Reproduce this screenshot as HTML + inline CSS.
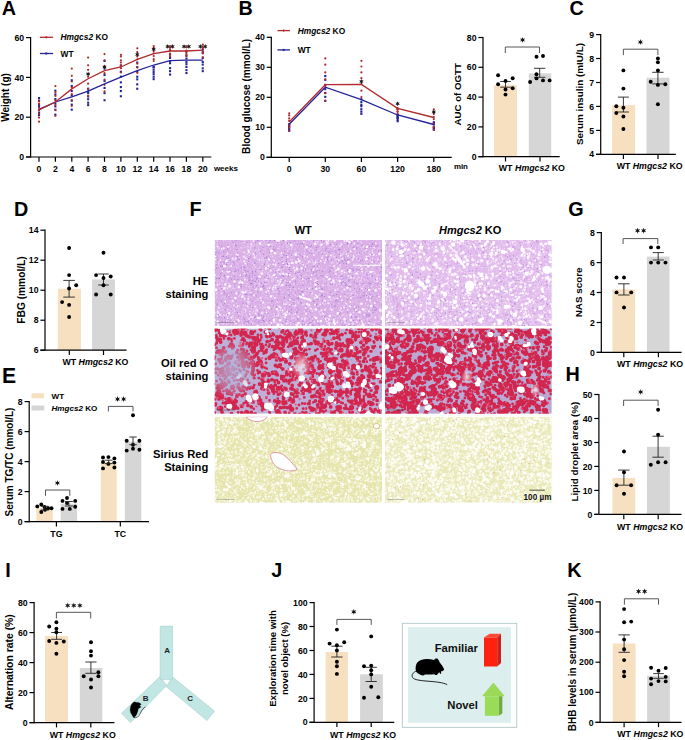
<!DOCTYPE html>
<html><head><meta charset="utf-8"><style>
html,body{margin:0;padding:0;background:#fff;width:685px;height:740px;overflow:hidden}
svg{display:block}
text{font-family:'Liberation Sans',sans-serif}
</style></head><body>
<svg width="685" height="740" viewBox="0 0 685 740">
<rect width="685" height="740" fill="#fff"/>
<text x="1.8" y="15.2" font-size="19.8" text-anchor="start" font-weight="bold" fill="#000" style="" >A</text>
<line x1="30.6" y1="37" x2="30.6" y2="157.6" stroke="#000" stroke-width="1.2"/>
<line x1="26" y1="37.6" x2="30.6" y2="37.6" stroke="#000" stroke-width="1.2"/>
<text x="24.1" y="40.7" font-size="8.7" text-anchor="end" font-weight="bold" fill="#000" style="" >60</text>
<line x1="26" y1="77.4" x2="30.6" y2="77.4" stroke="#000" stroke-width="1.2"/>
<text x="24.1" y="80.5" font-size="8.7" text-anchor="end" font-weight="bold" fill="#000" style="" >40</text>
<line x1="26" y1="117.2" x2="30.6" y2="117.2" stroke="#000" stroke-width="1.2"/>
<text x="24.1" y="120.3" font-size="8.7" text-anchor="end" font-weight="bold" fill="#000" style="" >20</text>
<line x1="26" y1="157" x2="30.6" y2="157" stroke="#000" stroke-width="1.2"/>
<text x="24.1" y="160.1" font-size="8.7" text-anchor="end" font-weight="bold" fill="#000" style="" >0</text>
<line x1="26" y1="157" x2="211.3" y2="157" stroke="#000" stroke-width="1.2"/>
<line x1="39" y1="157" x2="39" y2="161.8" stroke="#000" stroke-width="1.2"/>
<line x1="55.4" y1="157" x2="55.4" y2="161.8" stroke="#000" stroke-width="1.2"/>
<line x1="71.8" y1="157" x2="71.8" y2="161.8" stroke="#000" stroke-width="1.2"/>
<line x1="88.1" y1="157" x2="88.1" y2="161.8" stroke="#000" stroke-width="1.2"/>
<line x1="104.5" y1="157" x2="104.5" y2="161.8" stroke="#000" stroke-width="1.2"/>
<line x1="120.9" y1="157" x2="120.9" y2="161.8" stroke="#000" stroke-width="1.2"/>
<line x1="137.3" y1="157" x2="137.3" y2="161.8" stroke="#000" stroke-width="1.2"/>
<line x1="153.7" y1="157" x2="153.7" y2="161.8" stroke="#000" stroke-width="1.2"/>
<line x1="170" y1="157" x2="170" y2="161.8" stroke="#000" stroke-width="1.2"/>
<line x1="186.4" y1="157" x2="186.4" y2="161.8" stroke="#000" stroke-width="1.2"/>
<line x1="202.8" y1="157" x2="202.8" y2="161.8" stroke="#000" stroke-width="1.2"/>
<text x="39" y="172.2" font-size="8.7" text-anchor="middle" font-weight="bold" fill="#000" style="" >0</text>
<text x="55.4" y="172.2" font-size="8.7" text-anchor="middle" font-weight="bold" fill="#000" style="" >2</text>
<text x="71.8" y="172.2" font-size="8.7" text-anchor="middle" font-weight="bold" fill="#000" style="" >4</text>
<text x="88.1" y="172.2" font-size="8.7" text-anchor="middle" font-weight="bold" fill="#000" style="" >6</text>
<text x="104.5" y="172.2" font-size="8.7" text-anchor="middle" font-weight="bold" fill="#000" style="" >8</text>
<text x="120.9" y="172.2" font-size="8.7" text-anchor="middle" font-weight="bold" fill="#000" style="" >10</text>
<text x="137.3" y="172.2" font-size="8.7" text-anchor="middle" font-weight="bold" fill="#000" style="" >12</text>
<text x="153.7" y="172.2" font-size="8.7" text-anchor="middle" font-weight="bold" fill="#000" style="" >14</text>
<text x="170" y="172.2" font-size="8.7" text-anchor="middle" font-weight="bold" fill="#000" style="" >16</text>
<text x="186.4" y="172.2" font-size="8.7" text-anchor="middle" font-weight="bold" fill="#000" style="" >18</text>
<text x="202.8" y="172.2" font-size="8.7" text-anchor="middle" font-weight="bold" fill="#000" style="" >20</text>
<text x="213.9" y="170.8" font-size="8" text-anchor="start" font-weight="bold" fill="#000" style="" >weeks</text>
<text transform="translate(9.3,97.5) rotate(-90)" font-size="10" text-anchor="middle" font-weight="bold">Weight (g)</text>
<rect x="38" y="97" width="2.1" height="2.1" fill="#23239a"/>
<rect x="38" y="99.6" width="2.1" height="2.1" fill="#23239a"/>
<rect x="38" y="103.5" width="2.1" height="2.1" fill="#23239a"/>
<rect x="38" y="105.2" width="2.1" height="2.1" fill="#23239a"/>
<rect x="38" y="109.1" width="2.1" height="2.1" fill="#23239a"/>
<rect x="38" y="111.7" width="2.1" height="2.1" fill="#23239a"/>
<rect x="38" y="114" width="2.1" height="2.1" fill="#23239a"/>
<circle cx="39" cy="101.3" r="1.1" fill="#b02a2e"/>
<circle cx="39" cy="103.7" r="1.1" fill="#b02a2e"/>
<circle cx="39" cy="107.7" r="1.1" fill="#b02a2e"/>
<circle cx="39" cy="110.3" r="1.1" fill="#b02a2e"/>
<circle cx="39" cy="113.6" r="1.1" fill="#b02a2e"/>
<circle cx="39" cy="117.6" r="1.1" fill="#b02a2e"/>
<circle cx="39" cy="121.7" r="1.1" fill="#b02a2e"/>
<rect x="54.3" y="89.6" width="2.1" height="2.1" fill="#23239a"/>
<rect x="54.3" y="93.5" width="2.1" height="2.1" fill="#23239a"/>
<rect x="54.3" y="98" width="2.1" height="2.1" fill="#23239a"/>
<rect x="54.3" y="102.4" width="2.1" height="2.1" fill="#23239a"/>
<rect x="54.3" y="105.4" width="2.1" height="2.1" fill="#23239a"/>
<rect x="54.3" y="108.7" width="2.1" height="2.1" fill="#23239a"/>
<rect x="54.3" y="113.6" width="2.1" height="2.1" fill="#23239a"/>
<circle cx="55.4" cy="86.1" r="1.1" fill="#b02a2e"/>
<circle cx="55.4" cy="92.4" r="1.1" fill="#b02a2e"/>
<circle cx="55.4" cy="96" r="1.1" fill="#b02a2e"/>
<circle cx="55.4" cy="100.4" r="1.1" fill="#b02a2e"/>
<circle cx="55.4" cy="105" r="1.1" fill="#b02a2e"/>
<circle cx="55.4" cy="110.1" r="1.1" fill="#b02a2e"/>
<circle cx="55.4" cy="115.8" r="1.1" fill="#b02a2e"/>
<rect x="70.7" y="79.2" width="2.1" height="2.1" fill="#23239a"/>
<rect x="70.7" y="84.9" width="2.1" height="2.1" fill="#23239a"/>
<rect x="70.7" y="90" width="2.1" height="2.1" fill="#23239a"/>
<rect x="70.7" y="94.4" width="2.1" height="2.1" fill="#23239a"/>
<rect x="70.7" y="99.7" width="2.1" height="2.1" fill="#23239a"/>
<rect x="70.7" y="103.6" width="2.1" height="2.1" fill="#23239a"/>
<rect x="70.7" y="108.6" width="2.1" height="2.1" fill="#23239a"/>
<circle cx="71.8" cy="68.6" r="1.1" fill="#b02a2e"/>
<circle cx="71.8" cy="75.8" r="1.1" fill="#b02a2e"/>
<circle cx="71.8" cy="81.5" r="1.1" fill="#b02a2e"/>
<circle cx="71.8" cy="87.4" r="1.1" fill="#b02a2e"/>
<circle cx="71.8" cy="94.2" r="1.1" fill="#b02a2e"/>
<circle cx="71.8" cy="100.1" r="1.1" fill="#b02a2e"/>
<circle cx="71.8" cy="106" r="1.1" fill="#b02a2e"/>
<rect x="87.1" y="87.7" width="2.1" height="2.1" fill="#23239a"/>
<rect x="87.1" y="90.3" width="2.1" height="2.1" fill="#23239a"/>
<rect x="87.1" y="92.1" width="2.1" height="2.1" fill="#23239a"/>
<rect x="87.1" y="95.5" width="2.1" height="2.1" fill="#23239a"/>
<rect x="87.1" y="98.2" width="2.1" height="2.1" fill="#23239a"/>
<rect x="87.1" y="101.7" width="2.1" height="2.1" fill="#23239a"/>
<rect x="87.1" y="104.1" width="2.1" height="2.1" fill="#23239a"/>
<circle cx="88.1" cy="57.6" r="1.1" fill="#b02a2e"/>
<circle cx="88.1" cy="65.3" r="1.1" fill="#b02a2e"/>
<circle cx="88.1" cy="69.8" r="1.1" fill="#b02a2e"/>
<circle cx="88.1" cy="76.7" r="1.1" fill="#b02a2e"/>
<circle cx="88.1" cy="83.7" r="1.1" fill="#b02a2e"/>
<circle cx="88.1" cy="88.8" r="1.1" fill="#b02a2e"/>
<circle cx="88.1" cy="95.8" r="1.1" fill="#b02a2e"/>
<rect x="103.5" y="59.9" width="2.1" height="2.1" fill="#23239a"/>
<rect x="103.5" y="67.5" width="2.1" height="2.1" fill="#23239a"/>
<rect x="103.5" y="74" width="2.1" height="2.1" fill="#23239a"/>
<rect x="103.5" y="80" width="2.1" height="2.1" fill="#23239a"/>
<rect x="103.5" y="86.9" width="2.1" height="2.1" fill="#23239a"/>
<rect x="103.5" y="92.1" width="2.1" height="2.1" fill="#23239a"/>
<rect x="103.5" y="99.2" width="2.1" height="2.1" fill="#23239a"/>
<circle cx="104.5" cy="54.1" r="1.1" fill="#b02a2e"/>
<circle cx="104.5" cy="60.3" r="1.1" fill="#b02a2e"/>
<circle cx="104.5" cy="66.2" r="1.1" fill="#b02a2e"/>
<circle cx="104.5" cy="73.2" r="1.1" fill="#b02a2e"/>
<circle cx="104.5" cy="79.6" r="1.1" fill="#b02a2e"/>
<circle cx="104.5" cy="84.8" r="1.1" fill="#b02a2e"/>
<circle cx="104.5" cy="91.4" r="1.1" fill="#b02a2e"/>
<rect x="119.8" y="64.4" width="2.1" height="2.1" fill="#23239a"/>
<rect x="119.8" y="70.7" width="2.1" height="2.1" fill="#23239a"/>
<rect x="119.8" y="75.6" width="2.1" height="2.1" fill="#23239a"/>
<rect x="119.8" y="81.3" width="2.1" height="2.1" fill="#23239a"/>
<rect x="119.8" y="86" width="2.1" height="2.1" fill="#23239a"/>
<rect x="119.8" y="90" width="2.1" height="2.1" fill="#23239a"/>
<rect x="119.8" y="95.2" width="2.1" height="2.1" fill="#23239a"/>
<circle cx="120.9" cy="54.8" r="1.1" fill="#b02a2e"/>
<circle cx="120.9" cy="56.5" r="1.1" fill="#b02a2e"/>
<circle cx="120.9" cy="60.3" r="1.1" fill="#b02a2e"/>
<circle cx="120.9" cy="62.6" r="1.1" fill="#b02a2e"/>
<circle cx="120.9" cy="65.4" r="1.1" fill="#b02a2e"/>
<circle cx="120.9" cy="68.2" r="1.1" fill="#b02a2e"/>
<circle cx="120.9" cy="72.5" r="1.1" fill="#b02a2e"/>
<rect x="136.2" y="61.5" width="2.1" height="2.1" fill="#23239a"/>
<rect x="136.2" y="66" width="2.1" height="2.1" fill="#23239a"/>
<rect x="136.2" y="70.5" width="2.1" height="2.1" fill="#23239a"/>
<rect x="136.2" y="75.7" width="2.1" height="2.1" fill="#23239a"/>
<rect x="136.2" y="78.3" width="2.1" height="2.1" fill="#23239a"/>
<rect x="136.2" y="83.3" width="2.1" height="2.1" fill="#23239a"/>
<rect x="136.2" y="87.7" width="2.1" height="2.1" fill="#23239a"/>
<circle cx="137.3" cy="48.3" r="1.1" fill="#b02a2e"/>
<circle cx="137.3" cy="52.2" r="1.1" fill="#b02a2e"/>
<circle cx="137.3" cy="56.4" r="1.1" fill="#b02a2e"/>
<circle cx="137.3" cy="59.3" r="1.1" fill="#b02a2e"/>
<circle cx="137.3" cy="63.7" r="1.1" fill="#b02a2e"/>
<circle cx="137.3" cy="67.6" r="1.1" fill="#b02a2e"/>
<circle cx="137.3" cy="72.8" r="1.1" fill="#b02a2e"/>
<rect x="152.6" y="65.8" width="2.1" height="2.1" fill="#23239a"/>
<rect x="152.6" y="66.3" width="2.1" height="2.1" fill="#23239a"/>
<rect x="152.6" y="68.6" width="2.1" height="2.1" fill="#23239a"/>
<rect x="152.6" y="70.9" width="2.1" height="2.1" fill="#23239a"/>
<rect x="152.6" y="73.1" width="2.1" height="2.1" fill="#23239a"/>
<rect x="152.6" y="75.7" width="2.1" height="2.1" fill="#23239a"/>
<rect x="152.6" y="78.1" width="2.1" height="2.1" fill="#23239a"/>
<circle cx="153.7" cy="46.1" r="1.1" fill="#b02a2e"/>
<circle cx="153.7" cy="47.9" r="1.1" fill="#b02a2e"/>
<circle cx="153.7" cy="51.1" r="1.1" fill="#b02a2e"/>
<circle cx="153.7" cy="53.3" r="1.1" fill="#b02a2e"/>
<circle cx="153.7" cy="56.1" r="1.1" fill="#b02a2e"/>
<circle cx="153.7" cy="59.2" r="1.1" fill="#b02a2e"/>
<circle cx="153.7" cy="61" r="1.1" fill="#b02a2e"/>
<rect x="169" y="53.5" width="2.1" height="2.1" fill="#23239a"/>
<rect x="169" y="56.9" width="2.1" height="2.1" fill="#23239a"/>
<rect x="169" y="60.2" width="2.1" height="2.1" fill="#23239a"/>
<rect x="169" y="62.2" width="2.1" height="2.1" fill="#23239a"/>
<rect x="169" y="67.1" width="2.1" height="2.1" fill="#23239a"/>
<rect x="169" y="70.1" width="2.1" height="2.1" fill="#23239a"/>
<rect x="169" y="73.5" width="2.1" height="2.1" fill="#23239a"/>
<circle cx="170" cy="46.4" r="1.1" fill="#b02a2e"/>
<circle cx="170" cy="47.5" r="1.1" fill="#b02a2e"/>
<circle cx="170" cy="49.4" r="1.1" fill="#b02a2e"/>
<circle cx="170" cy="50.7" r="1.1" fill="#b02a2e"/>
<circle cx="170" cy="53.6" r="1.1" fill="#b02a2e"/>
<circle cx="170" cy="54.3" r="1.1" fill="#b02a2e"/>
<circle cx="170" cy="56.2" r="1.1" fill="#b02a2e"/>
<rect x="185.4" y="54.7" width="2.1" height="2.1" fill="#23239a"/>
<rect x="185.4" y="57.5" width="2.1" height="2.1" fill="#23239a"/>
<rect x="185.4" y="60.8" width="2.1" height="2.1" fill="#23239a"/>
<rect x="185.4" y="63.1" width="2.1" height="2.1" fill="#23239a"/>
<rect x="185.4" y="65.9" width="2.1" height="2.1" fill="#23239a"/>
<rect x="185.4" y="69.1" width="2.1" height="2.1" fill="#23239a"/>
<rect x="185.4" y="72" width="2.1" height="2.1" fill="#23239a"/>
<circle cx="186.4" cy="46.3" r="1.1" fill="#b02a2e"/>
<circle cx="186.4" cy="47.3" r="1.1" fill="#b02a2e"/>
<circle cx="186.4" cy="50.6" r="1.1" fill="#b02a2e"/>
<circle cx="186.4" cy="51.7" r="1.1" fill="#b02a2e"/>
<circle cx="186.4" cy="52.4" r="1.1" fill="#b02a2e"/>
<circle cx="186.4" cy="54.2" r="1.1" fill="#b02a2e"/>
<circle cx="186.4" cy="56" r="1.1" fill="#b02a2e"/>
<rect x="201.7" y="48.7" width="2.1" height="2.1" fill="#23239a"/>
<rect x="201.7" y="51.9" width="2.1" height="2.1" fill="#23239a"/>
<rect x="201.7" y="57" width="2.1" height="2.1" fill="#23239a"/>
<rect x="201.7" y="60.9" width="2.1" height="2.1" fill="#23239a"/>
<rect x="201.7" y="63.5" width="2.1" height="2.1" fill="#23239a"/>
<rect x="201.7" y="67.3" width="2.1" height="2.1" fill="#23239a"/>
<rect x="201.7" y="70.1" width="2.1" height="2.1" fill="#23239a"/>
<circle cx="202.8" cy="44.6" r="1.1" fill="#b02a2e"/>
<circle cx="202.8" cy="46.9" r="1.1" fill="#b02a2e"/>
<circle cx="202.8" cy="48.6" r="1.1" fill="#b02a2e"/>
<circle cx="202.8" cy="51.5" r="1.1" fill="#b02a2e"/>
<circle cx="202.8" cy="52" r="1.1" fill="#b02a2e"/>
<circle cx="202.8" cy="53.5" r="1.1" fill="#b02a2e"/>
<circle cx="202.8" cy="57.2" r="1.1" fill="#b02a2e"/>
<polyline points="39,109.3 55.4,102 71.8,96.9 88.1,91.1 104.5,83.8 120.9,77.2 137.3,70.6 153.7,65 170,60.6 186.4,60.1 202.8,60.1" fill="none" stroke="#23239a" stroke-width="1.3"/>
<polyline points="39,109.8 55.4,102 71.8,88.9 88.1,78.7 104.5,70.7 120.9,67 137.3,59.4 153.7,53.6 170,51 186.4,51 202.8,50.1" fill="none" stroke="#b02a2e" stroke-width="1.3"/>
<path d="M88.1 71.4L87.6 72.9L85.9 72.6L87 73.9L85.9 75.2L87.6 74.9L88.1 76.4L88.7 74.9L90.3 75.2L89.3 73.9L90.3 72.6L88.7 72.9Z" fill="#151515"/>
<path d="M104.5 64.5L104 66L102.3 65.7L103.4 67L102.3 68.3L104 68L104.5 69.5L105.1 68L106.7 68.3L105.6 67L106.7 65.7L105.1 66Z" fill="#151515"/>
<path d="M137.3 52L136.7 53.5L135.1 53.2L136.2 54.5L135.1 55.8L136.7 55.5L137.3 57L137.8 55.5L139.5 55.8L138.4 54.5L139.5 53.2L137.8 53.5Z" fill="#151515"/>
<path d="M153.7 46.8L153.1 48.3L151.5 48L152.5 49.3L151.5 50.6L153.1 50.3L153.7 51.8L154.2 50.3L155.9 50.6L154.8 49.3L155.9 48L154.2 48.3Z" fill="#151515"/>
<path d="M167.6 44.1L167.1 45.6L165.4 45.3L166.5 46.6L165.4 47.9L167.1 47.6L167.6 49.1L168.2 47.6L169.8 47.9L168.7 46.6L169.8 45.3L168.2 45.6ZM172.4 44.1L171.9 45.6L170.2 45.3L171.3 46.6L170.2 47.9L171.9 47.6L172.4 49.1L173 47.6L174.7 47.9L173.6 46.6L174.7 45.3L173 45.6Z" fill="#151515"/>
<path d="M184 44.1L183.5 45.6L181.8 45.3L182.9 46.6L181.8 47.9L183.5 47.6L184 49.1L184.6 47.6L186.2 47.9L185.1 46.6L186.2 45.3L184.6 45.6ZM188.8 44.1L188.3 45.6L186.6 45.3L187.7 46.6L186.6 47.9L188.3 47.6L188.8 49.1L189.4 47.6L191 47.9L189.9 46.6L191 45.3L189.4 45.6Z" fill="#151515"/>
<path d="M200.4 44.1L199.8 45.6L198.2 45.3L199.3 46.6L198.2 47.9L199.8 47.6L200.4 49.1L200.9 47.6L202.6 47.9L201.5 46.6L202.6 45.3L200.9 45.6ZM205.2 44.1L204.7 45.6L203 45.3L204.1 46.6L203 47.9L204.7 47.6L205.2 49.1L205.8 47.6L207.4 47.9L206.3 46.6L207.4 45.3L205.8 45.6Z" fill="#151515"/>
<line x1="39.9" y1="37.3" x2="53.1" y2="37.3" stroke="#b02a2e" stroke-width="1.3"/>
<circle cx="46.3" cy="37.3" r="1.1" fill="#b02a2e"/>
<line x1="39.9" y1="53.5" x2="53.1" y2="53.5" stroke="#23239a" stroke-width="1.3"/>
<rect x="45.3" y="52.5" width="2" height="2" fill="#23239a"/>
<text x="60.5" y="40.3" font-size="8.4" font-weight="bold"><tspan font-style="italic">Hmgcs2</tspan> KO</text>
<text x="60.5" y="56.5" font-size="8.4" text-anchor="start" font-weight="bold" fill="#000" style="" >WT</text>
<text x="238.5" y="15" font-size="19.8" text-anchor="start" font-weight="bold" fill="#000" style="" >B</text>
<line x1="271.3" y1="36.7" x2="271.3" y2="157.9" stroke="#000" stroke-width="1.2"/>
<line x1="266.7" y1="37.3" x2="271.3" y2="37.3" stroke="#000" stroke-width="1.2"/>
<text x="264.8" y="40.4" font-size="8.7" text-anchor="end" font-weight="bold" fill="#000" style="" >40</text>
<line x1="266.7" y1="67.3" x2="271.3" y2="67.3" stroke="#000" stroke-width="1.2"/>
<text x="264.8" y="70.4" font-size="8.7" text-anchor="end" font-weight="bold" fill="#000" style="" >30</text>
<line x1="266.7" y1="97.3" x2="271.3" y2="97.3" stroke="#000" stroke-width="1.2"/>
<text x="264.8" y="100.4" font-size="8.7" text-anchor="end" font-weight="bold" fill="#000" style="" >20</text>
<line x1="266.7" y1="127.3" x2="271.3" y2="127.3" stroke="#000" stroke-width="1.2"/>
<text x="264.8" y="130.4" font-size="8.7" text-anchor="end" font-weight="bold" fill="#000" style="" >10</text>
<line x1="266.7" y1="157.3" x2="271.3" y2="157.3" stroke="#000" stroke-width="1.2"/>
<text x="264.8" y="160.4" font-size="8.7" text-anchor="end" font-weight="bold" fill="#000" style="" >0</text>
<line x1="266.5" y1="157.3" x2="451.7" y2="157.3" stroke="#000" stroke-width="1.2"/>
<line x1="289.2" y1="157.3" x2="289.2" y2="162.1" stroke="#000" stroke-width="1.2"/>
<line x1="325.3" y1="157.3" x2="325.3" y2="162.1" stroke="#000" stroke-width="1.2"/>
<line x1="361.4" y1="157.3" x2="361.4" y2="162.1" stroke="#000" stroke-width="1.2"/>
<line x1="397.6" y1="157.3" x2="397.6" y2="162.1" stroke="#000" stroke-width="1.2"/>
<line x1="433.8" y1="157.3" x2="433.8" y2="162.1" stroke="#000" stroke-width="1.2"/>
<text x="289.2" y="172.2" font-size="8.7" text-anchor="middle" font-weight="bold" fill="#000" style="" >0</text>
<text x="325.3" y="172.2" font-size="8.7" text-anchor="middle" font-weight="bold" fill="#000" style="" >30</text>
<text x="361.4" y="172.2" font-size="8.7" text-anchor="middle" font-weight="bold" fill="#000" style="" >60</text>
<text x="397.6" y="172.2" font-size="8.7" text-anchor="middle" font-weight="bold" fill="#000" style="" >120</text>
<text x="433.8" y="172.2" font-size="8.7" text-anchor="middle" font-weight="bold" fill="#000" style="" >180</text>
<text x="453.9" y="169" font-size="7.9" text-anchor="start" font-weight="bold" fill="#000" style="" >min</text>
<text transform="translate(249.5,96.4) rotate(-90)" font-size="10.1" text-anchor="middle" font-weight="bold">Blood glucose (mmol/L)</text>
<rect x="288.1" y="123.2" width="2.1" height="2.1" fill="#23239a"/>
<rect x="288.1" y="123.6" width="2.1" height="2.1" fill="#23239a"/>
<rect x="288.1" y="125.3" width="2.1" height="2.1" fill="#23239a"/>
<rect x="288.1" y="125.4" width="2.1" height="2.1" fill="#23239a"/>
<rect x="288.1" y="127.3" width="2.1" height="2.1" fill="#23239a"/>
<rect x="288.1" y="129" width="2.1" height="2.1" fill="#23239a"/>
<rect x="288.1" y="129.8" width="2.1" height="2.1" fill="#23239a"/>
<circle cx="289.2" cy="113.3" r="1.1" fill="#b02a2e"/>
<circle cx="289.2" cy="115.4" r="1.1" fill="#b02a2e"/>
<circle cx="289.2" cy="118.4" r="1.1" fill="#b02a2e"/>
<circle cx="289.2" cy="120.9" r="1.1" fill="#b02a2e"/>
<circle cx="289.2" cy="124.7" r="1.1" fill="#b02a2e"/>
<circle cx="289.2" cy="127.1" r="1.1" fill="#b02a2e"/>
<circle cx="289.2" cy="130.3" r="1.1" fill="#b02a2e"/>
<rect x="324.2" y="75" width="2.1" height="2.1" fill="#23239a"/>
<rect x="324.2" y="78.8" width="2.1" height="2.1" fill="#23239a"/>
<rect x="324.2" y="83.8" width="2.1" height="2.1" fill="#23239a"/>
<rect x="324.2" y="88.1" width="2.1" height="2.1" fill="#23239a"/>
<rect x="324.2" y="91.9" width="2.1" height="2.1" fill="#23239a"/>
<rect x="324.2" y="95.8" width="2.1" height="2.1" fill="#23239a"/>
<rect x="324.2" y="99.9" width="2.1" height="2.1" fill="#23239a"/>
<circle cx="325.3" cy="58.4" r="1.1" fill="#b02a2e"/>
<circle cx="325.3" cy="64.7" r="1.1" fill="#b02a2e"/>
<circle cx="325.3" cy="72.4" r="1.1" fill="#b02a2e"/>
<circle cx="325.3" cy="79.3" r="1.1" fill="#b02a2e"/>
<circle cx="325.3" cy="86" r="1.1" fill="#b02a2e"/>
<circle cx="325.3" cy="93.2" r="1.1" fill="#b02a2e"/>
<circle cx="325.3" cy="100.7" r="1.1" fill="#b02a2e"/>
<rect x="360.3" y="98.2" width="2.1" height="2.1" fill="#23239a"/>
<rect x="360.3" y="101.1" width="2.1" height="2.1" fill="#23239a"/>
<rect x="360.3" y="103.8" width="2.1" height="2.1" fill="#23239a"/>
<rect x="360.3" y="105.2" width="2.1" height="2.1" fill="#23239a"/>
<rect x="360.3" y="108.2" width="2.1" height="2.1" fill="#23239a"/>
<rect x="360.3" y="110.6" width="2.1" height="2.1" fill="#23239a"/>
<rect x="360.3" y="112.8" width="2.1" height="2.1" fill="#23239a"/>
<circle cx="361.4" cy="60.8" r="1.1" fill="#b02a2e"/>
<circle cx="361.4" cy="66.5" r="1.1" fill="#b02a2e"/>
<circle cx="361.4" cy="72.4" r="1.1" fill="#b02a2e"/>
<circle cx="361.4" cy="78.2" r="1.1" fill="#b02a2e"/>
<circle cx="361.4" cy="84.1" r="1.1" fill="#b02a2e"/>
<circle cx="361.4" cy="90.7" r="1.1" fill="#b02a2e"/>
<circle cx="361.4" cy="97" r="1.1" fill="#b02a2e"/>
<rect x="396.6" y="114" width="2.1" height="2.1" fill="#23239a"/>
<rect x="396.6" y="114.4" width="2.1" height="2.1" fill="#23239a"/>
<rect x="396.6" y="115.7" width="2.1" height="2.1" fill="#23239a"/>
<rect x="396.6" y="117" width="2.1" height="2.1" fill="#23239a"/>
<rect x="396.6" y="116.9" width="2.1" height="2.1" fill="#23239a"/>
<rect x="396.6" y="118.8" width="2.1" height="2.1" fill="#23239a"/>
<rect x="396.6" y="120.2" width="2.1" height="2.1" fill="#23239a"/>
<circle cx="397.6" cy="108" r="1.1" fill="#b02a2e"/>
<circle cx="397.6" cy="108.8" r="1.1" fill="#b02a2e"/>
<circle cx="397.6" cy="109.2" r="1.1" fill="#b02a2e"/>
<circle cx="397.6" cy="109.6" r="1.1" fill="#b02a2e"/>
<circle cx="397.6" cy="111.5" r="1.1" fill="#b02a2e"/>
<circle cx="397.6" cy="111.6" r="1.1" fill="#b02a2e"/>
<circle cx="397.6" cy="113.3" r="1.1" fill="#b02a2e"/>
<rect x="432.8" y="121.2" width="2.1" height="2.1" fill="#23239a"/>
<rect x="432.8" y="121.8" width="2.1" height="2.1" fill="#23239a"/>
<rect x="432.8" y="123.2" width="2.1" height="2.1" fill="#23239a"/>
<rect x="432.8" y="125.6" width="2.1" height="2.1" fill="#23239a"/>
<rect x="432.8" y="126.7" width="2.1" height="2.1" fill="#23239a"/>
<rect x="432.8" y="127.3" width="2.1" height="2.1" fill="#23239a"/>
<rect x="432.8" y="128.7" width="2.1" height="2.1" fill="#23239a"/>
<circle cx="433.8" cy="109.4" r="1.1" fill="#b02a2e"/>
<circle cx="433.8" cy="113.9" r="1.1" fill="#b02a2e"/>
<circle cx="433.8" cy="117" r="1.1" fill="#b02a2e"/>
<circle cx="433.8" cy="119.1" r="1.1" fill="#b02a2e"/>
<circle cx="433.8" cy="123.5" r="1.1" fill="#b02a2e"/>
<circle cx="433.8" cy="126.9" r="1.1" fill="#b02a2e"/>
<circle cx="433.8" cy="129.7" r="1.1" fill="#b02a2e"/>
<polyline points="289.2,124.2 325.3,87.2 361.4,99.6 397.6,115 433.8,124.5" fill="none" stroke="#23239a" stroke-width="1.3"/>
<polyline points="289.2,122 325.3,84.7 361.4,84.5 397.6,108.4 433.8,117.5" fill="none" stroke="#b02a2e" stroke-width="1.3"/>
<path d="M361.4 78.9L360.8 80.4L359.2 80.1L360.3 81.4L359.2 82.7L360.8 82.4L361.4 83.9L362 82.4L363.6 82.7L362.5 81.4L363.6 80.1L362 80.4Z" fill="#151515"/>
<path d="M397.6 101.2L397 102.7L395.4 102.4L396.5 103.7L395.4 105L397 104.7L397.6 106.2L398.2 104.7L399.8 105L398.7 103.7L399.8 102.4L398.2 102.7Z" fill="#151515"/>
<path d="M433.8 109.4L433.2 110.9L431.6 110.6L432.7 111.9L431.6 113.2L433.2 112.9L433.8 114.4L434.4 112.9L436 113.2L434.9 111.9L436 110.6L434.4 110.9Z" fill="#151515"/>
<line x1="277.5" y1="30.6" x2="290" y2="30.6" stroke="#b02a2e" stroke-width="1.3"/>
<circle cx="283.7" cy="30.6" r="1.1" fill="#b02a2e"/>
<line x1="277.5" y1="49.9" x2="290" y2="49.9" stroke="#23239a" stroke-width="1.3"/>
<rect x="282.7" y="48.9" width="2" height="2" fill="#23239a"/>
<text x="297.7" y="33.6" font-size="8.4" font-weight="bold"><tspan font-style="italic">Hmgcs2</tspan> KO</text>
<text x="297.7" y="52.7" font-size="8.4" text-anchor="start" font-weight="bold" fill="#000" style="" >WT</text>
<line x1="483" y1="36.9" x2="483" y2="157.3" stroke="#000" stroke-width="1.2"/>
<line x1="478.4" y1="37.5" x2="483" y2="37.5" stroke="#000" stroke-width="1.2"/>
<text x="476.5" y="40.6" font-size="8.7" text-anchor="end" font-weight="bold" fill="#000" style="" >80</text>
<line x1="478.4" y1="67.3" x2="483" y2="67.3" stroke="#000" stroke-width="1.2"/>
<text x="476.5" y="70.4" font-size="8.7" text-anchor="end" font-weight="bold" fill="#000" style="" >60</text>
<line x1="478.4" y1="97.1" x2="483" y2="97.1" stroke="#000" stroke-width="1.2"/>
<text x="476.5" y="100.2" font-size="8.7" text-anchor="end" font-weight="bold" fill="#000" style="" >40</text>
<line x1="478.4" y1="126.9" x2="483" y2="126.9" stroke="#000" stroke-width="1.2"/>
<text x="476.5" y="130" font-size="8.7" text-anchor="end" font-weight="bold" fill="#000" style="" >20</text>
<line x1="478.4" y1="156.7" x2="483" y2="156.7" stroke="#000" stroke-width="1.2"/>
<text x="476.5" y="159.8" font-size="8.7" text-anchor="end" font-weight="bold" fill="#000" style="" >0</text>
<rect x="494" y="85.2" width="23" height="71.5" fill="#f6e0c0"/>
<rect x="528.8" y="73.3" width="22.4" height="83.4" fill="#d6d6d6"/>
<line x1="478.4" y1="156.7" x2="559.7" y2="156.7" stroke="#000" stroke-width="1.2"/>
<line x1="505.5" y1="156.7" x2="505.5" y2="161.5" stroke="#000" stroke-width="1.2"/>
<line x1="540" y1="156.7" x2="540" y2="161.5" stroke="#000" stroke-width="1.2"/>
<line x1="505.5" y1="81.5" x2="505.5" y2="87.2" stroke="#222" stroke-width="0.9"/>
<line x1="500.2" y1="81.5" x2="510.8" y2="81.5" stroke="#222" stroke-width="0.9"/>
<line x1="500.2" y1="87.2" x2="510.8" y2="87.2" stroke="#222" stroke-width="0.9"/>
<line x1="539.7" y1="68.3" x2="539.7" y2="77.3" stroke="#222" stroke-width="0.9"/>
<line x1="534" y1="68.3" x2="545.4" y2="68.3" stroke="#222" stroke-width="0.9"/>
<line x1="534" y1="77.3" x2="545.4" y2="77.3" stroke="#222" stroke-width="0.9"/>
<circle cx="498.1" cy="75.2" r="1.95"/>
<circle cx="512.7" cy="78.2" r="1.95"/>
<circle cx="505.5" cy="80.9" r="1.95"/>
<circle cx="498.1" cy="84.2" r="1.95"/>
<circle cx="512.7" cy="88.2" r="1.95"/>
<circle cx="505.5" cy="89.5" r="1.95"/>
<circle cx="505.5" cy="94.6" r="1.95"/>
<circle cx="536.5" cy="56.8" r="1.95"/>
<circle cx="543" cy="56" r="1.95"/>
<circle cx="536.5" cy="74.3" r="1.95"/>
<circle cx="536.5" cy="78.4" r="1.95"/>
<circle cx="530.1" cy="82" r="1.95"/>
<circle cx="543" cy="80.4" r="1.95"/>
<circle cx="549.6" cy="80.4" r="1.95"/>
<path d="M505.3 53V47H539.5V53" fill="none" stroke="#444" stroke-width="0.9"/>
<path d="M522.6 36.9L522 38.8L520 38.4L521.3 39.9L520 41.4L522 41L522.6 42.9L523.2 41L525.2 41.4L523.9 39.9L525.2 38.4L523.2 38.8Z" fill="#151515"/>
<text x="505.5" y="171" font-size="8.8" text-anchor="middle" font-weight="bold" fill="#000" style="" >WT</text>
<text x="540" y="171" font-size="8.8" text-anchor="middle" font-weight="bold"><tspan font-style="italic">Hmgcs2</tspan> KO</text>
<text transform="translate(461.3,94.3) rotate(-90)" font-size="9.7" text-anchor="middle" font-weight="bold">AUC of OGTT</text>
<text x="569.5" y="15" font-size="19.8" text-anchor="start" font-weight="bold" fill="#000" style="" >C</text>
<line x1="600.7" y1="34" x2="600.7" y2="154.9" stroke="#000" stroke-width="1.2"/>
<line x1="596.1" y1="34.6" x2="600.7" y2="34.6" stroke="#000" stroke-width="1.2"/>
<text x="594.2" y="37.7" font-size="8.7" text-anchor="end" font-weight="bold" fill="#000" style="" >9</text>
<line x1="596.1" y1="58.5" x2="600.7" y2="58.5" stroke="#000" stroke-width="1.2"/>
<text x="594.2" y="61.6" font-size="8.7" text-anchor="end" font-weight="bold" fill="#000" style="" >8</text>
<line x1="596.1" y1="82.5" x2="600.7" y2="82.5" stroke="#000" stroke-width="1.2"/>
<text x="594.2" y="85.6" font-size="8.7" text-anchor="end" font-weight="bold" fill="#000" style="" >7</text>
<line x1="596.1" y1="106.4" x2="600.7" y2="106.4" stroke="#000" stroke-width="1.2"/>
<text x="594.2" y="109.5" font-size="8.7" text-anchor="end" font-weight="bold" fill="#000" style="" >6</text>
<line x1="596.1" y1="130.4" x2="600.7" y2="130.4" stroke="#000" stroke-width="1.2"/>
<text x="594.2" y="133.5" font-size="8.7" text-anchor="end" font-weight="bold" fill="#000" style="" >5</text>
<line x1="596.1" y1="154.3" x2="600.7" y2="154.3" stroke="#000" stroke-width="1.2"/>
<text x="594.2" y="157.4" font-size="8.7" text-anchor="end" font-weight="bold" fill="#000" style="" >4</text>
<rect x="612.1" y="105.2" width="23" height="49.1" fill="#f6e0c0"/>
<rect x="646.5" y="77.7" width="23" height="76.6" fill="#d6d6d6"/>
<line x1="596.1" y1="154.3" x2="675.8" y2="154.3" stroke="#000" stroke-width="1.2"/>
<line x1="623.4" y1="154.3" x2="623.4" y2="159.1" stroke="#000" stroke-width="1.2"/>
<line x1="658" y1="154.3" x2="658" y2="159.1" stroke="#000" stroke-width="1.2"/>
<line x1="623.4" y1="97.1" x2="623.4" y2="112" stroke="#222" stroke-width="0.9"/>
<line x1="617.9" y1="97.1" x2="628.9" y2="97.1" stroke="#222" stroke-width="0.9"/>
<line x1="617.9" y1="112" x2="628.9" y2="112" stroke="#222" stroke-width="0.9"/>
<line x1="657.9" y1="72.3" x2="657.9" y2="83.9" stroke="#222" stroke-width="0.9"/>
<line x1="652.2" y1="72.3" x2="663.6" y2="72.3" stroke="#222" stroke-width="0.9"/>
<line x1="652.2" y1="83.9" x2="663.6" y2="83.9" stroke="#222" stroke-width="0.9"/>
<circle cx="623.4" cy="70.4" r="1.95"/>
<circle cx="623.4" cy="88.6" r="1.95"/>
<circle cx="616.3" cy="106.3" r="1.95"/>
<circle cx="623.4" cy="107.7" r="1.95"/>
<circle cx="616.3" cy="113" r="1.95"/>
<circle cx="623.4" cy="116.5" r="1.95"/>
<circle cx="623.4" cy="129" r="1.95"/>
<circle cx="657.9" cy="58.4" r="1.95"/>
<circle cx="657.9" cy="62.2" r="1.95"/>
<circle cx="657.9" cy="70.4" r="1.95"/>
<circle cx="650.7" cy="81.8" r="1.95"/>
<circle cx="657.9" cy="84.9" r="1.95"/>
<circle cx="665.3" cy="84.2" r="1.95"/>
<circle cx="657.9" cy="104.2" r="1.95"/>
<path d="M623.4 55.1V49.2H657.9V55.1" fill="none" stroke="#444" stroke-width="0.9"/>
<path d="M640.4 39.1L639.8 41L637.8 40.6L639.1 42.1L637.8 43.6L639.8 43.2L640.4 45.1L641 43.2L643 43.6L641.7 42.1L643 40.6L641 41Z" fill="#151515"/>
<text x="623.5" y="168.9" font-size="8.8" text-anchor="middle" font-weight="bold" fill="#000" style="" >WT</text>
<text x="657.7" y="168.9" font-size="8.8" text-anchor="middle" font-weight="bold"><tspan font-style="italic">Hmgcs2</tspan> KO</text>
<text transform="translate(583.3,94) rotate(-90)" font-size="9.9" text-anchor="middle" font-weight="bold">Serum insulin (mIU/L)</text>
<text x="14" y="215.8" font-size="19.8" text-anchor="start" font-weight="bold" fill="#000" style="" >D</text>
<line x1="45" y1="229.6" x2="45" y2="350.8" stroke="#000" stroke-width="1.2"/>
<line x1="40.4" y1="230.2" x2="45" y2="230.2" stroke="#000" stroke-width="1.2"/>
<text x="38.5" y="233.3" font-size="8.7" text-anchor="end" font-weight="bold" fill="#000" style="" >14</text>
<line x1="40.4" y1="260.2" x2="45" y2="260.2" stroke="#000" stroke-width="1.2"/>
<text x="38.5" y="263.3" font-size="8.7" text-anchor="end" font-weight="bold" fill="#000" style="" >12</text>
<line x1="40.4" y1="290.2" x2="45" y2="290.2" stroke="#000" stroke-width="1.2"/>
<text x="38.5" y="293.3" font-size="8.7" text-anchor="end" font-weight="bold" fill="#000" style="" >10</text>
<line x1="40.4" y1="320.2" x2="45" y2="320.2" stroke="#000" stroke-width="1.2"/>
<text x="38.5" y="323.3" font-size="8.7" text-anchor="end" font-weight="bold" fill="#000" style="" >8</text>
<line x1="40.4" y1="350.2" x2="45" y2="350.2" stroke="#000" stroke-width="1.2"/>
<text x="38.5" y="353.3" font-size="8.7" text-anchor="end" font-weight="bold" fill="#000" style="" >6</text>
<rect x="57.8" y="288.7" width="23.1" height="61.5" fill="#f6e0c0"/>
<rect x="92.1" y="279.4" width="22.8" height="70.8" fill="#d6d6d6"/>
<line x1="40.4" y1="350.2" x2="126.6" y2="350.2" stroke="#000" stroke-width="1.2"/>
<line x1="69.3" y1="350.2" x2="69.3" y2="355" stroke="#000" stroke-width="1.2"/>
<line x1="103.5" y1="350.2" x2="103.5" y2="355" stroke="#000" stroke-width="1.2"/>
<line x1="69.1" y1="280.4" x2="69.1" y2="297.1" stroke="#222" stroke-width="0.9"/>
<line x1="63.3" y1="280.4" x2="74.9" y2="280.4" stroke="#222" stroke-width="0.9"/>
<line x1="63.3" y1="297.1" x2="74.9" y2="297.1" stroke="#222" stroke-width="0.9"/>
<line x1="103.5" y1="274" x2="103.5" y2="285" stroke="#222" stroke-width="0.9"/>
<line x1="98.2" y1="274" x2="108.8" y2="274" stroke="#222" stroke-width="0.9"/>
<line x1="98.2" y1="285" x2="108.8" y2="285" stroke="#222" stroke-width="0.9"/>
<circle cx="69.1" cy="248" r="1.95"/>
<circle cx="69.1" cy="275.1" r="1.95"/>
<circle cx="76.2" cy="285.3" r="1.95"/>
<circle cx="69.1" cy="288.5" r="1.95"/>
<circle cx="62.1" cy="302.1" r="1.95"/>
<circle cx="69.1" cy="304.9" r="1.95"/>
<circle cx="69.1" cy="317" r="1.95"/>
<circle cx="103.5" cy="252.7" r="1.95"/>
<circle cx="96.1" cy="275.1" r="1.95"/>
<circle cx="110.7" cy="276.5" r="1.95"/>
<circle cx="103.5" cy="278" r="1.95"/>
<circle cx="103.5" cy="285.3" r="1.95"/>
<circle cx="96.1" cy="294.5" r="1.95"/>
<circle cx="110.7" cy="294.5" r="1.95"/>
<text x="69.3" y="365" font-size="8.8" text-anchor="middle" font-weight="bold" fill="#000" style="" >WT</text>
<text x="103.5" y="365" font-size="8.8" text-anchor="middle" font-weight="bold"><tspan font-style="italic">Hmgcs2</tspan> KO</text>
<text transform="translate(24.5,290) rotate(-90)" font-size="10.2" text-anchor="middle" font-weight="bold">FBG (mmol/L)</text>
<text x="2" y="382.6" font-size="21.2" text-anchor="start" font-weight="bold" fill="#000" style="" >E</text>
<line x1="29.2" y1="401" x2="29.2" y2="522.2" stroke="#000" stroke-width="1.2"/>
<line x1="24.6" y1="401.6" x2="29.2" y2="401.6" stroke="#000" stroke-width="1.2"/>
<text x="22.7" y="404.7" font-size="8.7" text-anchor="end" font-weight="bold" fill="#000" style="" >8</text>
<line x1="24.6" y1="431.6" x2="29.2" y2="431.6" stroke="#000" stroke-width="1.2"/>
<text x="22.7" y="434.7" font-size="8.7" text-anchor="end" font-weight="bold" fill="#000" style="" >6</text>
<line x1="24.6" y1="461.6" x2="29.2" y2="461.6" stroke="#000" stroke-width="1.2"/>
<text x="22.7" y="464.7" font-size="8.7" text-anchor="end" font-weight="bold" fill="#000" style="" >4</text>
<line x1="24.6" y1="491.6" x2="29.2" y2="491.6" stroke="#000" stroke-width="1.2"/>
<text x="22.7" y="494.7" font-size="8.7" text-anchor="end" font-weight="bold" fill="#000" style="" >2</text>
<line x1="24.6" y1="521.6" x2="29.2" y2="521.6" stroke="#000" stroke-width="1.2"/>
<text x="22.7" y="524.7" font-size="8.7" text-anchor="end" font-weight="bold" fill="#000" style="" >0</text>
<rect x="36.4" y="508.1" width="16.4" height="13.5" fill="#f6e0c0"/>
<rect x="60.6" y="503.6" width="16.5" height="18" fill="#d6d6d6"/>
<rect x="100.8" y="461.9" width="15.8" height="59.7" fill="#f6e0c0"/>
<rect x="124.8" y="441.7" width="16.5" height="79.9" fill="#d6d6d6"/>
<line x1="24.6" y1="521.6" x2="149" y2="521.6" stroke="#000" stroke-width="1.2"/>
<line x1="56.4" y1="521.6" x2="56.4" y2="526.4" stroke="#000" stroke-width="1.2"/>
<line x1="120.3" y1="521.6" x2="120.3" y2="526.4" stroke="#000" stroke-width="1.2"/>
<circle cx="41.3" cy="504.4" r="1.95"/>
<circle cx="37.3" cy="506.4" r="1.95"/>
<circle cx="44.5" cy="507" r="1.95"/>
<circle cx="48.2" cy="508.2" r="1.95"/>
<circle cx="51.5" cy="508.2" r="1.95"/>
<circle cx="41.3" cy="512" r="1.95"/>
<circle cx="45" cy="509.8" r="1.95"/>
<circle cx="67" cy="498" r="1.95"/>
<circle cx="62.5" cy="500.9" r="1.95"/>
<circle cx="75.2" cy="500.9" r="1.95"/>
<circle cx="67" cy="503.1" r="1.95"/>
<circle cx="62.5" cy="508.9" r="1.95"/>
<circle cx="69.8" cy="508.9" r="1.95"/>
<circle cx="75.2" cy="506.7" r="1.95"/>
<circle cx="103" cy="457.5" r="1.95"/>
<circle cx="108.4" cy="457.1" r="1.95"/>
<circle cx="114.4" cy="458.4" r="1.95"/>
<circle cx="103" cy="462" r="1.95"/>
<circle cx="114.4" cy="462.6" r="1.95"/>
<circle cx="108.4" cy="463.9" r="1.95"/>
<circle cx="103" cy="468.4" r="1.95"/>
<circle cx="114.4" cy="467.5" r="1.95"/>
<circle cx="133" cy="415.2" r="1.95"/>
<circle cx="126.7" cy="440.7" r="1.95"/>
<circle cx="139.4" cy="440.7" r="1.95"/>
<circle cx="133" cy="444.7" r="1.95"/>
<circle cx="126.7" cy="450.6" r="1.95"/>
<circle cx="133" cy="448.7" r="1.95"/>
<circle cx="139.4" cy="449.8" r="1.95"/>
<line x1="44.6" y1="506.3" x2="44.6" y2="510" stroke="#222" stroke-width="0.9"/>
<line x1="40.6" y1="506.3" x2="48.6" y2="506.3" stroke="#222" stroke-width="0.9"/>
<line x1="40.6" y1="510" x2="48.6" y2="510" stroke="#222" stroke-width="0.9"/>
<line x1="68.9" y1="501.5" x2="68.9" y2="506" stroke="#222" stroke-width="0.9"/>
<line x1="64.9" y1="501.5" x2="72.9" y2="501.5" stroke="#222" stroke-width="0.9"/>
<line x1="64.9" y1="506" x2="72.9" y2="506" stroke="#222" stroke-width="0.9"/>
<line x1="108.7" y1="460.2" x2="108.7" y2="463.6" stroke="#222" stroke-width="0.9"/>
<line x1="104.7" y1="460.2" x2="112.7" y2="460.2" stroke="#222" stroke-width="0.9"/>
<line x1="104.7" y1="463.6" x2="112.7" y2="463.6" stroke="#222" stroke-width="0.9"/>
<line x1="133" y1="437" x2="133" y2="444.7" stroke="#222" stroke-width="0.9"/>
<line x1="129.3" y1="437" x2="136.7" y2="437" stroke="#222" stroke-width="0.9"/>
<line x1="129.3" y1="444.7" x2="136.7" y2="444.7" stroke="#222" stroke-width="0.9"/>
<path d="M45.5 495.8V490H69.8V495.8" fill="none" stroke="#444" stroke-width="0.9"/>
<path d="M57.4 480L56.8 481.9L54.8 481.5L56.1 483L54.8 484.5L56.8 484.1L57.4 486L58 484.1L60 484.5L58.7 483L60 481.5L58 481.9Z" fill="#151515"/>
<path d="M108.4 411.5V406.4H133V411.5" fill="none" stroke="#444" stroke-width="0.9"/>
<path d="M117.5 396.1L116.9 398L115 397.6L116.3 399.1L115 400.6L116.9 400.2L117.5 402.1L118.2 400.2L120.1 400.6L118.8 399.1L120.1 397.6L118.2 398ZM123.6 396.1L123 398L121.1 397.6L122.4 399.1L121.1 400.6L123 400.2L123.6 402.1L124.3 400.2L126.2 400.6L124.9 399.1L126.2 397.6L124.3 398Z" fill="#151515"/>
<text x="56.4" y="536.5" font-size="8.8" text-anchor="middle" font-weight="bold" fill="#000" style="" >TG</text>
<text x="120.3" y="536.5" font-size="8.8" text-anchor="middle" font-weight="bold" fill="#000" style="" >TC</text>
<text transform="translate(13,462) rotate(-90)" font-size="10" text-anchor="middle" font-weight="bold">Serum TG/TC (mmol/L)</text>
<rect x="31.5" y="393.3" width="12.7" height="5" fill="#f6e0c0"/>
<rect x="31.5" y="405.5" width="12.7" height="5" fill="#d6d6d6"/>
<text x="51.5" y="399.3" font-size="8.1" text-anchor="start" font-weight="bold" fill="#000" style="" >WT</text>
<text x="51.5" y="410.8" font-size="8.1" font-weight="bold"><tspan font-style="italic">Hmgcs2</tspan> KO</text>
<text x="568.3" y="216" font-size="19.8" text-anchor="start" font-weight="bold" fill="#000" style="" >G</text>
<line x1="601.3" y1="232" x2="601.3" y2="353" stroke="#000" stroke-width="1.2"/>
<line x1="596.7" y1="232.6" x2="601.3" y2="232.6" stroke="#000" stroke-width="1.2"/>
<text x="594.8" y="235.7" font-size="8.7" text-anchor="end" font-weight="bold" fill="#000" style="" >8</text>
<line x1="596.7" y1="262.6" x2="601.3" y2="262.6" stroke="#000" stroke-width="1.2"/>
<text x="594.8" y="265.7" font-size="8.7" text-anchor="end" font-weight="bold" fill="#000" style="" >6</text>
<line x1="596.7" y1="292.5" x2="601.3" y2="292.5" stroke="#000" stroke-width="1.2"/>
<text x="594.8" y="295.6" font-size="8.7" text-anchor="end" font-weight="bold" fill="#000" style="" >4</text>
<line x1="596.7" y1="322.5" x2="601.3" y2="322.5" stroke="#000" stroke-width="1.2"/>
<text x="594.8" y="325.6" font-size="8.7" text-anchor="end" font-weight="bold" fill="#000" style="" >2</text>
<line x1="596.7" y1="352.4" x2="601.3" y2="352.4" stroke="#000" stroke-width="1.2"/>
<text x="594.8" y="355.5" font-size="8.7" text-anchor="end" font-weight="bold" fill="#000" style="" >0</text>
<rect x="612.5" y="289.5" width="22.6" height="62.9" fill="#f6e0c0"/>
<rect x="646.9" y="256.6" width="22.6" height="95.8" fill="#d6d6d6"/>
<line x1="596.7" y1="352.4" x2="681.6" y2="352.4" stroke="#000" stroke-width="1.2"/>
<line x1="623.8" y1="352.4" x2="623.8" y2="357.2" stroke="#000" stroke-width="1.2"/>
<line x1="658.4" y1="352.4" x2="658.4" y2="357.2" stroke="#000" stroke-width="1.2"/>
<line x1="623.9" y1="283.8" x2="623.9" y2="295" stroke="#222" stroke-width="0.9"/>
<line x1="618.1" y1="283.8" x2="629.6" y2="283.8" stroke="#222" stroke-width="0.9"/>
<line x1="618.1" y1="295" x2="629.6" y2="295" stroke="#222" stroke-width="0.9"/>
<line x1="658.2" y1="252.6" x2="658.2" y2="260" stroke="#222" stroke-width="0.9"/>
<line x1="652.7" y1="252.6" x2="663.8" y2="252.6" stroke="#222" stroke-width="0.9"/>
<line x1="652.7" y1="260" x2="663.8" y2="260" stroke="#222" stroke-width="0.9"/>
<circle cx="616.5" cy="277.5" r="1.95"/>
<circle cx="624" cy="277.5" r="1.95"/>
<circle cx="616.5" cy="292.4" r="1.95"/>
<circle cx="631.2" cy="292.4" r="1.95"/>
<circle cx="624" cy="307.5" r="1.95"/>
<circle cx="651" cy="247.4" r="1.95"/>
<circle cx="658.2" cy="247.4" r="1.95"/>
<circle cx="651" cy="262.6" r="1.95"/>
<circle cx="658.2" cy="262.6" r="1.95"/>
<circle cx="665.5" cy="262.6" r="1.95"/>
<path d="M623.1 244V238.6H657.8V244" fill="none" stroke="#444" stroke-width="0.9"/>
<path d="M637.6 227.7L636.9 229.6L635 229.2L636.3 230.7L635 232.2L636.9 231.8L637.6 233.7L638.2 231.8L640.1 232.2L638.8 230.7L640.1 229.2L638.2 229.6ZM643.6 227.7L643 229.6L641.1 229.2L642.4 230.7L641.1 232.2L643 231.8L643.6 233.7L644.3 231.8L646.2 232.2L644.9 230.7L646.2 229.2L644.3 229.6Z" fill="#151515"/>
<text x="623.8" y="367" font-size="8.8" text-anchor="middle" font-weight="bold" fill="#000" style="" >WT</text>
<text x="658.2" y="367" font-size="8.8" text-anchor="middle" font-weight="bold"><tspan font-style="italic">Hmgcs2</tspan> KO</text>
<text transform="translate(581.5,292.4) rotate(-90)" font-size="9.85" text-anchor="middle" font-weight="bold">NAS score</text>
<text x="565.5" y="381.2" font-size="19.8" text-anchor="start" font-weight="bold" fill="#000" style="" >H</text>
<line x1="598.9" y1="393.9" x2="598.9" y2="515" stroke="#000" stroke-width="1.2"/>
<line x1="594.3" y1="394.5" x2="598.9" y2="394.5" stroke="#000" stroke-width="1.2"/>
<text x="592.4" y="397.6" font-size="8.7" text-anchor="end" font-weight="bold" fill="#000" style="" >50</text>
<line x1="594.3" y1="418.5" x2="598.9" y2="418.5" stroke="#000" stroke-width="1.2"/>
<text x="592.4" y="421.6" font-size="8.7" text-anchor="end" font-weight="bold" fill="#000" style="" >40</text>
<line x1="594.3" y1="442.5" x2="598.9" y2="442.5" stroke="#000" stroke-width="1.2"/>
<text x="592.4" y="445.6" font-size="8.7" text-anchor="end" font-weight="bold" fill="#000" style="" >30</text>
<line x1="594.3" y1="466.4" x2="598.9" y2="466.4" stroke="#000" stroke-width="1.2"/>
<text x="592.4" y="469.5" font-size="8.7" text-anchor="end" font-weight="bold" fill="#000" style="" >20</text>
<line x1="594.3" y1="490.4" x2="598.9" y2="490.4" stroke="#000" stroke-width="1.2"/>
<text x="592.4" y="493.5" font-size="8.7" text-anchor="end" font-weight="bold" fill="#000" style="" >10</text>
<line x1="594.3" y1="514.4" x2="598.9" y2="514.4" stroke="#000" stroke-width="1.2"/>
<text x="592.4" y="517.5" font-size="8.7" text-anchor="end" font-weight="bold" fill="#000" style="" >0</text>
<rect x="612.5" y="478" width="22.8" height="36.4" fill="#f6e0c0"/>
<rect x="646.9" y="446.8" width="23" height="67.6" fill="#d6d6d6"/>
<line x1="594.3" y1="514.4" x2="681.6" y2="514.4" stroke="#000" stroke-width="1.2"/>
<line x1="623.8" y1="514.4" x2="623.8" y2="519.2" stroke="#000" stroke-width="1.2"/>
<line x1="658.2" y1="514.4" x2="658.2" y2="519.2" stroke="#000" stroke-width="1.2"/>
<line x1="623.9" y1="470.1" x2="623.9" y2="485.2" stroke="#222" stroke-width="0.9"/>
<line x1="618.2" y1="470.1" x2="629.5" y2="470.1" stroke="#222" stroke-width="0.9"/>
<line x1="618.2" y1="485.2" x2="629.5" y2="485.2" stroke="#222" stroke-width="0.9"/>
<line x1="658.1" y1="436.2" x2="658.1" y2="457.2" stroke="#222" stroke-width="0.9"/>
<line x1="652.5" y1="436.2" x2="663.8" y2="436.2" stroke="#222" stroke-width="0.9"/>
<line x1="652.5" y1="457.2" x2="663.8" y2="457.2" stroke="#222" stroke-width="0.9"/>
<circle cx="624" cy="451.5" r="1.95"/>
<circle cx="624" cy="472.3" r="1.95"/>
<circle cx="616.6" cy="485.2" r="1.95"/>
<circle cx="631.1" cy="485.2" r="1.95"/>
<circle cx="624" cy="493.7" r="1.95"/>
<circle cx="658.1" cy="409.8" r="1.95"/>
<circle cx="658.1" cy="434.7" r="1.95"/>
<circle cx="658.1" cy="462.2" r="1.95"/>
<circle cx="650.8" cy="464.7" r="1.95"/>
<circle cx="665.6" cy="462.3" r="1.95"/>
<path d="M623.6 406V400.2H658.1V406" fill="none" stroke="#444" stroke-width="0.9"/>
<path d="M640.7 389L640.1 390.9L638.1 390.5L639.4 392L638.1 393.5L640.1 393.1L640.7 395L641.3 393.1L643.3 393.5L642 392L643.3 390.5L641.3 390.9Z" fill="#151515"/>
<text x="623.8" y="529.8" font-size="8.8" text-anchor="middle" font-weight="bold" fill="#000" style="" >WT</text>
<text x="658.2" y="529.8" font-size="8.8" text-anchor="middle" font-weight="bold"><tspan font-style="italic">Hmgcs2</tspan> KO</text>
<text transform="translate(577.5,451.7) rotate(-90)" font-size="9.75" text-anchor="middle" font-weight="bold">Lipid droplet area (%)</text>
<text x="5.2" y="576.6" font-size="19.8" text-anchor="start" font-weight="bold" fill="#000" style="" >I</text>
<line x1="34.1" y1="602" x2="34.1" y2="723.2" stroke="#000" stroke-width="1.2"/>
<line x1="29.5" y1="602.6" x2="34.1" y2="602.6" stroke="#000" stroke-width="1.2"/>
<text x="27.6" y="605.7" font-size="8.7" text-anchor="end" font-weight="bold" fill="#000" style="" >80</text>
<line x1="29.5" y1="632.6" x2="34.1" y2="632.6" stroke="#000" stroke-width="1.2"/>
<text x="27.6" y="635.7" font-size="8.7" text-anchor="end" font-weight="bold" fill="#000" style="" >60</text>
<line x1="29.5" y1="662.6" x2="34.1" y2="662.6" stroke="#000" stroke-width="1.2"/>
<text x="27.6" y="665.7" font-size="8.7" text-anchor="end" font-weight="bold" fill="#000" style="" >40</text>
<line x1="29.5" y1="692.6" x2="34.1" y2="692.6" stroke="#000" stroke-width="1.2"/>
<text x="27.6" y="695.7" font-size="8.7" text-anchor="end" font-weight="bold" fill="#000" style="" >20</text>
<line x1="29.5" y1="722.6" x2="34.1" y2="722.6" stroke="#000" stroke-width="1.2"/>
<text x="27.6" y="725.7" font-size="8.7" text-anchor="end" font-weight="bold" fill="#000" style="" >0</text>
<rect x="45.1" y="636" width="22.9" height="86.6" fill="#f6e0c0"/>
<rect x="79.8" y="668" width="22.5" height="54.6" fill="#d6d6d6"/>
<line x1="29.5" y1="722.6" x2="114.4" y2="722.6" stroke="#000" stroke-width="1.2"/>
<line x1="56.5" y1="722.6" x2="56.5" y2="727.4" stroke="#000" stroke-width="1.2"/>
<line x1="90.8" y1="722.6" x2="90.8" y2="727.4" stroke="#000" stroke-width="1.2"/>
<line x1="56.6" y1="632.5" x2="56.6" y2="639.3" stroke="#222" stroke-width="0.9"/>
<line x1="51.2" y1="632.5" x2="62" y2="632.5" stroke="#222" stroke-width="0.9"/>
<line x1="51.2" y1="639.3" x2="62" y2="639.3" stroke="#222" stroke-width="0.9"/>
<line x1="90.9" y1="662" x2="90.9" y2="673.3" stroke="#222" stroke-width="0.9"/>
<line x1="85.3" y1="662" x2="96.5" y2="662" stroke="#222" stroke-width="0.9"/>
<line x1="85.3" y1="673.3" x2="96.5" y2="673.3" stroke="#222" stroke-width="0.9"/>
<circle cx="56.4" cy="622.2" r="1.95"/>
<circle cx="49.2" cy="626.5" r="1.95"/>
<circle cx="56.4" cy="628.7" r="1.95"/>
<circle cx="56.4" cy="632.2" r="1.95"/>
<circle cx="49.2" cy="641" r="1.95"/>
<circle cx="56.4" cy="642.9" r="1.95"/>
<circle cx="63.8" cy="641.5" r="1.95"/>
<circle cx="56.4" cy="653.7" r="1.95"/>
<circle cx="91" cy="642.3" r="1.95"/>
<circle cx="91" cy="651.3" r="1.95"/>
<circle cx="91" cy="655.6" r="1.95"/>
<circle cx="98.4" cy="672.3" r="1.95"/>
<circle cx="83.7" cy="676.2" r="1.95"/>
<circle cx="98.4" cy="676.2" r="1.95"/>
<circle cx="91" cy="679.5" r="1.95"/>
<circle cx="91" cy="687.5" r="1.95"/>
<path d="M56.4 618.5V612.3H90.7V618.5" fill="none" stroke="#444" stroke-width="0.9"/>
<path d="M67.7 602.5L67.1 604.4L65.1 604L66.4 605.5L65.1 607L67.1 606.6L67.7 608.5L68.3 606.6L70.3 607L69 605.5L70.3 604L68.3 604.4ZM73.8 602.5L73.2 604.4L71.2 604L72.5 605.5L71.2 607L73.2 606.6L73.8 608.5L74.4 606.6L76.4 607L75.1 605.5L76.4 604L74.4 604.4ZM79.9 602.5L79.3 604.4L77.3 604L78.6 605.5L77.3 607L79.3 606.6L79.9 608.5L80.5 606.6L82.5 607L81.2 605.5L82.5 604L80.5 604.4Z" fill="#151515"/>
<text x="56.5" y="738" font-size="8.8" text-anchor="middle" font-weight="bold" fill="#000" style="" >WT</text>
<text x="90.8" y="738" font-size="8.8" text-anchor="middle" font-weight="bold"><tspan font-style="italic">Hmgcs2</tspan> KO</text>
<text transform="translate(12.5,662.1) rotate(-90)" font-size="10.4" text-anchor="middle" font-weight="bold">Alternation rate (%)</text>
<polygon points="160.1,676.5 166.6,685.5 130.5,722.6 121.5,713.2" fill="#c1e6e3" stroke="#9fcac6" stroke-width="0.5"/>
<polygon points="172.7,677 214.6,711.2 207,720.6 166,686.5" fill="#c1e6e3" stroke="#9fcac6" stroke-width="0.5"/>
<rect x="160.1" y="626.1" width="12.5" height="53.5" rx="1" fill="#c1e6e3" stroke="#9fcac6" stroke-width="0.5"/>
<text x="167.1" y="653" font-size="8" text-anchor="middle" font-weight="bold" fill="#222" style="" >A</text>
<text x="145.7" y="701.1" font-size="8" text-anchor="middle" font-weight="bold" fill="#222" style="" >B</text>
<text x="190.1" y="701.1" font-size="8" text-anchor="middle" font-weight="bold" fill="#222" style="" >C</text>
<polygon points="133.3,702.6 134.1,701.9 135.1,702.1 136.7,702.4 138.4,702.6 140.2,703.3 141.1,704.4 140.2,705.3 139.4,705.8 141.1,707.1 139.7,707.7 138.3,708.8 137.7,711.6 136.6,714.5 135.1,716.6 133.6,717.4 132.4,715.8 130.8,713.1 130.1,710.1 130.5,706.8 131.8,704.1" fill="#000" stroke="#000" stroke-width="0.3" stroke-linejoin="round"/>
<path d="M133.6,717.3 L135.5,717.8 L137.6,717.0 L139.1,715.4 L140.5,713.1 L141.6,710.7 L143.1,708.7 L145.4,706.9" fill="none" stroke="#000" stroke-width="0.6" stroke-linejoin="round"/>
<text x="271.2" y="576.8" font-size="19.8" text-anchor="start" font-weight="bold" fill="#000" style="" >J</text>
<line x1="314.1" y1="602" x2="314.1" y2="722.9" stroke="#000" stroke-width="1.2"/>
<line x1="309.5" y1="602.6" x2="314.1" y2="602.6" stroke="#000" stroke-width="1.2"/>
<text x="307.6" y="605.7" font-size="8.7" text-anchor="end" font-weight="bold" fill="#000" style="" >100</text>
<line x1="309.5" y1="626.5" x2="314.1" y2="626.5" stroke="#000" stroke-width="1.2"/>
<text x="307.6" y="629.6" font-size="8.7" text-anchor="end" font-weight="bold" fill="#000" style="" >80</text>
<line x1="309.5" y1="650.5" x2="314.1" y2="650.5" stroke="#000" stroke-width="1.2"/>
<text x="307.6" y="653.6" font-size="8.7" text-anchor="end" font-weight="bold" fill="#000" style="" >60</text>
<line x1="309.5" y1="674.4" x2="314.1" y2="674.4" stroke="#000" stroke-width="1.2"/>
<text x="307.6" y="677.5" font-size="8.7" text-anchor="end" font-weight="bold" fill="#000" style="" >40</text>
<line x1="309.5" y1="698.4" x2="314.1" y2="698.4" stroke="#000" stroke-width="1.2"/>
<text x="307.6" y="701.5" font-size="8.7" text-anchor="end" font-weight="bold" fill="#000" style="" >20</text>
<line x1="309.5" y1="722.3" x2="314.1" y2="722.3" stroke="#000" stroke-width="1.2"/>
<text x="307.6" y="725.4" font-size="8.7" text-anchor="end" font-weight="bold" fill="#000" style="" >0</text>
<rect x="325.6" y="652" width="22.3" height="70.3" fill="#f6e0c0"/>
<rect x="360.1" y="674.3" width="22.8" height="48" fill="#d6d6d6"/>
<line x1="309.5" y1="722.3" x2="394.3" y2="722.3" stroke="#000" stroke-width="1.2"/>
<line x1="336.9" y1="722.3" x2="336.9" y2="727.1" stroke="#000" stroke-width="1.2"/>
<line x1="371.2" y1="722.3" x2="371.2" y2="727.1" stroke="#000" stroke-width="1.2"/>
<line x1="336.9" y1="646.2" x2="336.9" y2="657" stroke="#222" stroke-width="0.9"/>
<line x1="331.3" y1="646.2" x2="342.5" y2="646.2" stroke="#222" stroke-width="0.9"/>
<line x1="331.3" y1="657" x2="342.5" y2="657" stroke="#222" stroke-width="0.9"/>
<line x1="371.2" y1="667.3" x2="371.2" y2="681.5" stroke="#222" stroke-width="0.9"/>
<line x1="365.6" y1="667.3" x2="376.8" y2="667.3" stroke="#222" stroke-width="0.9"/>
<line x1="365.6" y1="681.5" x2="376.8" y2="681.5" stroke="#222" stroke-width="0.9"/>
<circle cx="336.9" cy="629.6" r="1.95"/>
<circle cx="329.6" cy="643.6" r="1.95"/>
<circle cx="344.2" cy="642.3" r="1.95"/>
<circle cx="336.9" cy="645.3" r="1.95"/>
<circle cx="336.9" cy="650.4" r="1.95"/>
<circle cx="336.9" cy="661.7" r="1.95"/>
<circle cx="336.9" cy="666.3" r="1.95"/>
<circle cx="336.9" cy="673.9" r="1.95"/>
<circle cx="371.2" cy="636.4" r="1.95"/>
<circle cx="364" cy="666.3" r="1.95"/>
<circle cx="371.2" cy="665.6" r="1.95"/>
<circle cx="371.2" cy="670.2" r="1.95"/>
<circle cx="371.2" cy="674.4" r="1.95"/>
<circle cx="371.2" cy="686.7" r="1.95"/>
<circle cx="364" cy="697.7" r="1.95"/>
<circle cx="378.3" cy="697.2" r="1.95"/>
<path d="M336.9 624.9V619.4H371.2V624.9" fill="none" stroke="#444" stroke-width="0.9"/>
<path d="M353.8 608.8L353.2 610.7L351.2 610.3L352.5 611.8L351.2 613.3L353.2 612.9L353.8 614.8L354.4 612.9L356.4 613.3L355.1 611.8L356.4 610.3L354.4 610.7Z" fill="#151515"/>
<text x="336.9" y="737.6" font-size="8.8" text-anchor="middle" font-weight="bold" fill="#000" style="" >WT</text>
<text x="371.2" y="737.6" font-size="8.8" text-anchor="middle" font-weight="bold"><tspan font-style="italic">Hmgcs2</tspan> KO</text>
<text transform="translate(276,658.5) rotate(-90)" font-size="9.55" text-anchor="middle" font-weight="bold">Exploration time with</text>
<text transform="translate(288.2,658.5) rotate(-90)" font-size="9.55" text-anchor="middle" font-weight="bold">novel object (%)</text>
<rect x="402.3" y="623.3" width="114.5" height="104" fill="#fff" stroke="#a9c2c1" stroke-width="0.8"/>
<rect x="408" y="627.1" width="102.9" height="95.8" fill="#dcefee"/>
<text x="478" y="652" font-size="11.3" text-anchor="end" font-weight="bold" fill="#111" style="" >Familiar</text>
<text x="478" y="708.5" font-size="11.3" text-anchor="end" font-weight="bold" fill="#111" style="" >Novel</text>
<polygon points="484,637.5 489.7,633.7 501,633.7 497.2,637.5" fill="#ff4a36"/>
<polygon points="497.2,637.5 501,633.7 501,663 497.2,666.5" fill="#cc2114"/>
<rect x="484" y="637.5" width="13.2" height="29" fill="#ff2211"/>
<polygon points="482,696.3 493.4,682.5 504.8,696.3" fill="#9ad95a"/>
<polygon points="498.6,696.3 502.4,696.3 502.4,713.5 498.6,715.8" fill="#6fae3e"/>
<rect x="484.9" y="696.3" width="13.7" height="19.5" fill="#98dc58"/>
<path d="M416,671.5C414.8,666 416.5,661.5 421,660C425,658.6 430,659 434,660L435.6,658.6L437.4,658.6C438.5,659.8 439.2,661 439.4,662C441.5,664.5 443.4,667 444.2,669.6C443.5,670.8 442.3,671.4 441,671.6L441.2,673.8L440,673.8L439.5,672.3C438.5,673 437.5,674 437,675L435.2,675L434.5,674.3C431,674.6 427.5,674.6 425,674.5L423.5,675.6L421.5,675.3C419.5,674.5 417.2,673.3 416,671.5Z" fill="#000"/>
<path d="M416.8,671C413,672 411.2,675 412.6,677.5C414.5,680 420,680.5 428,681.2C436,681.8 443,682.5 447.2,684.6" fill="none" stroke="#000" stroke-width="0.85"/>
<text x="567.3" y="576.8" font-size="19.8" text-anchor="start" font-weight="bold" fill="#000" style="" >K</text>
<line x1="600.1" y1="601.3" x2="600.1" y2="723" stroke="#000" stroke-width="1.2"/>
<line x1="595.5" y1="601.9" x2="600.1" y2="601.9" stroke="#000" stroke-width="1.2"/>
<text x="593.6" y="605" font-size="8.7" text-anchor="end" font-weight="bold" fill="#000" style="" >400</text>
<line x1="595.5" y1="632" x2="600.1" y2="632" stroke="#000" stroke-width="1.2"/>
<text x="593.6" y="635.1" font-size="8.7" text-anchor="end" font-weight="bold" fill="#000" style="" >300</text>
<line x1="595.5" y1="662.2" x2="600.1" y2="662.2" stroke="#000" stroke-width="1.2"/>
<text x="593.6" y="665.3" font-size="8.7" text-anchor="end" font-weight="bold" fill="#000" style="" >200</text>
<line x1="595.5" y1="692.3" x2="600.1" y2="692.3" stroke="#000" stroke-width="1.2"/>
<text x="593.6" y="695.4" font-size="8.7" text-anchor="end" font-weight="bold" fill="#000" style="" >100</text>
<line x1="595.5" y1="722.4" x2="600.1" y2="722.4" stroke="#000" stroke-width="1.2"/>
<text x="593.6" y="725.5" font-size="8.7" text-anchor="end" font-weight="bold" fill="#000" style="" >0</text>
<rect x="612.8" y="643.5" width="22.7" height="78.9" fill="#f6e0c0"/>
<rect x="647.1" y="675.7" width="22.8" height="46.7" fill="#d6d6d6"/>
<line x1="595.5" y1="722.4" x2="681.6" y2="722.4" stroke="#000" stroke-width="1.2"/>
<line x1="624.1" y1="722.4" x2="624.1" y2="727.2" stroke="#000" stroke-width="1.2"/>
<line x1="658.5" y1="722.4" x2="658.5" y2="727.2" stroke="#000" stroke-width="1.2"/>
<line x1="624.1" y1="634.9" x2="624.1" y2="652.3" stroke="#222" stroke-width="0.9"/>
<line x1="618.5" y1="634.9" x2="629.8" y2="634.9" stroke="#222" stroke-width="0.9"/>
<line x1="618.5" y1="652.3" x2="629.8" y2="652.3" stroke="#222" stroke-width="0.9"/>
<line x1="658.5" y1="673.6" x2="658.5" y2="678.3" stroke="#222" stroke-width="0.9"/>
<line x1="653.2" y1="673.6" x2="663.8" y2="673.6" stroke="#222" stroke-width="0.9"/>
<line x1="653.2" y1="678.3" x2="663.8" y2="678.3" stroke="#222" stroke-width="0.9"/>
<circle cx="624.1" cy="609.1" r="1.95"/>
<circle cx="624.1" cy="622.3" r="1.95"/>
<circle cx="631.2" cy="621.6" r="1.95"/>
<circle cx="624.1" cy="639.6" r="1.95"/>
<circle cx="624.1" cy="649.2" r="1.95"/>
<circle cx="624.1" cy="660.1" r="1.95"/>
<circle cx="624.1" cy="671.8" r="1.95"/>
<circle cx="624.1" cy="676.2" r="1.95"/>
<circle cx="651.1" cy="667.7" r="1.95"/>
<circle cx="665.7" cy="668" r="1.95"/>
<circle cx="658.5" cy="670.8" r="1.95"/>
<circle cx="651.1" cy="678.6" r="1.95"/>
<circle cx="665.7" cy="676.9" r="1.95"/>
<circle cx="658.5" cy="681.1" r="1.95"/>
<circle cx="665.7" cy="681.4" r="1.95"/>
<circle cx="651.1" cy="684.2" r="1.95"/>
<path d="M624.4 604.6V598.8H658.5V604.6" fill="none" stroke="#444" stroke-width="0.9"/>
<path d="M638.6 588.4L637.9 590.3L636 589.9L637.3 591.4L636 592.9L637.9 592.5L638.6 594.4L639.2 592.5L641.1 592.9L639.8 591.4L641.1 589.9L639.2 590.3ZM644.6 588.4L644 590.3L642.1 589.9L643.4 591.4L642.1 592.9L644 592.5L644.6 594.4L645.3 592.5L647.2 592.9L645.9 591.4L647.2 589.9L645.3 590.3Z" fill="#151515"/>
<text x="624.1" y="737.4" font-size="8.8" text-anchor="middle" font-weight="bold" fill="#000" style="" >WT</text>
<text x="658.5" y="737.4" font-size="8.8" text-anchor="middle" font-weight="bold"><tspan font-style="italic">Hmgcs2</tspan> KO</text>
<text transform="translate(576,662) rotate(-90)" font-size="10" text-anchor="middle" font-weight="bold">BHB levels in serum (µmol/L)</text>
<text x="189.5" y="216" font-size="19.8" text-anchor="start" font-weight="bold" fill="#000" style="" >F</text>
<text x="303.3" y="233.8" font-size="11" text-anchor="middle" font-weight="bold" fill="#000" style="" >WT</text>
<text x="470.2" y="233.8" font-size="11" text-anchor="middle" font-weight="bold"><tspan font-style="italic">Hmgcs2</tspan> KO</text>
<text x="208.3" y="284.5" font-size="11.2" text-anchor="end" font-weight="bold" fill="#000" style="" >HE</text>
<text x="208.3" y="297.8" font-size="11.2" text-anchor="end" font-weight="bold" fill="#000" style="" >staining</text>
<text x="208.3" y="366.8" font-size="11.2" text-anchor="end" font-weight="bold" fill="#000" style="" >Oil red O</text>
<text x="208.3" y="380.1" font-size="11.2" text-anchor="end" font-weight="bold" fill="#000" style="" >staining</text>
<text x="208.3" y="458" font-size="11.2" text-anchor="end" font-weight="bold" fill="#000" style="" >Sirius Red</text>
<text x="208.3" y="471.3" font-size="11.2" text-anchor="end" font-weight="bold" fill="#000" style="" >Staining</text>
<filter id="soft" x="0" y="0" width="1" height="1"><feGaussianBlur stdDeviation="0.35"/></filter>
<clipPath id="cphe0"><rect x="214.6" y="240" width="167.4" height="86"/></clipPath><g clip-path="url(#cphe0)"><g filter="url(#soft)"><rect x="214.6" y="240" width="167.4" height="86" fill="#dab0e7"/><path d="M214.8 242.3h0m.9 0h0m.2 0h0m.6-2.1h0m1 1h0m.3-.1h0m0 .2h0m5.7-1.4h0m.2 1.1h0m1.1-1.2h0m.7 .3h0m2.5 1.4h0m1.9-2.2h0m.2 1.4h0m2 2.1h0m4.7-2.3h0m2.9-1.1h0m1.4 .5h0m1.1 .6h0m.3 1.7h0m0-.3h0m.5-1.7h0m.7 2.2h0m.4-1.7h0m.5 2h0m.3-2.5h0m.5 2.5h0m1.2-2.7h0m3.9 1h0m1.4 1.8h0m.8-1.9h0m6.3-1.9h0m2.5 2.6h0m.2-1.7h0m1.1 3.1h0m1.8-1.3h0m2.1-.8h0m1.1 .4h0m5-2h0m.3 .4h0m.8-.5h0m.9 .4h0m.8 .4h0m1.1 2.8h0m1.6-2.4h0m.6 .9h0m2.5-1.4h0m3.9 2.8h0m.4-1.6h0m.8-.6h0m4.6 1.6h0m.1-.2h0m5.2 1h0m3.8-.4h0m2.4-1.3h0m3.9-1.2h0m1.7 0h0m1.1 .6h0m1.8 .6h0m1 1.8h0m.2-2.6h0m.5-.4h0m1.1-.7h0m1.3 2.5h0m.3-.3h0m1.6 .3h0m.3-.1h0m.3 1.3h0m.2-.4h0m.5-1.3h0m1.9-1.6h0m.1 3.2h0m2-2.5h0m3.4 1.1h0m.1-1.5h0m.3-.1h0m3.4 1.1h0m1.8 .1h0m.5-.8h0m.4-1.1h0m1.7 1.8h0m7.1 1.8h0m3.3-1.4h0m.4 1.5h0m.3-3.7h0m.7 2.9h0m.2-.5h0m.5 .5h0m1.5-2.2h0m.9 2.3h0m1.3-2.3h0m.1-.4h0m.2 .1h0m0 2.9h0m.1-2.3h0m.2 2.8h0m.6-3.8h0m.7 .3h0m1 .2h0m3.6 3h0m.2-1.3h0m.9-.1h0m.3 .5h0m2.1-.6h0m.5 1h0m.7 .5h0m0 .2h0m.1-3.3h0m.3 1.4h0m1.4-2h0m3.4 1.8h0m1.3-.8h0m4.7-.8h0m.3 2.8h0m3.7-2.5h0m.9 .5h0m1.9 2.2h0m.1-.1h0m3.1-.7h0m-168.9 4.6h0m1.1-1.5h0m0 1.8h0m.2 1.2h0m1.2-2.5h0m1.2-.7h0m.1 2.3h0m.5 2.1h0m.3 0h0m.4-1.7h0m.1-1.1h0m.8 2.4h0m1.2-3.3h0m3 3.8h0m2.5-4.3h0m1.4 2.4h0m1.3-.4h0m.2 1.2h0m.1-4.6h0m.5 2.4h0m.7 3.4h0m2.4-4.6h0m.6 1.8h0m.2 .9h0m.7-3.3h0m.2-.1h0m.1 1.4h0m3-1.2h0m.5 4.6h0m2.1-1.1h0m.8 1.2h0m.8-4.4h0m0 3.8h0m.1-.5h0m1.7-1.4h0m1.2 1.4h0m1.1-1.1h0m1.2 2.7h0m.3-3h0m0-2.6h0m.4 .3h0m.1 3.5h0m.1-2.9h0m.5 2.2h0m.4 2h0m1.3-.7h0m.4-.5h0m0-1.2h0m.1 2.8h0m.1-1.9h0m.2-1.1h0m1-.9h0m1 1.4h0m0-.6h0m.9-1h0m.4-1.5h0m1.2 4h0m1.4-2.6h0m.7 1.2h0m.5 1.9h0m.5 1.2h0m2-4.4h0m.5 .6h0m.7-.6h0m.9 3.1h0m.9-2.2h0m.5 3.2h0m.7-5.1h0m.9 .9h0m.3 1.3h0m.3 1.2h0m.7-2.6h0m.4 1.4h0m1.9 3h0m.4-4.4h0m.2 3.5h0m1.1-3.8h0m.1 4.7h0m.5-4.1h0m.3 2.5h0m.5-.9h0m.1-2.4h0m1 1.2h0m2.4-1.9h0m1.8 5.2h0m.6 0h0m.9-1.9h0m0-3.4h0m1.6 1.7h0m2 2.8h0m.3-1.8h0m2.7-1.9h0m.7 2.5h0m.6-1.5h0m.3 2.6h0m1-3.6h0m.4 2.8h0m.1 2.2h0m0-5.4h0m.1 5.3h0m2.1-5.4h0m.4 4.7h0m.7-.6h0m1.9-4.4h0m2 1.1h0m1 1.2h0m1.4 .2h0m3.8 1.2h0m.4-1.4h0m1.6 3.6h0m.9-3.4h0m.3-1.9h0m.5-.6h0m.2 4.3h0m.3 .3h0m3.4-3h0m0 4h0m.3-.7h0m.2 .7h0m.7-.3h0m.7-3.2h0m.1-.1h0m1.9-.7h0m.7 1.6h0m1-2.3h0m3.8 4.3h0m.2-3.2h0m.8 1.5h0m.3-2h0m.4 .2h0m0 3.4h0m2.6-.8h0m.7-4h0m2.1 1.8h0m.8-.3h0m.3-.3h0m.7 3.2h0m2.2-.3h0m1.1 .4h0m.3 .4h0m.3-4h0m.6-.5h0m0 0h0m1.9 4.9h0m1.3 .1h0m.9-2.7h0m.2 .8h0m.4 1.8h0m1.2-3.9h0m3.1-1.3h0m1.6 3.9h0m4.9-1.6h0m.3 1.4h0m.2-1.1h0m.9-1.4h0m.6 4.4h0m1.8-2h0m.4-1.6h0m.9 3.7h0m.7-4.7h0m.6-.2h0m2.7 1.4h0m.7-.4h0m1.8 .6h0m.7 1.6h0m1.2-3.9h0m.7 4.3h0m3.3-1.5h0m.3 1.6h0m1.4-.2h0m2.4-4.1h0m1 4h0m2.3-3.1h0m.7 2.4h0m1.1-1.3h0m.5 2.8h0m2.6-.3h0m1.3-1h0m.2-3.2h0m.5 5.1h0m0 0h0m2.4-.3h0m-168.8 6.2h0m.1-4.3h0m.6-.6h0m0 1.8h0m6.4 0h0m1.2 3.2h0m.9-4.6h0m2.7 4.8h0m1.5-.3h0m3.1 0h0m1.2-.1h0m2.4-4h0m1.6 1.5h0m2.8-1.9h0m1.7 .6h0m1.8 .9h0m5 2.6h0m.9-.4h0m.2 .1h0m1.3 0h0m1.4-.5h0m1.2-3.9h0m.6 3.3h0m.6-2h0m.4 2.7h0m0 .7h0m1.2 .7h0m.1-.2h0m.9-3.9h0m.6-1h0m.7 2.2h0m1.1 2.6h0m.2-4h0m1.1 3.2h0m.1-4.1h0m.1 .5h0m.5 2.6h0m1.3-2.3h0m.2 0h0m.3-1h0m1.3 2.2h0m2.1 .4h0m.3-2.4h0m.9 5h0m.2-.3h0m3-2.9h0m.6 2.9h0m1-2.4h0m.1-2.6h0m.2 4.2h0m.2 .8h0m1.1-1.8h0m4 .5h0m.5-1.4h0m2 2.1h0m.6-4.8h0m2.2 4.7h0m1.1-1.5h0m.3 1.4h0m2.6 .8h0m1.5-3.3h0m.4-1.1h0m.1 4.5h0m2.6 .4h0m1.1-5.3h0m1.9 .3h0m.4 3.5h0m.1-1.8h0m1.3-2.1h0m0 5.1h0m.6-1.3h0m.1-.9h0m.1-.8h0m2.1 .8h0m.2-.7h0m.4-1h0m2.8 2.7h0m2.7 .1h0m.6-1.5h0m.1-2.9h0m.7 .3h0m0 .4h0m2.3-.6h0m1.3 1.1h0m2.3 1.7h0m.7-2.4h0m.2 2.2h0m.4-1.6h0m.9 1.6h0m2 1.3h0m1.1-.5h0m.2-.5h0m.5-.9h0m.8-1.3h0m1 .3h0m1.6 2.5h0m.8-.5h0m2.1 .3h0m.6-2.8h0m.4 2.5h0m2.3 1.1h0m1.9-3.8h0m2.1 1.2h0m.8 1.5h0m.1 2.2h0m.9 .3h0m.8-3.8h0m.3-1.5h0m.1 3.9h0m1.3-1.8h0m.3 .4h0m1.6-.2h0m1.2 .3h0m1.5 1h0m.4 1.1h0m1.2 .7h0m.5-.4h0m1-.6h0m.5-2h0m.1 1.8h0m.3-4.6h0m0 3h0m.9-1.4h0m1.2 .9h0m2.1 1.5h0m.4 .4h0m1.6-3.3h0m.7 4.8h0m.1-3.4h0m2.3-2h0m.5 3.4h0m1 1.5h0m.3-2.4h0m.1-.8h0m1.9 3.5h0m1.2-.9h0m.1-2.1h0m.9 3h0m.2-1.9h0m1.7-3.8h0m.9 3.6h0m.5 2.1h0m.6-3.6h0m1.3-.3h0m.9 1.2h0m.4-2.4h0m.2 1.9h0m2.2 1.7h0m1.2-.6h0m0 2.2h0m.2-3.8h0m1.1 3.3h0m.6-3h0m.9-1.9h0m.1 1h0m.1 .8h0m.5-2h0m1.6 4.9h0m1.4-1.5h0m1.1-2.4h0m.8-1.3h0m1.4 3.7h0m.6-1h0m1.2 2.6h0m1.3-2.8h0m.4 2.3h0m-169 2.5h0m.2 1.1h0m.1 .9h0m.7 2.2h0m.3-4.9h0m1.4 1.3h0m3.7-.5h0m.2-.4h0m1.6 .9h0m1.4 .3h0m0 2.9h0m3.1-4.2h0m.1 .7h0m.1 0h0m.2 2.6h0m1 .2h0m.8 1.6h0m3.4-3h0m.7 1.6h0m.5 1h0m1.6-2.6h0m.6-.6h0m.6 1h0m.4-.3h0m1.6-.1h0m1-.7h0m.8 1.8h0m.7 1.2h0m1.8-5.2h0m.2 2.2h0m1.5-.6h0m.7-1.1h0m.8 2.6h0m.8-1.7h0m.3 1.5h0m.3 1.1h0m.3-.5h0m2.1-3.2h0m1.3 3.7h0m1.4-3.2h0m1.6-.1h0m.4 1.1h0m.6-.7h0m.1 2.3h0m1.1-1.6h0m.9-1h0m.1 2.4h0m.5 1.3h0m2.2-1.9h0m.9-1.9h0m0 5.2h0m.7-1.4h0m.2-2h0m.5 3.3h0m.2-5.2h0m.4 1.7h0m.2 2h0m.4-.9h0m.3 1.9h0m.5-.1h0m1-2.3h0m.3 1.6h0m0-3.2h0m.8 2.2h0m.8 .8h0m1.1-1.1h0m.2-.2h0m2.3 .9h0m.5-2.7h0m1.4 1.4h0m.4-1.8h0m.2 4h0m.2-3.5h0m.6 3.6h0m1.9-2.1h0m3.3-1.3h0m1.4-1.5h0m.7 .9h0m1-.6h0m.1 5h0m1.2-4.5h0m.5 3.3h0m0-.7h0m1.1 .6h0m5.6 .4h0m.5-.2h0m.4-3.1h0m.2 4.4h0m1.1-1.4h0m.2-4h0m1.9 5.6h0m2.1-5.2h0m1.7-.4h0m.4 5.6h0m4-4h0m.2-1h0m1-.2h0m.4 2.4h0m0 1.2h0m4.6 1.4h0m.2-5.6h0m2.4 4.4h0m.8 1.1h0m1.9-1.8h0m1.4 2h0m1.7-1.6h0m0-.1h0m3.2 1.5h0m.5-2.9h0m1.2-1.4h0m.2-1.1h0m.1 .8h0m.3 4.2h0m5.7-1.3h0m.3-2.6h0m.6 2.3h0m.1 .4h0m.4-1.1h0m.8-2.3h0m.3 .7h0m.7 1.8h0m1.3-1.9h0m.7 .7h0m.4 .8h0m.1-.7h0m.3 4h0m.1-1.8h0m0-3h0m.1 .6h0m.7 2.4h0m.4 1.6h0m.6-1.2h0m.7-1.3h0m.2 1h0m2.7-3.2h0m.3 2.8h0m.2 .3h0m2.2-.1h0m.5 1.5h0m.1-2.7h0m1.5-1.1h0m4 1.1h0m.6 2.2h0m.7-2.2h0m1.1-.7h0m2.8-1.2h0m.2-.7h0m.1 1.1h0m0 .3h0m1.3-1h0m.6 2.3h0m.7 1.1h0m.9 1.3h0m1.4 .1h0m.5-2h0m4.5-1.3h0m.4 2h0m1.1-2.4h0m.8-.1h0m1.3 .2h0m.4-.7h0m.5 4.3h0m.5-3.6h0m1.1 4h0m0-2.3h0m1.6-3.3h0m.1 2.7h0m0 1.3h0m.2-.1h0m2.5 .2h0m1.6-3.9h0m1.1 2.8h0m.1-.1h0m1.7 2.5h0m.9-2.1h0m.3 2.4h0m-167 2.8h0m1.5-.9h0m.5 .2h0m2.1 1.4h0m.3-.6h0m.2-.1h0m.5-2.2h0m.4 5h0m.5-3.8h0m2.3 .2h0m.5 1.1h0m2-2.1h0m.5-.1h0m.3 .8h0m.1-1.1h0m.1-.2h0m.7-.1h0m.2 .8h0m1.4 1.6h0m1-.6h0m0-1.2h0m.6 4.6h0m.3 .4h0m1.3-5.8h0m0 4.3h0m.8-1.2h0m.7-1.3h0m.3 4.1h0m1.8-5.7h0m.7 1.5h0m.2 2h0m.4-1.8h0m1.9 3.9h0m.2-2.9h0m1.8-2.3h0m1.8 5.3h0m.3-4.5h0m.7 3h0m1-4.3h0m1 2.4h0m.4-1h0m.2-1.2h0m.4 .5h0m.6 1.9h0m.1 2h0m1.4-4.7h0m.6 1.2h0m2.5-.8h0m1.4 2h0m1.4 .9h0m.2 1.2h0m.2-2.8h0m.5 1.4h0m.4 1.8h0m.9-3.5h0m3.2 0h0m1.3 4.3h0m1-2.6h0m1.2 .3h0m.5-2h0m1.4 3.4h0m1.4-1.2h0m.5-.9h0m.7-2.1h0m0 4.2h0m0 .9h0m.1-3.9h0m.4-1.4h0m1.4 2.4h0m.1 .6h0m1.1 .2h0m2.3-.3h0m1.5 1.4h0m1.3 .8h0m.5-2.6h0m.2-.1h0m.3-.9h0m.3-.8h0m.3 4.9h0m1.8-5.8h0m.6-.1h0m.3 5.4h0m4.2-.9h0m.6-3.7h0m2.5 4.6h0m.2-4.4h0m1.8 0h0m.9 1.5h0m3.2 1.5h0m2.4-2.5h0m.8 1h0m.2-1.9h0m.3 5.2h0m1.5-1.8h0m.3-3.6h0m.1-.5h0m.6 .7h0m.1 1.4h0m1 .3h0m.8 .7h0m.6-.8h0m.9-1.6h0m.4 .4h0m.1 2.7h0m1.8-.8h0m.4 2.2h0m1.8-2.6h0m.6-.3h0m.7 2.2h0m.2 .2h0m.3-4.6h0m1.1 1.3h0m.5-.9h0m2.1 4.8h0m0-3.8h0m.4-.5h0m.3 2.3h0m.2-1.1h0m.5 1.8h0m.8-.5h0m.3-1.5h0m.6-.1h0m.2-1.3h0m1.1 .3h0m.1 .3h0m1.1 2.8h0m1.2 1.7h0m.4-1.2h0m.2-2.8h0m1.2-1h0m3.9-.2h0m3 1h0m1.4 3.7h0m.4-.9h0m.3-3.1h0m.2 4.6h0m.2-4h0m.9 .3h0m.8-1.6h0m.1 1h0m.6 .5h0m1 0h0m0 2.3h0m2-.4h0m.5-1.9h0m.4 .2h0m.7-1.4h0m.4 1.5h0m1 3.4h0m.9-1.1h0m.2-1.3h0m.2 .3h0m.5 1.2h0m1.3-2.3h0m1.9-1.7h0m1.8 3.4h0m.9 .1h0m.8 .4h0m.6-2.8h0m1.7-1.2h0m4.5 2h0m2.7-.1h0m.5 2h0m1.1 .2h0m.5-.4h0m.2-.7h0m.7 .1h0m4.7-2.4h0m2.1 0h0m.6 4.6h0m3.4-5.6h0m.3 .8h0m.5 3.2h0m1.4-4.2h0m.1 5.6h0m1 0h0m.7-1.8h0m.2-2.4h0m.7 1.7h0m.1-.3h0m.1 1.2h0m0-2.7h0m.3 3.2h0m1-4.1h0m1.6 .9h0m.1 1.3h0m.9 .6h0m2.7 1.7h0m-168 4h0m.3-1.6h0m4.3-.9h0m1.3 .9h0m1.8 2.2h0m1.8-3.2h0m0 5.1h0m.1-5.6h0m3.3 .2h0m.3 5.5h0m4.7-.4h0m3.8 .7h0m.3-4.4h0m.2-.8h0m3.2 2.5h0m2.4-1.2h0m0-1.2h0m.5 2.8h0m.6 .4h0m.2 0h0m2.4-3.2h0m1.9 .7h0m2 1.2h0m1 1.8h0m1.7-4.4h0m1.5 2.2h0m.1 2.7h0m.1-4.3h0m1.2-.4h0m1.3 .8h0m0 1.1h0m.3 1.2h0m1.5 .9h0m0 1.3h0m.5-4.2h0m.4-1.3h0m.8 4.5h0m1.7-.5h0m.6-2.2h0m.4 1.4h0m1.5 1.8h0m1.5-.6h0m.2-4.3h0m1.1 5.6h0m.2-4.3h0m.6-.2h0m.4 4.5h0m.2-3.9h0m.7-1.6h0m.7 3.4h0m0 .8h0m3.3-3h0m.5-.6h0m.7 2.6h0m1.7-.3h0m.9 .5h0m.2 1h0m.7 .5h0m.1-3.3h0m.2 3.8h0m1.1-3.9h0m1.4-1.8h0m.2 2.3h0m.1 .5h0m0 1.9h0m2.5 1.1h0m.1-4.2h0m1.2-1h0m1.7 4.1h0m.1-3h0m1.2 3h0m.1 .2h0m2.2 0h0m.2 .2h0m2-3.9h0m1.2 .4h0m.7 1.5h0m.2 2.1h0m.2 .4h0m0 0h0m.1-3h0m1.4-.1h0m.8 .6h0m.2-.2h0m2.2 3h0m1.9-5.2h0m.7 3.3h0m.1 .8h0m1.7-1.2h0m.6-1.1h0m2.4 .1h0m.4 1.3h0m.6 1h0m1 .9h0m.9-1.1h0m.1-1.7h0m.7-.5h0m1.8 .7h0m.6 .5h0m0-.6h0m.5-.1h0m0-.5h0m.1-.5h0m.4-1.9h0m2.5 1.3h0m.6-.4h0m.2 .9h0m0 .3h0m.1 2.7h0m.2-2.9h0m1 1.1h0m.4-.7h0m.3-.2h0m2.1-.7h0m1.3 3.6h0m2.1-2.3h0m1.9-2.2h0m2 2.3h0m2.8-.6h0m2.6 1.4h0m0 .9h0m.7-4.5h0m.1 5.3h0m.1-3.7h0m.3-.7h0m.2 3.2h0m1.1-1.8h0m.9-1.9h0m.6 2.3h0m.1-2.2h0m.7 2.9h0m0-1.4h0m1.3 2.9h0m.1-5h0m.2 4.9h0m.3-1h0m.9-.7h0m.1-.5h0m.1 2.1h0m.2-2.1h0m1.1 2h0m.7-1.6h0m1.4-.4h0m.9 2.7h0m1.2-5.4h0m.9 4.3h0m.4 .7h0m.5-2.7h0m1 0h0m1.4 .9h0m0 2h0m0-4.6h0m1.3 4.1h0m2-1h0m.6-3.6h0m1.6 4.1h0m1.3 .2h0m.7-3.6h0m2.1 1.4h0m1.5 3h0m0-4.6h0m2.8 4.5h0m.5-2.6h0m0 .3h0m.3-1.6h0m0 0h0m.3-.1h0m.1 3h0m.2-1.2h0m1.2 1.3h0m1.6 1.3h0m.3-1.7h0m1.5 1.1h0m.1-3.4h0m.6 3.3h0m.2-.6h0m.5-.4h0m.1-1.8h0m.1 2.8h0m.6-.1h0m.6-.6h0m.1 1.5h0m3.5-4.8h0m1.9 .3h0m0 3.7h0m1.1-1.6h0m1.4-1.8h0m-168.5 9.2h0m.9-1.3h0m.7-2.4h0m1.7 2.8h0m.7 .7h0m.5-1.4h0m.9 .9h0m1.9-.2h0m.6 2.2h0m.8-2.2h0m1.2 1.3h0m.5-4.1h0m1.1 2.4h0m.4 0h0m.1-2.3h0m1 3.6h0m.3 .3h0m.7-.1h0m.9-1.1h0m.5-.6h0m2.5 .2h0m1.3-3.1h0m.7 1.5h0m.5-1.4h0m1.9 3.9h0m.6-2.8h0m4.2 3.3h0m1.9-4.1h0m1.1 4.3h0m.7-4.2h0m.1 2.5h0m.6 1h0m1.5-2.4h0m.2 0h0m.5-1.1h0m.3-.3h0m3.1 4.4h0m.7 .9h0m.2-2.7h0m0-.3h0m.7-.2h0m.6 2.2h0m.1-1.7h0m1.1 .1h0m5.7-3h0m.4 3.9h0m0-.6h0m2.9-2.3h0m2 1h0m.3 2.5h0m1.1-1.5h0m.4 1.8h0m.3-4.5h0m.4 3.6h0m.4-2.2h0m1.3 1.9h0m.3-.9h0m.2 .9h0m0-2.3h0m1.2 2.4h0m.4 1.7h0m.5-3.7h0m.2 .8h0m0 1.3h0m.3-.2h0m.3-1h0m.3 2.8h0m2.3-.2h0m.3-4.5h0m.4 5h0m1.3-5.3h0m4.1-.4h0m.3 .7h0m1.1 3.9h0m1.7-2.8h0m.4-.2h0m.9-1.1h0m.4 3.6h0m1.4-4h0m1.7 1.6h0m1.9 1.5h0m1.8-.4h0m.2-1h0m1.5 1.1h0m.8 .9h0m.1 1h0m1.8 .7h0m.1-4.2h0m1-.5h0m.1 3.1h0m.4 0h0m.1-.3h0m1 .2h0m1.3 .6h0m.4-1.1h0m.8-.7h0m.3 .4h0m1.3-.4h0m.7 2h0m.5-3h0m.7 .1h0m2.1 .2h0m5 3.4h0m.4-4.5h0m.5 .6h0m.6 3.9h0m.8-5.3h0m.1 5h0m.5 0h0m1.8-3.4h0m2-.3h0m2.6 3.9h0m.3-.3h0m.9-1.7h0m1.3-1.3h0m.2-.4h0m1.6-.4h0m0 2.7h0m.8-.8h0m.2-2.3h0m2 2.7h0m.5 1.4h0m3.3-3.1h0m.2-1.9h0m0 1.7h0m1.6 2.1h0m.8-2.7h0m1.8 2.1h0m.1 1.5h0m.9 .1h0m.2-2.6h0m.8 .5h0m.5 2.1h0m.6-4.2h0m.2 5.1h0m.4-4.4h0m.1 3.6h0m.3-4.4h0m2.3 1.3h0m1.4 2.4h0m.6-3.8h0m2.1 .1h0m.1 5.2h0m.7-5.5h0m.1 5.6h0m.4-.6h0m.4-2.4h0m.4 .8h0m1.5 .6h0m1.2 1.2h0m.1-4.5h0m.5 4h0m.1-1.7h0m.3-2.4h0m.3 3.8h0m2.3 .6h0m.7 .7h0m.6-1.4h0m.1-1.1h0m.2-2.2h0m.8 3.3h0m.8-4.2h0m1.1 5.3h0m.2-.7h0m.3-1.1h0m.4-2.5h0m.8 1.4h0m.4 3h0m.6-3.8h0m1.5-.6h0m0-.5h0m1.5 3.5h0m1.2 .5h0m.1-3.9h0m.2 2.9h0m1.6-1.4h0m.2 1.5h0m.1-.8h0m.9-2.3h0m.5 .4h0m2.3 4.7h0m.3-4.5h0m.9-1h0m.6 3.5h0m.3-1.7h0m.9 2.2h0m.1 .5h0m.7-4.1h0m.4 1.5h0m.9-.3h0m-163.7 5.7h0m.3 3.6h0m1.5-2.2h0m.6-1.9h0m1.9 2.8h0m.1 .9h0m0-1h0m1.6-2h0m.9 3.3h0m.4-2.8h0m.3-.5h0m3.2 1.1h0m.4 1.7h0m.1-4.7h0m.8 4h0m.3 .4h0m.1-3.5h0m.1 3.3h0m1.4 1.7h0m.1-1.3h0m4.6-.6h0m.2-2.5h0m6.3 2.2h0m1.3-.6h0m.7 .8h0m.2 .7h0m.3 0h0m.9-2.3h0m.9 1.4h0m.8-2.7h0m.6 3.8h0m.7-4.8h0m.4 1.6h0m.1 2.8h0m6.9-1h0m0 2.2h0m1.3-.8h0m.2-4.6h0m1.2 1.4h0m.6 .3h0m.1-1.1h0m.3 3.4h0m.9 .6h0m.3-3.1h0m.1 2.7h0m.5 .9h0m1.7 .6h0m.1-5.1h0m.4 .4h0m.9-.2h0m.1 2.8h0m1.2 .7h0m.3-3.9h0m.2 4.5h0m.2-4.2h0m0 .7h0m.5 3.8h0m.7-4.6h0m.5 5.1h0m1.2-3.3h0m.2-1.2h0m0 3.2h0m3-2.7h0m.9 .7h0m.5-1.4h0m.5-1.2h0m.2 .9h0m.6 3.8h0m.3 .7h0m1.7-4.5h0m.1 2.8h0m.4 1.6h0m1.4-1.7h0m.6-.9h0m1.3-1.7h0m.6 1h0m.7 2.7h0m.9-.5h0m1.8 1.4h0m0-1.8h0m.4-2.3h0m.3 3.5h0m0-1.9h0m.8-1.5h0m.7 .9h0m1.5 .3h0m1.8 .6h0m1-.9h0m0-.4h0m1.2 3.7h0m.1 0h0m1.7-1.1h0m0-4.6h0m.3 4.3h0m0 .7h0m.3-4.8h0m.7 5.4h0m.7-1.2h0m1.6 .9h0m.9-1.3h0m1.9-2.6h0m.5 2.1h0m1.3-1.8h0m.7 1.4h0m.1-2.7h0m1 3.6h0m1.6-3.3h0m.7 1.1h0m.3 .3h0m.1 1.5h0m1.7-3.1h0m2.7 4.3h0m1.3-4.9h0m1 3.7h0m2-.8h0m.5-2.1h0m3 2.8h0m1.2 2.2h0m.5-4.8h0m2.8 4h0m.6-4.7h0m.2 2.4h0m.2-2.4h0m1.4 1.3h0m.6 1.7h0m.2 2.4h0m1.8-4.5h0m.1 3.9h0m0 .4h0m.4-1.8h0m.3 .7h0m1.5-4.3h0m1 2.8h0m.5 .1h0m1.6 2.4h0m.1 .3h0m3.1-1h0m.1-4.6h0m.9 1.6h0m1.3 3.3h0m.3-2.4h0m.9 1.8h0m.4 .3h0m1.6-2h0m.3 2.4h0m.3-3.6h0m.6 2.1h0m.6 1.4h0m.3-.3h0m.1-3.7h0m1.2 1.6h0m.4-.3h0m1.4 2.4h0m.1-3.7h0m.3 .7h0m.4-1.7h0m.4 4h0m0 1.7h0m3.6-3.6h0m3.5-.2h0m1.2-1.2h0m1.2 1.3h0m1.5 3.7h0m.1-3.1h0m.5 2.3h0m.4-3.3h0m.5 3.8h0m.4-4.5h0m.2 3.1h0m.1-1.4h0m2.6 3.1h0m.4-4.6h0m.6-.3h0m1 4.4h0m1.1-4.1h0m1 1.2h0m.8 3.2h0m2-5.4h0m2 4.5h0m.3-3.8h0m1 1.2h0m.3 .6h0m1.2-.6h0m.5-1h0m2.4 1h0m.6-1.9h0m0 5.8h0m3.1-4.5h0m-168.1 6.6h0m.6 2.1h0m.8-.4h0m4.4-.8h0m1 2.6h0m.2-3.4h0m1.1-.1h0m.7 3h0m2.5 .9h0m.2-3.3h0m.2-.6h0m1.6 2.1h0m1-3.7h0m.2 5.6h0m1.5-1.2h0m.6-3.5h0m.3 4.4h0m.7-5.2h0m.3 3.1h0m.1-.9h0m1.1-1.8h0m.5 2.5h0m.8-.5h0m1.1-.1h0m.2-2.1h0m.2 .1h0m.1 5.1h0m2.8-4.8h0m1 1h0m.4-.8h0m1.6-.5h0m.7 4h0m1.1-.7h0m2 1.4h0m.3-4.3h0m.3-.6h0m.2 3.6h0m.7 1.3h0m1.5-3.5h0m.4 3.5h0m.5-4.2h0m.1 .4h0m1.1 1.8h0m1.7 1.1h0m1.3-2.7h0m1.2 2.7h0m1.8 1.3h0m.1-3.9h0m0 1.8h0m2.1-3.4h0m.1 .5h0m1 3.6h0m.1 .1h0m2.3 .9h0m4.3-3h0m.2 1.2h0m.1-.4h0m.7 1.7h0m1.7-2.9h0m.5-1.3h0m0 1.4h0m2.9-.9h0m0 4.2h0m1-1.1h0m1.9-.4h0m.5-3.4h0m.5 0h0m.8 2.7h0m.2-2.7h0m.9-.5h0m1.6 1.4h0m.2 3.4h0m.5-4.2h0m2.8 4.3h0m4-1.5h0m.6-2.5h0m.3 2.2h0m.1-.3h0m.3-.3h0m1.3 3h0m.2-1.8h0m1.5-2.4h0m2.5 2.5h0m.7-.1h0m1.2 1.2h0m2-1.6h0m1.3 .4h0m1.4 1.3h0m1-.6h0m.4-2.8h0m.3 2.3h0m2.4-2h0m.1 1.3h0m.3 2.2h0m1.4-.2h0m.4-3.2h0m1.1 2.6h0m1.9-2.7h0m.3 .4h0m3.9 .4h0m1.7 1.2h0m2.3 1.4h0m4.8 .3h0m1.3-.7h0m1-4.8h0m3 2.8h0m.2-2.4h0m.6-.4h0m.2 .9h0m.1 3.8h0m1.5-3.9h0m0 0h0m.3 2.1h0m.3-1.8h0m1.9 2h0m2.1-2.1h0m.3 3.7h0m.1-4.8h0m.9 3.8h0m.3 1.4h0m.2-1.7h0m.6 1.8h0m.1-.4h0m1.2-4.3h0m1.6 1.1h0m1.1 .8h0m3.2 3.1h0m.4-1.6h0m.6-3h0m3.3 4.3h0m2.8-2.4h0m1.7 1.5h0m.7-1.8h0m.5-2.1h0m.8 .9h0m1 4.1h0m.3-.5h0m2.5-3.2h0m1.6 .4h0m1.4 1.4h0m.2-2.1h0m0 4h0m.7-4.8h0m1.3 2.8h0m.5 1.2h0m.9-.7h0m1.2-.1h0m.2-1.5h0m2.6 1.5h0m.4-1.9h0m.3-.8h0m.7-1h0m.7 .3h0m.5 3.3h0m1.4 1.1h0m.2-.4h0m1.1-1h0m.2-2.5h0m1.6 3.6h0m.4-1.4h0m1.4 1.5h0m.7-3.9h0m.2-.4h0m1.1 2.8h0m-166.3 3h0m.8 2.3h0m.7-.4h0m.2-.5h0m3.8 .3h0m1.7 3.6h0m2 .1h0m.6 0h0m.8-5.6h0m1.2 5h0m.5-1.5h0m.6 2.2h0m.2-1.4h0m7.5-1.3h0m.7-.1h0m.7-1.3h0m.6-.7h0m.3-.2h0m.5 4.5h0m.6-.6h0m.8-1.5h0m.3-1.2h0m.5-2h0m1.3 4.4h0m.4-1.2h0m.4-.1h0m3.7-1.8h0m1.5 .4h0m.2 3.8h0m.9 .4h0m.2 .1h0m.7-3h0m3.3 1.7h0m1.1 .4h0m1.1-2.9h0m4 .7h0m1.2 .5h0m.5 2.4h0m1.1-4.7h0m.6 1.9h0m1.9-1.6h0m.8 3h0m.1-1.4h0m1.2-.2h0m.4 1h0m1.1-2.9h0m.8 1.7h0m1 2.6h0m.8-.4h0m.3 .3h0m.5-4h0m.3 3.2h0m.6-3.4h0m0 4h0m.2 .6h0m1-4.6h0m1.8-.5h0m.2 .7h0m.4 3.1h0m.1-3h0m.5-.2h0m4 .3h0m.4 3.2h0m1.1-3.5h0m1.2 .8h0m.5 .1h0m.6 3.2h0m.1 .1h0m.8-4.5h0m1.4 3.9h0m.7-3.2h0m.3 1h0m2.2 1.5h0m2.9-1.9h0m.2-.4h0m.8 1.9h0m.3-2.8h0m.7 3.9h0m2 .8h0m1.6-4.6h0m2.5 3.5h0m2.1-1.1h0m1.2-1.8h0m.5 .8h0m.8 1.1h0m2.1-.7h0m1.6-1.5h0m.1-1h0m1.7 3.1h0m.1 .9h0m0-4h0m.1 3.3h0m.3-.5h0m.1-1.6h0m.3 1.1h0m0-.6h0m.6 3.8h0m1.4-5.6h0m.3 3.3h0m.3 .7h0m2.7 .5h0m1.3-.4h0m.8-1h0m.6 2.7h0m.9-3.8h0m1.2-1.6h0m.3 3.1h0m.4-2.2h0m.1 3.6h0m1-4.7h0m1 .8h0m1.7 .6h0m.7 3.3h0m4-2.5h0m.8 .8h0m1.5-2h0m0 .2h0m1.5-.1h0m5.3 4.4h0m0-5.6h0m1-.1h0m.7 .9h0m1.7 4h0m1.2 .5h0m.4-3.1h0m1.8 .5h0m.1 0h0m1.4 0h0m1 1.7h0m.1-2.5h0m1.1-1h0m.1 2.4h0m.1-1.2h0m.4-.2h0m.8 3.4h0m.2-4.7h0m.8 1.2h0m.8 3.3h0m.4-4.9h0m.3 2h0m.2 1.2h0m1.8 .2h0m.3 1.5h0m1.2-3.5h0m.1-.8h0m.7 .1h0m1.1 2h0m4.6 2.1h0m.9-3.1h0m.4 1h0m.7 2.4h0m1.7-.9h0m3.4-3.4h0m1.7 2.9h0m1.9 .8h0m.9-4.3h0m1.4 2.6h0m3.1-1.9h0m-167.8 10.6h0m.7-1.5h0m.4-.3h0m.6-2.3h0m1.1-1.3h0m4.9 3.5h0m.3-2.5h0m.3 1.3h0m.6-.8h0m2.6-.4h0m0 3.5h0m5.1-1.1h0m.7-3.1h0m.5 3.4h0m.4 1.6h0m.1-5.6h0m2.9 .4h0m3 3.1h0m3.5-.6h0m.2-2.4h0m3.2 .1h0m.5 3.2h0m2.9 .8h0m.8 .8h0m.3-.6h0m.5 .4h0m1.9-5.3h0m1.7 5.1h0m.6-.7h0m1.9-1.1h0m1.4-1h0m.4-1.1h0m.5 1.8h0m1.8-2.9h0m.1 .4h0m.6 1h0m.6 1.9h0m.6 1.7h0m0-1.9h0m.8-3.2h0m1 1.4h0m0 2.6h0m1.2-3.9h0m1.4 .3h0m1.4 1.5h0m.1 3.8h0m0-3.9h0m2 3.5h0m.4-3.6h0m2.7-.1h0m1.5-.9h0m2.3 3.3h0m.1-2.5h0m.1 0h0m.1 2.8h0m.5 .8h0m2.3 .3h0m3.5-.2h0m1.5-2.2h0m.9-2.9h0m.1 3.4h0m.3-2.9h0m.1 3.1h0m.1-2.8h0m.3 4.4h0m1 .4h0m1.1-.5h0m1.3-2.1h0m2.1-3.1h0m1.2 3.4h0m0 .9h0m.3 .6h0m1.5 .4h0m.7-1.5h0m1.8 1.6h0m0-1.6h0m.3-1.4h0m1.6 2.1h0m.6-3.1h0m.2-.9h0m1.5 2.9h0m.2-2.6h0m.5 3.6h0m1.5-1.7h0m.4 .4h0m.2 2.6h0m.1-4.9h0m1.1-.1h0m1.9 .7h0m2.1 1.4h0m2.1-1.5h0m1.2 3.8h0m2.4 .8h0m4.1-3.3h0m.3-1.3h0m.1 3.9h0m.1-5.2h0m.1 3.1h0m2.8 1.7h0m.7-.3h0m.2-1.2h0m.2 .2h0m1.6 1.1h0m1.3-1.5h0m1.5 .3h0m.6 2.5h0m1.2-3.7h0m.1 .8h0m1.3-1.2h0m.6 1.2h0m1.5-1.9h0m.1-1h0m.1 .4h0m.3 1.1h0m.9 0h0m.3 .6h0m4.4-1.8h0m2.4 1.9h0m2.3 2.6h0m1.3-4.2h0m1.9-.1h0m1.5 2.5h0m2-2.1h0m1.6 3.8h0m2.4-1h0m1.5-1.1h0m9.9 .2h0m.1-2.7h0m3.8 4.7h0m.3-1.8h0m.2 2.8h0m.2-.1h0m1.9-5.4h0m1 5.2h0m2.2-4.5h0m.3 3.2h0m.2-.8h0m.6-.4h0m2-.4h0m.5-2.6h0m.6 4.2h0m.4 .7h0m.8-2.6h0m.4 1.3h0m.5-3h0m.1 .8h0m-168.8 8.2h0m1.8-2.2h0m1.6 .8h0m.4 .8h0m.6 1.5h0m.8-2.5h0m1.2-1.7h0m.1 1.1h0m1.1 .4h0m.1 2.1h0m1-.1h0m.5-2.2h0m2.8-1.8h0m1.2 1.6h0m2.5-.1h0m.1 .3h0m1.4 1.6h0m.8 2.4h0m.9-.1h0m2.7-1.5h0m1-.2h0m.1-3.8h0m0-.1h0m.3 4.2h0m.7-1.5h0m1.7-.1h0m.2 .4h0m3 2.6h0m.7 .3h0m.1-3.9h0m.6 .2h0m.2 2.7h0m.9-2.6h0m1.1 .3h0m.3-2.4h0m1.1 0h0m.6 .8h0m.5 4h0m.2-4.7h0m.4 2.2h0m0-.6h0m.1 .7h0m1.7 2.5h0m.6-1.6h0m.1 2.2h0m0-3.6h0m2.6-.1h0m.1-.1h0m2.2 3.3h0m0-2.3h0m1.4 .5h0m.5-1.1h0m1.3-1.2h0m.8 3.4h0m1.8 .7h0m.1-3h0m.8 1.4h0m.2 2h0m1-.6h0m.3-.6h0m.1-2.6h0m.2 1.9h0m.2-2.9h0m.3 3.3h0m1.9-.4h0m.6 .3h0m.4-3.3h0m.4 2.3h0m3-1.8h0m.1 .5h0m1.5 4.2h0m.8-3.3h0m.1 1.4h0m.6-3.6h0m2.1 2h0m2.1 0h0m.8 1.2h0m.6 1.6h0m3.5-3.9h0m.4 .1h0m.1 3.2h0m.1 .1h0m1.1-.7h0m1.9-.5h0m.3-2.6h0m3.2-.3h0m1.4 2h0m1-.3h0m.1 .9h0m.6 1.5h0m1.6-.3h0m.7-2.4h0m1.7-1.7h0m3.8 .8h0m.5 1h0m0-.8h0m.3-.2h0m1.1-.3h0m1.2 3h0m.3 1.4h0m0-.5h0m2.1-.1h0m.2-3.1h0m1.8 4.3h0m.1-4.8h0m.2-.4h0m.5 4.4h0m.2-.7h0m3.3 .6h0m2 .4h0m2.6-2h0m3.8-3.4h0m.5 .4h0m.2 1.9h0m.4-.2h0m.3-.7h0m2-.7h0m3.5-.2h0m.4 5.1h0m.9-.7h0m0-2.4h0m.1 2.3h0m.1-3.6h0m1.4 4.5h0m.8-4.2h0m.4-.6h0m.6 2.3h0m4.9-2.6h0m1.1 3.3h0m2.1 1.6h0m.4-3h0m.5 .4h0m.4 1.4h0m1-1.7h0m1.2-2.6h0m2.2 2.5h0m.5 1.4h0m3.5-2h0m5.4 2.5h0m0-4.4h0m.3 4.7h0m1.4-3.8h0m1.2 1.5h0m2.4-1.3h0m.7 3.6h0m1.9 1.1h0m.3-3.8h0m.1-1.5h0m.2 5.1h0m1.8-.4h0m.1 .8h0m.2-3.4h0m.1 1.3h0m.4-2.3h0m2.1 3.4h0m.4-4.8h0m.3 4.8h0m.7-2.7h0m2.5 3.5h0m.7-3.6h0m2.3 1.2h0m2.2 1.7h0m1 .5h0m1.9-4.1h0m.3 2.2h0m-169 6.9h0m1.5-.3h0m.1 .1h0m.1-.2h0m.4-.5h0m1.8 .4h0m1.5-.3h0m1.3-2.5h0m.1 4.3h0m1.9-4.5h0m1.3 4.1h0m0-4.4h0m2.4 4.9h0m.3-.7h0m1.1-4.6h0m.1 1.6h0m.1 .1h0m.5 2.5h0m.1 .9h0m.3-5h0m0 4.6h0m.6-.9h0m.1-.8h0m.3 1.7h0m1-3.8h0m.3 0h0m1.5 2.1h0m.9 2.2h0m.8-1.3h0m.2-1.8h0m.2-.9h0m.1-.9h0m.3-.3h0m2.1 3.4h0m.2-3.7h0m1.4 4.6h0m.7-.1h0m1.7 .9h0m.1 .1h0m.5-2.8h0m.8 1.8h0m.5-2.8h0m.2 1.8h0m1.1-3.3h0m1.2 3.2h0m.3-1.1h0m.4-.2h0m.4 3.5h0m2.9-3.1h0m.8-.2h0m1.1 .6h0m1.5 .7h0m.7-1.7h0m.2 .1h0m.1 2.1h0m.5-2.4h0m1.2-1.2h0m.2-.2h0m0 2.1h0m.6 3h0m.1 .3h0m1.6-5.5h0m.6 4.2h0m2.3 1.1h0m1.6-2.8h0m.6 .5h0m.1 2h0m.1-.5h0m.8-1.1h0m1-3.2h0m1.2 1h0m1.6 1.8h0m.3-1.1h0m.8 1.7h0m.5-.5h0m.4-.1h0m.9-1.7h0m.4 3.6h0m2.2-.7h0m1.1 .5h0m1.6 .3h0m.3-4.4h0m1.1 3.7h0m.3-2.7h0m.7 1h0m.2-1.7h0m0 3.7h0m.3-3.3h0m.6 2.1h0m.9-3.2h0m.1 1.1h0m0-.7h0m2.1 2.1h0m.3 2.3h0m.4-.4h0m.2-.2h0m0 .4h0m.5-5h0m0 5.1h0m.9-1.2h0m2.2-2.2h0m.1 .8h0m.7 3h0m1-2.8h0m.1 1.6h0m.2 1.2h0m.1-1.1h0m.9 1.4h0m2.6-2.5h0m.1 2h0m1.9-2.8h0m1.9-2.1h0m1.8 5.3h0m1.2-2.7h0m1.2 1.4h0m.4-.4h0m2.6-2.4h0m.2 .2h0m.6 .4h0m.2 3.7h0m.2-2.2h0m.6 1.8h0m.8-1.6h0m2-1.9h0m.4 1.7h0m.1-.9h0m1.8-.2h0m1.4-.2h0m.5-.6h0m0-1.4h0m1.2 3.7h0m.8-3.2h0m4.2 1.4h0m.1 2.1h0m.5-1.3h0m.5 2.7h0m.5-.7h0m.2-2.7h0m1.2-2h0m1 4.7h0m.4 .5h0m.1-1.2h0m.7 1.1h0m.2-4.7h0m0 2.3h0m1.4 1.4h0m1.9-1h0m2.5-3.4h0m1.3 3h0m1.4-3h0m.4-.1h0m.2 2.7h0m3.4 2.7h0m2.7-5.5h0m.2 1.4h0m.1 2.2h0m.5-1.9h0m1 .7h0m.6 .3h0m.7 3.2h0m1-4.2h0m0 4.1h0m.5-.8h0m2.7 .6h0m2.2 0h0m1.2-1.8h0m.8 2.1h0m1.9-2.5h0m0-2.4h0m.9 2.7h0m2.3-3.5h0m.1 2.6h0m.8-2.1h0m.1 2.8h0m.1-1.8h0m1.3 3.9h0m0-1.9h0m.8 1h0m.3-1.2h0m0-1.5h0m.5 2.5h0m1.4-4h0m2.1 1h0m.1-.5h0m.5-.7h0m.2 .1h0m.4 1.6h0m.2 .7h0m.7-.6h0m2.4-.9h0m1.5-.3h0m.3 2.1h0m1.1 .6h0m.3-2.8h0m.7 1.5h0m0 2.1h0m2.4 .5h0m2.3-1h0m.5-2.9h0m1.4 4.2h0m2.3-1.6h0m.1-3.1h0m.1 .3h0m.3 1.4h0m-165.5 4.3h0m2.3 2h0m2.2 .5h0m.3-2.6h0m1.1 1.1h0m1.5 3.5h0m.5-4.5h0m0 1.2h0m1-1.5h0m1.7 5.7h0m.2-5.4h0m.3 1.3h0m.2 .6h0m.8-.3h0m.5 3.6h0m1.7-3.9h0m.2 3.7h0m1-1.9h0m.2-.5h0m.3-1.3h0m.4-.7h0m.3 1h0m.3-1.9h0m.1 3.9h0m0 .6h0m.7-2.8h0m1.7 .3h0m.5 2.2h0m.9 .6h0m1.1-1.3h0m.8-1.8h0m.5 3.7h0m2.1 .2h0m.1-2.7h0m.1 2.9h0m1.3-5.6h0m1 1.9h0m.3 .8h0m1.8-2.1h0m.4-.3h0m1 1.9h0m.2 2.6h0m4-3.2h0m.3-1.1h0m0 1.1h0m.6 2.1h0m1.2-2.9h0m2.5 3.1h0m.6-4.2h0m2.3 3h0m.9 1.2h0m.6-2.2h0m3.5 2h0m.1-.9h0m.7-.7h0m.1-2h0m.2 2.4h0m.1-2.8h0m1.8 2.4h0m1.2-1.9h0m1.7 2.1h0m3-.8h0m.3 2.6h0m.7-.4h0m.2-2.6h0m.5-1.4h0m1.5 .7h0m.1 3.8h0m.4-4h0m.5 2.3h0m.7-1.3h0m1.2-.8h0m1.6 .4h0m1 3.8h0m0-1.5h0m.3 1.3h0m0-3h0m1.4 0h0m.6-1.5h0m.9 3h0m.1-1.2h0m.7-.7h0m.9-1.1h0m1 5.1h0m1.7-4.1h0m2.3-.2h0m.2 3.6h0m.1-1.8h0m.2-.4h0m.1 .8h0m1.3-2.5h0m0-.6h0m0 2.9h0m.1 0h0m.5-.8h0m1.4 1.5h0m.3 0h0m1.4-3.6h0m1.2 2.7h0m5.2-1.9h0m1.1 4.2h0m.2-.1h0m0 .7h0m.3-3.4h0m.7 .3h0m.7-.9h0m.9 2h0m.1-2.8h0m1.6-.4h0m0 2.7h0m1-1.1h0m.7 3.8h0m1.1-1.1h0m.3-3.1h0m.3 1.8h0m1.2-3.2h0m3.5 5.6h0m3.8-5.6h0m1.1 2.5h0m.2-1.6h0m.1 1.6h0m.6-1.4h0m.9-.5h0m1.2 2h0m.6-.9h0m.5 3.6h0m.2-1.4h0m.5-1.2h0m.6 .6h0m1 1.7h0m.5 .3h0m.5-2.6h0m1.4 1.4h0m1.6-4.5h0m1.2 4.2h0m.3-4h0m.5 4.9h0m.2 .1h0m.2-2.8h0m.4-1.1h0m0 2.2h0m2.3 2.1h0m.1-2.1h0m1.2-.9h0m.5-1.2h0m1.4 1.1h0m.2 1.2h0m.8-3.4h0m.7 .4h0m1.2 3.4h0m.6-1.7h0m0 .8h0m1.4-2.7h0m.3 .8h0m.3 1.8h0m.9 2.8h0m2.1-5.7h0m.2 2.7h0m.1-.5h0m0-2.3h0m0 4.6h0m.6 1.3h0m.3-6h0m2.5 1.6h0m.2-1.1h0m.3 3.1h0m.2 2.4h0m2.3 0h0m.7-4.8h0m.1-.8h0m2.1 2.8h0m1.8 .5h0m0-1.9h0m.4 0h0m2 3.3h0m3.8-.7h0m.1-.8h0m.7 1.5h0m1.1-1.7h0m1.2-.5h0m0 .1h0m.9-1h0m.5-1.5h0m.6 .4h0m2.1 2.6h0m.7-2h0m.2 .4h0m4.5-.8h0m0 .8h0m.7-1.5h0m0 4h0m2.2 .6h0m-168.1 2h0m2.3 .5h0m0-1.4h0m1 2.9h0m.4-2.7h0m0 2.7h0m.6 .3h0m.4 1.5h0m1.9-2h0m1.5 .1h0m.6 .5h0m.3-1.5h0m1.2 .6h0m.9 2.2h0m.9 .6h0m0-4.5h0m.3 2.7h0m.4-.4h0m.9 2.3h0m.6-2.6h0m2.9 1.1h0m0-3.4h0m2.9 4.2h0m3.5 .5h0m1.1-.5h0m.8-1.5h0m.6 1.1h0m1.8-1.8h0m.5 .3h0m.1 1.1h0m.9 1.5h0m1.2-1.5h0m.2 .5h0m.6 1.4h0m.2-3h0m1.3 1.3h0m.2-1.9h0m.8 3.1h0m.9 .3h0m.1 0h0m.7-5.3h0m1.3 2.9h0m0-2.6h0m.4 .4h0m.9 2.1h0m.2-1h0m.9 .2h0m.8-2h0m1.6 4h0m.3 .4h0m2.2-.3h0m2.9-1.8h0m0 .5h0m.4-2.8h0m.4 3.7h0m.2-2.8h0m.7-1h0m2.5 1.1h0m.1 2.8h0m.3-2.3h0m.6-.8h0m.2 1.4h0m1.2-.4h0m.1 2.9h0m.3-.9h0m1.3-.2h0m1.7 1.4h0m.1-2.8h0m.3 2.6h0m.4 .6h0m1.4-3.9h0m1.8-.4h0m.2 4.6h0m1-4.4h0m2.1 2.9h0m.8-1.8h0m.1 2.3h0m.2 .8h0m3.7-1.7h0m.1-2.7h0m.1-.7h0m0 3.5h0m1.3-3.9h0m2.2 1.4h0m1.1 4.2h0m.3-3.3h0m.3-2.2h0m1.3 4.6h0m.3-3.5h0m.3 4.1h0m0-3.7h0m.2 1.9h0m2.9-1h0m2.3 1h0m1 1.7h0m1.9-3.5h0m.1 4h0m.4-.7h0m.2-3.1h0m.7-.9h0m3.2 3.6h0m0-2.9h0m1.2 2.3h0m1.4-2.1h0m2.2-.6h0m1 .9h0m.4 .5h0m.4-1.7h0m3.4-.2h0m.3 1.2h0m.3-2.1h0m0 1.2h0m.7 4.7h0m2.7-4.9h0m.5 3.7h0m2.7-.8h0m.5 .1h0m.1 .4h0m.4 1h0m3.5-.2h0m.1 .4h0m1.6 .2h0m.3-3h0m.6-.5h0m.1 .4h0m1.1 .5h0m.2 2h0m1.1-2.8h0m.2-.6h0m1.6 2h0m1.6 1.1h0m.5-.8h0m1.4-2.2h0m.1 2h0m.7 1.1h0m0 .8h0m1.3-3.4h0m2 1.6h0m.6-3.9h0m.8 5.1h0m.4-4.4h0m0-.8h0m2.9 4.7h0m2.3-2.4h0m1.2 2.9h0m.5-1.9h0m3.5 1.4h0m.1-2.8h0m.1-1.1h0m2.5 4.3h0m3.5-.1h0m.4 .1h0m.2-.6h0m.5-1.7h0m2 .3h0m.4 1.6h0m.8-1.5h0m.1 1.5h0m.1-.5h0m1.3-.1h0m1.2-1.7h0m.5 2.5h0m1.7-4.2h0m3.3 2.6h0m.5-.7h0m1.1-.5h0m.3 3.5h0m1.8-4.6h0m.1 3.8h0m1.1-4.3h0m2.2-.4h0m1.8 .2h0m1.9 3.1h0m.6-3.2h0m.5 0h0" stroke="#f0d9f6" stroke-width="1.1" stroke-linecap="round"/><path d="M224.6 239.1h0m8.3 3.2h0m3.3-1.9h0m6.2 .9h0m4.6 1.4h0m8.4-3.2h0m0 3h0m2-1.9h0m1.4-.7h0m3.4 .3h0m3.6-1h0m.5 1h0m2.7 2.4h0m1-1.8h0m4.4-.4h0m1.7-1.1h0m1.2 2.9h0m6-1.5h0m7.7 1.4h0m3.8-1.1h0m12.2-1.7h0m1.7-.1h0m4.7 .7h0m0 .8h0m8.1-.3h0m2.2 .9h0m23.5 1.1h0m2.1-3.1h0m2.2 2.1h0m3.3-1.3h0m1.9 1.7h0m17.4 1.1h0m-154.8 2.1h0m2.1 .8h0m6.2-.8h0m.1 3.9h0m7.6-4.3h0m.8 1.1h0m19.1 2h0m7.8-.4h0m3.5-.7h0m2.5 2.4h0m1.2-2.3h0m3.1-.1h0m7.9-2h0m6.3-1h0m2.9-.5h0m5.9 .7h0m1.3 .9h0m1.6 1.3h0m1-2.8h0m2.1 .5h0m.2-.3h0m1.3 2.6h0m.1-1.9h0m3.6 4.2h0m.5-2.7h0m2.3 1h0m1.2-1h0m4.8 1.8h0m2-.4h0m8.2 1.2h0m3.7-3.4h0m6.5-.8h0m6 3h0m4.5-3h0m.5-.3h0m3.7-.2h0m1.8 3.7h0m3.3 .9h0m1.3-4.7h0m4.2 2.2h0m2.8 .9h0m.4 1.8h0m4.3-1.9h0m2.1-.3h0m.2-3h0m.7 1.2h0m1.5 .8h0m1.9 1.5h0m1.9-.6h0m-162.6 8.9h0m.9-2.7h0m2.7 .5h0m5-1.4h0m12.8 2.2h0m.5-4.2h0m.1 4.2h0m11.6-4.3h0m6.8 4h0m5-2h0m.8-1.1h0m2.3 4.2h0m5.8-2.4h0m2.4-.5h0m.3 .7h0m1.7-2.7h0m1.2 .5h0m8.4 4.9h0m1.3-3.2h0m4 2h0m4.3-2.6h0m5.2-.1h0m1.7 3.9h0m6.4-5.4h0m.7 1.8h0m2.3 1.9h0m2.5 .1h0m4.5-3.4h0m1.9 3h0m4.2 1.3h0m2.8-4.2h0m3.9 2.3h0m2.5-1.2h0m3.3 .1h0m1 1.1h0m2.1-3.2h0m1.1 .9h0m.4 4.4h0m.3-5h0m5.9 5.1h0m2.4-2.7h0m11.3 1h0m7.2-1.2h0m4.9 2.4h0m.4 .4h0m6.5-.7h0m.1-2.8h0m2.7 .3h0m.1-1h0m-164.5 6.9h0m.9 3h0m4-3.5h0m1.2-.4h0m.6 .6h0m1.9 3.5h0m1-3.6h0m.4 1.7h0m1.8-.4h0m1.5 2.9h0m7.3-4.1h0m.3 2.5h0m1.4 .2h0m4-3.7h0m5.4 3.2h0m1.3-.9h0m1-1.9h0m13.9 2.4h0m.6-1h0m1.2-.9h0m.1 1.8h0m3.5 .2h0m.4 .7h0m11.6-1.9h0m1.9-2.3h0m2.2 .3h0m0 3.9h0m5.1-4.1h0m4.7 3h0m1.3-.7h0m2.4 2.4h0m2.7-3.2h0m11.5 2.2h0m5.5 1.8h0m7.4-1.2h0m.6 .2h0m.3-2.4h0m.4-.8h0m3.5 3.1h0m5-2.3h0m6.1 3.4h0m1.6-3.6h0m.2 2.6h0m1.1 1.1h0m1.9-.9h0m1.8-.3h0m1.9-2.3h0m3.4-1.9h0m3.7 3.7h0m2.1 1.7h0m1.9-.7h0m6.3-2.3h0m10 1.8h0m.6-1.3h0m-162.3 6.3h0m3.4 1.5h0m.8-3.6h0m.9 3.4h0m.3 .4h0m.9-.2h0m.8-4.2h0m0 .7h0m2.3 1.8h0m1.7-1.9h0m3.9 3.4h0m1.2-3.7h0m.7-.2h0m.9 2.1h0m12.6-.1h0m1.1-2.5h0m6.4 1.9h0m.2-1.1h0m9.4 1.7h0m.2 .9h0m8.8 2.1h0m5.1-3.7h0m3.6-1.1h0m0 4.6h0m1.4-2.1h0m2.9-3h0m.9 2h0m.3 .6h0m4.8 .4h0m6.4-1h0m.3 3.1h0m2.8-2.9h0m2.1 1.8h0m3.5 .1h0m5.3 .9h0m1.2-.5h0m3.5-.3h0m1.6-2h0m9-1.8h0m9.3-1.1h0m2.3 2.3h0m2.2-1.2h0m1-1.1h0m.8 2.3h0m2.7 .4h0m.3 2.4h0m16.2-1.5h0m4.4 1.8h0m1.2-2h0m4.7-3.3h0m1.3 1.3h0m4.3-.7h0m2.3 5.3h0m.2-4.7h0m-166.8 7.5h0m1.9-1.6h0m2.4-.5h0m2.8 4.2h0m.5 .2h0m1.7-3.1h0m4.8 2.2h0m1.4-1.1h0m.2 2h0m.8-.4h0m3.8-.2h0m1-.6h0m.1-1.9h0m2.8 1.1h0m2.6-2.7h0m.1 .6h0m2.2 2h0m.5-2.9h0m.8 .5h0m.7 3.2h0m2.3 .5h0m4.4 .3h0m3 .1h0m.7-2.3h0m5 .1h0m6.3-2h0m2.4 .7h0m5.8 3.9h0m3.3-.3h0m2.5-4.4h0m4.7 4.4h0m.6-4.8h0m2.5 2.7h0m.4-2.1h0m1.2 3.8h0m7.3 1.1h0m1.3-.4h0m3-2.4h0m.7-1.7h0m.3 2.9h0m2.2-1.3h0m2.7 3.3h0m2.7-3.5h0m.6 1.4h0m2 1.3h0m2.2-.2h0m.5 .1h0m1.6-1.4h0m1.5-.6h0m3.1 1.7h0m6.7 .2h0m.1-2.4h0m.6-2.4h0m.4 3.8h0m1.5-2.9h0m4.8 2.6h0m1.8-2.4h0m9.1 2.1h0m1.2 .5h0m1.5-2.3h0m1.8 .4h0m.9 2.2h0m.5-1h0m3.3-.4h0m2.3 0h0m18.1-1.5h0m2.6 4.6h0m1.2-1.5h0m.9-3.6h0m-166.4 6.4h0m1.2 4.2h0m1.5-.6h0m.9 .5h0m.5 .2h0m1.1-4.6h0m0 2.7h0m3.9-1.1h0m.1-.2h0m.1 .9h0m.7 1.7h0m2.3-2.5h0m6.6 .9h0m7.2-.3h0m1.5-2.9h0m1.4 .4h0m1.3 2.9h0m.9-2h0m.1 .9h0m2.6 2.7h0m.3-1.7h0m2.6 1.3h0m.2-4.3h0m0 2.5h0m2.4 .1h0m2.5 2.1h0m7.7-.8h0m1.4-1.5h0m.4 2.9h0m1.6 0h0m4-4h0m1.2-.8h0m2.5 4.9h0m.4 0h0m5.5-2.1h0m1-1h0m.8 .8h0m4.5-2.9h0m.1 2.6h0m7.1-2.8h0m2.2 4.2h0m3.7 1.2h0m.2-2.2h0m0-.8h0m2.3 2.8h0m4.2 0h0m1.2 .2h0m2.6-3.1h0m1.1-1.7h0m3.5 1.3h0m.6 2.9h0m3.6-2.5h0m2 .8h0m0 .7h0m.5-1.5h0m7.3 1.1h0m3.2-3.5h0m1.2 2.7h0m5.7 .5h0m1.5-.4h0m.7 2.7h0m3.1-.8h0m2.9-4.4h0m3.6 3h0m14.5-2h0m.8 3.7h0m.4-.1h0m3.3-4.2h0m.9 1.8h0m9.2 1.4h0m-166.1 6.2h0m11.8 1h0m1.9-4.2h0m2.3-1h0m3.1 .9h0m.4 4h0m3.1-4.4h0m3.1 1.9h0m.1 3.3h0m.2 .2h0m.7-3.8h0m6.9-1h0m.8 .1h0m.8 3h0m.8 .3h0m.8 .7h0m.3-3.7h0m1.7 1.1h0m1.5-.3h0m.8-2.1h0m1.8 1.4h0m3 3h0m3.4-.9h0m.2 0h0m9.5 .8h0m7.5-.3h0m1.1-2.8h0m3.8 2h0m1.8 .1h0m1.9 2.3h0m4.9-3.6h0m.4 2.5h0m11.1-4.1h0m1.2 2.1h0m4.4 1.3h0m3.1-1h0m1.6-.7h0m.2 2.3h0m1 .9h0m7.6-.8h0m4.2-.3h0m.6 1.6h0m.3-4.4h0m1.1 3.8h0m8.7-5.1h0m.5 4.6h0m.7-1.5h0m1.1-.7h0m1.9 1h0m1.2 1.7h0m1.8-3.4h0m.7-1.4h0m.5 .3h0m5 1.9h0m2.7 1.9h0m4.1 .2h0m1.9-.4h0m5.8-.6h0m.4 1.7h0m1.5-1.2h0m4.7-3.7h0m2.3 4.2h0m3.5 .4h0m-163.2 6h0m2.4-3.7h0m1.5 1.9h0m5.8 .1h0m1.9-1.4h0m5.3-.4h0m5.1-.4h0m1 .3h0m11.3 3.1h0m1-2.7h0m3.4-1.2h0m.2 4.4h0m2.8-1.2h0m3.1-.7h0m.3-1.7h0m.2-.5h0m.3-.9h0m.6 2.9h0m6.7 1.6h0m6.6-1h0m.7-.2h0m4.2-3.3h0m4-.1h0m1.8 4.1h0m.6-3.5h0m.8 1.5h0m.7-2h0m2.3 1.7h0m.9 .1h0m4.5 3.6h0m4.9-5h0m4.7 3.3h0m4.9-.6h0m2.9-1.2h0m4.1 2.6h0m.5-2.1h0m1.6 1.2h0m.8 .2h0m1.9 1h0m21.4-5h0m.9 1h0m1.7 .3h0m1.9 0h0m4.3 2.2h0m4.8 .5h0m6.3-.4h0m1.9 .7h0m2.5-1.5h0m10 0h0m1.3 .6h0m-167.6 6.5h0m.8-3.9h0m8.3 2.5h0m1.3-2.4h0m.8 2h0m1.5 2.9h0m1-1.4h0m1.3 2.1h0m2.6-4.7h0m7.1 .6h0m6.8 1.7h0m1.8 0h0m3.4-.7h0m.6 .9h0m5.1 1.2h0m1.9-3.7h0m2.1 2h0m5.9-1.1h0m1.4 1.3h0m3.6 1h0m.8 .8h0m7-2.3h0m.9-2.5h0m5 1.7h0m3.5 2.1h0m1.4-1h0m.3 1.9h0m5.4-3.6h0m5 1.8h0m1 1.6h0m.1-4.5h0m1.1 .5h0m.2 4.4h0m.1-1.9h0m.1-2.7h0m7.2 .7h0m7 3.5h0m2.1-4.6h0m1.2 5.7h0m1.2-1.8h0m.4-1.3h0m.1 2.3h0m.5-1h0m1.7 1.3h0m5.9-.2h0m.5-4.1h0m2.9 3.5h0m3-1.1h0m1.7-3.1h0m6.1 3.1h0m8.7 .9h0m3.9-3.9h0m1.9 1.4h0m.1-1.7h0m3.9 4.6h0m1.4-.1h0m.1-2.7h0m2.1 2.6h0m3.1-1.3h0m3.3 2.2h0m.2-5.3h0m3.8 4.7h0m5.1-2.7h0m-168.3 4.7h0m7.4 2.2h0m.4 1.1h0m1-2.2h0m7.5-.5h0m6.1 2.3h0m7-1.8h0m9.7 2.4h0m8.6 .7h0m.7-1.2h0m.8-1.8h0m8.6 2.2h0m1.2-.4h0m4.7-1.2h0m7.2-2.5h0m.1 1h0m4.2 2.3h0m3.2-1.8h0m1.4 3.8h0m.5-2.3h0m3.3-1.7h0m1-1.2h0m.1 1.9h0m2.4 2.8h0m.3 1h0m5.7-3.3h0m6.5 2h0m1-.1h0m3.8-1.9h0m4.2 1.1h0m13.6-.6h0m0 1.6h0m1.1-2.3h0m.8 1.6h0m1.7-3.6h0m8.4 1.9h0m10.4-2.3h0m2.3 .5h0m7.1 .9h0m1.3-1.1h0m2.8 .3h0m5 3.6h0m-160 2.8h0m.6 1h0m5.7-.2h0m1.8-1.2h0m2 2.1h0m8.7 3.1h0m7.3-5.8h0m3.5 .6h0m3.5 2h0m2.7 1.6h0m5.7-1.3h0m15.2-.8h0m2.8 1.5h0m1 1.2h0m5.6-4.8h0m4 3.6h0m2.8 0h0m1.2-2h0m2.9-.6h0m3.3 3.7h0m8.4-.9h0m.6-.3h0m.8-2.8h0m.6 5h0m9.1-4.4h0m2.7 3.6h0m3.5-2.4h0m9.1-.9h0m2.4 1.6h0m.9-.5h0m7 2.3h0m9.4-2.7h0m4.9 2.2h0m1.8-.9h0m9.6 1.3h0m2.4-3.9h0m3 1.5h0m.3 1.4h0m1.3 .4h0m6.9-2.4h0m-163.2 9.5h0m6.8-4.8h0m2.4 4.7h0m3.4-5.3h0m6 3.6h0m.1 0h0m9-2.3h0m2.6 4.4h0m9.9 0h0m.1-1.1h0m.8-3.7h0m1.4 5h0m3.3-5.2h0m.6 3.5h0m2.3-.2h0m1.7-.8h0m2.7-3.2h0m4.2 5.3h0m.8-4.7h0m8.8 5.2h0m3.6-3.5h0m2.4-2.1h0m.5 3h0m4.2 .4h0m.8-.8h0m1.8-2.4h0m2.4 4h0m4.9-2.4h0m3.2 .2h0m1 1.2h0m6.1-3.5h0m7.5 3.1h0m2.9 1.1h0m12.8 .7h0m.7-1.1h0m7.2-.6h0m6.6-3h0m2.3 2.5h0m1.5-.9h0m1.2 3.6h0m7.9 0h0m1.9-.6h0m3.2-3.5h0m.9 2.4h0m1.9-3.4h0m.2 .9h0m1.5-.8h0m-162.5 7.9h0m2.2-.7h0m.4 3.9h0m1.7-3.5h0m1.2 .1h0m1.2 .9h0m3.6-.2h0m.1-.4h0m3.5 .4h0m.4 1.1h0m2.2 1.6h0m1-2.9h0m6.2 3h0m.7-4h0m5.4 1.1h0m.6 1.5h0m3.6 1.7h0m1.7-2.5h0m2.6-1.8h0m2.2 .7h0m.7-.6h0m1.5 2.5h0m5.4 1.1h0m.1-1.4h0m1.2 1.7h0m.1-3.3h0m.2-1.8h0m6 5.1h0m2.5-1.7h0m5.9-1.2h0m1.2-2.1h0m5.4 2.5h0m1.6 1.5h0m3.4-3.5h0m8 2h0m.1 1.8h0m4.3-1.5h0m4.9-2.3h0m2.3 2.7h0m2.6-2.1h0m.7 4.1h0m9.5-4.4h0m2.3 .2h0m1.1-.6h0m1.2 3.4h0m6.2-.4h0m1.7-1.5h0m6 3.4h0m5.9-.3h0m4.5-4.6h0m.3 .9h0m2 3.5h0m1.8-3.5h0m1.5-.2h0m2.9 3.6h0m6.2-4.8h0m1.1 .5h0m1.7 0h0m1-.3h0m11.5 1.4h0m-164.5 5h0m5.5-.3h0m3.2-.2h0m4.2 4.9h0m6.6-5.1h0m8 1.8h0m.1 2.9h0m1.6-4.8h0m.8 3.7h0m1.1-3.5h0m.5-.2h0m.2 1.4h0m3 1.5h0m1.5 2.1h0m2.1-5.2h0m3.2 1.4h0m.7 4.3h0m.1-5.6h0m2.5 1.3h0m1.8-.9h0m1.4-.3h0m1 5h0m5.8-.9h0m10.2 1.2h0m1.1-3.5h0m2.6-1.7h0m.7 1.7h0m4.4-2.1h0m3.9 1.6h0m7.7 3.4h0m.6-1.3h0m.3-3.5h0m1.4 3h0m4.6-.5h0m.5-.5h0m1.2-.8h0m2 2.5h0m.8 1h0m3.7-4.2h0m1.1 1.6h0m1.1 1.7h0m3.8-.5h0m8.5-3h0m1.9 2.3h0m1-1.9h0m7.9 3.1h0m2.3 .3h0m5.4 .1h0m.2-3.4h0m3.8 3.5h0m3.1-3.9h0m11.6 2.6h0m.5-2.9h0m7.8 2.5h0m1.3 1.3h0m.5-.4h0m1.2-2.7h0m1.8 4.2h0" stroke="#9a6ccf" stroke-width="1.2" stroke-linecap="round" stroke-opacity="0.75"/><path d="M215.8 239.3h0m37.8 1.8h0m9.9-1.3h0m16.1 .5h0m6.1 .3h0m18.2 1.8h0m22.1-3.2h0m.6 2.3h0m.2 1.5h0m1.6-2.3h0m6.1-.3h0m.8 .4h0m9.1-.1h0m7.5-.1h0m5.9-.9h0m-140.2 6.9h0m4.1 2.3h0m2.1-.7h0m4.3-1.5h0m23.1-2.5h0m40 .3h0m30 .5h0m.9-.6h0m6.1-1.1h0m4.8 2.3h0m7.1 .7h0m1.3-1.8h0m12.7-1.1h0m.6 5.5h0m8.9-2.5h0m10.6 1.2h0m1.6-4.4h0m-161 7.1h0m12.7 3.2h0m8.9 .7h0m1.3 .7h0m6.5-2.6h0m4.2-2.4h0m.4 .5h0m4.9 3.5h0m18.5-2.9h0m9.1 2.1h0m65.1 1h0m4.1-2.6h0m15.9-1.4h0m4 4.5h0m2.1-1.7h0m1.4 2h0m-158.7 1.5h0m.3 3h0m4.9 .6h0m12.3-1.5h0m2.5 .6h0m8.5-2.7h0m1.4 1.7h0m9.4-.5h0m4.8 2.2h0m15 .8h0m13.5-3.6h0m10.3 1.7h0m6.7-2.6h0m2.7 .7h0m6.3-1.8h0m6.6 5.8h0m1.7-3h0m3.7 2.1h0m.6-4.6h0m4.4 0h0m8 4.9h0m2.1-4.6h0m1.4 3.2h0m5.9-2.9h0m4.4 3.9h0m.7-2h0m.4-2h0m12.3 3.7h0m.5-3.2h0m11.5 3.1h0m-152.6 6.9h0m5.8-.1h0m12.9-5h0m1.5 2.6h0m22.8 2.2h0m5.2-1.7h0m2.2 .7h0m7.3-1.8h0m3.3 2.4h0m2.7 .4h0m0-2.4h0m9.8-2.2h0m4.3 3.4h0m2.2 1.6h0m3.2-4.6h0m6.7 .8h0m9.4 .1h0m9.2 3.5h0m27-.3h0m11.5-3.7h0m1.6 3.3h0m6.8-2.6h0m1.7-.6h0m-160.2 9.3h0m4.9 0h0m1.2 .2h0m1.5-.3h0m35.8-2.3h0m.3-1.5h0m4.8 2.8h0m7.7-.5h0m15.4-2.7h0m1 3.3h0m18.7-1.2h0m22.6 1h0m5.9 .6h0m2.5 1.3h0m5.4-2.6h0m11.8-.8h0m.3 2.7h0m-147 3.3h0m25.3 .4h0m4-1.9h0m29.5 1.4h0m2.4 2.8h0m3.7-3.6h0m3-.6h0m.8 .8h0m2.3-.4h0m1.1 .9h0m2.7 0h0m4.1 3.6h0m17.7-3.1h0m14.6 1.4h0m.9 .7h0m8.6-3.4h0m12.6 2h0m2.7 1.6h0m25.8 1.3h0m-159.2 6h0m22.9-3.7h0m4.4-1.7h0m21.5 0h0m11.4 1.4h0m1.2 3.3h0m1.1-2.1h0m.9-2.3h0m8.7 2.1h0m2.4-2.4h0m10.6-.4h0m7.9 .2h0m4.5 1.9h0m1.7-.8h0m14.5 2.2h0m2.7 .1h0m16.3 1.7h0m26.8-2.8h0m4.3 1.3h0m-153.9 5.3h0m28.5 1.4h0m5.8-.8h0m6.5 2h0m1.1-2.6h0m3 1.1h0m.9-1.8h0m1.9-1.5h0m.2 1.9h0m33.9 .7h0m10.1-.4h0m.4 2.7h0m3.2-5.5h0m12.2 4.9h0m9-.8h0m6.1-.3h0m11.5-.4h0m18.2-.4h0m-158.3 5.1h0m14.3-.1h0m.3 .2h0m5.6-1.8h0m3.5 .3h0m5 .6h0m3.6 2.5h0m12.1-3.1h0m49.7 3.4h0m6-4h0m18.7 5.1h0m29.6 .3h0m8.7-.2h0m-153.7 4.7h0m7.6-.3h0m11.6-2.1h0m3.6 2.6h0m.2-2.8h0m12.4-.5h0m.7 2.4h0m1.4 1.9h0m.9 .1h0m11.3-4.8h0m15.1 1.9h0m19.4-1h0m5.5-.7h0m2.6-.6h0m7.4 3h0m12.5-2h0m4.3 1.9h0m8.7 1.9h0m.6-4.3h0m16.1 1.5h0m3.1 1h0m-151.3 7.6h0m15-2.7h0m3.8 .8h0m9.9 .2h0m7.5 .4h0m12.8 .1h0m11.1 .2h0m1.9 .6h0m3-3.8h0m2.2 .3h0m3.6 .7h0m5.6 .6h0m10.4 2.3h0m5.4 1.1h0m3.8-4.1h0m5.3-.3h0m8-1h0m13 5h0m3-.8h0m2.2-3.8h0m3.2 2.3h0m.9 .4h0m4.1 .3h0m20.2-3.6h0m-160.6 9.1h0m3.6-.8h0m.2 1.3h0m1.8 1.8h0m9.3-1.4h0m16.7-3.3h0m3.9 4.2h0m5.9-.8h0m1.5-2.8h0m4.7 2.7h0m4.7-.7h0m16.2-2.1h0m2.4 2.9h0m2.1-1.3h0m8.2 1.7h0m10.8-.1h0m15.2-3.3h0m1.1 3h0m2.7-3.8h0m6.3 .4h0m16.3-.1h0m2.9 4.4h0m.2 .3h0m4.9-4.5h0m8.8 4.9h0m4.4-3.5h0m13.7-1.8h0m-167.6 10.5h0m2.3-4h0m10.4 2.2h0m3.7-.7h0m6.5 2.3h0m11.1-1.1h0m1.6-1.6h0m2.2-.1h0m6.7 .7h0m.7 .2h0m18.3-2.6h0m6.4 2.1h0m.6-2.3h0m12.6 1.5h0m3.9 2h0m2.8 .1h0m9.9-1.6h0m10.9 2h0m3.1-.1h0m4.8 .3h0m16.7-3.7h0m8 2.7h0m17.2-.9h0m5.6 .2h0m-163.1 7.5h0m16.3-3.2h0m1.7 1.9h0m2.7-2.9h0m18.7 4.7h0m13.1 .4h0m.9-3.2h0m2.8-1.1h0m2.9 4h0m1.3 .8h0m.3-1.6h0m2.5-.7h0m.8 1.1h0m4.5-1.7h0m9.7 .9h0m1 .5h0m3.7 .2h0m5-.7h0m4.3 .2h0m7.6-3.6h0m5.7 4.1h0m3-3.9h0m2.4 1.4h0m.3 2.5h0m4.2-2.7h0m3.9-.3h0m7.7 .1h0m1.8 3.8h0m2.3-2h0m4.2-.4h0m3.6-1.9h0m.7 4.5h0m3.5-.3h0m.6-5h0m.8 1.9h0m6.5 .2h0m5.1 1.1h0" stroke="#fbf3fd" stroke-width="1.8" stroke-linecap="round"/><path d="M277.5 240.8h0m.4-1.2h0m69.2 .8h0m2.2 1.6h0m-89.4 1.5h0m8.9 1.3h0m22.6 .5h0m15.3 2.1h0m8.6-3.6h0m51.7 2.9h0m-118.2 5.1h0m22.4-.7h0m3.7 2.1h0m20.8 1.4h0m83.7-.7h0m-152.9 6.9h0m42.7-1.3h0m30.3 1.4h0m66.9-1.6h0m-142.2 6.7h0m68.1-2.9h0m4-.9h0m52.1 .1h0m19.9 4h0m-71.3 2.6h0m4.6-.5h0m36.8 .5h0m11.2 2.5h0m21.3 .7h0m-143.2 4.4h0m31.7 0h0m2.4-3h0m12.1 1.2h0m82.7-1.2h0m-131.2 11h0m9.1-3h0m4.8 1h0m2.8 0h0m73.3 2.3h0m13.9-5.5h0m4 1.3h0m6.5 .3h0m-123.6 8.9h0m8.1-1.4h0m5.3-2h0m9.3 .7h0m21.6 2.3h0m21.8-4.3h0m34 3.6h0m31.1-.9h0m21.8 2.2h0m6.4 .5h0m-133.1 6.1h0m.9-4.1h0m27.6 3.7h0m32.1-1.5h0m13.9 2h0m12.5 .3h0m-94.1 1.1h0m33.6 9.9h0m38.1-4h0m2 1.2h0m52.3-1.5h0m9.8 2.2h0m-142.2 7.3h0m47.8-3.9h0m9.2 5.5h0m29.9-5.3h0m21.9 3.7h0m21.7-1.1h0m3.5-2.9h0m17.1 1.3h0m-122.3 7.5h0m16 1.9h0m6.3 .4h0m36.1-2.2h0m13.7-2.2h0m14.6 3.5h0m6.4 .8h0m31.4-1.2h0m.5-2.6h0m-165.3 5.2h0m25.5 5.1h0m34.8-2.1h0m20.6-1.4h0m22.4-2.1h0m13.2 .5h0m.7 2.2h0m28.6 1.2h0m15 1.6h0" stroke="#fdf8fe" stroke-width="2.6" stroke-linecap="round"/><path d="M353,265.2L380.5,265.4" stroke="#fbf3fd" stroke-width="1.1"/><path d="M299.6,296.4L310.8,300.5" stroke="#fdf8fe" stroke-width="2" stroke-linecap="round"/><path d="M216.5,322.4H234.5" stroke="#555" stroke-width="0.6" opacity="0.7"/></g></g>
<clipPath id="cphe1"><rect x="385" y="240" width="166.8" height="86"/></clipPath><g clip-path="url(#cphe1)"><g filter="url(#soft)"><rect x="385" y="240" width="166.8" height="86" fill="#e2bcec"/><path d="M384.4 242.2h0m1.9-1.1h0m5.5 1h0m.5-1h0m4.5-1.9h0m1.4 .6h0m2.5 3.2h0m1.6-3.4h0m1.8-.5h0m.1 3.3h0m2.2-3.4h0m2 .9h0m1.7 2.1h0m3.5 .8h0m.3-3.6h0m.3 2.8h0m.8-1.6h0m.1-1h0m.7 .9h0m1.1 1.7h0m1.4 .4h0m.5-1.7h0m.2-1.1h0m.9 1.1h0m.9-.8h0m.2 2.5h0m0 .1h0m.7-2.5h0m2.7-.8h0m.1 .6h0m1.5-.7h0m.5 3.7h0m2-2.3h0m.3-1.4h0m1.8 2h0m.1 0h0m.6 .4h0m.7 0h0m.6-1.6h0m1.3 1.4h0m1.5-1.3h0m4.1 2.6h0m1.3-.9h0m1.7-2h0m.5 2.4h0m.6-2h0m.4-.3h0m.3-.6h0m.9 2.3h0m3.2-.8h0m.9 1h0m.3-2.2h0m.7 0h0m.2 2.3h0m1.2-1.8h0m1 3h0m.5-3.2h0m1.3 .2h0m.4-.3h0m.2 1.6h0m.7 1.4h0m1.2-2.1h0m.2-.6h0m2 2h0m.2-.8h0m2.3 1.7h0m1.3-1.6h0m3.9-.5h0m.1 .9h0m.1-2.2h0m.7 .1h0m.4-.3h0m.3 2.1h0m6.9 .3h0m1.3 .6h0m2.6-3.1h0m7.2 .6h0m.1 1.8h0m4.2-2.3h0m3.2 2.5h0m.7-2.6h0m3.6 1.8h0m3.2 .2h0m2.7-1.8h0m.7 .5h0m3.1 2.1h0m.2-1.1h0m1.6-.1h0m.1-1.5h0m.5 1.7h0m.3-1.8h0m3.6 2.2h0m.6-2.2h0m.6 2.6h0m.2-2.1h0m.4 3h0m3.9-2.1h0m.6 .1h0m1.8 .1h0m0 .6h0m.8-1.7h0m.3-.5h0m.3 3.6h0m1.3-.4h0m1.5 .3h0m.4-2.4h0m.3 2.5h0m.5-2h0m.3 1.1h0m.1-1.2h0m2.5 1.2h0m.1-2h0m6.6 1.7h0m1.7 .6h0m1.1-2.2h0m1.4 .8h0m6 .4h0m1.5-1.3h0m.7-.6h0m.6 0h0m1.3 1.8h0m-166.8 4.3h0m.8 1.6h0m.3 1.2h0m1.6-2h0m1.6-2.3h0m.3 2.7h0m.6-3.5h0m3.7 3.9h0m1.7-2.3h0m.3 1.6h0m2-3.1h0m.3 3.8h0m.4-4h0m.6 1.3h0m2 2.7h0m.3-2.4h0m.3-1.2h0m.9 4.6h0m.1-4.2h0m.2 2.7h0m1.7-.9h0m.3 2.3h0m.8 .7h0m.2-4.9h0m.6 2.7h0m.3 2.6h0m1.5-.3h0m1-2.6h0m1.3-.8h0m2.5 1.8h0m1.4-2.3h0m1 1.6h0m0-3.3h0m.1 3.4h0m1.9-3.2h0m.6 .2h0m.4 1h0m2 2.8h0m3-.8h0m3-2.4h0m.7 .5h0m.9-.3h0m.7 .1h0m2.9-.6h0m.6 3.4h0m1.7 1.3h0m1.6-1.2h0m.7-4.2h0m.8 5h0m3-2.6h0m.6-.9h0m.2 2.6h0m2.4-1.9h0m.3 1.4h0m.4-.6h0m1.1 .8h0m.3-2.3h0m.4-.8h0m3.4 2.5h0m.1 2h0m1-1.5h0m.7-2.9h0m.9 3.5h0m.4 .7h0m.6-2.2h0m1 1.2h0m3.4 .5h0m.7-2.4h0m.7-2.1h0m.4 3.4h0m.3 1.8h0m.6-4.7h0m.8 .5h0m.2 .5h0m2.5-1.3h0m.2 1.1h0m1.8-.4h0m.1 1h0m.7 1h0m.6 0h0m.2-2.4h0m.1 2.2h0m.5 1.2h0m.6-1.2h0m.3-2h0m.2 4.7h0m1-5.1h0m.3 4.9h0m.3-.4h0m.1-1.3h0m1.3 0h0m.8-2.9h0m2.9 4.9h0m1.1-.7h0m1.6-4.9h0m.2 4.5h0m.4 .5h0m.4-1.7h0m1.2 .3h0m1.3 2.1h0m2.3-3.5h0m.9 1.5h0m.7 1.9h0m.4-4.3h0m.3 4.5h0m.3-4.1h0m.1 3.4h0m.7-.3h0m1.8-3.8h0m.5 4.4h0m.6-2h0m.3-1.5h0m.2 2h0m.3-2.8h0m.5 1.6h0m1.7-1.7h0m.9 3.5h0m2.3-1.2h0m.8-.2h0m2.2 .5h0m1.8-3.3h0m2 1.6h0m1.2 3.5h0m.1-2.9h0m1.1-1.1h0m.3-.7h0m.9 .2h0m.5 2.5h0m.1 1.8h0m2.3-4.5h0m.4 4h0m.4-3.6h0m.1 4.6h0m.6-2h0m0 1.1h0m2.2-3.3h0m1.2 .8h0m.2 .2h0m.2-1h0m.9 2.5h0m.1-2.5h0m.3 4.2h0m1.3-.3h0m.2-1.2h0m.2 .9h0m1.8 .8h0m0-.4h0m1.4-4h0m.1-1.1h0m.8 1.5h0m.9-1.2h0m2.8 5h0m.8-.4h0m1.2 .7h0m0-5.5h0m.1 1.6h0m.9-.5h0m.7 2.3h0m1.8 .7h0m1.2-1.8h0m2.7 2.9h0m.4-1.4h0m1.2 0h0m1.4 .6h0m.6-2.1h0m1.1 2h0m1.6-3.1h0m.7-1.6h0m.6 1.1h0m.4 4h0m0-3.2h0m1.4 1.9h0m1.8-3.4h0m1.2-.3h0m1.3 4.3h0m.1-4.2h0m.7-.3h0m.3 2.5h0m1-1.6h0m.5 2.2h0m.2-2.9h0m.7 1.7h0m-168.3 5.6h0m.9-1.2h0m1.2 3.9h0m.3-1h0m.7 1.1h0m1.7-1.8h0m.1-1.5h0m.7 4.3h0m3.9-4.3h0m.1 2.3h0m.1-2.4h0m0 .6h0m.9 4.5h0m.6-3.6h0m1.6 .8h0m0-1.1h0m1.2-1.4h0m2.8 2.3h0m.9 1.5h0m1.2 1.1h0m2.8-.8h0m.3 0h0m.4-2.3h0m1.3 .5h0m2.1 .7h0m2.2-.3h0m1.2 1.8h0m3-5.1h0m1.1 .9h0m1.3 3.2h0m.2-.6h0m.7-1.6h0m1-2h0m1.4 2.4h0m0 1h0m.1-.2h0m.5-2.8h0m.5 3.2h0m1.4-2.1h0m3.4 .6h0m2 2h0m3.5-1h0m1.6 1.9h0m1.1-1.7h0m.6-.1h0m.8-.6h0m.4-1.7h0m.3 2.2h0m.4-1.5h0m2.3 1.9h0m1.5-1.8h0m.5 4.2h0m0-1.9h0m.7 1.8h0m1.2-2.7h0m.1-2.3h0m.1 .1h0m.5 .4h0m1.3 2.8h0m.5-1.1h0m.1-2h0m2.1 3.2h0m.4-3.3h0m1.3 1.6h0m.3 1h0m.7-2.3h0m.1-1.2h0m.9 5.1h0m.8-4h0m.7-.7h0m2.8 3.3h0m1-2.3h0m.4-1.1h0m1.2 4.7h0m2.1-.1h0m1.1-2.7h0m.9 .9h0m1.4-2.3h0m0 3.4h0m1.1 1.8h0m.6-.6h0m1.4-3.1h0m.1-.3h0m0 .7h0m2.5 3.2h0m3.2-2.2h0m.9-2.9h0m2.5 1.7h0m.6 .6h0m.4 .8h0m1.7-.6h0m2.1 2.4h0m1.6-.4h0m0-.2h0m.8-.3h0m.5 .9h0m.4-5.7h0m.1 4.4h0m2-2.1h0m.5 3h0m1.4-3.3h0m1.8 3.9h0m0 0h0m.2-3h0m2.6-1.6h0m.1 1.6h0m1.7 1.5h0m.6 .7h0m.1-2.5h0m1.4-.4h0m.6 .2h0m0-.8h0m.2 2.6h0m.1-.2h0m.5-2.7h0m1.8 4.7h0m.6-2.5h0m2.1 1h0m1.7-1.9h0m.6 .7h0m.1 .2h0m.6 .9h0m.1-2.4h0m.7-.5h0m3.3 .3h0m.9 1.7h0m.6-2.1h0m1.3 1.6h0m1.9-.9h0m5.3 1.2h0m.3-1.2h0m.2 .6h0m.8 1.5h0m.3-1.1h0m4.5 .9h0m1.3-2.5h0m.8 2.4h0m.1 1.8h0m1.2-.9h0m.6-4.3h0m.1 3.3h0m.2-2.9h0m1 1.9h0m2-.9h0m.6-1.9h0m2.5 2.5h0m.4 2.8h0m2.2-4.6h0m0 1.4h0m.2 3.2h0m1 .6h0m2.5-.8h0m1.8-.9h0m.1-1.6h0m1.9-2.5h0m1.3 1h0m.2 2.2h0m.1 .2h0m.2-2.4h0m.2 3.7h0m0-2.5h0m.1 3.1h0m.6-1.2h0m.1 1.6h0m.3-2.2h0m1.4 2.1h0m-167.7 .7h0m.1 2.9h0m1.6-2.2h0m1 2h0m1.1-.3h0m.9-1.5h0m0 .8h0m1.2 1.9h0m1.3 .1h0m.4-1.8h0m.2 2.4h0m0-4.1h0m3.1 4.9h0m0-2.5h0m1.6 .8h0m.2 1.6h0m1.4-1.7h0m.2-2.2h0m1.3 2.3h0m.6-3.3h0m.2 .3h0m.5-.4h0m.2-.3h0m.6 5h0m1.2-1h0m.1 1.9h0m2.6-4.1h0m.3 2h0m.6-2.2h0m0 3.2h0m.3-1.5h0m.1 1.9h0m2.9-4.2h0m.3 2.1h0m.1-1.5h0m.2-1.6h0m.5 2.9h0m1.7-1.6h0m1.3 3.9h0m.5-1.4h0m.9-1.2h0m.7-1.9h0m2.4 4.2h0m.1 .8h0m.5-2.8h0m2.5 2.3h0m0-.4h0m2-2.2h0m.1-2.5h0m1.3 1.7h0m.4 2.9h0m.6-2.2h0m2.2 2.7h0m3.3-5h0m1.2 1.1h0m1.1 1h0m.8 3.6h0m.9-4.6h0m.7 1.6h0m.5 2.6h0m.4-.3h0m.1-.9h0m1.5 .1h0m.6-.7h0m.5 1.1h0m.2 .1h0m2-4.4h0m1.3 4.6h0m.2-2.8h0m.9 .2h0m.2-1.5h0m.7-.8h0m.4 4.5h0m.2 1h0m2.8-.6h0m.7-.6h0m2.9-.8h0m.2-3.5h0m.1 .8h0m2 .5h0m.3 4.1h0m.1-1.3h0m.4-2.7h0m.3 2h0m2.7 1h0m1.9 1.2h0m2.2-3h0m1.3-2.4h0m1.2 3.8h0m.4-3.7h0m1.7 .9h0m.4 3.7h0m.8-4.4h0m.5 5.1h0m2.2-5.3h0m.4 1.7h0m.5-2.3h0m.7 4.7h0m.8 .8h0m1.1-.5h0m.6-4.4h0m2.6 5.1h0m1.2-1.1h0m.8-3.4h0m.4 1.3h0m.4 2.9h0m.3-1.1h0m1.6 .3h0m.1 .4h0m2.6-2.7h0m.5-.5h0m1.5 3.3h0m.9-3.1h0m.4 3.5h0m2.8 0h0m.5-2.5h0m1 1.8h0m2-4.7h0m.5 5.7h0m1.1-1h0m.1-1.3h0m1.7-.1h0m.6-2h0m1.6 1.1h0m.1-1.5h0m.7 .7h0m.1 3.6h0m.1-1.8h0m.2 .9h0m.7-1.5h0m.2 1h0m1.7-1.2h0m2.6-2.5h0m.5 3.9h0m1.4 .7h0m.7 1h0m2-.3h0m.7-3.5h0m1.5 2.1h0m.5-1.1h0m0 2.9h0m.5-.5h0m1.6-3.7h0m.8 .7h0m.4 2.2h0m.4-1.2h0m.2-3.4h0m.4 3.6h0m.1 1.3h0m.9-3.3h0m0-.5h0m1.6-.1h0m.5 .7h0m.8 .3h0m.7 1.9h0m.3-1.4h0m.4 1.5h0m.9-.2h0m.8-.1h0m1.6 2.2h0m1-1.2h0m1.4-4h0m1.1 1.9h0m1.2 1.4h0m1.2-2.7h0m.2 4.2h0m.8 .5h0m.7-.8h0m1.6-2.5h0m.5-.4h0m.6 1.3h0m.3 .6h0m.4-4.2h0m.2 1.1h0m.2-1h0m.4 3.3h0m0 1h0m1.3-3.6h0m0 1.9h0m2.5 2.1h0m1.5-.6h0m1.7 .3h0m1.7-3.6h0m.8 2.9h0m2.8-1.6h0m.5 2.4h0m-167.3 5.5h0m.8-.2h0m.6-.1h0m.7-.2h0m.9-3.3h0m1.2 3.1h0m1.2 .2h0m0-3.1h0m.2 3.5h0m.9 1.8h0m1-2.1h0m.4 1.9h0m.7-.5h0m.2-1.5h0m1.7-1.2h0m1.1-1.9h0m.5 2.1h0m1.7 .1h0m2.4-.2h0m0-1.9h0m.5 1.6h0m.5-1.3h0m.2 1.5h0m1.4-.9h0m1.7 3.1h0m4.3-1.8h0m1.7 .8h0m.8 .9h0m1.4-.1h0m.2-1.2h0m.7-3.2h0m.4 2.5h0m.6-1.8h0m1.6 2.5h0m.4 2.6h0m.8-4.6h0m1.4 3.6h0m.3-4.7h0m.5 0h0m1 2.3h0m1.6 2h0m2.9 .8h0m.4 .2h0m.7-4.4h0m0 4.1h0m.2-4.7h0m.8-.4h0m.8 .2h0m1.6 4.2h0m1.3-3.3h0m.7 2.1h0m0 1.2h0m1.1-.3h0m2.3-2.7h0m0 3.9h0m.6-.2h0m.9-2.9h0m.1-.6h0m1.4 1.7h0m.5-2.9h0m2.7 5.3h0m.1-5.2h0m.5 1.5h0m1.1-2h0m1.3 3.3h0m1.3 .4h0m.5-3.6h0m1.5 2.1h0m.4 3.7h0m.8-3.1h0m.2 1.2h0m3.9 1.1h0m.5-3.3h0m4.1-.9h0m1.2 2.5h0m.3-2.9h0m3.5 4.8h0m.7-3.3h0m.6 2.5h0m1.2-4.3h0m.5 3.9h0m.4-2.6h0m3.4 1.1h0m1.2 .5h0m.6 2.6h0m.2-2.8h0m.1 2h0m2.5-3h0m.6-.3h0m.1 4.2h0m.1-2.9h0m.3 1.3h0m3.1 .5h0m.7 0h0m.4-3h0m.9-1.2h0m0 5.3h0m1.4 0h0m.5-4.7h0m.2 4.6h0m3.2-4.2h0m1 2.5h0m.4-2.9h0m.7 2.1h0m.1-3h0m.9 1.8h0m1.1 .1h0m.2-.4h0m.3 3.9h0m.6-4.2h0m.2-.8h0m0 4.2h0m1.9-4.2h0m.9 .2h0m.7-.2h0m.4 1.4h0m.2 3.4h0m.7-2.4h0m.4 2.4h0m.6 .1h0m.2-2.4h0m.1-1.4h0m.3 .8h0m.1-.8h0m.2 .9h0m1.7-.2h0m.5-2.4h0m.9 1.5h0m.6-.3h0m1.8 2.1h0m.2 .6h0m4.4 1.7h0m.2-4.3h0m.2 .9h0m.4 3h0m1.4-.7h0m.2-2.2h0m2.6-1.7h0m.4 1.6h0m.4 1.7h0m.2-.9h0m2.5 1h0m.2-.9h0m1 1.4h0m.5-2.5h0m1.8-.5h0m.2 .5h0m2.7 1.5h0m.6 .4h0m.1 .8h0m2.7 .1h0m1.4 .3h0m.2-1.8h0m0-1.7h0m.1 1.1h0m.6-1.6h0m.2 3.2h0m.4-.9h0m.5-.1h0m1.5 .2h0m.7 2.2h0m.3-3.4h0m.1 2.1h0m.5 1.2h0m2.5-.6h0m.4 .9h0m2-3h0m1 1.9h0m.2-3.8h0m.9-.3h0m5.1 2.1h0m.6 .4h0m.1 .3h0m.2 0h0m.9 2.4h0m0-.6h0m1.2-4.9h0m.2-.3h0m.2 1h0m1.7 4.9h0m1.1-4.9h0m-166.8 7.5h0m2.5 1.9h0m0-.2h0m1-1.5h0m1.9 2.9h0m.3-.1h0m.4-1h0m.6-4.1h0m4.1 1.9h0m.3 .5h0m.6-1.8h0m.9 2.5h0m1.1-1.1h0m2.8-1.7h0m1.7 .8h0m1.6 3.5h0m.1-.8h0m1.3-3.4h0m.1-.8h0m.3 2.1h0m.9 1.6h0m.1 1.9h0m2.6-.1h0m2.6-4.1h0m.8 .1h0m1.2 3.3h0m.1-4.6h0m.4 .2h0m2.5 2.1h0m2.1 1.1h0m2 1.2h0m.2-1.1h0m.6-3.1h0m.1 2.5h0m.7-.8h0m1.8 2.7h0m1.4-3h0m1.4 1h0m.3-1.7h0m3.6-.8h0m1 1.9h0m.1 .5h0m1.6 .9h0m4.4-3.6h0m.1 3.6h0m.2-1.9h0m.7-1.5h0m.3 2.1h0m2.1-.2h0m.8 .5h0m.7-1.2h0m.8-.8h0m1.4 4h0m.8 .8h0m.3-2.7h0m.9-.8h0m.7-.8h0m.6 1.1h0m.3 1.6h0m1.2-3.1h0m.3 1.9h0m.2-1.4h0m.6-.7h0m.1-.6h0m1.6 .4h0m3.4 4h0m.3-.1h0m.8-.6h0m.8-3.1h0m.3 2.6h0m.2-.9h0m1.1 2.4h0m0-2.2h0m.7 2h0m1-.1h0m.4-4.3h0m.5-.2h0m.6 1.3h0m.1-.2h0m.4 4.1h0m2.3-2.2h0m.1-2.2h0m.4 4.7h0m.2-2.9h0m.2-1.8h0m.2 .1h0m2 4.4h0m1.9 .4h0m1.5-.5h0m.3-3.5h0m.3 2.2h0m.7 1h0m6.7 .2h0m.6-4.5h0m.6 4.8h0m5.6-5h0m.6 1.7h0m.1 1.3h0m.2 1.6h0m1.6-2.7h0m.5 1.4h0m.3-2.1h0m.9 .9h0m.6 .3h0m4.2 2h0m0-2.4h0m2-2.4h0m.4 1.8h0m1.6 3.8h0m.6-.1h0m1.7-1.9h0m.7-.8h0m1.3 0h0m.1 .2h0m.1-.9h0m.2-1.9h0m1.3 3.5h0m0-.9h0m.4-1.9h0m1.1 4.4h0m.9-2.4h0m.6-.1h0m2.8 2.8h0m2.1-2.4h0m1 1.7h0m1.4-4.4h0m.2 5.2h0m.1-.3h0m.7-1.1h0m1-2h0m.5 1.9h0m.6-3h0m2.2 2.2h0m1 2.3h0m.2-3.2h0m.2-.3h0m.1-1.1h0m2 4.7h0m2.5-1h0m.2-2.9h0m.6-1.9h0m.1 5.8h0m1.3-5.2h0m.4 2.1h0m.2 0h0m5.1 3.2h0m2.4-4.2h0m1.3 3h0m.5-.5h0m.5 1.6h0m1.5-5.1h0m.6-.6h0m2.1 4.7h0m1.1-4.1h0m2.5-.4h0m.4 .2h0m2.4 2h0m.8 .5h0m-166.5 4.6h0m.6 1.5h0m2.3 2.2h0m.9-.4h0m6.3 .3h0m.5 .3h0m.4-3.6h0m0-.3h0m1.1 2.8h0m1.8 .1h0m1.2-1.5h0m.6 1.1h0m2.6-2.1h0m.6-1.9h0m.1 .3h0m1 3.8h0m1-1.8h0m1.3 2h0m.1-3h0m1.4 4h0m0-1.8h0m.1 .1h0m1.2 1h0m.9-.6h0m1.1-3.1h0m.8 4.6h0m3-5.4h0m2 4.7h0m.7-2.3h0m3-.8h0m.3 3.8h0m.4-.1h0m1.3-2.5h0m1.7 1.7h0m1.2-1h0m.1 1.4h0m.1-.9h0m.4-3.1h0m.2 4.7h0m1.2-5.3h0m1.7 2.6h0m1.9 .7h0m.7-3.2h0m.1 3.1h0m.3 1h0m.8-2.6h0m2.3 1.7h0m.5-2.2h0m.3-1.1h0m2.9 4h0m.2 .5h0m.4-2.6h0m1.1-.2h0m.5 .6h0m2.3 2.4h0m1.6-1.5h0m.3-3.7h0m1 1.9h0m.1-2h0m.3 1.5h0m.5-.3h0m.6 1.2h0m1 3h0m.4 .4h0m.5-2.5h0m2.1 .5h0m0-1.5h0m1.9-.4h0m1-.9h0m.3 4.5h0m.3-4h0m1.3 1.3h0m2 2.1h0m.5-1.1h0m.2 1.6h0m1.2-.6h0m4 .1h0m.1-2.2h0m.9 .5h0m.5-1.2h0m1.7 2.4h0m.7-1.6h0m.3-.9h0m2.3-1.6h0m.2 5.5h0m.1-4.7h0m.6 1h0m.1-.8h0m.8 1.7h0m1.7 .8h0m2.4-.1h0m.1-3.3h0m1.9 3.1h0m.3 1.4h0m.7-1.6h0m1.2-2.9h0m.3 4.3h0m1.5 0h0m.3-1.8h0m.1 2.4h0m.6-3.4h0m2.3-1.4h0m1.6 3.1h0m.5-2.9h0m1.5 4.8h0m.6 0h0m.1-4.4h0m.1 2.5h0m.3-.2h0m.1 .7h0m.1-2h0m.1-1.5h0m2.1 3.3h0m.7-1.2h0m.3 1h0m5.9 1.5h0m3.1-4.7h0m1 1.3h0m.3 3.2h0m.3-4.8h0m.9 3.5h0m.1-1.4h0m1.7 1.9h0m1.5 .5h0m2.1-4.2h0m.1 2.6h0m.3-1.6h0m1.1 1.1h0m.8 .7h0m1.4 .3h0m.4 1.2h0m.8-4h0m.5 2.7h0m3.9 2.2h0m0-5h0m.3-.3h0m.3 5.2h0m.4-3.4h0m3.3-1.5h0m3 0h0m1.6 4h0m.4-2.8h0m.3-1.7h0m2.1 2.2h0m.2 2.8h0m.6-4.9h0m.1 1.7h0m0 0h0m.1 3.4h0m2-1.9h0m1.7-2.9h0m2.7 4.9h0m4.5-1h0m.7-1.7h0m0 .2h0m.6 2.6h0m.1-5h0m.9 .9h0m4.1 3.5h0m-167 2h0m.3 4.2h0m.3 .3h0m0-3.3h0m2 2.9h0m1.4-2.2h0m.8 1.8h0m.1-2.1h0m.6-2.5h0m1 5.9h0m.8-1.1h0m.1-3.7h0m.8 1.7h0m.2-1h0m.1 2.5h0m.7-3.5h0m.2 0h0m.1 1.2h0m.4 3.8h0m2.1-3.4h0m.3 1.6h0m2.1-.3h0m.8 2.2h0m.4-3.2h0m.1-.6h0m1.9 1.6h0m.3-2.8h0m0 4.4h0m.3-5h0m.5 3.1h0m1.3 .7h0m.7-2h0m.7 1.5h0m.1 2.2h0m.1-3.4h0m.2 1.4h0m.4 .8h0m.3-3.4h0m.3 4.6h0m.6-2.3h0m1.2 2h0m.1 0h0m.7-.1h0m4.9-3.8h0m0-.8h0m.6 3.5h0m.1-.7h0m.3-2.5h0m.1 4.6h0m.6-5.6h0m1 5.7h0m.4-.7h0m0-4.7h0m.1 3h0m1.2 .5h0m1-1h0m.4-.4h0m1.7 2.6h0m.3-2.4h0m2.2-.1h0m.4-1.5h0m.8 1.7h0m1.4 1h0m.3-.9h0m.7 2h0m.2-3.8h0m.1 .9h0m.5 2.6h0m2.5 .1h0m4.1-4.2h0m.7-.1h0m.1 5.1h0m0-4.5h0m.6 1.5h0m1-1.5h0m.5-.6h0m1.3 2.2h0m.6 .8h0m4.6-3.1h0m.2 4.2h0m1.6-3.5h0m.2 1.6h0m0 2.8h0m2.5-3.7h0m.3 2.8h0m.6-3.1h0m.4 2.1h0m.1 1.1h0m1.8-4.1h0m4.2 0h0m0 2.7h0m1.5 .8h0m.1-2.2h0m.2 2.1h0m2.5 1.9h0m.3-.7h0m1.9-1.2h0m1.4 1.4h0m1.3 .3h0m.4-3.2h0m1.4-2.4h0m1.6 4.6h0m2.7-3.4h0m.2 1.4h0m.2-1.6h0m.6-.6h0m1.3 5.2h0m0-2.3h0m1.4 2h0m.4-4.5h0m1.1-.3h0m2.5 2.5h0m.1-2.8h0m.2 4.7h0m.2-4.7h0m.7 4.1h0m2.5-3.3h0m.6-.9h0m3 5h0m.9-2.8h0m1.6-.8h0m.6-1.6h0m.6 3.4h0m.1 2.3h0m.2-2.8h0m1.7 .3h0m.7 2.5h0m.2-.6h0m1.1-2.1h0m.8 2.1h0m.3-3.1h0m2.6-.7h0m2.4 3.1h0m.9-4.1h0m.3 2.2h0m.2 3.5h0m1.6-4.7h0m.2-1.2h0m.3 5.2h0m0-4.1h0m1.9 1.6h0m.2-.2h0m.3-.3h0m4.3-1.2h0m2.8 3.3h0m2.5-4.1h0m.3 2.6h0m1-2.2h0m.9 2.1h0m.2 1.2h0m.4-2.7h0m.6 .5h0m2.2 2h0m.1-3.3h0m1.8 3.5h0m.7 1.5h0m2.2-3h0m.6-2.1h0m.9 2.2h0m.9 3.1h0m.7 .3h0m.1-3h0m1.3-.8h0m1.9 2.2h0m.1-3.6h0m1.3-.7h0m.1 4.9h0m1-3.7h0m.9 3.9h0m.2-4.2h0m.3 4.8h0m.9-3.4h0m.6 1.7h0m1.9-2.9h0m.7 4.1h0m2.1-1.1h0m.4 .5h0m.2-3.1h0m.2-1h0m1.7 0h0m.2 4.6h0m.7-.2h0m.5-1.8h0m.2 .7h0m1 1.4h0m.2-.7h0m2.2 1.1h0m.4-5.6h0m-168.5 11.1h0m.3-.5h0m1.1-3.9h0m.2-.5h0m.5 1.2h0m1.7 3.6h0m.9-.2h0m.2-1.8h0m3.2 1h0m.5-1.2h0m1.4-2.1h0m.8 4h0m.4-.3h0m2.4 0h0m.7-3.6h0m.2-.2h0m.3 1.3h0m.5-1h0m.1 4.9h0m.6-4.7h0m2.3-.3h0m1.1 2.8h0m.2 1.3h0m2.4-3.4h0m1.2-.9h0m.4 3.5h0m1.2 1.6h0m1.1-.5h0m.5 .3h0m1.2-1.3h0m1-2.2h0m.3 .4h0m.1-1.6h0m.5-.3h0m2.1-.1h0m.9 4.9h0m.6-1.9h0m.9 2h0m1.1-5.3h0m.9 1.1h0m.6 3.1h0m.4 1.2h0m1.3-3.7h0m.4-.5h0m3.7 3.2h0m1-3.6h0m2.2-.8h0m.3 1.3h0m1.7 3.3h0m1.2-2.4h0m1.7 .1h0m.2-1.1h0m2.2 2.7h0m.4-3.3h0m.2 .5h0m1.5 4.4h0m.6 .1h0m.4-4.2h0m.5 1.5h0m1.5 2.5h0m.3-3.3h0m1 1.3h0m.1 .2h0m.9-2.5h0m0-.4h0m3.1 4.5h0m.4-4.5h0m1.1 2h0m.3 2.5h0m0-3.5h0m1.7 3.4h0m1.4-4.9h0m1.3 .1h0m1.6 1.6h0m.1-.9h0m2.3 .2h0m.2 4.1h0m.6-4.7h0m.4 2.4h0m4.4 1.4h0m4.8-4.3h0m.4 1.2h0m1.4-.3h0m.9 3.3h0m.9-3.9h0m.1 .8h0m.7 1.3h0m4.4 1.5h0m.5-3.2h0m.1 .3h0m.3 1.6h0m1.3 2.5h0m.4-.4h0m2.4 .5h0m2.2-5.1h0m.3 2.4h0m.1-2.4h0m2.5 1.3h0m.6 4.1h0m1.8-4.2h0m1-1.1h0m1.8 4.4h0m.7-4.3h0m.2 3.8h0m.7 .2h0m.8 1.3h0m2.7-5.6h0m1.3 3.4h0m1.3 1.2h0m.2-3.9h0m1.1 3.8h0m.3-4h0m.5 4.1h0m.2-.3h0m.7-2.4h0m1.4 1.7h0m0-.6h0m1.1-.7h0m.2-1.9h0m2.7 1.8h0m1.1-1.1h0m.7 2.4h0m.7-.2h0m.2-.9h0m1.3 1.2h0m.8-.5h0m0 .1h0m.6-.8h0m.6 .9h0m.6-.9h0m.2 1.5h0m.2 1.1h0m1.9-.8h0m.6-4h0m.1 2.1h0m1.5-1h0m1.4 .1h0m1.6 3.3h0m.1 .6h0m1.1-2.4h0m.9 1.6h0m.3-.7h0m.3-1.1h0m.3 .9h0m.2-2.6h0m.3 2.5h0m2-1h0m5.5 1.7h0m.4 .9h0m.5-3h0m.5 2.6h0m.8-.9h0m1.4-2.8h0m.1 1.6h0m1.2-.2h0m1.6-.7h0m.1 2.1h0m.9 1.4h0m.3-2.8h0m.1-2.3h0m.1 .8h0m.8 .9h0m.7 1.9h0m.3-.5h0m1.3-.9h0m1.8 1.1h0m.4-2.9h0m.4 3.4h0m.9 .8h0m.2-4h0m0 2.1h0m.1-1.3h0m1.5 2.6h0m.1-1.6h0m1.9 2.1h0m-167.1 1.4h0m.2 4.1h0m1.5-3.1h0m.1 .4h0m.9 3.9h0m1.2-2.9h0m.1 2.4h0m4.7-1.4h0m.3-3.7h0m.8 4h0m1.3-3.9h0m.8 1h0m.8 3.3h0m1.5-1.4h0m0-.6h0m0-1.6h0m3.1-.4h0m.2 .2h0m.4 3.2h0m.1-.7h0m.7-2.1h0m1-.7h0m.2 1.9h0m1.5-.6h0m1-1.5h0m.5 3.4h0m1.9-1.6h0m1.4 2.4h0m.6-1.2h0m.1 .4h0m.5-.6h0m.8-1.3h0m.1 2.3h0m3.1 1.4h0m.7-.2h0m2.2-3.7h0m.7-1.1h0m.4 2.9h0m2-2.8h0m1.3 4.3h0m1.8 .2h0m.2-2.1h0m1.6-1.1h0m.3-.6h0m.4 3.3h0m2.4 1h0m3.9-3.7h0m.3 3.3h0m.7-4.6h0m.1 2.8h0m.4-.2h0m1.5 .5h0m.8-1.4h0m.8-.3h0m.1 3h0m1.4-2.8h0m.6-1.6h0m.2 2.5h0m.2-2h0m0 2.4h0m1.1-.9h0m.4-.1h0m.4-.2h0m.1 2.3h0m.4-4.3h0m.4 3.1h0m.1-1.3h0m.3 1.3h0m.3 1.7h0m.8-4.8h0m.1 4h0m.9-.2h0m.4-3.5h0m1.2 .4h0m.1 3.5h0m.1-2.8h0m0-1.2h0m.7 1.8h0m.8 1.7h0m1.3 .7h0m1.1 .8h0m1.7-4.6h0m.1 4.5h0m0 0h0m0-1.9h0m1.2 1.3h0m.1-1.5h0m.1 2.6h0m1-5.1h0m.1 1.5h0m.1 1.2h0m.2 .3h0m.3-1.4h0m.5-.3h0m0 3.3h0m2.6-4.2h0m1.9 2h0m.8 .7h0m1.5 1h0m2.1-2.9h0m.3-1h0m3.3 3.3h0m.9 0h0m.4-2h0m.8-1.7h0m1.3 .2h0m1.5 1.3h0m1.8-.6h0m.4 .9h0m.6-1.6h0m.3 4.7h0m.3-5h0m0 .9h0m.4 1.3h0m.6 2h0m0-1.1h0m3.1 1.6h0m.6 .4h0m.2-1.2h0m.8-.1h0m.1 1.8h0m2-.9h0m1.2 .9h0m1.7-4.6h0m.4 .3h0m4.2-.4h0m.8 4.5h0m.5-1.1h0m.5-3.2h0m0 4.4h0m1.4 .1h0m2.4-4.1h0m.6 .5h0m.9 3.5h0m1.5-.8h0m1.4-1.3h0m.7-3h0m.4 1.9h0m.2 .8h0m2.5-1h0m1.8 2.6h0m.3-1.7h0m0-2.1h0m0 .7h0m.2 1.8h0m.2-2.1h0m5 .3h0m.5 1.1h0m1-1.3h0m.1 3.7h0m1.6-2.9h0m1.7 1h0m1.3 1.6h0m.7-3.2h0m.8 .7h0m.5 2.4h0m.9-2.9h0m.1 2.6h0m.8-4.6h0m2.3 3h0m.9 0h0m.5-1.2h0m1.6 0h0m1.9 2.7h0m1.2 1.2h0m1.5-.9h0m.7-2.4h0m.7-.8h0m.1 1.8h0m2.5-2.5h0m0 1.1h0m2.8 2.3h0m0 1.1h0m1.3-.4h0m1-.7h0m.8-1.6h0m.5 .1h0m.9-1.7h0m.2-.1h0m2.6 2.4h0m.3-2.4h0m1.7-1.1h0m.2 1h0m-167 9h0m.3-3.1h0m1.5 2.4h0m0-.4h0m.5-.2h0m.6-2.5h0m2.5-.1h0m.1 3.1h0m.1 .2h0m1.8-1.4h0m1.7 .3h0m2.2 3.1h0m2.1 .3h0m1.4-3.7h0m1.1-1.4h0m.4 0h0m.4 4.4h0m.1-4.9h0m.9 2.6h0m3.1-2.3h0m.2 3.1h0m1.2-.1h0m1-1.7h0m1.4-1.3h0m.5 4h0m1.8-1.4h0m3 .9h0m.3 .9h0m.9-4.2h0m1 4.4h0m.4 .6h0m1-5.2h0m.3 4.9h0m1.1-2.3h0m.1-.4h0m.3 1.2h0m1.1 .7h0m.3-3h0m0 2.7h0m1.5 1.4h0m1.2-3.8h0m.6 .4h0m.2-.9h0m0 0h0m.6 3.5h0m1.4-4.1h0m.3 3h0m1.3-3h0m0 .6h0m.6 2.4h0m.8-2.2h0m.1-1.2h0m2.5 1.4h0m3.2-1.3h0m.1 4.9h0m.6-4.7h0m.5 .2h0m.9 4.2h0m.6-.2h0m0-1.9h0m.1 2.5h0m.5-4.6h0m0 2.9h0m2.8 .3h0m.7-.9h0m.1 1.3h0m1.4-4.2h0m1.9 5.1h0m1-.5h0m.3-2.6h0m.9 1.5h0m1.6 .9h0m3.4-2.7h0m1 .2h0m.5 2h0m2.5-1.9h0m.3 1.7h0m.3 .4h0m1.8-2.1h0m.4-.9h0m2.5 2.4h0m.4 1.6h0m.8-5.2h0m.8 3.6h0m.6 .3h0m1.1-2.9h0m.8 2.2h0m1.5-1.7h0m2 2.1h0m.6 1.3h0m1.3-.4h0m.2-2.6h0m1.6 2.3h0m1.4-2.3h0m.2 .5h0m.4-1.5h0m.1 4.1h0m.9-1.8h0m.1 1.9h0m1.8 .5h0m.5-.9h0m2.9 .2h0m.4-2.5h0m.8 1.6h0m1.5 0h0m.3-1.3h0m.4-.2h0m1.5-.9h0m1.1 3.4h0m.3-1h0m.4-.1h0m.8-3.9h0m.3 2.6h0m.5 1.2h0m1.3-.8h0m.5-.1h0m.1 2.3h0m.9-3.4h0m.4 3.4h0m1.9-4.5h0m1.7 3.7h0m.6 .6h0m.2-2.7h0m1 3.1h0m1-4.6h0m.4 .7h0m1.1 3.4h0m1.7-3.6h0m.6 4.1h0m.3-3.8h0m.7 3.3h0m.4-2.7h0m.6 2.7h0m1.1 .7h0m.4-4.6h0m1.1 4.8h0m.3-1.4h0m1.8-2.2h0m2.3-1.2h0m.1 .9h0m1.7-.6h0m2.9 1.5h0m.4 .4h0m1-1h0m1.4 1.2h0m.9-.6h0m3-.5h0m0-.6h0m2 .5h0m.6-.8h0m2.5 .8h0m.3 1.4h0m.6-2.8h0m1.1 1.7h0m1.9-1.3h0m.9 2.8h0m.1-1h0m6-1h0m.2 3.5h0m.7-4.2h0m4.2 2.2h0m.3 1.6h0m.5-1.7h0m.4-2.5h0m2 1.8h0m.2 1.2h0m.2 .1h0m.5-.9h0m.2 1.2h0m1.8-2.8h0m.4 2.1h0m.5 1.9h0m.6-1.3h0m-168.5 3.6h0m.8-.6h0m.2-.7h0m3.3 1.3h0m.3-.8h0m.9 3.7h0m.3-4.7h0m.4 .5h0m0 1.3h0m.4-1.5h0m.1 .2h0m.2 4.1h0m1.9-.3h0m1.8 .5h0m.2-1.3h0m.2-1.4h0m.2 1.7h0m1.6-3.8h0m1.3 4.1h0m.7-1.6h0m0 2h0m1.5-3.3h0m.5 .1h0m3.5 2h0m.9-1.6h0m.2 .8h0m.8-.7h0m0 .2h0m2.2-.8h0m1.5 .1h0m0 3.4h0m.9-3.2h0m1.8 3.9h0m1-5.2h0m.8 .2h0m.5 1h0m0-.2h0m.1 3.8h0m.6-3.7h0m.5 1.8h0m0-1.1h0m.7 1.1h0m1-.3h0m1.9 1.4h0m4.2 .5h0m2 .7h0m.2-2.5h0m0-.8h0m.2 2.7h0m.1-3.3h0m2.1-.1h0m.5 2.9h0m1.6 .7h0m.3 0h0m1-3.4h0m1.3 2.1h0m2.6-1.4h0m.2 1.3h0m.1 1.1h0m1-2.9h0m.4 2h0m1.3-2.4h0m.2-.3h0m.1 1.7h0m.2 2.6h0m2.2 .3h0m.1-1.3h0m.5-2.8h0m0 .7h0m.1-1.6h0m0-.6h0m.2 5h0m.5-3.5h0m.7 1.8h0m.7-3.3h0m.6 3.6h0m2.5-2.4h0m1 3.1h0m1.1-3.2h0m.1 4.5h0m0-.2h0m.1-5.4h0m.3 2.1h0m3.4 .7h0m3.1-2.2h0m.6 1.6h0m.4 2.8h0m.6 .5h0m1-4.1h0m.1 .4h0m1.2 1.5h0m0 2.2h0m.9-4h0m.9 2.5h0m3.2 1.2h0m.9 .5h0m.9-5.8h0m1.9 1.6h0m1.5 3.1h0m.3-3.7h0m3.1 4.8h0m.2-4.1h0m2.8 1.7h0m1.2-3h0m.4 4.3h0m.9-1.9h0m4.8 .1h0m.7 2.6h0m0-3.3h0m.5 3.1h0m.6-2.3h0m1.1-.7h0m.9-1.1h0m.4-1.1h0m.9 5.7h0m.4-2.8h0m1 .3h0m0 .2h0m2.3 2.4h0m1.5-2.2h0m.9 .6h0m.7-3h0m.1 .2h0m1 .6h0m0 .9h0m.3 .5h0m0 2h0m1.2-1.9h0m.7 1.9h0m.1-1.2h0m.4-1.8h0m.1-2.6h0m.4 5.9h0m1.2-3.8h0m.3 2h0m.3-2.2h0m1.4 3.5h0m.8 .2h0m.7-1.6h0m.1-3.8h0m.8 5.3h0m2.8-4.1h0m.5 4.5h0m.3-5.2h0m.8 2.9h0m1.6-2h0m.2 2.6h0m1.3 .3h0m.9 1.4h0m.2-1.7h0m2.1-1.5h0m.4-2.1h0m.5 4.8h0m4-4h0m.5 3h0m0-1.3h0m.1-.7h0m2.3-2.1h0m1.6 .3h0m.8 2.6h0m1.5-2.2h0m.1 1.3h0m1.3 .9h0m.8 0h0m.3 2.7h0m.4-4.2h0m.9-1.1h0m.7-.1h0m1 .3h0m.7 3.6h0m.2 1.5h0m.2-3.2h0m.6-2.2h0m.6 1.7h0m1.2 1.3h0m1.1-2.4h0m.1 3.5h0m.2-2.8h0m1.1 4h0m.7-.9h0m.7-4.6h0m.4 5.3h0m.4 0h0m.4-.5h0m1.8-3.2h0m.2 .8h0m.7-1.8h0m2.5 4.9h0m-163 5.9h0m2-3.6h0m.9 3.9h0m2.5-5.4h0m0 4.1h0m.7 .3h0m.3-.4h0m.1-.9h0m.5-2.4h0m.3 1.7h0m.2-.2h0m1.5-.9h0m5.3 1h0m.2 0h0m1.5-2.3h0m.5 4.3h0m4.3-3.7h0m.7-.7h0m1.3 3.9h0m.7-1.8h0m.2-1.4h0m4.2 4.7h0m2-2.1h0m.2 1.4h0m1-2.8h0m2.6 3.6h0m.2-4h0m.2-.5h0m.7-.6h0m.9-.3h0m.9 5.4h0m1.1-1.1h0m4.8-2.4h0m.6 2.3h0m.4-1.8h0m.3-1.1h0m.6 1.6h0m3.6-.7h0m.5 1.9h0m.6-1.2h0m.1-3h0m3.5 5.2h0m.3-2.1h0m1.5 1.2h0m2.8-3.6h0m.8-.8h0m1.1 .6h0m.6 2.6h0m1-1.8h0m.1 3.5h0m.6-1.1h0m0-3.2h0m.2 2h0m0 2.3h0m3.8-.4h0m.6-2.6h0m.8-1h0m.8-.4h0m1.7 .3h0m1.3 2.7h0m2.2-1.4h0m.9 3.2h0m.5-1.2h0m.1 0h0m.2-1.4h0m.2-2.8h0m.3 1.9h0m0 0h0m.5 3.5h0m.2-5.4h0m.1 0h0m.4 2h0m1.1 0h0m.4-.1h0m.9 .4h0m.6 0h0m.4-1.9h0m5.5 4.3h0m.1-3.3h0m2.9 2.9h0m.6-.2h0m.6 .5h0m.4 .8h0m.1-3.4h0m0-2.1h0m.5 1.2h0m.2 2.2h0m.6 2.2h0m.1-5.6h0m1.4 .7h0m.2-.6h0m1.2 2.3h0m.3-1.6h0m.3 3.9h0m1.3-4.2h0m.2 3h0m.2-2.7h0m0 .5h0m.5 3.7h0m.1-3.3h0m1 3.9h0m.5-2.7h0m1.4 2.1h0m.1-1.7h0m1.6 2.4h0m1.6-3.3h0m0 .3h0m.4-.4h0m3.9 1h0m3.6 1.7h0m.9-3h0m.1-1.6h0m0 1.2h0m0 1.1h0m1.2 1.9h0m1.1-2.9h0m.1-.4h0m1.4-.7h0m.1 2.7h0m.3 2.1h0m.6-3.6h0m.9 3h0m.7 .1h0m1.5-2.5h0m.3 .1h0m.9-1.5h0m1.7 4.7h0m.7-2.8h0m2.6-.5h0m.6 3h0m3 .1h0m.4-1.6h0m1.2 .8h0m.8-1.4h0m2.4-.4h0m1.7-1.1h0m0-1.2h0m.1 1.2h0m1.2 2.1h0m1.5-1.3h0m.9 .3h0m.4-1.5h0m.1 .5h0m.7 2.8h0m.2 .3h0m.4-.5h0m.7-4.1h0m1 2.3h0m1.7 1.7h0m1.3-1.3h0m1.2 2.4h0m.7 .2h0m1.2-4.8h0m3.2 4.2h0m.8-4.9h0m1.6 5.6h0m1-1.9h0m2.3 1.1h0m.1-2.9h0m.3 .7h0m.4 1.1h0m.1-.7h0m1-.1h0m.4 1.2h0m0-.9h0m1.1-1.6h0m.7-.5h0m.9 .6h0m.9-.7h0m.5-.3h0m0 1.5h0m.4-1.8h0m1.2-.2h0m-167.5 5.6h0m.2 1.7h0m5.1 1.6h0m.3-1.9h0m.9 2.2h0m.8 1.8h0m.1-3.5h0m2.2 .5h0m3.8-2.1h0m4.8 5.5h0m1.6-4.1h0m.1 3.6h0m.1-5.3h0m1.2 4.9h0m1.1-4.7h0m.7 1h0m1-.8h0m.2 1.5h0m.1-1h0m.5 .3h0m.3-1.2h0m.1 3.1h0m.1-2.4h0m.1 4.1h0m.9-4.2h0m2 2.1h0m.1 2.3h0m.2-1.8h0m1.4-.6h0m1.2-.4h0m.2-1.5h0m1.3-.6h0m.2 5.4h0m5 0h0m3.4-3.5h0m1.8 3.1h0m.2-3.9h0m1.5 .6h0m.3 1h0m1.4-.5h0m.2-.5h0m.7-2h0m.8 3.2h0m.7-2.7h0m.1 5.1h0m.3 .3h0m.2-.6h0m.1-1.8h0m.7-1.8h0m.1 1h0m.9 2.3h0m.3-2.5h0m.8 1.2h0m2.7-.2h0m1.8-3.4h0m1 2.5h0m.5 3.2h0m1.3 .1h0m1.4-5.5h0m.9 2.6h0m.5 2.1h0m.1-3.1h0m.1 3.3h0m.7-1.8h0m.9 1.6h0m1.4-4.8h0m.1 3.7h0m1.5-1h0m1.9 1.3h0m.1-.7h0m2.4 1.9h0m.9 .5h0m.7-4.7h0m0 1.6h0m3.8 2h0m.7 .9h0m.1-.6h0m1.4 .3h0m.8-4.4h0m.3 .8h0m.1-1.1h0m2.4 2.5h0m.9 1.5h0m0-3.5h0m1.5 1.3h0m.3-.9h0m1.1-.6h0m.4 4.8h0m1.1-5.6h0m.7 1.7h0m.2-.8h0m.4-.8h0m.3 3.3h0m.5-1.4h0m.1-.1h0m.6 2.7h0m.7-2.4h0m.2-.3h0m1.3 2.6h0m1.4 0h0m2.1-.9h0m.7-.2h0m.1-2.5h0m.1-1.1h0m.8 1.2h0m3 1.6h0m3 2.1h0m0-2.6h0m.6-.4h0m0 .4h0m1.2 3h0m1.2-4h0m.1 .4h0m.3 3.4h0m.1-1.4h0m1.9-1.6h0m2 .8h0m.6-1.6h0m0 3.2h0m1.5 .5h0m.4-.3h0m1.9-.5h0m.5-.7h0m.1 2h0m.1-5.4h0m1.5 5.1h0m.1-4.5h0m.6 4.7h0m.2-1.9h0m2.8 1h0m.6 1.2h0m.4-1.5h0m.3-1.5h0m.7-1.2h0m2.1-1.4h0m.7 3.2h0m.1-.5h0m1 2.8h0m1.5-4.6h0m.7 2.2h0m.1-2.2h0m1.1 2h0m5-.2h0m.6 1.5h0m.6 1.1h0m.4-2.4h0m.7 1.7h0m0 .5h0m.1-4h0m.3 4.1h0m2.2-3.5h0m2.4 3.8h0m1.3-3.9h0m.7-1.7h0m.3 5.4h0m.9-4.9h0m.1 2.6h0m.1-2.5h0m.1 4.3h0m.3-.1h0m.7-1.5h0m.1-.7h0m.2-1.5h0m.1 .8h0m.1 3.8h0m.4-5.5h0m.8 1.2h0m.4 3.6h0m.8-3.8h0m1.2 3.9h0m.6-.8h0m1-3.4h0m0 .6h0m.8-1.5h0m0 5.5h0m.9-.7h0m1-3.4h0m1-1.4h0m2.9 3.5h0m2.1-3.2h0m.3 2.8h0m.4-.4h0m1.4 .8h0m.5-2.8h0m0-.6h0m.5 5h0m.2 0h0m.7-.6h0m1.5 .1h0m.6 .6h0m-168.4 4.9h0m.2 .1h0m.3-3.5h0m2.1 2.9h0m.3 .4h0m.5 .2h0m.3-3.7h0m1.8 1.1h0m1.3 2.7h0m.9-.1h0m.1-1.4h0m3.6 1.3h0m3.2-2.4h0m.4 1.9h0m3.5-2.4h0m1.5 2.3h0m.5-.6h0m.6-2.5h0m1.6 2.2h0m1.3-1.1h0m1.1 2.6h0m2.8-3.5h0m.9 3.9h0m1-2.6h0m1.1 3.3h0m.3 .1h0m.8-4.6h0m.2-.4h0m.6 .8h0m.8-.4h0m.5 4.7h0m.3-.9h0m0-3.2h0m2.7 4.2h0m1.1-3.5h0m3.5 2.1h0m.2-.7h0m.8-2.7h0m1.3 1h0m1.6-1.7h0m.5 4.4h0m1.9-.2h0m1.3-1.6h0m.1-2.2h0m.6 4h0m1-3.3h0m.8 3.5h0m.3-1h0m.8 2h0m1.2-3.2h0m.7 .3h0m.1 3.2h0m.6-.5h0m1.2-4h0m.3 3.2h0m.5-4.5h0m.5 1.9h0m1.5-1.3h0m0 3.9h0m.1-.5h0m1.3-3.4h0m.9 4.7h0m1.6-3.9h0m.4 1.7h0m0-2.5h0m.2 2.4h0m.8-2.6h0m0 2.7h0m2.1 1.3h0m.1-3h0m.7 1.5h0m.7 .8h0m.2 .3h0m1.7 1h0m.1-3h0m.3 3.8h0m1.3-5h0m.7 4.8h0m.3-.7h0m.3 .2h0m2.3-2.5h0m1 .3h0m.2 2.3h0m1.6-3.7h0m2.8 .7h0m.1 2.5h0m.2 0h0m.5-3.1h0m1.2-.5h0m.8 2.7h0m.5-2.9h0m2.1 1.3h0m2-1.3h0m1.5 3.5h0m1.1 .8h0m4.5-.6h0m1.2-3.5h0m1.1-.4h0m.8 2.6h0m.3 1h0m.9-3.9h0m.1 3.6h0m1.4-2.9h0m.1 3.8h0m0-.5h0m.4-.3h0m.9 1.3h0m1.8 .3h0m0-5.7h0m2.3 5.7h0m.6-3.1h0m.4 2.8h0m.2 0h0m2.3-4.1h0m.2 3.1h0m.2-2h0m3.4 1.6h0m.2 1h0m1.7-2.1h0m.1-.4h0m.6 .5h0m.9-2.5h0m.6-.2h0m.3 .4h0m.2 4.4h0m0 .7h0m1-2.2h0m1-.7h0m1.9-1.6h0m2.9 3.8h0m.6-5h0m1.2-.1h0m.4 4.8h0m.3-4.1h0m.3 1.8h0m.1 .8h0m1.4-1.5h0m.9 2.3h0m1.6 .3h0m.4-2.7h0m.4-.8h0m1.2 2.3h0m1.5 .3h0m.1 .3h0m.4 1.4h0m2.8-4.6h0m.3 2.5h0m1 1.3h0m.5-1.5h0m0 1h0m.1-.2h0m2.2-3.6h0m2.7 2.6h0m.4 2.6h0m.8-.1h0m.7-3.3h0m.8-.8h0m1.8 1.9h0m2.2 1.3h0m3.4 .8h0m1.4-5h0m.2 2.6h0m1 1.8h0m.6 .2h0m.9-3.3h0m2.2-.6h0m.3 .7h0m.9 0h0m.5 2.8h0m.9-3.5h0m.9 .8h0m.5 .6h0m.1 2.6h0m.2-4.3h0m1 .1h0m.1 0h0m.2 1.4h0" stroke="#f3e3f7" stroke-width="1.2" stroke-linecap="round"/><path d="M390 239.8h0m1.5-.4h0m1.4 .8h0m9.7-1.1h0m.1 1.5h0m2.2 .7h0m2.5-.1h0m2.5-1.4h0m3.9 2.1h0m1 .7h0m8.4-2.4h0m1.6 1h0m.7 1.2h0m7.7-.1h0m9-.6h0m6.6-1.4h0m.9 .2h0m.5 1.2h0m11.6-2h0m0 0h0m4.8 .7h0m6.6 .6h0m13-1.9h0m3.9 .7h0m1.6 2.7h0m12.3-2.9h0m3.8 2.1h0m.2 .8h0m1.3-3.3h0m3 .1h0m7.7 3.3h0m5.1-2.5h0m7.7-.2h0m3.4-.2h0m.6 1.2h0m.2 1.2h0m.4-.1h0m1-.2h0m-153.1 2h0m1.4 .7h0m.5 1.2h0m8.2 .5h0m4.6 .7h0m1 1.7h0m.1-3.8h0m1.9 3.6h0m6.4-2.3h0m9-.7h0m2.3 1.4h0m1.8-3.7h0m3.8 1.9h0m5.2-1.1h0m21.5 3.2h0m1.1-3.8h0m6.7 3.1h0m6.3-2.5h0m0 .7h0m5.2 1h0m6.3 3h0m.8-5.3h0m4.2 4.1h0m5.5-2.8h0m2.1 4.3h0m2.8-2h0m0-.5h0m.7-2.7h0m.4 4h0m1.2-.6h0m.7 1.9h0m10.8-2.5h0m.2-2.1h0m5.1 2.5h0m.7-.4h0m2.1 1.6h0m1.8 0h0m3.2-2.9h0m1.3-2.2h0m9.2 2.8h0m5.8 1.7h0m13.5-4.3h0m-165.9 11.4h0m5.3-2.8h0m4.7-2.1h0m5.4 .5h0m.6 .6h0m2.8 2.6h0m1.8-2.6h0m9.5 0h0m1.8 .6h0m7.2-2.3h0m1 5.3h0m.2-4.2h0m.4 3.2h0m1.4-1.2h0m8.4 2h0m1.9-1h0m5.6-1.9h0m1.8 2.1h0m11.9 .7h0m9.4-.2h0m2.6-2.2h0m2.3 2.4h0m4.9-1.6h0m2.4 1.8h0m5-2.1h0m.1 .7h0m15.5-.4h0m5.2-1.1h0m5.1-.7h0m10.8-1.4h0m2 3.3h0m1.2-1.1h0m8 2.2h0m10.6-2.4h0m.5-.3h0m.5 0h0m4.1-1.2h0m1.5 .4h0m-156.3 5.9h0m.1 .4h0m12.2 2.3h0m4-3.3h0m4.1 2.9h0m1 0h0m15.5-1.8h0m23.6 3.6h0m9.1-1.9h0m5.3 1.6h0m4 .5h0m12.2-1.4h0m4.6 0h0m3.2-2.4h0m7.1-.8h0m6.3 5.2h0m1.6-5.1h0m1.7 1.1h0m2.1-1h0m.6 3.1h0m.9 .7h0m2.5-3.9h0m3.5 2.7h0m0 2.1h0m3.7-.1h0m5.5-1.7h0m.1-3.8h0m7.9 4h0m10.3-2h0m.3-.2h0m2.9-1.1h0m4.2 1.5h0m-162.9 9.2h0m.8-2.1h0m6.1 2.2h0m5.8-4.1h0m3.5 4.3h0m1.1-4.5h0m.7 1.1h0m5.7-1.1h0m17.9-.2h0m0 .7h0m1.9 4h0m15.2-1.2h0m.1-2.6h0m2.4 2.2h0m4.4-2.4h0m2.6 .2h0m4.5 3h0m.7 .6h0m1.2-.8h0m.9-1.2h0m4.5 .7h0m1.7-2h0m8.1 .6h0m2.8 2.5h0m2.7 .1h0m9.8 .5h0m8.1-3.1h0m12.2-.6h0m6.4-.4h0m1 2.1h0m1.2 1.9h0m.5-2.2h0m2.9 .1h0m2.6 .5h0m4.6 .7h0m1.9-4.7h0m.8-.3h0m4.9 3.6h0m-150.4 4.1h0m18.6 1.4h0m1.3 2.5h0m5-.7h0m1.3 .7h0m1.8-3.9h0m14 2.9h0m14.9-4.4h0m2.5 5.4h0m14.9-4.7h0m2.9 .1h0m1.3 3h0m3.3-.2h0m3.3 .2h0m.7-2.5h0m23.6 3.1h0m6.1-3.7h0m.6 1.6h0m1.4 2.5h0m12.3-2.4h0m3.8 2.1h0m.3-3.1h0m2 3.7h0m1.7-4.8h0m2.5 0h0m5.9 3.5h0m.1-2.5h0m.6 .3h0m1.3 3.4h0m12.7-1.4h0m-161.6 8h0m1-3.9h0m6.4 2.4h0m10.5 .4h0m4.5-2.3h0m.1-1.5h0m5.4 3.2h0m.8 1.1h0m1.8-3.8h0m4.4 2.5h0m6.5-1.5h0m4.9-.4h0m21 3.4h0m2.3 .4h0m1.6-1h0m2.6-.3h0m.1-3.5h0m19.1 0h0m1.1 1.4h0m16 1.3h0m3.4 1.8h0m9.5 .2h0m.9-1.7h0m4.3-2.3h0m7.4-1.7h0m.9 5.4h0m.4-2.5h0m8.8 2.3h0m9.6-1.1h0m3.9-2.9h0m2.3 2h0m-167.3 5.8h0m.9 1.6h0m2.5-3.6h0m.5 4.4h0m1.7-2.5h0m2.2 .9h0m3.6 .3h0m7.5 .8h0m.4-4.4h0m5.1 4.2h0m3.1-1.9h0m5.8 2.1h0m7.2-.7h0m.1-3.7h0m3.5 4.4h0m6.9-4.1h0m4.2 4.5h0m17.4-3.4h0m.5-.5h0m3.1 1.3h0m8.9 1h0m8.4 .5h0m5.5 .8h0m3.5-.4h0m10-2.9h0m3.9 .6h0m1.2 .7h0m2.1 2.4h0m6-.1h0m5.7-.5h0m.5-3.5h0m2.6 .1h0m4.7 3.8h0m1.1-4.3h0m9.2 2.3h0m5-2h0m2.6 4.5h0m5-3.3h0m.7 3h0m2.7-3.3h0m-157.3 8.2h0m4.1-4.1h0m31.7 3.5h0m6.6-1.7h0m4.8-.3h0m1.9-.6h0m2.4-.7h0m6.1 5.6h0m.6-1.7h0m4.4 .4h0m6.6-1.9h0m2.7-2.7h0m1.2 5.1h0m6.7-2.4h0m4.5-1.3h0m12.2 1.4h0m7 1.6h0m4.6 1.3h0m11.6-3.2h0m3.3 3h0m11-1.8h0m15-.7h0m.3 .6h0m5.2-3.2h0m.2 .4h0m-159.6 8.7h0m2-1.4h0m.2-.5h0m13.6-1h0m1.5 2.4h0m2.9 2.9h0m7-2.4h0m1.7-.2h0m12.6-2.1h0m.3 2.8h0m3.6 .1h0m4.3-4h0m1.9 5h0m16.6-1.5h0m7.4-1.3h0m3.1-.2h0m.6-2h0m13.9 5.6h0m.1-4.3h0m7.7-.2h0m.6 2.4h0m1.3 .9h0m4-3.8h0m4.7 1.9h0m2.6 3h0m3.2-4.2h0m6.1 1.3h0m2.7-1.6h0m6.9 2.4h0m1-.3h0m8.5-1.9h0m11.1 3.6h0m.9-1.6h0m2.3 1.2h0m-160 6.2h0m8.7-4.7h0m.3 2.6h0m1.6 2.4h0m1.4-3.5h0m1 4.2h0m4.3-4.3h0m.1-.1h0m2.8 3.6h0m3.3-.5h0m7.8-1.2h0m2.2-1.1h0m.7-1.5h0m9 2.7h0m12.6 .3h0m1.6 .2h0m2.7-1.6h0m.9 .8h0m.8 .3h0m14.3-2h0m2.6 1.2h0m7.5-.3h0m5.3 1.8h0m1.2-3h0m.5 .5h0m4.7 0h0m1.4 .6h0m12.3 .3h0m5.2-2.5h0m.5 4.3h0m9.1 .4h0m4-3.2h0m.1 4.4h0m15.8-4h0m6.3 3.6h0m0-4.6h0m3.7 3.2h0m1.2-1.4h0m.7-2.3h0m3.5 2.4h0m1.1-.3h0m5.1 2.8h0m.3-.3h0m-158.7 5.3h0m2.7-.7h0m.9-1.8h0m.3 2h0m.8-2.7h0m4.9 4.4h0m9.8-4.8h0m3.2-.5h0m17.3 4.8h0m.3-.2h0m2.9 .8h0m6.4-3.8h0m.6-1.3h0m5 4.7h0m3.1-1.7h0m1.3 .4h0m.3-2.9h0m6.9 .2h0m1.4 2.7h0m2.8-1.1h0m7.9-2.4h0m3.8 3.9h0m4.2 .3h0m8.8-3.3h0m1.4 3h0m1.6-1.5h0m1.7 2h0m5.5-2.9h0m2.1 .6h0m7.9 1.6h0m2.8-.8h0m2.6-2.4h0m9.4-.1h0m8.2 4.6h0m4.9 .6h0m9.3-5.3h0m.6 .9h0m-162.4 10h0m1.4-1.3h0m.3 1.4h0m10.3-4.5h0m1.2 4h0m10.1-2.4h0m3.5 0h0m7.8-.3h0m6.4 3.5h0m.6-4.8h0m7.6 2.4h0m2.4 .3h0m1.9-2.6h0m4.8-.9h0m1.7 3.2h0m.4 1.3h0m.3-.2h0m3.6-1.7h0m1.7-.5h0m.4-2.3h0m5.4 2.4h0m3.4 1h0m4.8 2.2h0m2.2-5.2h0m.2 5.2h0m.7-3.3h0m1.6 1.4h0m.4-.2h0m10.2 .4h0m8.9-.8h0m.4-3.2h0m6.6 2.9h0m1.6 0h0m5.2 2.1h0m2.5 .7h0m2 .1h0m2.7-.7h0m1.9-4.1h0m3 4.5h0m3.6-4.9h0m2.6 3h0m6.1 2.2h0m6.4-1.2h0m6.3 1h0m4.7-.6h0m3.9 .8h0m-150.8 1.3h0m3.8 2.9h0m9.4-3.3h0m7.9 1.2h0m1.6 2.1h0m15.9-1.3h0m1.2 1.4h0m3.5-2.8h0m5-.6h0m5.7 3.5h0m3.2-3.8h0m2 4.8h0m.4-2.3h0m8.3 2.6h0m1.3-.7h0m5.4-1.8h0m2.3-.8h0m3.8-.8h0m3.5 3.8h0m4.7-1.7h0m1-2.8h0m.9 1.5h0m8.2-1.4h0m1.1 5h0m9.3-.3h0m1.1-1.3h0m2-3.6h0m3.1 4.5h0m7.6-1h0m.6 1h0m2.5-.9h0m2 .9h0m18-3.7h0m1.3 3.8h0m-147.2 5.7h0m.6-4.8h0m.6 3h0m1.9 2.5h0m7.9-5.6h0m.2 4.8h0m5.4-1.3h0m10.5 0h0m10.4 2.3h0m5.3-1.4h0m20.8-.1h0m6.5 .9h0m3.9-2.2h0m2.7-.7h0m1.8-1.1h0m7.2 3.6h0m1.8-4.8h0m5.5 4.5h0m.3 1.2h0m1.4-4.2h0m.5-.3h0m4.8 3.4h0m2.5 1h0m2.5-3h0m3.4 1.7h0m.9-3.2h0m2.2 3.5h0m.5-3.6h0m.8 1.7h0m1.9 .8h0m7.1-1.4h0m1.8 1.6h0m.4 1.4h0m1-3.1h0m.3 2.9h0m.8-.7h0m3.3-3.2h0m.5 2.6h0m7.5-2h0m10.8 .6h0m1.1 2h0m1.5 .9h0" stroke="#a47ad4" stroke-width="1.2" stroke-linecap="round" stroke-opacity="0.75"/><path d="M384.2 241.4h0m17.4 .3h0m6.6-2h0m.8 .9h0m13.1-1.4h0m28.2 2h0m7.3 1.1h0m4.9-1.7h0m10.2-.7h0m7.2 1.5h0m4.7-2.3h0m27.9 3.3h0m16.3-.4h0m5.5-1.9h0m-136.7 6.4h0m6.2-1.1h0m2.5-1.3h0m14.8-.1h0m7.8 4.4h0m6.9-1.5h0m3.9-2.7h0m9.7 2h0m.5 .4h0m1.4 1.5h0m8.6-4.8h0m10.8 3.4h0m3.3-1.7h0m1.2 2.1h0m18.7 .3h0m.4-4.1h0m2.2 4.2h0m10.7-2.7h0m14.7 2.1h0m6.3 1.8h0m1.9 .3h0m13.1-3h0m-146.2 8.4h0m4.3-3.8h0m1.8 1.1h0m5.1-1.9h0m.9-.1h0m5.5 3.3h0m20.6-2h0m7.8-.8h0m.7 2.3h0m4-1h0m5.3-1h0m1.9 1.1h0m1.8 .8h0m4.1 1.4h0m22.2-4.2h0m2.7 4.8h0m4.5-.3h0m.1 .3h0m.5-1.4h0m1.5 1.7h0m3.1 0h0m2-4.8h0m2.4-.4h0m4.4 3.6h0m1.8-1.2h0m4.9-.6h0m16.2 2.8h0m2.3-.4h0m1.5-3.7h0m0-.2h0m4.6 3.7h0m4.1-1.1h0m3-2.7h0m1 2.4h0m-159.1 6h0m5.9 2h0m1.2-.9h0m11.3-3.3h0m25.7 2.8h0m1-1.6h0m6.4-.9h0m17.4 3.6h0m4.8 .1h0m1.5-1h0m7.3 .5h0m17.6-2.9h0m.1 .6h0m6.5 .1h0m.1-1.6h0m1.9 3.1h0m2.9 1.2h0m28.6-4.2h0m3.1 2.5h0m7.4 2.4h0m2.9-2.8h0m12.3 .6h0m-139.1 4.9h0m25.4 3.6h0m.8-1h0m18-4.1h0m3.9-.7h0m1.5 1.3h0m12.5 2.9h0m.2-.5h0m3.1 .3h0m1.2-3.3h0m9.4-.3h0m.3 2.2h0m6.1 3h0m1.4-1.2h0m.8 .8h0m7.6-.3h0m3.5-3.9h0m1 4.3h0m1.4-4.7h0m1.2 4.8h0m7.1-5h0m1.5 2.9h0m.6 1.4h0m1.4-.2h0m6.9 .5h0m1.7-3.2h0m2.6 3.7h0m.1-2.3h0m6.8 2h0m1.3-3.6h0m-150.6 10.2h0m1.6-5.5h0m4.2 .2h0m6.7 1.5h0m2.7 .4h0m7.8-.9h0m6.8-.3h0m7.8-.5h0m9 .3h0m2.7 .1h0m3.9 3.7h0m6.3-.9h0m.3-1.1h0m.7-1.2h0m3.5-.9h0m46.2 .9h0m12.8 3.2h0m7.5-.5h0m2.1-.8h0m2.6-2.3h0m6 3.2h0m.5 1.3h0m1-1.5h0m7.3-2.5h0m4.8-.3h0m1.7 .6h0m.1 2.4h0m1.2 .7h0m-150.4 4.8h0m.2-3h0m3.2 2.2h0m7.8-2.4h0m3.3 3.5h0m24.9-3.6h0m11.1 4.7h0m16-2.5h0m2.5 .8h0m2.5-1.2h0m5.4 2.1h0m3.1-.1h0m8.9-2.8h0m4.8 3.9h0m1.8-2.4h0m4.6-.7h0m2.4-2.2h0m7.3 1.6h0m.3-.2h0m2.7-1.6h0m.5 3.4h0m2.7-1.5h0m10.6 2.3h0m.2-.6h0m5.8-2.4h0m6.8 2.6h0m2-3.1h0m3.6-.4h0m.3 4.6h0m2.8-.3h0m-159.5 3.5h0m.5 2.3h0m3.4-.5h0m4.8 1h0m4.7-1.7h0m1.5 .8h0m2.7-.6h0m15.6-2.2h0m.2 3.3h0m1.5 .4h0m23.8 .2h0m2.4-.8h0m22.3 .3h0m5.3-1h0m.2 1.8h0m.7-3.8h0m6.1 2.7h0m.5 .5h0m16.9-3.5h0m10.6 2.7h0m.1 1.2h0m1.8-1.5h0m2-1h0m7.9 .5h0m3.2 1.6h0m24.4-2.4h0m1.2-2.1h0m2.5 4.7h0m-167.7 1.7h0m.6 2.9h0m2.8 1.9h0m1.7-2.1h0m14.7-1.6h0m.1-.4h0m.4 0h0m4.1 1.3h0m8.3 2.9h0m2.2-5.6h0m7.3 1h0m2.5-.8h0m4.5 1.7h0m8.2-1.8h0m9.4 4h0m10.5 1.6h0m5-4.8h0m7.9-.9h0m1.2 2.6h0m3.8-.7h0m4.4 .5h0m5.6 2.9h0m1.7-.8h0m.4 .2h0m2.3-4.3h0m.7 5h0m6.4-3.8h0m0 1.9h0m7.6-3.5h0m.4 .5h0m6 .6h0m8.6 3.9h0m.8-3.3h0m17.6 1h0m-156.6 7.2h0m4.5-3.2h0m3.1 2.1h0m1.6-.6h0m1-.1h0m6.5 1.1h0m3.7-.3h0m5-.5h0m.8-.1h0m2.5 3.2h0m9-3.4h0m5.9 2.7h0m.5-1.4h0m2.6-1.4h0m1.9-1.2h0m10.2 4.7h0m20.8-2.4h0m2.4 1.3h0m16 1.3h0m1.5-.7h0m2.7-4h0m16.3-1.1h0m6.6 3.8h0m1.7 .3h0m2.6 1.7h0m5-3.1h0m2-.9h0m.4 .8h0m3.2 .1h0m7.2-2.6h0m7.6 4.4h0m-139.1 7.4h0m3.1-3.1h0m25.1-.7h0m7.7 3.7h0m1-2.1h0m.3 1.3h0m2.9-2.9h0m1.3 1.3h0m3.9 1h0m3.5 .8h0m2.9-.8h0m10.1-3.2h0m.8 3h0m2.8-.2h0m2.4-3h0m1.4 4.7h0m15.5-1.1h0m20.9-2.6h0m.4 .6h0m6.6 .6h0m1.9 .6h0m.6-1.6h0m10.8-.7h0m1.1 .4h0m1.1 3h0m0-1.6h0m1.8-.5h0m1.7 2h0m4.5-3.9h0m3.1-.2h0m-154.4 9.2h0m5.6 .3h0m10.5-1.7h0m6.2 2.6h0m6.9-3.7h0m10.8-1.3h0m10.9 3.6h0m9.6 1.8h0m5.4-3.8h0m2.5 3.4h0m11.6-3.7h0m1 4.3h0m4.9-3h0m.7 3h0m3-3.7h0m1.6 3.9h0m4.5-4.5h0m4.1 4h0m5 .2h0m6-1.3h0m7.1-1.1h0m4-.3h0m18.9-2.6h0m16.1 3h0m7.1-2.5h0m1.7 1.5h0m-150.5 6.6h0m6.7 1.7h0m12.4 1.2h0m1.1-1h0m1.5-1.4h0m3.1-2h0m3.6 4.4h0m1.3-3.5h0m10.1 .2h0m20.4-.1h0m.3 .9h0m5.2 1.5h0m9.9-.4h0m15.8-2.9h0m1.2-.5h0m2.2 3.2h0m1.6-.7h0m12.6-1h0m.2 2.3h0m.6-.9h0m4.5-.5h0m.2-1h0m4.7 0h0m1.6-2.4h0m1.4 5.3h0m1.6-2h0m2.8 2.6h0m6.6-4.5h0m14.7 2.1h0m.2-.4h0m-163 5h0m1.8 3.1h0m3-4.5h0m3 2.5h0m2.6 1.7h0m4.1-1h0m1.3-1.1h0m8.3 3.2h0m6-5.9h0m6.6 3.9h0m.1-2.4h0m8.6 4.4h0m.2-.9h0m10-2.5h0m1.8 2.9h0m1.7-4.2h0m4.4-.2h0m.3 4h0m4.4-1.2h0m.6-1.8h0m17.1-1.6h0m16.6-.2h0m3.1 .5h0m5.1 4.1h0m.3 .1h0m13.2 .2h0m7.1-1.9h0m1.3-1.3h0m4.2 .6h0m6.1-.6h0m10-1.7h0m.3 2.2h0m1.4 0h0m-154.3 4.2h0m.7 .2h0m3.3 .5h0m13.6 .9h0m1.9-1.5h0m4.4 1.7h0m.3-2.1h0m12.3 1.1h0m11.6 1.6h0m.9 .2h0m1.1-1.6h0m.7 3.3h0m2.8 .1h0m16.5-2.7h0m7.7 2.4h0m1.9 .9h0m3.8-.7h0m10.1-4.3h0m.3 .9h0m10.7 3.8h0m14-.6h0m3.9 .8h0m6.3-2.8h0m11 1.8h0m14.8 .8h0m1.6-3.7h0m1.4 4h0m1.5-2.2h0" stroke="#fcf5fd" stroke-width="2.2" stroke-linecap="round"/><path d="M454.2 239.7h0m7.3 .9h0m1.3 .6h0m16.9-2h0m7.9 2.4h0m5.9 .8h0m-108.6 .9h0m12.1 5.4h0m4.8-4.2h0m13.2 1.4h0m66.8 .4h0m3.2-1.5h0m.6-1.4h0m7.2 .6h0m16.7 4.9h0m31.5-4.8h0m4.7-.3h0m-152.5 5.6h0m11.7 .2h0m14.3 1.9h0m5.1 2.4h0m11.9-3.6h0m7.8 2.3h0m19.1-.2h0m28.7 .9h0m.3-3.4h0m4.3 3.1h0m16.2-3.4h0m9.4 5.3h0m2.1-2.4h0m9.4-1.2h0m5.5 3.1h0m10.7 .4h0m-148.8 1.2h0m19.3 1h0m6.7 3.1h0m18.2-.9h0m5.8-4h0m1.9 3.3h0m2.6 1.1h0m9.8-2.5h0m2.4 3.5h0m5-.8h0m6.6-4.5h0m2.4 5.1h0m46.8-3.8h0m23.3-.8h0m-142.4 10.9h0m54.9-4.9h0m3.5 2.5h0m82.7-2.5h0m-155.4 5.6h0m3.4-.2h0m31 2.2h0m11-.9h0m9.3 3.4h0m42.2-4.5h0m-105.2 8.1h0m18.5 1.2h0m23.6 .1h0m23.7-2.4h0m2.7-.4h0m2.2 2.9h0m13.3-.4h0m3.5-.9h0m4.6-2.2h0m3.9 5.4h0m3.6-1.9h0m.9 .9h0m5.4-4.1h0m14.7-.7h0m26.9 4.5h0m.2 1.4h0m3.6-4.2h0m9.2 3.2h0m.7-.6h0m-157.3 7.4h0m9.9-5.2h0m3.8 1.5h0m22.9-1.1h0m27.7 1.4h0m2.6 .2h0m.2 3.4h0m12-2.7h0m10.2 1.9h0m8.6-.6h0m44.6-3.2h0m16.3-.6h0m-162.2 9.1h0m12.8-3h0m10.5-.2h0m1.7 2.8h0m6.5 1h0m16.2 0h0m1-1.8h0m6.4-1.8h0m24.8 4.6h0m17.9-1h0m11.2 1.5h0m6.3-2.8h0m8.2 2h0m10-3.3h0m9.2-1.5h0m12.1 4h0m-138.4 3.5h0m12.1-1.6h0m16.8-.2h0m9.5 1.3h0m25.9 .2h0m1.7 .6h0m9.5 2.3h0m4.9-.6h0m7.5 .4h0m6.8-3.8h0m8.1 .2h0m36.6-.1h0m.5 5h0m-134.4 1.3h0m2.3 3.9h0m17-2.9h0m1.1-.7h0m9 4.1h0m17.7-4.9h0m24.2 1.9h0m16.9 1.4h0m21.7-3.4h0m10.7 4.5h0m15.9-2.6h0m-143.1 4.5h0m18.5 1.6h0m8.7-1.9h0m14.9 5.1h0m8.6-.9h0m3.8-1.8h0m17.5-.2h0m34.7 1.2h0m12.8-1.9h0m3.4 3.7h0m.3-4.7h0m26.8 2.8h0m-165 8.2h0m1.8-2.6h0m43.7-2.9h0m34 .3h0m23.4 4.5h0m6.8-3.7h0m-103.1 6.9h0m24.1 1.2h0m2.3-1.9h0m45.4-1.3h0m16.9 3.2h0m11-2h0m7.5 4.5h0m25.2-4.7h0m15.8 .3h0m-145.1 6.4h0m97.1 1h0m4.6-.1h0m51.1-2.3h0m2-.2h0" stroke="#fefafe" stroke-width="3.0" stroke-linecap="round"/><path d="M393.4 242.4h0m27.6 5.2h0m21.8 1h0m10.4-4.1h0m96.7-1.4h0m-149.2 9h0m102.2-.4h0m19.7-1.9h0m-87.3 14.5h0m-29.5 5.9h0m17.5-1.8h0m128.1 1.9h0m-69.9 4.8h0m45.1-1.4h0m-107.2 8.7h0m2.7 2.1h0m5.6-3.1h0m-3 6.3h0m-8.8 8h0m29.1-1.7h0m9.9 7.8h0m-69.3 5.8h0m120.8-.9h0m34.1 1.1h0m-25.6 6.9h0m-53.6 4.7h0m19 1.2h0m19.2 .8h0m14.1 5.5h0m6.7-4.1h0" stroke="#fff" stroke-width="4.5" stroke-linecap="round"/><ellipse cx="469.6" cy="285.9" rx="4.8" ry="5.4" fill="#fff"/><path d="M456,254.9L464.6,267.3" stroke="#fdf8fe" stroke-width="2.8" stroke-linecap="round"/><ellipse cx="547" cy="269.8" rx="4.5" ry="4" fill="#fff"/><path d="M538,319.4L545.3,323" stroke="#fdf8fe" stroke-width="2.2" stroke-linecap="round"/><circle cx="398.9" cy="305.8" r="2.5" fill="#e3a8d8" opacity="0.6"/><path d="M387,322.4H405" stroke="#555" stroke-width="0.6" opacity="0.7"/></g></g>
<clipPath id="cpoil0"><rect x="214.6" y="328.5" width="167.4" height="85.2"/></clipPath><g clip-path="url(#cpoil0)"><g filter="url(#soft)"><rect x="214.6" y="328.5" width="167.4" height="85.2" fill="#c0b0d8"/><path d="M215.8 332.4h0m.5-3.4h0m1.8 .9h0m2.2 2.5h0m3.7-4h0m2.9 3.5h0m1.1-.7h0m1.2 .3h0m.6-3.6h0m3.9 4.6h0m.5-1h0m1.4 .3h0m4.8-2.5h0m1.7-.4h0m.8 2.3h0m1.1-1.5h0m.3 3h0m.3-1.9h0m1.8 1.5h0m0-.1h0m.3-.1h0m.6-1h0m3.1-2.2h0m1.7 3.7h0m.2 .2h0m3.6-4.3h0m4.7 1h0m.9-1.2h0m2.1 3.8h0m4.2-2.1h0m.6 .9h0m.8-1.4h0m1.5-.3h0m2.4-1.2h0m1.4 .3h0m.4 2.5h0m2.6-2.1h0m1.2 .6h0m.1-.7h0m1.6 3.7h0m.1-4.7h0m.2 4.4h0m3.6-3.8h0m2.3 4h0m.7-3.2h0m.7 2h0m5.3-2.5h0m2.3-.4h0m.1 3.2h0m.7-1h0m2.7-2.1h0m.3 1.5h0m.5 2.3h0m3.6 .8h0m6.4-4.7h0m0 .8h0m.1 3.6h0m1.9-4.2h0m3.1 4.6h0m1-4h0m4.4 0h0m3.9-.9h0m.7 1.6h0m.3-1.8h0m.2 4.3h0m1.5-4.5h0m3.3 .2h0m.1 4.2h0m2.4-3h0m0-.4h0m4.3 1.1h0m3.6-2h0m1.3 3.1h0m1.7 1.1h0m1.5 .4h0m.3 .6h0m.7-.9h0m.5-3.7h0m4.3 1h0m4-.6h0m1.9 .2h0m.6-.6h0m.7-.8h0m.3 2.8h0m1.4 .5h0m.1-1.9h0m3.5 3h0m3.6-3h0m1.1 3.8h0m0-.4h0m2.6-3.1h0m.8-1.1h0m.4 3.6h0m3.4-.5h0m3.2-1.3h0m1.5-1.3h0m2.2-.8h0m-166.3 8h0m.5 .8h0m.2-2.5h0m.2 2.8h0m.5 0h0m1.7-.1h0m1.1 0h0m2.1 .9h0m1.2-3.9h0m1.1-.6h0m6.4 2.5h0m.2-1.5h0m.8 4.3h0m.3-.7h0m.4-.8h0m4.4-.4h0m1.6-1.4h0m6.8 2.6h0m4.6-4.8h0m.4 4.2h0m.3-3.8h0m5 0h0m1.6 0h0m1.5-.1h0m2.2 .3h0m.3 3.3h0m.9-1.5h0m.1-.5h0m.4 1.3h0m1.5-.8h0m3.4 .1h0m1.6 3h0m2.5-4.6h0m12.4 .6h0m.3-1.2h0m1.8 3.3h0m.7 .1h0m.5 2.1h0m3.6-3.5h0m1.6 0h0m.8-1.4h0m1.3 1.9h0m4-1.4h0m.3 1.9h0m.3-3.1h0m3.8 1.3h0m.3 1.4h0m.7 3h0m.1-3.6h0m1.4 2h0m.7-3.8h0m3.9 3.1h0m1.4-2.4h0m1-1.1h0m1.4 2.7h0m.8-.2h0m1.4 .6h0m1.8 1.3h0m3.2-.6h0m2.2 .4h0m1.5 .3h0m.1-.1h0m2.1-3.2h0m1 .1h0m.4 .5h0m1-1.5h0m1.3 1.5h0m0 2.3h0m1.3-2.5h0m1.7-.6h0m2.6 2.3h0m3.9-.6h0m2.8 1.9h0m2.6 .1h0m4.7-.2h0m2.8-2.2h0m4.9 2.9h0m.1-1.9h0m1-2.5h0m3.7-.2h0m1.2 1.2h0m.8 .4h0m1.2 1.6h0m4.8 1h0m1.1-2.3h0m.3 .1h0m.5-.8h0m2.1 1.2h0m.2-2.7h0m2.3 2.1h0m.2 1.5h0m.8-3.8h0m-162.5 9.3h0m1.3-1.2h0m.9-.3h0m2 3.8h0m8.7-3.4h0m.3 1.2h0m1.3-1.8h0m.1 2.7h0m1 1.3h0m3.1-.2h0m3.7-3.3h0m5.8 3.5h0m4.5-3.8h0m.5-1.3h0m1.2-.6h0m.6 0h0m.6 2.1h0m3.2 1.8h0m3.7-1.6h0m.7 1.7h0m.1-.1h0m.1-3.4h0m1.3 4.5h0m.2-1.2h0m.3-3.5h0m.6 3.6h0m.5-.5h0m.5 2.1h0m.5-.8h0m0-3.9h0m1 .2h0m1.7 .4h0m.1 3.9h0m2.5-2.4h0m1.1-1.4h0m1.1 1h0m1.8 3h0m.3-2.3h0m.2 1.2h0m7.4-3.9h0m2.2 .6h0m.6-.4h0m.2 2.3h0m.4-.9h0m3 .4h0m2.1 2h0m.8 .5h0m1.2-1.1h0m8.3 1h0m.9 .6h0m3.5-.1h0m.8 .4h0m2.7-2h0m1.1 1.3h0m.6-3.5h0m.4 3.9h0m2.9-.8h0m1-1.3h0m.2-2.2h0m3.3 1.2h0m5.7-2.2h0m1.6 3.4h0m1-1.7h0m.6 1.1h0m1.5 2.6h0m.9-2.1h0m.1 .8h0m.9-3.9h0m.6 2.4h0m1 1.6h0m4.1 .6h0m3.2-4.5h0m2.9 2.3h0m0 2.8h0m5.7-1.7h0m.5-2.8h0m3.4 2h0m0-.7h0m.1 .7h0m.8-1.6h0m1.3 1.8h0m1.2-.2h0m1.5-2.9h0m.1 2.6h0m4.2 .5h0m.3-1.4h0m6.6 .5h0m1-1.1h0m.4-1.1h0m2.3 2.2h0m.2 3.4h0m2.6-3.3h0m1.7 1.5h0m.1-1.6h0m3.6-1.2h0m.4 .5h0m3.7 2.8h0m0-1.7h0m-167 4.6h0m1 0h0m1.6 4h0m.9-1h0m1.2-.7h0m.8 1.8h0m.6-3.5h0m.1 3.5h0m.4-3.2h0m4.2-.1h0m.2 3.3h0m.4-4.8h0m.8 2.4h0m.1 .5h0m.5 1.3h0m.3-4.8h0m.5 .1h0m.7 3.2h0m.6 1.9h0m1-2h0m3.3 1.6h0m8.3-.7h0m.1-2.5h0m1.1-.3h0m1.3 3.5h0m1.1-.8h0m.4-2.4h0m.6 4.1h0m.3-4.4h0m2.3 1.2h0m2.4 1h0m.2 2.2h0m.5-1.7h0m1.4-3.7h0m.9 1h0m6.2-1.2h0m4.4 2.7h0m1.8 .1h0m1.1-.2h0m1.5 .6h0m.1 1.4h0m1.6-1.9h0m5.3-.8h0m.3 .4h0m2.1 3.3h0m.4-1.5h0m2.8-2.1h0m1 2.6h0m3.2-3h0m1.4 1.9h0m1.7-.5h0m.7 1.9h0m.7-2.1h0m.8 2h0m.1-3.8h0m.9-.9h0m2.4 2h0m.1 2.4h0m.1 .1h0m1.8-4.7h0m1.3 2.3h0m0-.5h0m.1 2.8h0m1.4 .9h0m1.1-4.4h0m4.5 4.5h0m1.5-4.2h0m5.6 1.5h0m2.2 2.8h0m1.4-.4h0m5.8-1.7h0m.9-.4h0m2.5-.1h0m.6 1.4h0m.1-.9h0m.2 1.1h0m1.1 .9h0m4-.2h0m.4-4.2h0m.1 2.8h0m3.1-1.5h0m0-1.3h0m2.3-1.1h0m.6 .7h0m1.4 3.2h0m1.1 .4h0m1.9-2.3h0m.5-1.9h0m.5 .3h0m1.3 3h0m.4-.5h0m1.3 1.8h0m7.4-2.1h0m2.1-1.2h0m.7-.9h0m.3 5.1h0m1.2-.7h0m3.1-3.5h0m.4 1.7h0m4.7-2.1h0m.1 2.1h0m.6 2.2h0m2.1-2.8h0m1.1-2.6h0m1.7 .2h0m.2 .3h0m.2 2h0m1.4 1.7h0m.4 1h0m.5-3.7h0m.9 .6h0m1.8 1h0m.8-3h0m1.9 .3h0m1.1 1.6h0m.2 3.3h0m-164.6 4.1h0m1.9 .8h0m.9 .5h0m.9 .5h0m4.8-3.5h0m1.5 .7h0m2.2-1.7h0m.9 3.2h0m1-.2h0m.9-1.6h0m3.5-.1h0m.2 2.1h0m.5-3.6h0m1.1-.6h0m.3 1.2h0m2.9 2.5h0m.8-.8h0m2.5 2.5h0m1.1-3.5h0m1.8 .1h0m2-.6h0m0 1.8h0m6.3 1h0m1.7 1.2h0m1.1-4.9h0m1.3 5.1h0m1.5-2.8h0m5.6 1h0m1.5-3.5h0m8.1 .7h0m.6 1.3h0m.2 2.8h0m1.2-3.9h0m0 2.6h0m1.8-3.8h0m.3 1.2h0m2.6 1.3h0m1.2 1.9h0m.6 .5h0m1-3.9h0m.2 .9h0m4.9 3.3h0m2.1-3.6h0m1.1 2.6h0m.9 .5h0m.2 .5h0m2.3-.1h0m.5-2.2h0m1.2 1.3h0m.3-1.3h0m.6 1.9h0m1.3-.3h0m1.7 .2h0m1-4.1h0m1.5 2h0m3.8-2h0m.4 .8h0m0 .7h0m1.4-.3h0m1.6 3.6h0m2.8-.7h0m3.3-3h0m5.4 .3h0m.6-1.5h0m3.7 4.3h0m1.4-4.7h0m.1 1.1h0m1.7 1h0m3.4-.9h0m.5 1h0m1-2.2h0m1.7 4.6h0m.8-4.6h0m2.4 3.3h0m.9-.8h0m3.5 3h0m.5-5h0m1.8 4.6h0m7.6-1.9h0m1.4 .7h0m1.4 .4h0m1.2 1.1h0m1.6-.4h0m.1 0h0m1-4.2h0m2.7 2.4h0m1.3-1h0m1.1-.4h0m2.2 1.5h0m5.2-2.6h0m1-.1h0m.8 5.2h0m.7-4.8h0m-161.6 8.9h0m1.5 .7h0m2.8-1.6h0m.7 1.5h0m1.6-.8h0m.9-1.5h0m1.1 2.7h0m.9-3.7h0m1.7 0h0m8.6-.9h0m2.2 3.9h0m.7 .2h0m1.3-2h0m.9-1.6h0m.5 2.8h0m1.9 .8h0m1.2-2.9h0m.7-1.6h0m.2 4.2h0m.4-.9h0m.9 2.5h0m.1-.4h0m.8-1.7h0m3.5 1.7h0m1.5-4h0m1.4-.3h0m.2-1h0m.8 5.5h0m1.4-.1h0m2.1-.8h0m.5-1.6h0m1.8 .1h0m.6 .6h0m.3 .3h0m.4-3.9h0m5.6 .5h0m3 1.4h0m.8 1.6h0m.5 1.8h0m2.9-2h0m0-2.2h0m1.8 2.6h0m2.6-3.7h0m.8 3.6h0m4.3-2h0m.1 2h0m2.2-3.5h0m.6 .3h0m1.1 .4h0m5.2-.3h0m.6 2.2h0m2.4-2.1h0m3.1 1.4h0m.8 .4h0m4 1.5h0m.8-2.6h0m4-.4h0m1.1 1.6h0m0 1h0m.4 0h0m4.5-1h0m1.5 .6h0m4.1 1.2h0m.9-1.5h0m2.5-1.2h0m4.7 3.3h0m.8-4.5h0m4.3 1h0m.7 3h0m3.6-3.9h0m.3 1.6h0m.3-.7h0m2.2-1.1h0m.5 1.6h0m.5 1.8h0m.7-2.8h0m.3 1.4h0m.8 2.6h0m.2-.9h0m.3-3.8h0m1 3.2h0m1-3.6h0m1.7 5.6h0m.4-.2h0m1.7-2.9h0m.9 .2h0m.3 0h0m.8 2.4h0m1.7-1.1h0m1.9-3.8h0m3.3 5h0m3.9-2h0m1.8 2.3h0m2.2-1.1h0m.4 .4h0m3.2-1.1h0m1.7-2.9h0m.1 .2h0m.1 .8h0m.2 3h0m.9-2.9h0m1-1.9h0m.7 5.6h0m3.9-2.6h0m1-2.9h0m2.1 2.5h0m-165.2 7.7h0m2.4-3.3h0m4 1.8h0m1.2 .1h0m1-2.5h0m3.5 .9h0m.9-.8h0m.1 3.8h0m2.6-2.9h0m0 4.2h0m1.4-.8h0m.3-1h0m1.9-2.9h0m1.5 .6h0m.3-.8h0m4.4 3.3h0m.6-2.4h0m.7-.8h0m0 .4h0m2 4.2h0m3.4 0h0m.8-1.9h0m0-2.3h0m4.4-.1h0m4.1 .8h0m2.1 1.7h0m.1 2h0m1.5-3.2h0m2.1-2.5h0m1.3 4.9h0m3.3-4.5h0m1.4 1.6h0m.4 1.2h0m4.6-1.7h0m.7 2h0m.7-3h0m5.6 4.1h0m1.9-3.3h0m.8-.9h0m.2 4.4h0m2.7-1.2h0m0 .2h0m2.2-3h0m.7 5.1h0m1.1-2.3h0m.6-.1h0m2.5 .1h0m1 1h0m1-.9h0m.6 .9h0m.2-1.1h0m2.5-1.4h0m2.6-1.3h0m2.1 .4h0m3 2.4h0m.7-2.4h0m3.2 1.5h0m.3-2.7h0m1.5 1.4h0m.1-.9h0m2.5 4.7h0m.2 .4h0m2.8-1h0m.9 .2h0m.7-2.9h0m1.2-1.8h0m0 .7h0m.3 4.5h0m.2-3.2h0m5.5-.4h0m1.6 3.3h0m1.4 1h0m1.1-5h0m.3 .1h0m1.6 3.6h0m.3 .3h0m.7 0h0m2.6-4.2h0m.4-.3h0m3.1 3.8h0m.3 .2h0m1.8-3.1h0m1.5-.7h0m3.2 1.8h0m5.6-2.2h0m.2 .1h0m1.5 5.6h0m3.1-.3h0m.8-.9h0m1.4-4.6h0m1.4 1.7h0m1.6-.1h0m4.6 .6h0m.8 1h0m0-.4h0m1.7 2h0m.7 1h0m.8-5.2h0m.7 2.5h0m.2-2.4h0m7.1-.5h0m1.4 1.8h0m.1-1.8h0m-167.6 8.4h0m.7-1.8h0m.6-.9h0m.5 .6h0m.7 5h0m.6-2.6h0m2 2.4h0m2.1-2.2h0m.6-3.1h0m1.4 .5h0m.6 1.7h0m.4-.2h0m1.3 1.9h0m.8 .1h0m2.1-1.2h0m1.3 1.3h0m2.1 .7h0m1.5-2.5h0m.6-.4h0m.9-.4h0m1.5 2.3h0m.7-1.6h0m.6-.5h0m.3-.4h0m.6-1h0m.3 1h0m1.2 .5h0m.1 1.6h0m1.4-1.3h0m1.2 3.2h0m2.8-2h0m.7 .8h0m.5-3.5h0m.4 2.3h0m2.6 .8h0m3 1.2h0m2.2-2.9h0m.3 .7h0m.1-.2h0m1.1-.9h0m5.8-1.5h0m.1 4.1h0m1.5-.2h0m.4-2.8h0m1.1 3.5h0m1.1-1.5h0m3.1-3.3h0m.7 2.8h0m1.6-.9h0m1.7 .1h0m.3 1h0m4.1 .3h0m2.9 2.1h0m.1-1.7h0m1.7-2.9h0m.6 3.6h0m1.6-1h0m1.2 2.5h0m.3-4.5h0m1.8 2.1h0m.3 .2h0m2 .5h0m4.9 1.3h0m5.6-2.2h0m.4 2.5h0m1-2.8h0m2.2-1.9h0m3.2-1.2h0m2.2 .4h0m2.6 2.3h0m2.1-2.5h0m1.6 3h0m1.2-2.3h0m.5 2.5h0m1.7 1.1h0m2.8-3.7h0m.6 3h0m.1 1.1h0m1-3.5h0m1.4-.2h0m.7-.2h0m1.5-.5h0m1.3 .2h0m1.7 4.5h0m1.1-.4h0m1.2 .6h0m.1-1.8h0m.1 2.2h0m.5-2.8h0m3.1-2.2h0m.1 1.8h0m3.8-.4h0m.9 3.5h0m.9-2.8h0m3.6 2.1h0m.4-1.3h0m.2 1.9h0m2.1-4.2h0m1.3-1.3h0m.9 .5h0m2.1 0h0m.9 1.7h0m1.4 1.6h0m2.5 .6h0m5.4-2.9h0m1.8-.6h0m.8 4.9h0m3.2-2.2h0m.6-.9h0m1.8-.2h0m.7 1.1h0m.2-1.3h0m1.4 2.6h0m0-3.1h0m.3 .6h0m.4 1.5h0m3.1-1.8h0m4-.2h0m0 1.3h0m.7-3.2h0m-168.5 10.3h0m.1-2.1h0m.4-.6h0m2.1 .4h0m6.2 2.7h0m1.3-4.4h0m.1 2.1h0m.5 3.3h0m2.1-.9h0m1.4-.4h0m1.3-3.7h0m.6 5h0m1.1-3.9h0m.6-1.6h0m1.3 5.1h0m.5-1.2h0m3.4 1.7h0m3.1-4.7h0m.8 4.7h0m.4-.7h0m6.6-1.4h0m.3-2.2h0m.8 3.8h0m4.1-3.4h0m.4 3.2h0m1.1-2.2h0m2.2-.9h0m.1 .9h0m0 1.3h0m0-.5h0m.5-1.8h0m.4-1.7h0m1.1 3.5h0m.5-1.8h0m.4 3.3h0m.4-3.2h0m.2 .3h0m.1-1.6h0m.5 1.9h0m.4-2.6h0m.9 4.5h0m.5-1.9h0m2.3 2.4h0m6-4.2h0m1.3 .1h0m.4 3.7h0m1.1-.1h0m.7 .9h0m.4-3.7h0m.5 1h0m2.5-2.4h0m.6 .4h0m1.8-.4h0m1.9 3.9h0m1-1.2h0m2.7-1.6h0m1.4 4h0m1.3-3.7h0m1.4 0h0m.1 0h0m.1 3.5h0m4.1-2.2h0m2-1h0m.7 2.9h0m1-.6h0m.6-3.5h0m.4 2h0m.8-2.6h0m1.9 4h0m1.3-2.2h0m.8 3.4h0m1.4-1.1h0m1.2-2.6h0m.1 2.4h0m.7-.3h0m2.5-.2h0m8.6-3.1h0m.7 3.2h0m1.2-2.3h0m1.6 3.5h0m.5 .9h0m.3-4.7h0m4.5-.9h0m.4 4h0m3.2-2.7h0m2 4.1h0m.7-1.2h0m.3 .6h0m2.7-3.1h0m1.3-1.8h0m.3 .1h0m2 2.6h0m2.6 1.7h0m2.3-2.6h0m.1 2.6h0m.9-.9h0m2.7-3.1h0m3.6-.2h0m.9 3.9h0m.1-1.3h0m1.5 1.3h0m.9-3.8h0m3.9 1.8h0m1.3 1.8h0m5.3 1.1h0m.4-4.2h0m.2 4.2h0m1.8-5h0m1.1 0h0m1.7 3.8h0m.9-3.8h0m2.3 1h0m1.2-1.2h0m2.7 4.5h0m1.7 0h0m-166.5 4.6h0m2.1-3h0m.1 4.7h0m1.9-4.5h0m.7 4.6h0m3-2.7h0m4-.4h0m.1-.6h0m1.4 1.1h0m2.6-.9h0m1-.2h0m.9 4.1h0m1.4-1.6h0m2-.8h0m2.3 1.9h0m.3-1.1h0m.1 1.2h0m7.1-.5h0m3.6-2.4h0m.6-1h0m.7 3.5h0m1.8 .1h0m1-2.2h0m.2 1.1h0m.8-1.9h0m2.9 1.7h0m.8 1.7h0m.2-.6h0m.3 1.2h0m2.5-3.7h0m.3 .5h0m.1-2h0m.2 2.2h0m2.9-2.6h0m.9 2h0m1.1 .8h0m5.2-2.5h0m.2 3.4h0m2.4-.4h0m1.7-2.4h0m.7-.4h0m.5 0h0m4.8 2.4h0m1.3 .9h0m2.2-2.3h0m1.2 .9h0m.3 .2h0m.6-.1h0m0 3.5h0m1.3-3.7h0m.4-.9h0m2 3.7h0m1-3.5h0m1 1h0m7.3-1.9h0m2.6-.4h0m1.6-.1h0m2.3 1h0m2.9 1.6h0m.4 .2h0m2.2-.9h0m1.8 .9h0m1.3-.7h0m.4 3.5h0m11.2-4.7h0m.5 3h0m.2 1.7h0m2.4-5.6h0m.2 2.5h0m.9-.6h0m1.1-.8h0m.7 1.9h0m3.9-3.1h0m1.9 5.1h0m.4-2.6h0m.4 2.5h0m.8-.1h0m2.8-3h0m1.3-.5h0m.1 3.1h0m2.5-.9h0m1.7 1.3h0m1-.6h0m3-1.9h0m1.6-.8h0m0 2h0m1-1.8h0m4.4 2h0m1.1 .9h0m.4-1.1h0m.3 1.7h0m.4-2.4h0m.6 .9h0m6.6-1.3h0m4.4-2.6h0m.4 3.4h0m1.5-2h0m.7 3h0m1.1 1.5h0m.1-.2h0m.5-5.6h0m3.2 4.7h0m2.1-1.7h0m-167.1 3.6h0m.6 2.6h0m.2-2h0m1.8 3.4h0m6.2-3.3h0m1.5 3.6h0m.2 .7h0m4.9-3.4h0m.8 .8h0m.3 2.1h0m.7-2.4h0m2.7 0h0m.8-1.9h0m.1 2.1h0m4.5-1.2h0m1.1 1.4h0m.4 1.8h0m2.9-3.2h0m.3 .6h0m.1-1.6h0m.3 4.6h0m.4-1.8h0m8-.3h0m.5-1.5h0m1 3.9h0m2.3-3.6h0m.5-.3h0m0 3.9h0m.2-5.4h0m.3 2.2h0m2.2-1.8h0m0 4.8h0m2.9-3.2h0m2.4 3.1h0m1.1-.4h0m.3-4.3h0m.1 .3h0m.2-.7h0m1.5 5.1h0m.3-3.3h0m.9-.9h0m3.3 3.9h0m1.8-.2h0m4.5-3.2h0m.7 1.2h0m1.9 2.9h0m1.4-.6h0m.6-3h0m1.4 1.7h0m4-1.2h0m3.1 1.6h0m1.2-.6h0m1.2 2.2h0m3.9-5.7h0m1.4 .7h0m.9 4h0m2.5-1.1h0m1-1.6h0m1.7 .7h0m1.5-2.4h0m4.5 5h0m.5-1.2h0m2.1 1.2h0m.6-2.2h0m.4 2.7h0m.2-2.1h0m3.6-.2h0m.3 .7h0m.4-3.7h0m4.1 4.3h0m.9-1.2h0m.3-1.1h0m3.6 .4h0m.4-2h0m3.5 3.6h0m.6 1.1h0m1.1-3.8h0m.2 3.6h0m.7-2.2h0m.1 1.7h0m1.2-5h0m1.2 1.2h0m.9 0h0m2.6 2.8h0m5.8-3.5h0m1.1 1.5h0m.1-.5h0m1.2 1.1h0m.3-1.3h0m1.3 1h0m2-1.2h0m4.6-.9h0m1.2 4.5h0m5.8-3.4h0m7.2 3h0m0 1.1h0m.9-2.6h0m.4-.7h0m1.6 .6h0m.3-.7h0m.3 3.8h0m.7-2.3h0m3.2-.7h0m.8-.5h0m0-1.5h0m.3 3.2h0m-167.2 7.2h0m.7-5.2h0m4.7 2.1h0m1.8 1.7h0m1.3 1.3h0m8.3-.6h0m3.4 1.1h0m1.7-2.3h0m2.4-2.7h0m.5 2h0m1.5 .2h0m.6-2.5h0m.6 5h0m.4-3.8h0m.4 4.1h0m.7-1.2h0m.8-2.4h0m4.7 .2h0m.7-.1h0m.3 3.6h0m1.2-.7h0m0-.4h0m3-.9h0m.6 .6h0m1.7 1.3h0m.3-2.1h0m.5-.1h0m2.2-3.2h0m1.5 4.9h0m4.4-.7h0m1-1.1h0m2.2-1.1h0m.8-1.6h0m2.7 3.7h0m.1-.1h0m2.6 1.2h0m.3-3.7h0m0 3.3h0m.3-2h0m1.6-2.2h0m3.3 3.1h0m1.7-3.1h0m2.6 5h0m2.2-3.7h0m0 2.6h0m1.3 .2h0m.3 .9h0m4.3-3.9h0m1.1 2.8h0m.1-2.9h0m2.3 .6h0m.5 0h0m1.2 1.2h0m1.8-2.8h0m3.5 .7h0m3.2 2.7h0m.7-.8h0m.3-.1h0m.3-2.1h0m3-.6h0m.9 1.8h0m1.3-1.2h0m2 .2h0m2.2 2.7h0m4.1 1.7h0m3.5-.5h0m1.9 .6h0m2.8-2.7h0m.5-.3h0m1.3-1.7h0m.6-.8h0m2.7 2.3h0m.8 1.7h0m3.6 1.2h0m.2-2.9h0m2.2 1.5h0m2.3-.3h0m1.4 .9h0m.4-2h0m2.8 1.5h0m2.2-.2h0m.1 1.1h0m1.6-3.8h0m7.7 2.4h0m2.9-3.6h0m.2 1.9h0m.2 .4h0m2.4 3.1h0m0-4.9h0m2.7 5h0m5-3.4h0m1.2-.3h0m5.5 .9h0m.3-2.4h0m1.9 0h0m.1 4.7h0m-168.4 2.6h0m.7 2.8h0m1.3-3.9h0m6.9 1.2h0m.4-.9h0m.1 3h0m2.4 .4h0m.5-3.4h0m.2-.9h0m4 1h0m.3 3.8h0m1.3-.1h0m.3-3.6h0m2.2 4.2h0m2.2-1.9h0m3.5-1h0m2.5 .2h0m.1 1.9h0m.9-.4h0m.7-1.6h0m.4-.3h0m.3-1.8h0m.2 .3h0m3-.2h0m1.4-.6h0m.3 1.6h0m.1 1.5h0m.1-1.9h0m.1 1.2h0m.3 .6h0m3.7-2.5h0m.4 .9h0m0 1.5h0m.9-.8h0m1.2 1.7h0m1.2-3.2h0m2.9 4.5h0m4.8 .4h0m.8-2.4h0m2.6-.4h0m2.2 2.1h0m3.3 .3h0m5.3-.7h0m1.7-3h0m5 2.2h0m.3-1.8h0m3.3-1h0m2.9 2.4h0m2-.8h0m.3 3.4h0m2.1-3.8h0m1.6-.3h0m.3-.7h0m2.9-.8h0m.1 3.7h0m1.9 1.6h0m.8-2.9h0m1.8 2.8h0m2.7-3.1h0m1-2h0m.2 3.8h0m.6-1.4h0m.5-.1h0m.3 2h0m3.4 1.1h0m0-.6h0m.1 .5h0m1-3.6h0m1-.3h0m.4-1h0m.3 5h0m.8-5.8h0m1.8 2.7h0m.3-2h0m1.8 2.1h0m.5 1h0m1.3-.8h0m1.8 .7h0m1.2-2.9h0m.3-.2h0m4.1-.2h0m1 4.4h0m2.8-4.5h0m2.9 5.1h0m1.5-4.2h0m5.9 3.9h0m4.2-2.8h0m1.7 3.2h0m.7-1.6h0m.7 .6h0m.1-.7h0m0 2h0m2.4-4h0m1.4 3.9h0m1.7-2.8h0m.5 1.4h0m1.8-.2h0m2.4-4.1h0m.7 4.7h0m3.2 .1h0m0-.9h0m1.6-3.8h0m.5 2h0m0 1.2h0m.8-2.8h0m1.5 3.3h0m4.8-2h0m.2 3.4h0m.3 .7h0m-162 1.2h0m0-.9h0m3.5 1h0m1.2 1.2h0m8.7 1h0m2.3-2.7h0m1.6 2.4h0m4.9-.8h0m1.9-.4h0m.3 .1h0m.8-1.9h0m4 3.2h0m.9 1.2h0m2.5 .6h0m8.2-3.4h0m1.6 2.5h0m2.5-2.8h0m.4-1h0m.4 3.3h0m1.1 2.3h0m2.7-5.1h0m.6 4.4h0m.3-2.9h0m1-.2h0m.6 3.6h0m.6-2.6h0m2.1-2.5h0m.6 .9h0m4.1 3.4h0m3-2.9h0m3.3-.4h0m1.8 2h0m3.4-.5h0m2.5-1.3h0m6.3 4h0m6.4-2.4h0m2.2 .8h0m.4-.7h0m.2 1.6h0m.1-2.2h0m.7 1.9h0m1.3-2.8h0m2.8 .7h0m2.8 .5h0m1 .5h0m.6 1.8h0m1.8-2h0m.2 1.1h0m2.3-2.6h0m1.5 .8h0m.1-1h0m3.1-1.5h0m1.5 .1h0m1.1 2.3h0m4.8 2.8h0m.3-2.9h0m1.5-2.5h0m.6 2.2h0m5.6 1.2h0m1.2-.8h0m2.4 1.8h0m1.6 1h0m.3-.7h0m.2 1h0m.7-3.5h0m.5-1.2h0m2.7 4.1h0m2.1-2h0m5-.3h0m.7-.1h0m.4-.1h0m.7-.1h0m2.7 3.2h0m1.8-1.8h0m.1-3.9h0m2.1 .6h0m.5 4.7h0m.2 0h0m4.8 .4h0m6.5-4.7h0m.2 1h0m.1 .5h0m.5 1.8h0m1.5-3.7h0m1.3-.3h0m.8 1.4h0m1.1-1.5h0m-167.7 6.8h0m.7 2.3h0m.5-1.8h0m.8 1.5h0m4.9-2.6h0m5.2 2.8h0m7.8-.7h0m5.9-2.4h0m2.7 3.1h0m2.5-.8h0m2.4-2.2h0m3.3 .3h0m.8 1.6h0m2.1 .4h0m.6-1h0m4.2-1.3h0m4.9 2.8h0m5.9-.8h0m1.9 0h0m.3 .5h0m.5 .7h0m3-2.5h0m3.3 1.7h0m12.5-1h0m3.6 1.5h0m2.2-3.2h0m.4 .1h0m1.1 1.8h0m3.8 .3h0m2.2 .2h0m3.2 .1h0m1-2.1h0m6.8 .6h0m2.2 .7h0m4.2 0h0m2.1 .4h0m4.7-1.9h0m.3 .7h0m0 .5h0m3.1-.2h0m1.6 2.1h0m.1-2.7h0m7.9 .9h0m3.3-.7h0m2.5 .6h0m0 1h0m5.5 1h0m1.6-3.2h0m2.4 1.4h0m8.1 .1h0m3.8 1h0m.9-1h0m1.1 .3h0m3.3-1.5h0m2.1 1.6h0m5.2 .7h0m.5-1.5h0m.7-.2h0m.2 1.4h0" stroke="#9ea6d6" stroke-width="1.0" stroke-linecap="round"/><path d="M215.6 328h0m.8 .1h0m1.8 2.4h0m1.3-.3h0m2.1-2.4h0m2.1 .6h0m1.2 3.4h0m1.7-.1h0m3 .2h0m8.7-2.6h0m0 1.9h0m6-3.1h0m1.2-.3h0m5.5 4.8h0m.1-1.3h0m3.8 .1h0m4.9-2.3h0m.1-.6h0m.9 1.8h0m.5-.3h0m4-2.5h0m3 .3h0m11.1-.2h0m3.6 2.9h0m2.7 1.1h0m2-1h0m1.5 1.7h0m6.9-1.3h0m5.3 1.8h0m25.2-1.9h0m9.9-.3h0m0-1h0m1.8 2h0m.5-3.3h0m7.9 1.4h0m3.2 .9h0m1.2-2.9h0m.7 3.7h0m1.3 1.3h0m2.8-.6h0m2.9 .1h0m2.6-.1h0m.6-2.8h0m0-1h0m3.9 .4h0m2.4-1h0m1.6-.1h0m5.1 .9h0m1.2 .9h0m3.1-1.7h0m.5 2.8h0m-163.4 4.8h0m2.8-2.1h0m4 2.8h0m.7 2.6h0m1.6-2.4h0m3 2.5h0m.1-4.2h0m2.5 .5h0m3.3 3.4h0m.4-4h0m2.2-1h0m6.2 5.4h0m4.4-2h0m.2-.8h0m.8-.2h0m.6 1h0m.3-.4h0m0 1.2h0m2.5-.1h0m5.6-.5h0m.3-2.2h0m3 .4h0m.5 2.2h0m5.8-.3h0m2-3.6h0m3.5-.1h0m6 4h0m6-3.2h0m1.8 3h0m3.6 1.2h0m1.6-2.9h0m6.1 2.4h0m1.9-4.3h0m2.1-.2h0m1.1 5.3h0m.2-2.9h0m3.6-.2h0m6.7 2h0m2.6-.2h0m.4-4.3h0m.6 .6h0m5.5 1h0m7.5-1.3h0m.6 .6h0m6.5 .2h0m2.8 .6h0m5.6-1.6h0m6.9 3.7h0m1.4-.2h0m3.7 .4h0m5.7-.1h0m1.6-.2h0m5.7-1h0m5.9 3.2h0m.6-.7h0m2.6-.2h0m-164.5 6.6h0m1.7-2.1h0m0 .6h0m1.3-3.1h0m13.3-.8h0m.3 2h0m.1 2.6h0m9.9-3.8h0m1.6 3.6h0m3.2 .5h0m.4-1.4h0m5.2-.2h0m8.1 1.5h0m.2-4.1h0m1.6 4.2h0m3.9 .7h0m3.8-.4h0m.2-3.4h0m5.2 1h0m1.3 .3h0m1.1-2.7h0m1 2h0m1.9 1.2h0m6.5-.9h0m4.2 1.7h0m2.4-2.5h0m.7 2.7h0m.3 .2h0m6.9-1.1h0m.5-1.5h0m2-1.3h0m3.5 4h0m1.9 0h0m4.8-3.3h0m.9 2.7h0m.7 .4h0m.3-1.6h0m1.6-.3h0m2.1 2h0m2.4 .1h0m2.1-3.5h0m.2 1h0m3.6-.3h0m.7 1.6h0m7.2 1.9h0m.3-.2h0m3.7-5.2h0m2.9 3.9h0m9-.3h0m.9-.9h0m13.4 1h0m.4-.4h0m3.8-3h0m3.3 1.7h0m.5 .3h0m.1 .8h0m3.2-2.7h0m5.2-.2h0m-166.1 8.1h0m2 2.7h0m1.5 .3h0m2.9 .1h0m6-4.4h0m3.4 1.9h0m5.3 1.8h0m2.8-4.3h0m2.3-.6h0m4.3 5.6h0m2.3-4.1h0m1.6 3h0m3.7 .1h0m11.3 .4h0m.8-.6h0m2.1-3h0m5.1 3.2h0m4.5-4.6h0m2.8 3.1h0m1.3-.6h0m1.2-1.4h0m4.5 .4h0m5.2 2.3h0m.6 .4h0m6-4h0m.1 1.7h0m.5 .9h0m.7 1.7h0m.2-4.5h0m2.7 5.6h0m.8-.9h0m1.4-.2h0m3.1-.7h0m5.8 1.3h0m2.1-1.2h0m2.8-3.2h0m1.3 .7h0m0-.9h0m3.5 .6h0m2.3 3.1h0m3.1 1h0m1.2-1h0m6.8 .9h0m7-4.3h0m2 3.2h0m2.3-2.8h0m.6 .1h0m.9 3.9h0m1.1-3.6h0m3.6 .4h0m1.4 1.4h0m4.1-1.4h0m1.6 2.4h0m4.3-2.5h0m5.3-.6h0m2.3-.4h0m5.4 .8h0m-165.3 9.6h0m1.5-3.9h0m1-1.5h0m.7 .5h0m.4 1h0m.3-.1h0m2.1 .3h0m3.2-.2h0m4.3 3.3h0m11-1.8h0m1.3 2h0m7.9-2h0m2.2 2.7h0m5.3-2.3h0m.5 .5h0m2.2-3.7h0m4.8 .6h0m.1 1.5h0m10.1-.1h0m.5 .3h0m17 .5h0m2.7-1.2h0m.4-1.4h0m6.5 1.6h0m1.9 3.5h0m.3-.9h0m.3-3.1h0m19.2 3.7h0m.4-2.9h0m1.3 2h0m6.6-2.3h0m1.4 .8h0m5.7 0h0m3.3 2.8h0m.8-1.2h0m.2-.8h0m0 0h0m2.2 .1h0m2.1 .6h0m.2-2.9h0m1 3.7h0m2-2.3h0m5.3 2.5h0m8.1-2.9h0m.7-1h0m1.4 .6h0m2.9 3h0m2.2-4.9h0m.9 .1h0m9.8 1.3h0m.1 .7h0m-162.5 6.1h0m2.9-1.1h0m4.1 2.6h0m.7-3h0m2.9 1h0m1.7-.3h0m4.1 3.9h0m3.7-2.1h0m2-1.9h0m1.1-.8h0m5.9 0h0m3.2 .7h0m.6 .1h0m1.4 3.1h0m5.1-4.4h0m.2 2h0m.3 .2h0m.5-.9h0m.1 2h0m.3-.1h0m6.4-1.5h0m.1 4h0m2.8-5.9h0m6.9 .3h0m.3 2.9h0m.6 .3h0m1.4-3h0m.8 .8h0m6.6-.1h0m10 1.3h0m.5-1.2h0m2.2-.6h0m3.9 .4h0m3.2 .9h0m.4 1.9h0m4.9 1.7h0m1.9-4.4h0m.7 2.4h0m1.3-3.6h0m4.3 5.2h0m1.8-1h0m4.4-2h0m1.4 .6h0m.3-2.8h0m1.4 5.5h0m8.6-4h0m6.4 2.1h0m.9 .5h0m.4 .9h0m13.5-2.3h0m1.8 1.8h0m.7-4.1h0m6.4 4.2h0m3.5-1.7h0m10.1-.5h0m.2 2.6h0m1.5-.6h0m-168.2 3h0m1.9-.6h0m6.6 4.3h0m1.1-.4h0m2.2-1.6h0m1.9-1h0m.1-1.4h0m.6 .1h0m.6 4.9h0m.4-4.7h0m3.2 2.7h0m1.2 2.1h0m2.3 0h0m6.6-4.1h0m18.8-.2h0m.4-1.4h0m2.9 4.4h0m2.1 1h0m9.8-2.5h0m2.3-1.1h0m.5 1.7h0m1.9 1.4h0m10.4 .5h0m.8-1.3h0m2.5-3.2h0m6.5-.9h0m6.8 4.8h0m.7-.8h0m.6-2.7h0m9.1 2.9h0m.1 1.4h0m.8-3.6h0m2.3 1.9h0m.5-1.9h0m.8 3.2h0m0-4.1h0m4.7 3.1h0m5.4 1.3h0m5.1-4.5h0m6.7 1.8h0m2.9-2.2h0m.7 4.1h0m12.1-2h0m4.9 .1h0m.5 2.8h0m4.1-2.9h0m.6 .4h0m2.4-2.1h0m1.5-.2h0m.9 3.8h0m5.7 .4h0m-166.3 .9h0m1 3.7h0m3.8-3.4h0m1.3 3.1h0m0-2.6h0m2.5 2.9h0m.7 1.9h0m1-2.3h0m3.5 1.7h0m1.3 0h0m3.1 .4h0m.5-4.2h0m2.9 3h0m2.6-3.5h0m1.1 1.2h0m3.6-1.3h0m2.1 4.7h0m.8-3h0m1.1 .6h0m4.6-1.3h0m.1 4h0m4.7-4.2h0m.6 2.8h0m6.9 1.5h0m5.2 0h0m16.2-.4h0m.2-3h0m3 2.7h0m4.9-4.4h0m9-.5h0m1.7 4h0m1.7-.6h0m1.2 .8h0m6.9-2.9h0m1.9 3h0m13.7-.2h0m3.7-2.3h0m1.6 3.6h0m1.4-5.4h0m2.7 2.5h0m3.2 2.5h0m1.4-3.1h0m3.4 2.6h0m4.1-4.2h0m5.1 2.4h0m.2 2.4h0m5.4-4.1h0m2.5-1h0m4.3 3.3h0m1.6 1.2h0m.5-1.1h0m3.4-2.3h0m.9 2.8h0m5.9-1.4h0m.1-2.4h0m-163.6 5.9h0m2 4h0m2.5-3.3h0m2 3.2h0m.8-2.4h0m.6 .5h0m.4-1.4h0m1.8 4.8h0m4.2-2.8h0m1.6 2.8h0m.8-4.7h0m.3 .3h0m1.8 3.8h0m1.9-.5h0m0-3h0m6.1-.1h0m2.4 3.6h0m6.2-2.3h0m.7 .5h0m.3-3.2h0m4.1 3.1h0m2.7 1.3h0m6.7 .6h0m6.3 .5h0m2.5-.3h0m13.3-4.2h0m2.6 .7h0m.5-1.1h0m1.7 4.3h0m.7-1.7h0m1.2-3h0m2.5 3.1h0m2.4 .6h0m3.8 .4h0m4.8-.6h0m2.2-3.6h0m.1 1.7h0m1.4 3.7h0m10-3.9h0m1 .9h0m4.7 .8h0m1.8-2.1h0m1.2 2.8h0m1-2.1h0m1.5-.6h0m.1 2.2h0m1.1 1.8h0m1.1-4.3h0m3.4 4.3h0m1.6 .5h0m4.9-.7h0m1.9-2.2h0m3.5-.4h0m4.5 2.7h0m.6-.9h0m1.2-1.7h0m4.2-1h0m8.4-.1h0m1 1.3h0m1.9-1.1h0m2.3-.3h0m1.9 .1h0m3.8 2.2h0m-168.7 5.5h0m2.5-3h0m4.5 2.9h0m.3-.4h0m0 2.9h0m.7-5.5h0m2.4 5.2h0m.3-2.8h0m.1 1.9h0m3.6-3.4h0m1.1 .3h0m9.1 1.7h0m6.1 2.5h0m.6-4.4h0m3.7 .8h0m5.2 2.2h0m7.7-.3h0m1.1-2.2h0m2.6-.2h0m5.5 3.1h0m1.9 1.2h0m.6-.4h0m1-4.2h0m7 3.8h0m5-4.5h0m2.2 2.2h0m.5-1.7h0m9.3 2.9h0m1.6-2h0m1.8 .5h0m9.3 2.1h0m.6 .3h0m3.5-3.6h0m2.1 .8h0m1.2 2.1h0m3.3-2.9h0m.6 1.5h0m2.3 .6h0m2.4-.2h0m1.6-2.7h0m.8 5.2h0m10.8-2.8h0m.6-1.4h0m3.2 4.3h0m5.3-3.2h0m.5-.4h0m.1 .6h0m1.6 2.6h0m4.1-3h0m16.1 .5h0m2.1 0h0m-157.2 4.2h0m.5-.1h0m4.8 .3h0m1.3 3h0m6.9 1.7h0m1.8-4.1h0m.8 3.7h0m1.3-1.5h0m3.5-3.2h0m2.3 2.8h0m.8 .7h0m1.7-.9h0m1.2 .6h0m.6-3.7h0m1.7 1.1h0m.3 .2h0m.5 .9h0m.7-1.6h0m5.2 0h0m3.4 3.2h0m7.7-1.3h0m2.5-1.8h0m1.4 2.5h0m2.1-2.9h0m3.6 .6h0m0 2.7h0m.6-1h0m.2 2.2h0m2.3-.2h0m7.8-4.2h0m9.8 2h0m2.1 1.9h0m1-1.8h0m.9 3.3h0m3.2-2.2h0m3.3 0h0m1.6-1h0m4.8-2.7h0m.8 2h0m5.8 1.9h0m.5 1.2h0m1.5-2.9h0m.6-1.2h0m1 2.7h0m1.2 .3h0m0 .4h0m.2 .7h0m.6-1.4h0m3.9 .9h0m10.3-.2h0m3.1-1.5h0m5.3 3h0m4.7-.7h0m.2-1.4h0m1.7-1.2h0m4.4 2.2h0m.7-.4h0m.4-2.2h0m1.9 1.1h0m4-.9h0m.2 2.3h0m1.7-1.3h0m2.7-3.4h0m2.1 3.5h0m.7-.1h0m3.4 2.3h0m2-.7h0m-163 5.2h0m1.8-2.3h0m1-1.5h0m2.1 2.4h0m.8-2.3h0m1.2 .3h0m1.1 3.3h0m.5-2.2h0m.3 0h0m3 3.8h0m1.4-5h0m1.7 4.7h0m3.2-3.6h0m4.8-.2h0m1 .7h0m1.6-.9h0m7.1 3.2h0m1.9 1h0m1-.4h0m3 .6h0m1.1-.9h0m1.3-4.8h0m.4 1.6h0m11.3 2.9h0m7.4-3.9h0m4 4.8h0m2.6-5.1h0m2.7 3.2h0m2.8-1.7h0m8.4 2.1h0m.2-.1h0m9.8 .4h0m10.2-2.3h0m2.1 1.6h0m4 2h0m.2-3.1h0m1.7-.7h0m1.6 .1h0m.1-1.1h0m5.6 4.3h0m1.2-1.7h0m1.1-1h0m4.5 3h0m3.7-3.4h0m1-1.7h0m.2 1.1h0m.5-.7h0m.7 4.4h0m3.8-2.7h0m1.5 1.2h0m2.7-2.4h0m4.6 0h0m.6 2.6h0m3.6 .9h0m4.2 1.1h0m.2-2.4h0m2.1-2.2h0m.2-1h0m3.3 .6h0m1.8 3h0m4.4 .4h0m-160.7 2.1h0m7.9 3.8h0m3.5-1.5h0m3 .1h0m2.3 3h0m3.6-5.4h0m.6 2.5h0m.6 .2h0m.2-.9h0m7 2.2h0m4.7-1.5h0m3.3-1.3h0m.5 1h0m6-.8h0m1.8-1.7h0m1.1 1h0m8.4 .2h0m0 3.1h0m11.1-1.4h0m5.5-.3h0m.2 1.9h0m2.6-3.3h0m3.3 1h0m1.2-1.7h0m5.6 5.4h0m3.2-1.5h0m2.6 .2h0m3 .1h0m1.9-3h0m3.7 1.5h0m9.1-1.1h0m.4-.6h0m.3-1.4h0m2.8 5.1h0m3.4-.4h0m5.1-3.4h0m2.4 2.1h0m.3-2.9h0m3.8 2.9h0m1.7 .6h0m2.9 1.8h0m2.5-4.3h0m1.2 .3h0m.2 .5h0m7.3 0h0m1.3 1.4h0m6.6 .6h0m5.4-1.4h0m3.3 1.9h0m.1-4.4h0m3.4 5h0m-161.2 .7h0m5.2 3.1h0m4.3-1.8h0m2.7 2.5h0m.9 .2h0m3.5-2.6h0m5.9 1.8h0m3-3.1h0m12.6 3.4h0m8-2.9h0m.3 3.5h0m.1 1h0m1-2.7h0m7.7-1.5h0m4.7 .6h0m1.2-1.1h0m4.9 2.2h0m4.1-.7h0m10.9 1.1h0m6.4 .4h0m2.9 0h0m11.6-1.3h0m4.1 3.2h0m4.1 .1h0m11.1-.8h0m1.3-3.6h0m2.2 .2h0m3.6 1.8h0m2.2-.8h0m1.3 1.6h0m.1-.2h0m1.6 .3h0m8.4-.4h0m.8-3.3h0m3.4 3.4h0m1.9-3.9h0m2.8 0h0m3.7 3.5h0m1.2 .8h0m.2 .9h0m-157.1 2h0m.2 1.1h0m7.1-1.2h0m9.9 1.1h0m6.5-.7h0m5 2h0m8.5-2.7h0m1.6 2.7h0m16.2-2.3h0m.3 1.2h0m6.2-2.1h0m2.6 1.6h0m10.5 .3h0m13.4-1h0m3.6 .2h0m3.7 2.1h0m6.6-1.2h0m6.4-2.3h0m.9 1.3h0m10.8 1.7h0m.2-2.6h0m.1 .1h0m5.3 1.4h0m.9-1.1h0m.3 .7h0m4.5 2.1h0m10.6-.1h0m2.5-3.4h0m12 1.9h0m8.5-1.2h0m.8 2.1h0" stroke="#d4284f" stroke-width="2.8" stroke-linecap="round"/><path d="M215.2 330.1h0m.8-.8h0m5.8 2.4h0m13.7-1.2h0m5.5 2.4h0m.7-1.1h0m23.7 .3h0m4.3-3.8h0m12.4 3.6h0m18.7-4h0m5.1 4.3h0m14.8-3.6h0m10.3 .6h0m3.2 3.2h0m2.3-1.2h0m1.7-3.7h0m12.2 4.9h0m8.6-4h0m5.6 2.4h0m3.2 1.9h0m4.3-3.1h0m3.9-1.7h0m.7 .9h0m-159.9 8.8h0m4-2.2h0m8 3.3h0m8.5-5.5h0m3.8 1.9h0m1.9 3.6h0m3.1-3.3h0m11.4 3.1h0m9.2-2.4h0m3.5 .1h0m3.3-1.4h0m3.4 2h0m3.3-.5h0m2.4 1.4h0m3.8 .3h0m3.6-4.4h0m4.1 3.6h0m7.8 .4h0m3.8-3.9h0m5.3 1.8h0m4.3-.1h0m.7-1.9h0m18 4.7h0m3.5-.6h0m1.1-1h0m3.5-2h0m11 .6h0m1.9-.4h0m.9 2.3h0m2.3-.9h0m6.5 2.6h0m1.4-3.9h0m2.3-1.1h0m7.3 3.7h0m3.4-.7h0m.9 .3h0m-162.2 2.8h0m1.5 0h0m.9-.4h0m.5 2.5h0m10.1 2.5h0m13.6-4.1h0m10.4 2.6h0m.6 .5h0m0-4.1h0m3.2 1.8h0m8.6 .4h0m5-1.9h0m4.6 .9h0m0 3.9h0m1.5-.8h0m4.8-2.9h0m8.1 2.2h0m3.3 .3h0m2.6-1.6h0m.3 1.6h0m6.8-2.4h0m7 2.7h0m3.7-2.8h0m3.1 1.6h0m.6 1.8h0m8.9-2.6h0m.4 1.5h0m1.2 1.4h0m2.8-.9h0m4.7-.8h0m11.5 1.1h0m3.2-1.3h0m4.1-2.9h0m5.5 2.7h0m7.1-3.4h0m.7 1.3h0m13-.7h0m-157.9 8.4h0m9.5-1.3h0m8.3 2.6h0m1.9 .8h0m9.3-2.7h0m.9 1.4h0m.5-1.4h0m7.4 2.7h0m10.7-3.5h0m4.8 .3h0m2.7 1.6h0m15.6 .1h0m28.7 .9h0m4.1-.7h0m.8 1.7h0m6.9-2.4h0m.8-2.6h0m7.4 .2h0m3.6 .6h0m8.7 2.8h0m7.2-3.8h0m4.4 2.5h0m5.2-.2h0m-151.6 3.5h0m.3 3.7h0m3.6-3h0m2.6 4.5h0m3.4 .3h0m5.3-4h0m5.3 .9h0m2.2 .2h0m1.1 2.2h0m9.3 .3h0m2.4-2.8h0m8.8-1.4h0m26.2 4h0m3.6-1.9h0m3.5-.6h0m7 .8h0m8.9 2.1h0m6.4-3.1h0m20.2 3.4h0m2.7-1.8h0m.2-.3h0m2.8-3.1h0m2.2 3.6h0m1.6-2.9h0m1.8 3.2h0m4.5-3h0m2.5-.8h0m3.6 2.9h0m-149.3 3.5h0m4.9 1.6h0m1 2h0m.9-1.3h0m4.7-.8h0m12.2-2.3h0m4.1 5.5h0m.5-2h0m.1-2.3h0m.1-1.2h0m2.5-.1h0m4.4 1.8h0m2.5-.9h0m1-.6h0m4.4 5.6h0m3.1-1.9h0m.5 1.5h0m8.4-4.3h0m.1-1h0m10.7 2.7h0m2.2-.7h0m1.4-2h0m1.7 4.4h0m.4 .2h0m.1-.8h0m5.1-3.4h0m4.3 .6h0m1.4 4.3h0m.9-2.3h0m2.4 0h0m8.3-1.2h0m9.3 .3h0m8-.8h0m2.5 3h0m.7 1.2h0m5.6-.2h0m8-1.8h0m3.7 .5h0m0 .4h0m10.9-3.2h0m.6-.9h0m5.5 3.8h0m1.6-2.9h0m8.3 1.1h0m2.4-1.5h0m-158.5 10.5h0m11.4-4.2h0m.5-1.3h0m9.7 2.2h0m9.7 1.3h0m1.5-3.2h0m3 3.5h0m0 2.1h0m2.2-3.9h0m1.6 .1h0m2.1-1.5h0m3.2 3.1h0m13.3-1.3h0m2.2 1.1h0m2.7-1.7h0m9.4-1.1h0m9.6-.5h0m1.2 1.7h0m5.9 1.8h0m.8-2.8h0m4.8 1.9h0m.7 2.4h0m9.8-1.5h0m21.6 1.5h0m1.8-4.5h0m7.1 2.5h0m2.8 2.2h0m10-1.3h0m3.2 .2h0m4.1-.6h0m-159.4 5.8h0m9.1-2.2h0m0 1.2h0m5.3-1.9h0m4.3 0h0m19.7 4h0m.3-1.3h0m.8-2.3h0m6.3 2.1h0m5.6 .7h0m3.2 .8h0m4.2-1.4h0m.4 .9h0m4.4 1.6h0m5.5-5.7h0m3.9 4.5h0m.3 1.1h0m3.7-3.1h0m7.1 1.2h0m10.3-2.1h0m2.4 2h0m3.1-.7h0m6.2 2.1h0m2.5-1.9h0m15.4-1.2h0m1 3.4h0m13.3-1.4h0m1.6 .8h0m8.6-3h0m3.8-1h0m2.8 1.3h0m1.1-.6h0m11 3.7h0m-141.9 4.5h0m23.6 .4h0m5.9 1.9h0m.4-5.7h0m3.1 4.4h0m9.5-3.4h0m.2 2.3h0m.1-1.6h0m1.8-.3h0m.4 4.1h0m2-.6h0m3.7 .3h0m2.4-.8h0m29.4-.2h0m.1-2.4h0m1.3-1.1h0m24.6 3.5h0m5.9-1.9h0m5.2 1.1h0m1.6 1.9h0m.8-1.2h0m.9-3.7h0m1.6 1.7h0m4.1 3.3h0m1-.3h0m5.4-2.5h0m.8-1.4h0m3.3 1h0m4.5 0h0m-164.4 7.9h0m6.5-2.2h0m1.2 1.2h0m12.2 2.5h0m4.9 0h0m2.5-5h0m14.1 2.1h0m2.8 2.6h0m.4-1.8h0m.2-3.1h0m4.9 4.2h0m7.4-.8h0m3.2-2.6h0m13.7 3h0m7.4-.5h0m8-2.6h0m.8 2h0m5.9-2.3h0m4 2.3h0m11.7 1.5h0m2.4 .6h0m4.7-4.2h0m.5 1.2h0m9.3 .9h0m5.5-.9h0m9.5-.6h0m3 1h0m.9-1.7h0m3.6 4.7h0m11.1-5.1h0m-162.5 6.5h0m.8 1.5h0m2-2.2h0m6 2.6h0m12.7-1.4h0m10.2-.8h0m3.3-.5h0m2.1 4.4h0m1.4 .4h0m5.4-3.8h0m2.1-.6h0m8 .6h0m.8 2.5h0m7.7-3.4h0m1.9 2.4h0m3.6-1h0m4.9-.4h0m1.3 .4h0m3.2 2.6h0m.8 .7h0m10.2-4.4h0m3.5 3.8h0m4.1-3.2h0m3.1 3.9h0m12.5-.2h0m2.3-1.4h0m3.6 .5h0m4.7 0h0m.2 1.2h0m2.5-.4h0m3.3-.5h0m.8-1.9h0m1 2.4h0m7.6-2.4h0m4.6-1.3h0m16.1 3.5h0m-158.2 5.8h0m.7 1.2h0m10.5-5.4h0m7.5 2.8h0m5.3-.7h0m3-1.8h0m13.8 3.3h0m9.6-4.1h0m9.8 1.3h0m5.2 4.1h0m.9-4.3h0m5.9 4.2h0m1-4.5h0m1.6 .5h0m4 1.9h0m6.2-2.8h0m8.6 3.1h0m1 0h0m1.7-.6h0m5.1-2.1h0m.2 3.3h0m35.9-2.1h0m1.2-1.5h0m16.8 1.8h0m-158.9 9.5h0m.8-.9h0m10.2-1h0m3.4 0h0m17.2-.9h0m6.7 .1h0m9.3 1.6h0m12.5-2.8h0m34.3 2.5h0m6.3-2.5h0m2.3 4h0m1.9-3.4h0m1.5 1.1h0m.2 .5h0m.2 1h0m6.2-2h0m.5-.8h0m1.5 .5h0m1.3-.3h0m7.3-.4h0m11.9 .6h0m1.6-.2h0m3.8-2.3h0m4.6 3.8h0m.5-3h0m.2 1.7h0m2.5-1h0m5.3 1.5h0m8.4-1.8h0m-158.6 8.1h0m1.8-1.1h0m.9 2h0m.4-1.5h0m13.9-1.9h0m1.3 1.8h0m4.9-1.4h0m6.2-1h0m3.4 1.5h0m11.8-.8h0m.5 .9h0m.9 1.6h0m8.1-.7h0m1.5 .3h0m6.2-.6h0m3.5-.4h0m3.3 .4h0m2.7 .1h0m.5-1.7h0m19.6 1.3h0m4.4 2.1h0m6-1.5h0m.3 2.9h0m4.8-4.5h0m5.3 .6h0m6.4 .3h0m1.7 2.8h0m1.5-2h0m5.2 .2h0m29.7 1.4h0m-153.1 2.7h0m9.3 1.7h0m10.3-1.4h0m1.3 1.2h0m8-1.2h0m4.1 1.2h0m23.6-2.4h0m1.4 2.4h0m4.9-1.5h0m.3 1h0m9.5 .5h0m4.5 .8h0m.7-.3h0m4.8-.8h0m14 .5h0m12.9-1.7h0m1.7 .6h0m16.6-.6h0m1.5 1.4h0m.8-1.4h0m8.9 .4h0m.4-.1h0m1 .3h0m1.9-1.5h0m6.9 1.3h0m2.1-.6h0m4.9-.6h0" stroke="#d3274f" stroke-width="3.8" stroke-linecap="round"/><path d="M221.4 331.5h0m13.2-.1h0m8.2-3.6h0m9.1 5h0m48-.7h0m.2-4.3h0m1.1 3.7h0m17.3-1.3h0m7.9 .2h0m6.8 2.1h0m47.5-.4h0m-135.8 1.1h0m9.4 5.1h0m34.2-3h0m7.5-2h0m28.7 .8h0m38.4 .4h0m-112.7 9.7h0m5.5 0h0m27-.5h0m2.7-4.7h0m5.3 5.7h0m4.5-4h0m44.7 4.1h0m7.9-4.3h0m2.2 .2h0m16.4-.7h0m-134.6 5.5h0m30.1 1.7h0m13.4 .1h0m7.4 3.7h0m17.9-3.8h0m28.1 2.9h0m12.2-.1h0m24.7-.2h0m-120.3 4.4h0m7.9-3.1h0m18.8 4.9h0m3.5-.6h0m21.5-3.2h0m4.9 3.9h0m23.9-2.2h0m22.7 1h0m5.8-.4h0m-133 7.5h0m31.2 .8h0m45.6-3.2h0m7.1 2.4h0m6.9-3.7h0m17.5 1.6h0m4.1-.7h0m40.2 .1h0m3.3-1h0m-133.9 7.5h0m2.6-2.7h0m74 4.2h0m15.7-.6h0m5.4-1h0m4.6-2.6h0m8 3.2h0m6-.7h0m-138.6 6.3h0m6.9-2.4h0m1.4 3.8h0m33.9 1.7h0m11.8-2.2h0m18.8 .1h0m36.4-1.3h0m8.9 .2h0m36.7-.4h0m-137.9 6.1h0m3.8 2.3h0m56.8-3h0m40.6-.3h0m22.8 4.2h0m7.4-4.6h0m-147.6 9h0m91.7-4h0m14.4 5.7h0m2.7-3.6h0m19.1 .2h0m.3-1.6h0m8.3 1.9h0m8 1h0m-147.5 7.1h0m9.7 .4h0m4-5h0m45.7 1.1h0m25.8 .2h0m4.1 1.2h0m1.2-2.2h0m19 1.9h0m29.8 2.7h0m18.5-4.4h0m-158 8.1h0m3.1 1.3h0m34.3 .1h0m83.3-2.2h0m19 .5h0m10.8-.1h0m-139.9 4.3h0m4.1 2.8h0m26.3 .2h0m18.4-.6h0m5.5 .4h0m9-1.4h0m59.9 1.1h0m2.9 .4h0m15.4 1h0m.4 .1h0m-137.3 3.8h0m28.9-2h0m28.9 3.7h0m20.4 .1h0m11.6-2.9h0m27.9 1h0m12.3-1.6h0m17 2.1h0m-134.3 4.4h0m31.2-.6h0" stroke="#d3274f" stroke-width="5.2" stroke-linecap="round"/><path d="M230.4 331h0m8.3-1.3h0m8.9 .1h0m63.8 .5h0m44.4-2.4h0m-60.5 10.5h0m4.6-4.2h0m17.4-.6h0m5.8 5.2h0m42.3-3.8h0m4.3-.7h0m6.3-.1h0m2.8 2h0m-138.5 6.6h0m49-3.4h0m1.9 .3h0m31.5 2.3h0m1.2-2.6h0m2.6 2.4h0m4.8-2h0m30.8 .6h0m1.5 .9h0m-124.7 4.5h0m1.9 .3h0m78.5-.8h0m2.2 3.9h0m6.5 1.2h0m10.3-1.4h0m16.5-.5h0m-135.3 6.4h0m5.4 1.5h0m8.3-1.8h0m7-3.6h0m35.4 5h0m.6-.7h0m5-2.7h0m.2-.6h0m17.9 2.4h0m4.7 2.5h0m24.5-2h0m24.3-1.5h0m14.5-1.7h0m-145.2 9.5h0m13.8 0h0m3.1 .6h0m.7-1.4h0m9-3.2h0m4.3 4.9h0m9.1-3.9h0m15.2-1.1h0m26.2 3h0m1.7-1.3h0m7 3.7h0m5-1.9h0m30-.3h0m10 .7h0m22.5-3.5h0m1.4 .4h0m1.6 3.7h0m-165.7 5.9h0m19.9-3.7h0m23.5-.4h0m2.4 1h0m25.7 4.6h0m8.9-.7h0m.3-2.8h0m14.1 3.2h0m14.8-3.9h0m21.1 1.3h0m.4 .2h0m.7-1.8h0m21.3 3.1h0m-156.2 5.8h0m4.6-1.4h0m6.2 .8h0m6.5-1.3h0m17.2 .8h0m16.1 .4h0m9.9-.2h0m14.9-.9h0m61.5-1.1h0m-130.7 5.9h0m42.8 2.1h0m31.5 1.5h0m16.2-2.6h0m23-.6h0m9.5 .7h0m-106.8 6.9h0m71.8-3h0m4.3-.3h0m18.4 .4h0m24.6 3.2h0m4 1h0m-129.2 3.3h0m3.7 3.8h0m29.1-4h0m5.6 2.7h0m10.8 .3h0m.1 .3h0m8.2-.4h0m9.1-2.3h0m28.8-.5h0m7.6 1.4h0m-115.6 7.5h0m48.4-.6h0m33.6 1.8h0m1.9-5.1h0m21 2h0m11.3 1.7h0m13.6 .1h0m-124.7 3.1h0m8.1 4.2h0m1.5-5.4h0m19.8 3.2h0m6.4-.3h0m22.4 .7h0m9.7-1.4h0m5.1 2.7h0m28.5-4.5h0m1.7 2.5h0m5.2-2.3h0m22.9 2.1h0m8.3 2h0m-143.6 3.5h0m11.8-.9h0m10-1.8h0m2.9 1.1h0m13.1 .3h0m8.5 1.8h0m40.3 .6h0m11.5 .7h0m-92.1 5h0m20.4-.7h0m44.5-2h0m17.7 2.4h0m8.6-2.6h0m14.8-.3h0m12.3 1.2h0m7.8-1.5h0m15.7 0h0" stroke="#e25479" stroke-width="2.2" stroke-linecap="round"/><path d="M334.8 353.5h0" stroke="#fff" stroke-width="2.0" stroke-linecap="round"/><path d="M224.7 332h0m41.5-.2h0m1.1-.3h0m51.6-3.7h0m-50.9 6.2h0m34.4 12.6h0m2.5-.9h0m8.3 40.7h0m22 16.1h0m25.1 5.8h0" stroke="#fff" stroke-width="2.5" stroke-linecap="round"/><path d="M227 333.8h0m109.1 19h0m-97.5 24.1h0m93.2 1.9h0m1.3-.7h0m-20.5 8.8h0m51.9-3.2h0m6.6 1.7h0m-11.6 24.9h0m0-.9h0" stroke="#fff" stroke-width="3.0" stroke-linecap="round"/><path d="M223.5 326.4h0m-1.8 3.3h0m.7 2.7h0m68.1 21.5h0m41.3 13.6h0m-40.9 1.7h0m-53.1 8.4h0m2.1-1.9h0m6.1 9h0m19.5 2.3h0m38.7-2.1h0m9.5 1.1h0m49.3-2h0" stroke="#fff" stroke-width="3.5" stroke-linecap="round"/><path d="M221.8 330.7h0m1.2-1.7h0m1.7 2.3h0m80.2 13.1h0m46.5 3.1h0m28.3 28.8h0m-113.9 8.2h0m40.1 2h0m58.9-3.4h0m-32.5 15.2h0m49.9 5h0m-.6 1.9h0" stroke="#fff" stroke-width="4.0" stroke-linecap="round"/><path d="M222.4 328.5h0m61.8 26.5h0m49.5 12.9h0m24.2-.7h0m-10.8 7.1h0m-45.2 4.1h0m20.3-1.6h0m25.4-1.4h0m30.1 .7h0m-132.9 6.2h0m103.1 1.5h0m.1 1.6h0m.8 .6h0m14.1-.9h0m1.7-3.8h0m-109.2 16.3h0m1.1-.4h0m74.6 2.9h0m-102.4 6.2h0m139.7 6.9h0m.4 .4h0" stroke="#fff" stroke-width="4.5" stroke-linecap="round"/><path d="M364.2 334.5h0m-78.7 20.7h0m1 .3h0m16 22.7h0m18.1 .7h0m.6 .9h0m23.5 5.9h0m-95.3 13.8h0m.5 .5h0m-20.1 6.3h0" stroke="#fff" stroke-width="5.0" stroke-linecap="round"/><path d="M329.9 365.3h0m15.4 8.5h0m-97.1 23.6h0m7.2-1.4h0m30.9-1.6h0m.6-.2h0m43.7 5.5h0m37 15.2h0m3.2 .5h0" stroke="#fff" stroke-width="5.5" stroke-linecap="round"/><path d="M301.3 378.2h0m-46.1 18.8h0m75.5 1.4h0m-59.5 9.6h0m110.4-1.2h0" stroke="#fff" stroke-width="6.0" stroke-linecap="round"/><path d="M267.2 406h0m2.3-.2h0" stroke="#fff" stroke-width="6.5" stroke-linecap="round"/><radialGradient id="bl"><stop offset="0" stop-color="#b2b5dc" stop-opacity="0.8"/><stop offset="0.6" stop-color="#b2b5dc" stop-opacity="0.5"/><stop offset="1" stop-color="#b2b5dc" stop-opacity="0"/></radialGradient><ellipse cx="232" cy="370" rx="26" ry="30" fill="url(#bl)"/><radialGradient id="gp"><stop offset="0" stop-color="#eee8ee" stop-opacity="0.9"/><stop offset="1" stop-color="#eee8ee" stop-opacity="0"/></radialGradient><ellipse cx="301" cy="366" rx="10" ry="13" fill="url(#gp)"/><path d="M216.5,410H234.5" stroke="#333" stroke-width="0.6" opacity="0.7"/></g></g>
<clipPath id="cpoil1"><rect x="385" y="328.5" width="166.8" height="85.2"/></clipPath><g clip-path="url(#cpoil1)"><g filter="url(#soft)"><rect x="385" y="328.5" width="166.8" height="85.2" fill="#bcaad5"/><path d="M386.3 330.2h0m3.9 1.5h0m1.6-1.5h0m3.4 1.1h0m.4 .3h0m1.1 .3h0m5.8-.4h0m.2-1.4h0m3.9-2.1h0m.4 4.2h0m1.7-.5h0m2.3-2.4h0m3.6 .6h0m2.1-1.5h0m.3 1.9h0m.6-2.3h0m.5 1h0m.6 2.8h0m0-2h0m.8 1.6h0m.3-3.1h0m.9 .4h0m1.1 2.4h0m.3-.3h0m2.5-.3h0m1.9-.1h0m3.6-2h0m2.2 3.2h0m.2-.4h0m.2-2.3h0m3 2.1h0m.5-1.6h0m3.3-.3h0m1.1-1.3h0m3.4 .9h0m2.1 1.8h0m.6-.4h0m6.7-2.3h0m1.8 1.4h0m.9 1.6h0m1-.1h0m1-2.9h0m2.7 3.3h0m1.8-3.3h0m4.1 4.3h0m.3-2h0m1.6-1.7h0m.7 1.4h0m0 .6h0m.2 2.5h0m3-3.4h0m1.9 2.4h0m.1-1.5h0m.5 .7h0m.3-.6h0m1.1 .9h0m.8-1.2h0m.1-1.5h0m.5 3.4h0m1.6-1.6h0m2.5 .1h0m1.2 1.5h0m0-1.4h0m3-1.2h0m2.7 .7h0m1.6-.1h0m7.2 1.5h0m2.6 .4h0m2.1-2.8h0m2.1-1.1h0m.5 .2h0m1.5 3.2h0m2-.4h0m1.6-3.5h0m.1 .4h0m.7 3.7h0m1-1.7h0m1.1 1.7h0m2.2 .7h0m1.7-4.2h0m1.2-.4h0m1.1 1.4h0m1.1 1.5h0m3.7-.9h0m1.1-1.7h0m.9 0h0m.6 4.5h0m1.1-3.6h0m.3 3h0m.2-4.1h0m.6 3.9h0m1.2-4.2h0m3.2 3.6h0m.7 1.6h0m2.2-.5h0m2.2-3.1h0m.6 1.9h0m.6 1.8h0m1.7-1.3h0m1.5-3.5h0m.4-.5h0m.3 1.9h0m3.3-.5h0m.6 3.6h0m-162.6 1.9h0m.2 3.3h0m3.4-2.5h0m4.4-1.8h0m.1 1.2h0m4.1-.7h0m.1 .6h0m.7-.4h0m.4 2.5h0m.1 1h0m.3-3.7h0m.6 0h0m1.2 .6h0m.5 .2h0m.6 2.3h0m2.7-.8h0m.5-.7h0m6.1 1.9h0m11.1-3.8h0m.7 4h0m2.2-3.2h0m1.1 1.8h0m2.1-1.4h0m.5 .3h0m3 .7h0m1.2 2.6h0m.9-5.4h0m2.9 4.6h0m4.5 1.2h0m1.7-.9h0m2.4-2.6h0m3-1h0m.8 3.6h0m1.2-1.1h0m.3-.9h0m3 2.5h0m1.4-1.3h0m1.3 1.3h0m3.6-2.4h0m.7-1.5h0m0 .7h0m2.2 .3h0m2.5-1.6h0m2.5 1h0m2.1 3.4h0m4.9-3.4h0m.7 1.6h0m7.9 2.2h0m2.6-4.9h0m.3 1.7h0m1.9 2h0m1.2-.2h0m2.2 1.4h0m7.2-5.5h0m1.9 5.4h0m.7 .2h0m1.2-5.4h0m.7 5.4h0m1.2-2.4h0m2.3 1.2h0m.1 .1h0m1.4 0h0m1.3 .4h0m1 .7h0m.2-1.6h0m1.4-1.5h0m.9 .2h0m.1-1.5h0m2 1.9h0m.2-3.2h0m1.5 2.2h0m2.1 2.4h0m.5-2.8h0m.7 .1h0m1.7-1.8h0m1.3 .1h0m0 4.5h0m.9 .7h0m2.5-2.7h0m1.3-2.1h0m2.3 4.5h0m2-1.7h0m2.8-.5h0m.4-1.1h0m.2 .3h0m.4 .6h0m2.2-.3h0m.1 1.9h0m1-3.2h0m.9 4.4h0m.7-3.6h0m.6-.2h0m5.8 2h0m1.3-.1h0m2.8 2.2h0m1.8-.2h0m-166.8 .4h0m.9 3.9h0m8.2-.2h0m1-1.9h0m.9 1.4h0m.3-2.4h0m1.6 3.1h0m2.7-1.7h0m.4-.3h0m.5 2.1h0m2.3-2.7h0m.3 .8h0m1-2.2h0m.5 5.7h0m.6-1.7h0m.2-.9h0m1.3 .6h0m6.2-.8h0m2.2 1.1h0m.9-1h0m1.7-2.2h0m2.6 3.6h0m2.3-4.5h0m.2 5.8h0m1.9-.3h0m.1-3.3h0m1 1.2h0m1.8 .7h0m1.4 1.7h0m1.5-.1h0m2.6-4h0m.3 3.9h0m.1-2h0m1.9 1.6h0m3.8-4.2h0m1.5 2.7h0m.3-.9h0m3.4 1.6h0m.1-2.2h0m.4 3.3h0m1.2 0h0m.1-3h0m.1 .7h0m2.9 .6h0m.4-3.7h0m.8 .2h0m2.2 1.5h0m1.7 1.8h0m.7 1.6h0m.3-3.4h0m1.6 .2h0m2.2 2.4h0m.6 .3h0m.8-3.5h0m1.1 2.7h0m.8 .3h0m2.3-1.1h0m1.7 1.5h0m.3-1.7h0m.1 0h0m3.1-2.7h0m3.6 4.7h0m1-3.6h0m1.2 3.1h0m3.4-.2h0m2-4h0m.1 1.4h0m.9 2.2h0m2.6-2h0m4.7 3.4h0m.3 .1h0m.3-2.3h0m2.4-.8h0m1.5-.4h0m1.9 3h0m6.5-.2h0m.2-4.4h0m6.2 2.9h0m2.4 .4h0m2.3-2.3h0m3.5 3.5h0m.2-2.2h0m.1-.2h0m4.3 2.1h0m4.1 .6h0m1.8-4.6h0m4.3 2.4h0m1.5 3h0m2.4-5.5h0m1.8 2.7h0m.1-.1h0m1.3-.8h0m1 1.1h0m1.9 1.6h0m.3-3.3h0m.7-1.3h0m0 1h0m1.7 2.6h0m1.4 1.3h0m.2 .1h0m.2-.2h0m2.7-2.7h0m1.4 .7h0m.5 .4h0m-168.8 3.1h0m.3 .8h0m2.2-.9h0m1.5 .9h0m1 4.3h0m2.1 .1h0m3.1-3.7h0m1.5 .9h0m.9-1.2h0m.6 1.4h0m4.5-2.5h0m4.4 4.9h0m4.2-2.5h0m1.6-2.7h0m1.2 5.6h0m.1-4.7h0m1.7 1.5h0m1.2 .1h0m1.6-2h0m1.4 3.4h0m1.8-4.1h0m1.9 4.3h0m.5 1.2h0m.7-.8h0m2.4-4.3h0m.5 1.2h0m3.7 3.6h0m1.7-3.6h0m.5 2.8h0m3.4-1.2h0m.4-1.2h0m.3 2.2h0m1.3-2.9h0m.2-1.2h0m8.3 0h0m4.7 2.6h0m4.1 1.1h0m.3-1.3h0m1.6 1.1h0m.4 1.6h0m1.3-2.3h0m.4-2.4h0m.8 3.1h0m1.4 2h0m.8-3h0m1.8 1.2h0m.9-.8h0m.3 1.1h0m.4 .9h0m7.5-2.7h0m.5-.4h0m.2 2.4h0m2.7-.2h0m.2-.5h0m3.3 1h0m.2 .6h0m4.7-4.2h0m1 2.7h0m7.4 .2h0m10.7 1.2h0m.8-1.7h0m6.2 1.9h0m4-.7h0m.1-4.4h0m.9 5.2h0m4.5-1.5h0m.3 1.2h0m2.6 .1h0m0-3.5h0m0 1.9h0m6.7 .8h0m3 .9h0m3.5-.1h0m.4-1.3h0m1.5 1.7h0m1-1h0m5.6-.7h0m.4-3.8h0m1.7 1.8h0m1-.7h0m-164.1 4.9h0m4.6 2.6h0m5.9 1.7h0m.3 .9h0m.1-4.8h0m2.4 1.7h0m5.2-.6h0m2.5 1.5h0m.5 .9h0m2.7-2.4h0m2.4 2.8h0m6.1 .1h0m2.6-1.6h0m.1 1.8h0m.5 1.2h0m2-5.7h0m3.1 5.4h0m2.2-3.2h0m2.5 .2h0m2.4 2.8h0m5.1-4.8h0m2.3 5.1h0m1.1-2.3h0m.3 1.1h0m1.8 1.3h0m5.4-5h0m1.1-.2h0m2-.4h0m.7 2.8h0m.8-1.4h0m.4 3.6h0m10.3-1.9h0m1-2.3h0m1.9-.1h0m3.2 1.9h0m3.3 2.8h0m.9 .1h0m4.7-1.9h0m1.9 .9h0m.1-1h0m1.1-.8h0m.5-1.7h0m.2 2.3h0m.6 .9h0m1-.8h0m1.8 .2h0m.1-2.4h0m1.3 0h0m.6 3.6h0m.3-3.8h0m2.8 2.7h0m2.9-2.1h0m1.3 2h0m3.7 1.7h0m1.3-3.4h0m1.3 1h0m1.4-1.6h0m1.5 .3h0m.1 2.1h0m1.4-.7h0m.9 1.3h0m1-3.9h0m0 3.4h0m.1-.3h0m1.2-.6h0m1.6 0h0m1.5-.4h0m.1-2.3h0m.3 4.3h0m1.4-2.8h0m.5 3h0m1-1.1h0m.2-3.6h0m3.7 2.5h0m.1-2.5h0m6.9 3.4h0m4.3 .4h0m1.5-2.1h0m1.2-1.8h0m.4 5.1h0m2.3-4.5h0m.3 1.5h0m1.3 .1h0m4 2.8h0m.1-4.4h0m1.4-.1h0m.7 3h0m.8 1.5h0m2.4-.1h0m.1 .5h0m0-1.2h0m2.9-2.7h0m.1-1.2h0m.9 1.6h0m.1 2.2h0m.5 1.6h0m-166.5 1.2h0m2.5 4.7h0m.2-2h0m.3-2.9h0m.3 1.8h0m5.4 1.3h0m3.8 .2h0m1.7-1.3h0m1.6-.2h0m2.5-2.1h0m2.1-.4h0m1 3.6h0m2-.7h0m.8 2.2h0m.6-2.9h0m1.9-.7h0m.1-1h0m.8 5.1h0m.6-4.4h0m.2-1.4h0m2.9 2h0m1.3-1.8h0m.3 .5h0m3.8 2.7h0m2.2-3.2h0m2.3 5.1h0m1.3-3.7h0m.1 2.4h0m.8-1.1h0m.4-2.7h0m2.4 .8h0m1.3 3.7h0m3.4-2.8h0m.3 3.4h0m.5-2.4h0m1-2.7h0m0 4.7h0m.4 1h0m1.7-2.6h0m.5 2h0m.9-4.7h0m.2 2.8h0m1.7-.3h0m1.4-2.1h0m.1 .7h0m0 2.5h0m.6-2.9h0m1 4.4h0m6.6-2.4h0m.2-.5h0m7.3-.8h0m4.9-1.9h0m.5 .7h0m3.7 3.5h0m.1-4h0m3.4 2.2h0m6.2 3h0m.2-2.8h0m.2-2.1h0m2.1 2.9h0m4.6-3.2h0m1 3.7h0m8.1-1.3h0m3.5 2.1h0m1.4-2.5h0m1.3 1h0m1.8 2.1h0m.2-2.9h0m3.1-.6h0m4.8 3.3h0m1.2-1.5h0m.8-2.3h0m.7 2.3h0m1.7-.8h0m.3-2.8h0m2.6 3.6h0m.5-2.6h0m2.5 2.9h0m2.6 .9h0m1 .5h0m7.9-5.3h0m1.3 .7h0m2.2 4h0m1.6-3.2h0m.3 3.3h0m.5-1.9h0m.6 1.7h0m1.7-.1h0m.7 1.2h0m.3-1.4h0m.1-3.6h0m.8 1.8h0m.6-2.6h0m.1 1.6h0m7.8 0h0m-166.3 10.3h0m.7-5.2h0m.6 1.4h0m.5 2.5h0m.4-4.3h0m0 2.9h0m4.9-1.3h0m3.9 1.5h0m1.4-1h0m3.4 0h0m1.6 1.8h0m3.2-.5h0m1.1-2.5h0m1.5 4.6h0m1.6-5.5h0m.3 1.4h0m.1 3.6h0m.1 .5h0m1.1-3.7h0m1.6 3.7h0m.7-3.4h0m.5 .9h0m1.8 .7h0m3.1-2h0m2 .2h0m2.1-.1h0m2.9 2.8h0m2.4 .8h0m1.5-2.2h0m.4 2.2h0m.5-1.3h0m.1-2.6h0m1.7-.2h0m1.1 .5h0m.1 .8h0m.4-.1h0m1.5 1.4h0m5.2 .1h0m.6-4h0m2.6 1.5h0m.8-.4h0m2.5-.6h0m.2 2.5h0m.1 2.4h0m1.4-2h0m.9-.1h0m0 1.8h0m2.3-1.7h0m3.6-1h0m2.2 1.5h0m1.5 1.7h0m4.6-1.8h0m.8-.4h0m3-1.4h0m1.2 3.1h0m1.3-4.4h0m4 1.5h0m5.8 1.7h0m.5-.9h0m4.5 1h0m.7-.2h0m3.1-1h0m3.6 0h0m4.5 2.6h0m1.5-1.1h0m.1-1.8h0m.4 .7h0m1.5 1.3h0m1.8-4.2h0m3.3-.4h0m1.8 5h0m5.5-1.5h0m4.3 .6h0m.1 1h0m1.4-3.7h0m1.8-1.6h0m1.1 3.6h0m1.6-1.2h0m1.3 1.3h0m2.3 2.1h0m4.2 0h0m.8-2.6h0m.4 2.6h0m1.7-3.6h0m1.5 2h0m1.8-1.7h0m4.1 .7h0m2.7-2.2h0m3.7 4.9h0m1.1 .1h0m-162.1 1.2h0m1.5 .7h0m.2-.6h0m2 3.7h0m1-1h0m2.1-1.4h0m2.4-2.1h0m2.9 2.4h0m.1-2.6h0m1.6 4.8h0m1.3-2.8h0m2.4 .1h0m1.4-1.2h0m2.8 3.8h0m3.3-4.7h0m2.9 4.1h0m4.4-.8h0m.3-2.1h0m1.8 .1h0m.3 1.7h0m5.4-3.3h0m4 5.9h0m4.1-4.1h0m1.5-.5h0m4.8 3.4h0m1.4-.8h0m1.6 1.1h0m.3-1.4h0m1 .4h0m2.2-.7h0m.1-2.1h0m1.2 1.4h0m.2 2.6h0m1.9 .5h0m.9-2.9h0m1.2 .9h0m4.1 2.1h0m4.6 .1h0m.3-.4h0m.1-4.4h0m.3 3.7h0m1.1-.5h0m1.6 .4h0m3.2-2h0m1.9 1.6h0m1.5-2.5h0m.3 .4h0m.1-1.3h0m.9 .9h0m.4-1.7h0m4.3 2.2h0m.3-2.1h0m2.6 3.4h0m1.6-3.1h0m4 .9h0m1.5 2.2h0m1.5 2.2h0m.1-1.4h0m11-2h0m1.2 3.5h0m.8-2.5h0m.5-.2h0m.2-2.4h0m.1 3.7h0m1.2-.8h0m3.3-2.5h0m.7 2.5h0m2.4 1.4h0m.6-1.5h0m.7-1.7h0m.3 3.4h0m.5-3.6h0m.8 1.6h0m2.5 2.4h0m2.9 .2h0m.5-1.8h0m1.1-.8h0m2.9-1.4h0m.1 3.8h0m.9-1.4h0m2.6-4.3h0m3.8 2.8h0m3.7-1.5h0m2.3-1.2h0m1.5 .9h0m2.2 2.1h0m.2-.9h0m.9-1h0m.4 2h0m3.1 1.4h0m2.5-3.5h0m.9-.8h0m.1 .9h0m1.7 1.1h0m.1 3.4h0m0-2.1h0m-165.9 6h0m2.6-2.8h0m.2-.2h0m.7 5.2h0m2.8-2.7h0m.4 2.8h0m1.2-.3h0m.1-1.7h0m1.1-2.3h0m1.2 3.3h0m1.9-.2h0m1.3-2.8h0m1.7 3.4h0m1.7-1.6h0m1.9-1.2h0m.4 2.4h0m.1 .3h0m1.7-3h0m.6-.4h0m3.1 3.9h0m.1-5.4h0m2.1 3.5h0m1.5 1.3h0m.1-2.3h0m1.6-2.4h0m1.4 2.5h0m3.6 2.6h0m6.1-3.7h0m.7-1.8h0m.6 1.4h0m.6 3.9h0m2.1-.2h0m1.6-3.3h0m1 1.1h0m.2-1.4h0m.1 2.5h0m.8-2.7h0m2.8 4.2h0m1.3-3h0m1.5 .1h0m2.8 1h0m4.3-3.4h0m.4 4.6h0m1.7-.1h0m7.4-1.7h0m1.1 2.2h0m0-2.4h0m.3-.9h0m.1-1h0m.6-.4h0m1-.3h0m2.5 .2h0m.6 2.9h0m.8 .7h0m.5 .4h0m.7-1.6h0m0-1.1h0m.3 3.2h0m1-1.5h0m0 .7h0m1.6 1.3h0m1.3-5.2h0m1.1 4.4h0m1.1-4.5h0m3.4 .7h0m1.6 1.9h0m1.1 2.8h0m1.2 .4h0m2.7-.7h0m.1 .4h0m1.8-2.4h0m2.7 .5h0m.3 2.1h0m5.9-.1h0m2.8-5.5h0m1.9 .8h0m.8 4.3h0m1.7-2.1h0m2.5 2.4h0m2.4-3.9h0m1.2 1h0m.6 1.1h0m.1-2.8h0m.5 4.9h0m.9-1.7h0m5-3.1h0m1.1 4.8h0m.3-.6h0m.1-1h0m.3-.6h0m1.2-.2h0m1.2-2.2h0m0-.3h0m.1 .8h0m2.4 .8h0m1.2-1.4h0m2 3.9h0m5.3-2.1h0m2.1 .1h0m9-.4h0m.7 3h0m5.6-4.9h0m1.5-.2h0m.3 .4h0m1.6 .7h0m1.8 3.9h0m-166.3 4.5h0m.6 0h0m5.1-1.2h0m.6-1.9h0m.9 1.4h0m.2-1.3h0m4.4-.5h0m2.5 5.2h0m.3-.4h0m1.6-3.3h0m1.4-.1h0m.1 3.7h0m.1-.2h0m.3-5.3h0m1-.1h0m.6 .3h0m2.6 .8h0m.5 3.3h0m2.6-.9h0m.1-1.9h0m3.5 4h0m.7-3.6h0m.2 2.3h0m.4-2.5h0m1.3-.2h0m.3-.9h0m5.1-.5h0m.2 3.1h0m3.9 2.6h0m.6-3.1h0m.5 1.2h0m.4 .2h0m.2-3.1h0m.5-.4h0m1 5.2h0m2.3-1.7h0m1.3-3.7h0m0 4.2h0m1.9-1.4h0m0 .4h0m.7-3.3h0m.6 3.5h0m.5-2h0m3.9-1.2h0m4.9 3h0m.7-1.5h0m1 2.8h0m1.4 .8h0m.4-1.6h0m2.2-1.6h0m.1 .1h0m1.1 1h0m.3-.6h0m2.7 .8h0m2.8-.1h0m.4-3.1h0m.8-.3h0m.5 2.5h0m.3-1.3h0m2.4 2.8h0m2.7-1.3h0m3.6 2.2h0m.3 .4h0m0-3.5h0m3.2-.3h0m.7 .3h0m.3 2.6h0m1.3-2.1h0m3.4 .6h0m2.8-.9h0m.1 .6h0m6.4-.2h0m.9-2.7h0m1.8 2.3h0m.2-.7h0m2.4 .1h0m1.7 1.5h0m10.7-1.7h0m.8-.2h0m1.5 .5h0m1.1-.9h0m5.1 3.6h0m.8-2.1h0m1.2 .2h0m.8-1.4h0m2 .3h0m0-1.4h0m1.8 5.2h0m3.5-3h0m5.8 1.2h0m2.2 1.5h0m1.4-2.8h0m2.9 1.4h0m.2-.6h0m2.6-.9h0m.2-1.1h0m2.2 .1h0m.7-.2h0m.7 3.9h0m.1-4.4h0m3-.5h0m0 3.3h0m1.4-1h0m2.3 1.5h0m.6-1.4h0m0-.7h0m3-.5h0m-167 8.3h0m.1 1.1h0m.7-2.4h0m1.6 2.7h0m.1-3.8h0m.5-.9h0m.1 5h0m6.5-2.9h0m.3-1.8h0m4.4 2.9h0m.6-2.6h0m1.8 3.5h0m4.2-3.3h0m.5-.4h0m1 .8h0m.2-.3h0m1.8 3.3h0m.4-3.5h0m1 5h0m4.1-1.8h0m.2-1.8h0m4.8 1.2h0m0 2h0m0-5h0m.4-.1h0m5.4 .7h0m.5-.5h0m0 3.3h0m5.9-3.7h0m2.9 3.3h0m1.5-2.1h0m.2 3.3h0m.4-4.1h0m1 .6h0m.3 3.4h0m2.5-1.2h0m1.9-1.4h0m1.9 3h0m2.6-3.4h0m1.2-1.6h0m4.2 .9h0m.6 2h0m.7 .3h0m1-1.9h0m1.9-.5h0m2.2 2.3h0m2.8-.9h0m.6 1.8h0m1.6-2.6h0m.4 3.5h0m.8-.8h0m2.3 .6h0m1.6-2.4h0m6 2.6h0m1.2-4.8h0m4.1 2.3h0m0-.3h0m1.7-1.5h0m2.1 .8h0m5 .7h0m.6 3.5h0m.7-.3h0m1.3-2.6h0m2 1.3h0m.5-2.9h0m2.9 2.7h0m4-3.5h0m.9 3.5h0m5.9-2.9h0m.5 3.2h0m2-.2h0m1.4-.3h0m1.1-3.2h0m1.7-.1h0m.5 .9h0m2.4 4.3h0m2.1-5.2h0m.1 1.5h0m.4-.1h0m1.3 .2h0m1 1.5h0m2.8-2.5h0m2.5 2.1h0m.4-1.5h0m5 3.1h0m.7-.6h0m2.6-.8h0m.2-3.2h0m2.3 1.9h0m1.2 1.9h0m1.1 1.5h0m.3-5h0m3.2 5.2h0m3.9-3.5h0m1.8 .9h0m.6-2.1h0m.7 5h0m-167.8 2.6h0m1.9-1.9h0m.7 1.8h0m.3-.3h0m3.7 .9h0m.3 0h0m3 2.9h0m1.3-2.8h0m.1-2.3h0m4.7 .7h0m1 2.6h0m.8 .9h0m0-1.3h0m.3 2.1h0m3-3.8h0m3.1-1.4h0m.8 1.4h0m1.4 .5h0m.2-.7h0m1.6-.5h0m.4 4.1h0m0-1.3h0m2-.6h0m6.5 2.2h0m1-1h0m1.8 .6h0m.7-2.1h0m2.5 1.3h0m1.1 .1h0m.3-4h0m2.9 4.7h0m2-3.1h0m1.7 .4h0m2.7 2.9h0m0-.7h0m3-4.4h0m.7 3.7h0m1.9-1.5h0m2.5-2.5h0m5.2 3.4h0m.9-1.1h0m.1 .6h0m.9-1.7h0m1.5 3.9h0m1-3.2h0m1.5 3.1h0m0-4.9h0m1.1 1.5h0m.4 1.9h0m.5-1.7h0m1.9 3.1h0m2.4-2.6h0m1 .2h0m.4-.9h0m.6 3.8h0m1.1-4.9h0m2.1 5.3h0m.3-.8h0m4.3-2.7h0m.1 3.1h0m1.4-4.9h0m2.1 .9h0m5.5 .9h0m.1 3.4h0m1.4-3.7h0m2.6 2.9h0m.9-4h0m1.7 4.6h0m3.4-3.8h0m2.4 3.1h0m1-.6h0m.7-1.1h0m.7-.5h0m2.4-2.3h0m1.9 1.8h0m3.8-.8h0m1.1 3.9h0m2-5.1h0m2 1.1h0m1.5 2.4h0m1.5-.2h0m1.1 .2h0m2.6-3.2h0m4 .7h0m.9-.1h0m6.4 .1h0m2.6 3.7h0m.3-3.9h0m0-.5h0m.2-.5h0m.1 3h0m5.8-2h0m.9 .6h0m.8-.1h0m1.3 1.5h0m.6 1.4h0m1.6-1.4h0m2.6 1.7h0m.4-2.6h0m.1 1h0m.6 .7h0m1.3-1.4h0m1.9 2h0m.9-.3h0m.6-1.7h0m.3-1h0m-162.7 5.9h0m.5-.8h0m.8 3.4h0m.1-2.7h0m.2 1.7h0m5.7 2.4h0m1-2.6h0m2 3.2h0m.2-4.4h0m.2 2.6h0m.5-2.5h0m1.2 .5h0m1.3-.1h0m7-1.5h0m.2 3h0m.5 2h0m.9-2.8h0m1 1.1h0m2.3-2.9h0m.4 3.8h0m.6-2.7h0m1.7 .7h0m1-1.1h0m2.1 1.2h0m2 1h0m3.2-1.9h0m.6 2.3h0m.1 1.1h0m10.1-3.9h0m3 0h0m1.7-1h0m5.5 1.6h0m5.8 1.6h0m1.9-2.3h0m4.9 .8h0m.2 .8h0m1.7-2.7h0m.5 1.7h0m.2 2.3h0m.5-3.2h0m.9 .1h0m1.5 .5h0m.7 .9h0m2.2-1h0m1.5 1.7h0m.8-2.8h0m.6 2.1h0m4.1-2h0m6.1 5h0m.4-4.3h0m1.5-.3h0m2.7 .1h0m.6 2.3h0m1.3-2.7h0m1.6 1.9h0m1.2-.9h0m.7 1.6h0m3.5 .3h0m.3-.4h0m.5-.5h0m6.1 .3h0m0 .8h0m.7-3.3h0m5.1 1.8h0m.1 3h0m4.8-3.9h0m3.2 4.1h0m2-1.5h0m1.1-3.6h0m3.1 5h0m1.5-2.7h0m.9-2.4h0m.2 .4h0m.8 1.5h0m.9 .1h0m1.8 3.7h0m.5-1.6h0m7.5 1.7h0m1.6-3.7h0m2.7-.9h0m.9 .5h0m.1 1.4h0m1-1.7h0m1.6 2.5h0m1.2-3.8h0m.8 4.6h0m1.4-2.2h0m1.2 2.4h0m2.5 .5h0m.9-1.1h0m.1-4.3h0m-165.1 10.4h0m2.6 1.2h0m.7-.4h0m.8-4.4h0m.1 1.9h0m2.7 1h0m2.9-2.9h0m3.1 .9h0m1.1-.8h0m.1 3.7h0m2.2-3.8h0m3.4 4.1h0m.8 .1h0m.2-1.6h0m6.3 .4h0m.4 .9h0m2.3-4.7h0m.2 2h0m.1 2.2h0m3.3 .7h0m3.2 .8h0m1.8-5.3h0m.1 3.5h0m.8-1.3h0m4.8 .2h0m0 1.1h0m.4-.4h0m.7 1.7h0m.5-1.5h0m4.6-2.2h0m1.4-.7h0m5.5 3.4h0m4.5-2.4h0m1.6-.9h0m.4-.8h0m.4 4.5h0m.1-3.2h0m6.6 3.7h0m.7-.3h0m2.3-1.8h0m5.1 1.8h0m2.8-1.9h0m2.8-3h0m3.2 3.6h0m1.2-3.1h0m.1 3.1h0m1.5-.9h0m1.5-.8h0m2.1-.8h0m5.6 2.4h0m.6 .4h0m.3-1.5h0m.3 .5h0m.4 .5h0m1.1-2.4h0m.5 4.7h0m.3-4.1h0m1.4 3.3h0m1.2-.6h0m.7-.5h0m.2 0h0m1.6-2.2h0m3.7-1.3h0m4.2 2.9h0m.9 2.6h0m1.9-1.6h0m9.1 0h0m.3-1.8h0m.2 .3h0m3.3-2.1h0m.5 4.7h0m0-2.6h0m1.2-2h0m2.5 1.5h0m9.8-2.2h0m.2 2.9h0m1.5 .3h0m.9 2.1h0m.6-5.1h0m1.3 .2h0m.3 1h0m.4 2.8h0m5.8-4.2h0m.9 2.8h0m6.9 1.5h0m-166.4 5.2h0m3.1-2.6h0m2.6 .4h0m3-.2h0m.6-.4h0m8.3 2.6h0m0-.9h0m2.7-2.3h0m6.1 1.9h0m1.7-1.7h0m12.4 3.1h0m3.6-1h0m3.9 1.1h0m1-.8h0m7.3-2h0m4.2 1.8h0m.6-2.5h0m7.5 3h0m10.2-2.9h0m3.1 1.2h0m2.4 1.7h0m5.3-1.2h0m6.2 1.6h0m2.6-1.2h0m.9-.6h0m4.2-1.1h0m4.5 1.3h0m2.1 1.4h0m0-1.7h0m.8-.9h0m7.2 2.4h0m2.5-1.4h0m3.5 .5h0m2.3 .1h0m8.9 .6h0m1.8-.3h0m.4-2.5h0m2.7 2.3h0m.2 .1h0m2-1.5h0m4.1 2.2h0m2.5-.6h0m3-1.3h0m5.5-.3h0m.8-.8h0m2 2.3h0m8.2-2.2h0" stroke="#9ea6d6" stroke-width="1.0" stroke-linecap="round"/><path d="M387.4 329.1h0m5.6 2.6h0m2.4-.2h0m.3 .8h0m3.1-2.2h0m.8 2.7h0m.2-2.9h0m.3 .8h0m3.2-1.4h0m1.9 0h0m4.2 3h0m2-4.2h0m.6 2.9h0m1.5-.2h0m.5-2.9h0m2.6 1.9h0m0 2.7h0m1.6-3.2h0m.8 3.4h0m2.2-1.4h0m3.6-3.6h0m11.3 1.5h0m.1 .4h0m2.9 1.4h0m.3-2.3h0m3.5 3.4h0m4.4-3.8h0m6.7 2.2h0m4.7-2.6h0m2.6 2.9h0m1.6 1.6h0m1-1.4h0m7.4-2.2h0m.1 0h0m7.5 .5h0m2.1-.6h0m1.3 2.7h0m1.3-2.5h0m.1 .8h0m2.6-.6h0m2.2-.8h0m1.3-.7h0m1.6 3.1h0m2 1.2h0m5.4-.8h0m.9 .2h0m8.1-2.9h0m7.4-.4h0m.1 3.7h0m2.6-3.3h0m3.3 2.5h0m1.7 1.3h0m7.4-1.4h0m7.1-1.9h0m5.1 .2h0m.4-1.2h0m5.8 4.6h0m2.6-3.8h0m-164.2 7.3h0m.9 2.4h0m2.2-1.8h0m2.8 .1h0m3.1-2.8h0m6.9 1.4h0m3.6 3.3h0m7.2-2.9h0m.8-2h0m4 4.5h0m4.8-2.9h0m3.9 3.3h0m1.3-3.6h0m1.6 3.1h0m1.7-4.7h0m2.9 2h0m1.8-2.2h0m1.6 2.6h0m3.8 3h0m2.9-4.4h0m.1 .6h0m1.2 2.1h0m1.3-2.8h0m.2 4.3h0m2-.6h0m7.2-3.1h0m2.1 1.3h0m6.2-.8h0m5.5 .9h0m1-1.5h0m4.4 2.2h0m1.4-1.7h0m.3 1h0m3.4-1.7h0m5.5 3.7h0m5.8-1.8h0m3.1 2.4h0m1.3-1h0m2.8 .7h0m1.3-2.8h0m1-.9h0m.3-1.9h0m4.2 4.6h0m5.3-4.5h0m1 5.2h0m.3-4h0m1.3 4.2h0m4.3-4h0m.6-.8h0m9.7 3.5h0m.4 .2h0m3-3.3h0m1.4-.9h0m7 2.2h0m4.9-.5h0m-155.6 8.8h0m1.4-4.2h0m.1 2h0m.2-1h0m.2-.2h0m1.2-.9h0m.5-.1h0m4.6 1.4h0m3.3 1h0m1.4 2.4h0m.2 .9h0m1-3.5h0m.6-1.6h0m8.7 3.9h0m3.9-4.4h0m1.2 1.2h0m5.7-.7h0m3.1 3.3h0m.1-3.6h0m.7 .3h0m6.6 1.8h0m3 .4h0m.6-1.6h0m2.5-1.4h0m3.4 4.8h0m.6 .9h0m.7-5.1h0m8.7 .3h0m0 .4h0m11.4 2.5h0m1.3-1.6h0m5.3-1.7h0m2.2 .5h0m.2 2.4h0m3.4 1.1h0m0 .7h0m1.4-.3h0m3.5 .3h0m.9-3.5h0m1.6-1.1h0m2.2 4.7h0m.8-5h0m.5 2.8h0m2.3-2.4h0m4.7 1.6h0m.3-1.9h0m1.1 4.3h0m10.7-4.8h0m1.9 4.4h0m1.1-.9h0m.8-3.1h0m.8 5.5h0m12.7-4.8h0m2.3 3.1h0m1.6 .3h0m8.6 .3h0m2.1-2.9h0m0 .9h0m1.4-1.9h0m2.1 1.1h0m2 .4h0m2.6 .1h0m3.2 .8h0m-166.3 3.6h0m4.6-.5h0m.9 1.6h0m1.4 2h0m10.6-1.8h0m.8-1.1h0m.8-1h0m1.1 2.4h0m2.3-1.8h0m3.1 3.6h0m9-2h0m.8-2.3h0m2.1 3.2h0m.4-2.2h0m2.1 4.9h0m5.2-3.3h0m1.8 3h0m.5-1.8h0m13.2 0h0m2.5-3.2h0m.4-.1h0m1.2-.1h0m.6 .5h0m3.2 4.6h0m.8-5.1h0m.9 2.1h0m5.2 3.1h0m1.8-1.2h0m3-3.9h0m4.8-.4h0m9.6 2.9h0m1.7 .1h0m2.2 1.9h0m.2-4.5h0m4 3.4h0m.3 .7h0m.9-.6h0m.5-.6h0m4.9 2h0m.5-.4h0m1.5-.7h0m.3-2.9h0m2.2 4.1h0m3.9-.3h0m5.4-2h0m.2-.4h0m2.7-1.7h0m3.6 1.7h0m3.1-2.6h0m2.1 .8h0m1.5 .2h0m1.3-.2h0m.6 1.9h0m2.7 2.1h0m4-2.2h0m6.7-.3h0m1.4 2.6h0m0-.4h0m.6-2.8h0m3.6 4h0m1.9-4.1h0m2.5 1.4h0m4.5-.9h0m-160.4 6.3h0m1.2 2h0m1-4.4h0m1.8 2.3h0m.6 0h0m1.2-2.5h0m1 .7h0m4.9 3h0m2.8-1.2h0m3.4 2.7h0m2-.5h0m2.1-4.4h0m2.8-.1h0m6.6 .1h0m2.3 1.4h0m.8 3.4h0m1.2-4.2h0m2.7 .5h0m.4 1h0m2-.5h0m4.9 .7h0m2.1 .3h0m.2 .9h0m3.8 0h0m.8-1.9h0m9.7 2.5h0m1.3-2.5h0m10.8 .5h0m9.8-1.9h0m1.1 .6h0m5.2-.2h0m4.8 1.5h0m6.4 1.9h0m.6-3.8h0m1 .4h0m1.1-.3h0m.1 3.6h0m2.6-3.8h0m.8 2.4h0m.3 .9h0m14.3-3.2h0m.5 2.1h0m.6 .7h0m2.5-1.5h0m6-.1h0m2.1 1h0m4.3 .7h0m2.5-.6h0m1.6 2.2h0m.3-2.3h0m1.8 2.5h0m2-.7h0m1.4 1.4h0m12-2.7h0m-166 6.2h0m1.3 2.5h0m.5-2.9h0m2 2.7h0m2.6-.6h0m7 .6h0m.5-2.1h0m3.1-1.1h0m1.2-1.5h0m1.1-.2h0m1.3 .8h0m4.2 2.3h0m1.4 1.9h0m4.3-2.2h0m8.2-.2h0m12.5-2.8h0m4.5 3h0m2.4 1.2h0m1.2-2.7h0m1.4 1.1h0m2.4-2.5h0m1.4 5.2h0m.9-4.9h0m5.6 3h0m4.5 1.7h0m2.3-.1h0m2.4-2.1h0m.1-2.1h0m2.2 2h0m.9-.5h0m.9-2.3h0m1.3 4.4h0m.4 .8h0m4.6-3h0m.2-2.4h0m1.8 4.3h0m1.2-.9h0m9.1-1.4h0m.4 2.3h0m2.4-3.2h0m3.4 .3h0m3.9 3.1h0m4 .1h0m1.9-.1h0m2.6-3.1h0m7.9 3.2h0m.2 1h0m.3-1.6h0m.9-.6h0m1 1.8h0m0-4.8h0m.4 4h0m11.2-1h0m1.4 1h0m1.9-3.6h0m3.1 0h0m1.6-1h0m1.5 .9h0m2.5 2.4h0m6.9-2.9h0m.2 5.2h0m.9-.5h0m1.2-3.6h0m1.5-1.2h0m-161.4 6.7h0m3.6 2.3h0m.7-3.5h0m.4 2.4h0m4.4-1.2h0m1.2 3.8h0m1.1-1h0m.5-3.2h0m3.9 3.1h0m1-2.9h0m1.5-.2h0m2.3 1h0m1.1-.9h0m.8 4.8h0m3.2-4.8h0m.9-.8h0m1.2 3h0m1.2-.9h0m0-.3h0m2 3.1h0m1.2-1.6h0m.1 2.3h0m1.6-3.6h0m3.1-.8h0m10-.9h0m.3 5.5h0m.9-5.8h0m.6 2.1h0m1.3 .3h0m.9-1.3h0m.8 .3h0m2.4 3.6h0m2.5-4.7h0m1.9 .5h0m1.1 0h0m.4 3.8h0m1.4-.6h0m2.1-3.4h0m.1 3.7h0m2.3-1.3h0m.4 1.3h0m1.9 0h0m.2-.3h0m.4-2.1h0m1.4 1h0m3.1 1.2h0m2.1-2h0m.8 1.1h0m3.1-1.7h0m4.4 3.9h0m1.1-.7h0m4.7-4.5h0m.4 .5h0m5.1 3.6h0m2.3 1h0m1.6-4.9h0m4.3 5.3h0m.2-5.4h0m9.9 1.5h0m2.3-1.5h0m1.9 4.2h0m.8-3.6h0m5 4.5h0m4.6-3.6h0m.2 .1h0m7.4 2.9h0m10.8-1.4h0m3 1.8h0m.7-4.5h0m6.1-.5h0m0 4.1h0m.8 .3h0m.9-1.1h0m.3-1.5h0m3.9-2.1h0m-164.1 12h0m5.6-3.2h0m2.6-.4h0m1 2.5h0m2.3-4.1h0m.1 1.5h0m3.8 3.3h0m6.3-1.2h0m1 .6h0m.6 .6h0m3.3-1.9h0m4.6-1.6h0m2.5 .9h0m.5-1.8h0m2.3 .5h0m1.7-.4h0m.7 3.7h0m.8-.7h0m1.7 .1h0m1.5-3.6h0m1.1 4.8h0m4.2-4.2h0m6.7 .4h0m3.9-1.7h0m.4 3.8h0m7-3.2h0m.5 5.2h0m3.6-1.5h0m2.3-2.4h0m.6 3.5h0m11.8-3.8h0m1.3-1.4h0m2.8 4.4h0m6.6-3.7h0m.1-.2h0m3.5 4.4h0m1.7-2.1h0m7.4-2.8h0m.4-.1h0m1.9 5.6h0m1.9-2.7h0m.3-.7h0m8.8-.7h0m3.5 .4h0m.7-.7h0m.6 3.8h0m3-2.9h0m1.3 3h0m11.8-2.9h0m1.8 .8h0m3.6-1.5h0m.7 1.1h0m.4 1.2h0m.6 1.2h0m2.3-.8h0m1.1-1.8h0m5.2-2.1h0m3.4 2.9h0m1.3 .3h0m-165.9 7.9h0m2.5 .1h0m.6-4.5h0m1.2 3.1h0m2.4-.1h0m3-3.7h0m1 4.8h0m2.7-5.2h0m3.2 3.4h0m1-.1h0m1.9-3.4h0m1.1 4.3h0m1.1-1.2h0m.3 1.3h0m3-.9h0m1.5-3.2h0m1 5.6h0m5.3-2.3h0m.1 1.6h0m1.3-2.6h0m1 .1h0m6.8 1.1h0m1.4-2.5h0m.7 3.4h0m1-2.4h0m.9 1.4h0m3.1-.8h0m2.8-2.5h0m3.3 3.5h0m2.3-2.1h0m.9 2.1h0m2.7-.7h0m4.2 1.5h0m11.5-.5h0m2.6 .4h0m1-1.8h0m3.3-2.4h0m3.6 .3h0m.3 3.5h0m.6 .7h0m7.7 .1h0m.8-.3h0m2.5-.1h0m.9-3.2h0m4.2 2.8h0m2.4 1.6h0m5.4-3.1h0m4-.1h0m.6-.4h0m.3 2h0m7.5 .7h0m.1-4.3h0m.3 3.9h0m1.3-4.2h0m5.6 2h0m4.7-1.6h0m.2 .2h0m4.4-.1h0m1.4 4.1h0m10.1 .5h0m6-3.2h0m2 2.2h0m1.4-2.3h0m1.9 1.9h0m2.4-1.7h0m.6-.6h0m-166.1 5h0m9.2 3.9h0m.7-2.8h0m3.5-.2h0m5.7 2.7h0m2.2-.7h0m10.4 1.4h0m7.7-3.4h0m5.7 3.9h0m3.2-.3h0m.7-.7h0m1.9-1.4h0m2.4-1.8h0m2.5 4h0m2 .4h0m6.9-3.9h0m1.8 2.8h0m.7-1.2h0m2.5 1.9h0m2.4-5.2h0m.3 1.4h0m.4 2.5h0m5.8-.5h0m.8-.6h0m9-2.4h0m0 3.6h0m4.8-4h0m1.1 2.7h0m4.9 2.1h0m1.1-3.7h0m2.4 3.4h0m1.9-3h0m1.2 2h0m1.3-3.1h0m.8 .2h0m1.6-.3h0m.1 4h0m1.2-3.9h0m3.2 1.2h0m.1-.7h0m1.8 2.5h0m.7 2.1h0m6-3.3h0m.4 .7h0m5-.2h0m1.2 2.2h0m.5-3.9h0m2.9 3.6h0m.2-3.3h0m3.9 .2h0m3.2 2.2h0m2.5-2.3h0m2-.6h0m4 1.8h0m.9 .6h0m2.4 2.2h0m2.7 .5h0m.3-2.3h0m1.9-3h0m2.1-.3h0m.4 4.8h0m.1-.7h0m2.4 .4h0m-161.8 5.3h0m2.1-1.4h0m.6 .8h0m.1 .5h0m7.7-3.6h0m8.1 1h0m1.3 2.1h0m2.5 2.4h0m3.3-3h0m2.9-1.5h0m2.2 2.4h0m3.2 .7h0m5.3-4.3h0m.1 2.5h0m1.1 2.3h0m1.3 .2h0m2.6-5h0m3.4 1.6h0m1 .4h0m1.3-.4h0m.3 3.2h0m6-.4h0m1.1-.8h0m1.4 2h0m5.1-2.8h0m3.8 1.5h0m.4 .4h0m.6-3.7h0m6.3 3.3h0m3.6-.5h0m1.5 .7h0m.6 .5h0m1.5 .4h0m1-3h0m1.3-1.3h0m.2 2.2h0m.7-2.8h0m1.3 3.9h0m1.2-4.2h0m9.8 4.2h0m1-.5h0m1-4.1h0m.6 5.3h0m2.8-3h0m1.4-.2h0m2.9-1.7h0m.2-.3h0m2.3 1.9h0m4.9-1.7h0m1.7 1.9h0m1.1-1.3h0m0 3.5h0m.6-1h0m4.5-.6h0m.1 .1h0m2.1-2.4h0m.4-.5h0m.8 5.2h0m3.5-2.1h0m.7 .6h0m.3-3.5h0m6.9 4.7h0m7.4-2.8h0m3.4-.6h0m.6-1.6h0m0 5.5h0m.3 .2h0m2.6 .2h0m1.4-4.9h0m2.1 2.9h0m2.5 1.1h0m4.9-4.3h0m-163.8 7h0m2.7 0h0m4.4-.9h0m3.1 1.3h0m2-.8h0m1.9 1.2h0m.6 1h0m2.9 1.3h0m1.8-3.5h0m1.5 .9h0m7.3 1h0m2.8 1.8h0m.6-1.2h0m2.6-2.3h0m9.2-.3h0m.9 1.4h0m5.2 3.1h0m.2-3.1h0m6.3 3.1h0m.5 0h0m8.8-3h0m.3 .3h0m.1 2.9h0m1.5-4.7h0m4.1 2.8h0m9.3 1h0m5.3-3.7h0m1.8 2.2h0m.4-1.8h0m.5 3.4h0m6.6-1.5h0m2.3 .8h0m3.9-2.5h0m2.7-1.6h0m1.9 2.1h0m5.8 1.7h0m2.6 1.8h0m3-5.5h0m.2-.1h0m3.3 2h0m2 1.3h0m3.3-1.4h0m1.5-1.2h0m2.5 2.8h0m1.3-1.8h0m4.6 3.5h0m3.9-4.6h0m.4 .8h0m.1-.1h0m2.7 .1h0m1.2-.1h0m2.7 3.1h0m.5-3h0m.3 2h0m.1-2.2h0m2.7 4h0m2.7-2.7h0m6.2-2.7h0m5.5 5.6h0m1.4-4.6h0m-160.1 10.5h0m.7-1.4h0m3.2 1.6h0m.6-.6h0m2.2 .8h0m6.2-1.9h0m7.1-.6h0m1.9-.1h0m.3-1h0m.3 .5h0m1.1-1.1h0m3.1 3.6h0m.2-.9h0m8.1 .5h0m1.3-2.7h0m2.1 .8h0m1.3-1.6h0m.7-.7h0m6.3 .5h0m3.7 4.2h0m2.6 .3h0m.3 0h0m2.9 .2h0m1.2-3.4h0m.7-2.1h0m7.7 1.8h0m10.3 3.3h0m3.8-4.9h0m3.5 1.2h0m3.5 3.7h0m1-2.5h0m1.8-.1h0m.8-.6h0m2.8-1.6h0m2.4 1.8h0m.2-.9h0m5.2-.6h0m6.6 3.2h0m.5-3.2h0m.6 3.5h0m.2-2.3h0m1.2 .6h0m3.1 2.9h0m.7-2.4h0m3.2 1.3h0m4.6 .2h0m4.5-1.8h0m.6 0h0m3.6 .7h0m2.4 1.2h0m.8-4.8h0m2.4 1.6h0m4.4 2.5h0m1.4-2.1h0m.4 3.1h0m.1-2.9h0m.8 2.8h0m2.3-4.8h0m.5 .3h0m2.1 0h0m3.2 1.3h0m.9 2.1h0m1.9-2.4h0m2.4 2.4h0m-159.6 2.6h0m.6 2.7h0m14-1.4h0m.2 3.1h0m2.2-3.4h0m.4 2.1h0m2.8-3h0m.3 4.5h0m2.8-4.5h0m6.1 2.6h0m8.5-.2h0m2.1 2.1h0m.6-.9h0m.2-2h0m3.7 .6h0m1.8-1.2h0m.3 .5h0m2.4 .4h0m3.8 3.1h0m8-5.4h0m.2 1.3h0m1.6-1.5h0m.5 2.2h0m1.3 2.9h0m2.9-2.5h0m2-2.2h0m2.4 2.6h0m.1 2.4h0m2.8-3.9h0m1.3-1.4h0m14.8 2h0m.8 2.2h0m.2-2.7h0m3 1.9h0m1.2 1h0m.9-2.1h0m1.6-2.4h0m3.6 .7h0m3 3.7h0m1.8-4.1h0m1.9 1.4h0m15.3 3.1h0m1.2-.4h0m3.8-4.2h0m2.4-.3h0m12.3 5.7h0m5.5-.7h0m.4-5.1h0m2.4 1.1h0m.3 4h0m3.8-4h0m-152.1 6.9h0m1.4 .6h0m16.1 .1h0m1.2-1.6h0m4.6 2h0m2.3-1.4h0m8.2-1h0m1.2 1.8h0m19.1 .9h0m4.5-1.4h0m1.7-1.4h0m1.8 3h0m5.8-.4h0m8.8 .3h0m.1-2.1h0m10.8 2.1h0m.9-.1h0m.4-1.7h0m2.5-1.7h0m8.4 3.4h0m2.6 0h0m.5-.7h0m10.5-2.3h0m2.6-.2h0m0 .4h0m4.8 1.5h0m2.5-.6h0m9.3-.4h0m6.6 1.7h0m1.5-1.4h0m7.5 1.5h0m2.9 .7h0m4.8-.8h0" stroke="#d1254d" stroke-width="2.9" stroke-linecap="round"/><path d="M384.4 328.6h0m17.3 4.1h0m3.8-2.1h0m1.1 .4h0m.2 1.3h0m6.7-3.3h0m.1 3.5h0m0-3.1h0m1.7-1.4h0m.1 2h0m2.6-1.2h0m5.1 4h0m18.7-4.1h0m7.9 3.4h0m6.3-1.6h0m.6-.5h0m5.6 .6h0m2.3-2.1h0m5-.9h0m.4 3.4h0m6.5-2h0m4.1 3.8h0m11-.6h0m5.5-4.2h0m1.7 .2h0m3.1 2.7h0m1.7-2.5h0m.4 .9h0m6.8-1.6h0m5.5 3.2h0m9.4 1.7h0m3.3-1.4h0m1.8-1.1h0m.2-2.1h0m6.1 3.5h0m3.1 .5h0m2-4.1h0m.3 4.4h0m2.3-1.7h0m1.9 1.2h0m-158.3 2.7h0m1 3.1h0m2-.5h0m.5 .7h0m.3-4h0m5.8 4.6h0m10.7-2.6h0m9.4 .6h0m7.5 .6h0m.5-1.1h0m12.8 1.5h0m6.6-1.5h0m3.4-.9h0m.1-.4h0m.4 1.5h0m.4 1h0m5.4 .4h0m4.4 .4h0m3.7-1.3h0m2.7 .7h0m1.4-.2h0m4.6-1.9h0m13.1-2h0m5.7 5.7h0m.1-2.5h0m22.5 2h0m3.1 .2h0m4.8-1.6h0m1.3-2.7h0m9.6 2.3h0m5-.1h0m2-2.6h0m.1 5h0m6-4.8h0m4.2 4h0m3.2 .2h0m-167 2.8h0m1.6-.6h0m6.2 2.7h0m2.2-2.3h0m2.9 .5h0m6.4 2.5h0m2.7 .7h0m13.6-4.4h0m.5-1.1h0m5.5 1.6h0m4.3 1.4h0m7.2 2.1h0m1.1 .2h0m1.2-.2h0m3.8-4.9h0m3.7 4.2h0m1.4 1.2h0m3.8-4.9h0m1.1 1.9h0m2.5-2.5h0m1.6 4.2h0m7.8-2.5h0m9.6-1.8h0m7.6 .4h0m.7 .7h0m4.5 .2h0m3.4 .7h0m1.2 3.8h0m.5 0h0m7.5-.5h0m4.1-2.6h0m6.6 .4h0m16.1 1.3h0m7.2-.9h0m1.3 .8h0m6.1-1.9h0m3 .9h0m.6 1.9h0m1.2-1.1h0m1.1 .8h0m-161.6 1.6h0m2.7 2.7h0m5.9 1.1h0m5.5-4h0m11.1 1.7h0m5.4-1.3h0m1.1 2.2h0m1.8-2.4h0m3.7 2h0m6.3 1h0m12.9 1.2h0m1.2-2.5h0m3.3-.9h0m9.5 4.5h0m1.2-.8h0m2-3.8h0m3.1 .5h0m4.9 2.4h0m1.8 .7h0m2.8-1.2h0m.3 .5h0m2.4-1h0m6.5-2.4h0m1.1 1.1h0m11.7 1.7h0m1.3-2.4h0m4.3 3.4h0m.2 .1h0m8.7-1.6h0m.3 0h0m1.1 1.4h0m6.8-.4h0m5.2-3.3h0m9.8 2.2h0m12.5 2.6h0m-161.7 1.9h0m1.8 4.1h0m1.7-3.4h0m5.9 1.6h0m.4 1.9h0m1-4.1h0m.2 2.9h0m2.2-1.9h0m2.2-.9h0m4.8 1.2h0m.4 2.4h0m.9-1.5h0m2.1-2.7h0m21.7 3h0m.4 1.7h0m1-2.3h0m2.6 1.4h0m2.8-1.2h0m2.4-.4h0m.8 .6h0m2.9 .6h0m13-.3h0m3.2 .6h0m4.1-3.3h0m10.8-1.4h0m.1 4.4h0m2.1 .2h0m1.7-1.5h0m.9-2.7h0m.3 1.4h0m2.6 2.8h0m.1-.2h0m6.7 1.2h0m6.2-2.8h0m6.4 1.8h0m.6-.1h0m6.2 1h0m3.4-1.9h0m6.7-.9h0m5.4-2.3h0m7 3.7h0m3.9-1.1h0m1.8-1.4h0m7.4 .7h0m9.5-2.1h0m-167.4 11.1h0m1.8-4.5h0m.4 2.5h0m.2-2.2h0m1.8-.4h0m5.7-.1h0m.6 3h0m0-1.7h0m7.6-.2h0m4.9 3.6h0m11.7-1.2h0m.2-1.4h0m4.4-1.5h0m.2 0h0m3.4 4.7h0m9.4-3.8h0m.5-2h0m7.4 4.9h0m1.6-1.7h0m6.9 .2h0m.2-3.5h0m16.4 1.9h0m17.2 3.8h0m.9-4.1h0m6.3-.6h0m1 4.7h0m5.9-3.7h0m1.1-1.7h0m.3-.2h0m8 2.7h0m2.2-1.6h0m5.9-.9h0m3.3 4.5h0m7.8-3.2h0m3.2 2.8h0m9.3-2.9h0m.4-.6h0m-155.4 5.4h0m1 2.5h0m2.7-.3h0m.2 1.6h0m2.1-.2h0m12.3-3.3h0m4.3 3h0m3-2.4h0m6.5 2.4h0m1.7 1.5h0m8.1-.5h0m4.8 1h0m2.1-.4h0m5.7-.2h0m7.4-2.2h0m1.6-1.5h0m9.6 3.2h0m1.5-4.4h0m2.5 .9h0m1.8 2h0m3 2.6h0m.7-2.8h0m2.4-1h0m6.5 .3h0m3.1 1h0m1 .2h0m5.1-1.7h0m5.8 2.6h0m2.8-1.2h0m4.1 .9h0m.4 .1h0m3.4-3.4h0m.5 2.6h0m8.5 .4h0m11.7-3.4h0m2-.1h0m1.5 3.3h0m4.5 .3h0m5.5 1.7h0m-151.2 6h0m1.2 0h0m1-.2h0m1.3-1.5h0m5.9 1.6h0m2.6-3.4h0m.5-1.5h0m2.8 2.3h0m.7-1.6h0m1.6 0h0m22.8-.5h0m.7-.1h0m8.4 .3h0m1.9 .7h0m3.1 .9h0m4.1-1.3h0m2.4 2.3h0m3.3 2.1h0m10-1.5h0m.6-.9h0m.9-3.1h0m10.4 5.2h0m14.2-1.1h0m.9 1.6h0m.8-2.7h0m.8 .1h0m4.3-1.8h0m1.3 1h0m9-1.8h0m1.2 3.3h0m1.3 1.8h0m17.3-5.3h0m1.6 2.5h0m1-1.7h0m10.1 4.4h0m6.6-3.8h0m4.2 .9h0m-160.1 8.2h0m4-4.4h0m4.7 .6h0m1 1.1h0m.1 3.4h0m8.2-4.8h0m.7 3.3h0m2.4-3.4h0m18.6 1.6h0m6.2-1.2h0m.8 3.7h0m4 .2h0m14.8-.7h0m14-.3h0m1.6-.3h0m9.7-3.4h0m1 2.8h0m19.5-1.8h0m.5-1h0m2.1 4.7h0m7.5-1.3h0m.7-.6h0m1.9-1.1h0m5-1.8h0m9.4 0h0m1.1 5.8h0m3.5-.3h0m7.1-1.7h0m1.1-2h0m5.8 3.7h0m-161.4 1.6h0m5.1 3.2h0m4.6 .5h0m2.6 .3h0m4.2-3.9h0m2.6-1.4h0m.1 4.4h0m9-2.2h0m2.2-.7h0m2.6 1.1h0m5.3-.6h0m10.2 2.9h0m6.9 .9h0m5.4-2.1h0m1.1-2.7h0m.5 4.3h0m3.9-3.9h0m0-.5h0m.1 .9h0m4.7-.6h0m1.1 .2h0m3.7-.4h0m3.6 2.4h0m4.2 .7h0m3.4-.6h0m1.2 .9h0m4.8-3.9h0m9.2 1.1h0m2.1 1.1h0m11 2h0m10.9-.3h0m2.3-3.5h0m2 2.2h0m4.3-2.8h0m11.3 .9h0m3.2 .3h0m5.7 .9h0m1.2-2h0m6.5 5.3h0m1.8-4h0m-164.5 9.4h0m12.5 .7h0m4.3-1.6h0m3.9 1.7h0m1-1.9h0m1.6-3.3h0m7.7 3.2h0m8.6 1.9h0m11-3.4h0m1.9 3.4h0m6.8-5.2h0m7 2.5h0m5.9-2.2h0m10.9 4.7h0m5-5.4h0m1 .7h0m2.1 3h0m1.7 .6h0m8.2-1.1h0m1.4 1.1h0m7.8-2.7h0m2.4 1.6h0m2.6 2.2h0m6.7-4.4h0m4.6 1.5h0m.5 1.7h0m8.9 1h0m.4-.7h0m.1 .9h0m4.6-4.2h0m3.7 2.8h0m20.4-.7h0m2.6 .3h0m-165.6 7.9h0m5.6-.1h0m1.8-.2h0m2-.5h0m1-1.1h0m3-1.7h0m2.2 2.9h0m1-4.8h0m1.4 2.5h0m1 1.7h0m5.7 1h0m2.4-1.1h0m1.1-3.9h0m7.2 4.5h0m2.5-2h0m15.2 1h0m4-.3h0m4.3-1.4h0m7.7 1.1h0m1.3-2.7h0m.8 4h0m8.6-3.2h0m1.4 .5h0m1.2 3h0m4.3-1h0m4.7-3.6h0m9.5 4.6h0m2-4.8h0m9.1 .2h0m10.1 .1h0m.2-.3h0m2.5 5.3h0m.8-5.3h0m.2 1.5h0m2 3.6h0m13.1-2.3h0m1.5-.9h0m4.3-.3h0m-141 10.3h0m.8-.8h0m7.9-2.7h0m2.5-.1h0m1.2 2.2h0m.4 .8h0m.8-5.3h0m1.9 3.8h0m1.5 .9h0m12.9 .8h0m1-.9h0m.2 .3h0m.7-.4h0m1.7-1.8h0m2.7-1.3h0m.7-.5h0m1.4 1.7h0m1.7 3.2h0m8.3 0h0m.8-.9h0m9.8-3.4h0m5.5 4.2h0m5.2-1.4h0m1.1-1.8h0m7.8-2.4h0m4.1 .5h0m13.9 3.5h0m5.3 1h0m6.9-.7h0m2.1 .6h0m.8 .4h0m3.4-.5h0m11.1-1.7h0m3.4-1.3h0m.3 3.4h0m2.4-2h0m4.1 1.4h0m1.5-2.5h0m4.6 1.2h0m8.2 2.2h0m1.5-.7h0m1.4-.8h0m-158.8 3.1h0m4.1 .4h0m9.7-1.2h0m8 2.3h0m2.9 .2h0m1.3 1.9h0m.2-3.9h0m.9 2h0m1.4-1.2h0m0 3h0m12.2 .3h0m4.2-3.6h0m4.2 .4h0m2.9 .5h0m15.3 .9h0m.6 .2h0m.3 .8h0m3.9-2.9h0m.4 3h0m6.3-2.1h0m7.1 .2h0m1 1.4h0m1.1-2.5h0m2 .8h0m6.5-.5h0m1.2-1.6h0m0 4.9h0m4.1-3.8h0m.4 2.2h0m.6-.2h0m.6 2.4h0m4-3.5h0m1.7-.4h0m2.4 0h0m8.8 .5h0m.1-1.2h0m1.7-.5h0m.5 4.1h0m1.2 .1h0m3.3-2.7h0m2.3 3.1h0m1.1-3.1h0m1.1-2h0m4.7 3.2h0m2.5 1.8h0m.9-.6h0m0-2.9h0m2.6-1.1h0m2.9 5.5h0m4.3-4.6h0m7.1 3.8h0m2.5-.1h0m-159.7 4.7h0m1.4-1.8h0m.8-.2h0m9-.2h0m11.3 2h0m.4-.6h0m6.9-1.3h0m.6 .9h0m37.2 .1h0m15.3-2h0m7.3 2.6h0m3.5-.9h0m3 .7h0m20.2 .7h0m2.8-1.7h0m12.8-.3h0" stroke="#d1254d" stroke-width="4.0" stroke-linecap="round"/><path d="M394.3 329.9h0m35.4 .5h0m16.2-1.1h0m.1-1.2h0m.1 0h0m35.1 2.4h0m5-3h0m14.4 1.2h0m3.9 2.7h0m13.5-.7h0m-133.6 8.2h0m4.3-.7h0m11.2-3.6h0m9 3h0m17.9-.8h0m29.6-1.4h0m4.1 .9h0m22.2 1h0m26.8-3.4h0m5.7 2.5h0m12.5-2h0m3.8-.1h0m-122.4 5.3h0m6.8 1h0m11.5-1h0m7.8 .8h0m6.4 2.5h0m8 .9h0m16.7-2.6h0m19.7 .1h0m8.3-1.4h0m53 .6h0m-162.8 10.3h0m26.5-.1h0m7.4-2.3h0m11.2 1.1h0m1.5-1.3h0m18.4 2h0m9.7-5.1h0m29.1 2.2h0m18.9 3.4h0m9.2-4h0m8.9-.4h0m-16.8 8.1h0m17.3-1.2h0m24.6 .2h0m-154.5 7.6h0m10.4-2.3h0m2.1 3h0m.3-2.8h0m11.4-.7h0m12.8 1.6h0m10-2.1h0m6.4 4.4h0m75.5-.7h0m12.9-2.2h0m7 2.9h0m1.9-3.1h0m.8-1h0m-133.8 10.3h0m13.3-4.1h0m15.8 2.9h0m6 1.3h0m36.8-3.9h0m40.8 3.1h0m12.1-3.6h0m6.1 .4h0m4.3 .1h0m3.1-.9h0m.8 1.1h0m-153.6 9.3h0m1.3-2.3h0m3.8-2.5h0m7.4 3.1h0m2.7-1.9h0m5.7-1.4h0m9.8 1.9h0m8.4 1.6h0m1.2 0h0m2.8 0h0m17.7-3.3h0m20.6 3.6h0m.8 2h0m42.9-1.3h0m4.5 .8h0m-139.4 2.5h0m28.5 3.5h0m1.3-2h0m6.4-.3h0m12.7 2.6h0m25.2-4.8h0m5.7 .1h0m25 2.6h0m2.9 1.8h0m6.2-2.5h0m5.8 2.2h0m-106.9 1.2h0m16.6 .7h0m25 4.3h0m44.4-2.1h0m17.8 .1h0m9.2 2.7h0m6.5 .1h0m21.4-2.4h0m1.6 1.1h0m-150.9 6.2h0m1-2.3h0m26.8-.6h0m11.8 .3h0m14.6 2.8h0m29.4-3.9h0m22.3 3h0m24.1-4.2h0m3 2.5h0m1.6 2.5h0m12.9-1.9h0m-132.8 3.7h0m4-.5h0m18.1 .4h0m3.9 0h0m5.5 2.4h0m1.4 2.1h0m51.4-1.7h0m38.3-.6h0m-147 8.4h0m4.8-4.8h0m.7 .3h0m4 2.3h0m6.5-2.3h0m5 2.1h0m8 2.3h0m5-3.1h0m37.1 3.6h0m19-2.8h0m13.2-.8h0m3.2 1.6h0m29.8-.2h0m-126.3 3.8h0m44.8 1.9h0m4.3-.3h0m18.2 2.2h0m11.8-4.5h0m31.5 5.2h0m33.5-2.4h0m-143.4 4.9h0m3.8-1.3h0m15.3 1.7h0m85.9-2h0m45.2 2.4h0m.4-3h0" stroke="#d1254d" stroke-width="5.4" stroke-linecap="round"/><path d="M388.4 331.7h0m10.2-2.3h0m2.8 2.8h0m13.7-4.5h0m49 .4h0m12.3 3.4h0m25.9-.8h0m8.2 1.6h0m-124.4 3.4h0m2.5 .4h0m3.3-3h0m11.7 2.6h0m18.6 2.5h0m2.4-5h0m12.7 .5h0m6.6 1.6h0m1.3 .7h0m21.3-1.6h0m8.6 1.9h0m13.2 .8h0m10.5 1.3h0m4.8-3.3h0m19.6-1.7h0m2.5 3.3h0m11.1 .4h0m-132.3 7.5h0m40.3-.3h0m3.9-1.5h0m17.4 .6h0m14.3-1.4h0m3.3-.6h0m11.8-2h0m21.6 3.1h0m-120.9 7.8h0m1.4-3.2h0m64.9 3.2h0m43.5-4.6h0m11.9 .9h0m2.1 3.2h0m3.7 0h0m1.1-4.3h0m10.5 1.4h0m14.5 3.4h0m-130.1 1.1h0m26.3 4h0m21-1.8h0m10.1 1.2h0m27.8 0h0m9-1.5h0m17.9-2h0m.6 .3h0m1.5 3.9h0m7.9-2h0m-108.7 4.8h0m23.3 4.3h0m6.2 .2h0m12.3-3.4h0m47.9-.7h0m3.3 3.4h0m-141.6 1.8h0m13.2-.3h0m69.2 3h0m8.1-1h0m6.6 .2h0m31.1 .7h0m14.7 .1h0m.9-.6h0m-72.8 8.9h0m28.8-3.2h0m8.7 2.7h0m26.2-4.6h0m29.9 3.8h0m-159 4.3h0m7.6-1.2h0m23.4 2.9h0m19-3.2h0m16.4 1.8h0m57.8-.8h0m14.5 1.2h0m.9 2.1h0m18.3-4.1h0m1.6 .4h0m-133 4h0m27.9 4h0m16.1-1.7h0m16.4 .4h0m53.6-1.1h0m-138.8 5.1h0m2.2 1.4h0m12-.7h0m4.4-1.3h0m4.7 4.4h0m27.5-1.1h0m3.2-.4h0m3.7 2.8h0m1.9-3.2h0m.6 1.6h0m19.2 1.5h0m3.8-1.6h0m10.9 1.8h0m15.2-1.5h0m5.7-3.3h0m-113.8 8.5h0m11.2-2.8h0m5.9 2.8h0m11.7 1.9h0m12.6-.4h0m4.2 .5h0m4.6-1.7h0m3.1-.1h0m2.6-2.9h0m22.2 2h0m11.4 2.8h0m43.8-.1h0m-129.5 3.5h0m3.3-1.7h0m14.5 3.7h0m16.3-.9h0m9.9-3.3h0m.6 2.6h0m39.9 1.6h0m7.3-.6h0m17.2-1.6h0m9.9 1.4h0m32.5-.4h0m-105 2.7h0m4.1 2.3h0m3.3 1.8h0m36.7-3.2h0m0-1.4h0m2.3 1.2h0m10.1 2.1h0m2.9-2.5h0m18.9 2.6h0m-115.1 4.1h0m17.7 1.1h0m28.7-2.6h0m29.5 1h0m5.5 .7h0m17.9 1.3h0" stroke="#e25479" stroke-width="2.2" stroke-linecap="round"/><path d="M455.4 336.9h0m.3 1.6h0m16.3 4.9h0m-82.2 11.9h0m2.5 2.4h0m134.2 5.6h0m-26.2 17.1h0m-81.5 25.7h0m22.5 8.5h0m1.5 .4h0" stroke="#fff" stroke-width="2.5" stroke-linecap="round"/><path d="M508.6 332.9h0m-2.8 1.5h0m5.2 2.8h0m-41.9 9.5h0m3.6-.5h0m-23.3 7.8h0m26.2-2.6h0m-83.6 6.2h0m148.2 39.6h0m-86.4 11.5h0m-11.7 4.4h0" stroke="#fff" stroke-width="3.0" stroke-linecap="round"/><path d="M456.3 330h0m15 15.3h0m52.9 .1h0m2.3 0h0m-75.8 11h0m-1.2 2.5h0m28.8 20.1h0m21.4 1h0m41 18.8h0m-122.6 9.7h0m10.2-1.7h0m48.8 2.3h0m-35.8 4.8h0m13.2-2.9h0" stroke="#fff" stroke-width="3.5" stroke-linecap="round"/><path d="M506.6 334.9h0m-5 5.3h0m-50.3 15.6h0m23.5-2.6h0m-26.8 6.6h0m2.5 2.5h0m75.1 1.4h0m-1.8 8.9h0m.5 1.8h0m-45.8 6.6h0m1 .2h0m-56.4 12.7h0m119.1 4.5h0m-116 9.7h0m2.1 1h0m1.7-2h0m24.4 3h0" stroke="#fff" stroke-width="4.0" stroke-linecap="round"/><path d="M401.4 331.9h0m1.1 .3h0m97.3 5.8h0m11.9 .7h0m22.3-5.6h0m-23.7 7.8h0m18.4 3.1h0m-143.9 3.4h0m89.5 3.4h0m-30 .7h0m1.8 8.6h0m1-2.3h0m75.5 15.3h0m-126.5 12.4h0m29.1 17h0m53 7.9h0" stroke="#fff" stroke-width="4.5" stroke-linecap="round"/><path d="M399.7 331.3h0m-12.7 15.2h0m55.8 2.9h0m80.6 24.1h0m-125.1 11.1h0m121 4.4h0m-93.7 13h0m52 8.2h0" stroke="#fff" stroke-width="5.0" stroke-linecap="round"/><path d="M533.7 330.8h0m-43.2 3.8h0m-39.2 48.3h0m26.5 .8h0m-78.5 5.1h0" stroke="#fff" stroke-width="5.5" stroke-linecap="round"/><path d="M448.4 360.9h0m-48.5 25.1h0m1 .9h0" stroke="#fff" stroke-width="6.0" stroke-linecap="round"/><path d="M453.1 385.1h0m-61.2 5.2h0m1.1-.5h0m128.5 0h0" stroke="#fff" stroke-width="6.5" stroke-linecap="round"/><path d="M394 390.5h0" stroke="#fff" stroke-width="7.0" stroke-linecap="round"/><ellipse cx="467" cy="377" rx="6" ry="7" fill="url(#gp)"/><ellipse cx="535" cy="390" rx="5" ry="7" fill="url(#gp)"/><path d="M387,410H405" stroke="#333" stroke-width="0.6" opacity="0.7"/></g></g>
<clipPath id="cpsirius0"><rect x="214.6" y="416.7" width="167.4" height="86.1"/></clipPath><g clip-path="url(#cpsirius0)"><g filter="url(#soft)"><rect x="214.6" y="416.7" width="167.4" height="86.1" fill="#e5e5ad"/><path d="M214.7 416.1h0m.4-.4h0m6.2 .8h0m5.1-.5h0m2.1 .3h0m.5 0h0m.6 .6h0m1.5-.9h0m5.5 .7h0m.1-.6h0m4.2 .4h0m1.3 .3h0m8.3-.6h0m6-.1h0m6.3-.2h0m16.6 .3h0m6.3 .3h0m8-.7h0m.2 .8h0m1.1-.2h0m.9-.6h0m9.7 .5h0m3.4-.3h0m.1 0h0m2.4 .9h0m2.4-1.1h0m6.5 .1h0m5.7 0h0m18 0h0m10.9 .7h0m.1-.3h0m1.3 .6h0m1.3-.5h0m.1 .1h0m2.7 0h0m.4 .2h0m10.7-.5h0m2.1-.3h0m8.2 .1h0m-168 6.7h0m.2-2.1h0m.1 1.5h0m.5-4.9h0m.3 0h0m.3 .1h0m.8 5.2h0m.2-.1h0m.8-3.7h0m0 3.5h0m1.3 .1h0m0-5.3h0m.1 3.4h0m.3-.4h0m0-.2h0m0 3.1h0m1.3-2.9h0m.2-1.9h0m.2-.9h0m2.2 5.1h0m.3-2.7h0m2.3 .1h0m.2 1.5h0m.5-3.6h0m.4 2.3h0m.4-1.4h0m.6 4h0m3.6 0h0m.5-2.8h0m.2-2.5h0m.2 4.2h0m.5-3.8h0m.8 2h0m.7 .2h0m.6 .5h0m.3-1.6h0m.1 .7h0m.7 1.7h0m.9-3.7h0m2 1.2h0m.2 4.3h0m1.3-1.8h0m.3-2.5h0m.6-1.5h0m.5 4.6h0m0-3.2h0m.9 2.9h0m.3-.2h0m.2-2h0m2.2 0h0m3.2 1.3h0m1.3 .5h0m.1 1.5h0m.7-5.4h0m.3 2.2h0m2.9 1h0m3.3 2h0m.4-3.5h0m1.2-1.4h0m.2 4.4h0m.6-.8h0m1.7 1.6h0m2.7-5.1h0m3 2.3h0m.1-.6h0m1.6-2.2h0m.6 2.4h0m.5 2.7h0m.2-3.2h0m1 4h0m.5-5.3h0m1.9 2.5h0m.5-1.5h0m2.9 2h0m.1-.6h0m1.5-.5h0m1.2-.7h0m1.4 1.5h0m.3 1.9h0m.6-1.6h0m.1 .5h0m.8-2.4h0m1 3.4h0m1.3-1.4h0m.2-3.4h0m.7 2.3h0m.8 .2h0m.2-.5h0m1.2-.7h0m1.1-.5h0m.1-1h0m.2 4.6h0m.5-.8h0m0-1.2h0m.1 1.6h0m.2-2.8h0m1.8 0h0m.5 2.8h0m.5-2.8h0m.6 2.7h0m0-4h0m.1 3.4h0m.1-.3h0m.3-2h0m6.5 1.5h0m1-2.5h0m.8 3h0m2.6 .4h0m.1-.6h0m1.6 2.3h0m.1-4.1h0m1.4 3.4h0m.3 0h0m.1 .1h0m.2-4.1h0m.2 3.5h0m1-.9h0m2.2 1.6h0m1.5-1.6h0m.9-2.4h0m.8 2h0m.9 .5h0m1 .1h0m0 2h0m.1-5.4h0m1.5 2.3h0m.5 .9h0m2.3 .1h0m.7 .7h0m.2-.2h0m1.1 .3h0m.3-3.5h0m.3 4.3h0m.6-2.8h0m.6-.5h0m.9 .2h0m.9 1.3h0m0 2.6h0m.3-2.2h0m.3-3.1h0m.4 4.6h0m.9 .8h0m.9-4.5h0m.8 .1h0m.5 4.4h0m.9-1.8h0m.4 1.6h0m.1-.3h0m1.7-2.2h0m.6 1.6h0m.7-2.1h0m.3-1.8h0m.3 2.5h0m.6-.3h0m.3 2.2h0m3.3-3.3h0m.7 2.2h0m.1 .6h0m.6-.4h0m.8-1.8h0m1.3-.9h0m1.7-.4h0m.1 1.5h0m.1 1.6h0m0-4.2h0m.9 5.5h0m.5-1.8h0m2.6-3.5h0m.2 .8h0m.8-1h0m.5 5.7h0m3.1-4.7h0m.2 .6h0m1.1-.4h0m0 2.5h0m.3-3.8h0m.2 3.3h0m1.2 .1h0m.6-3.2h0m0 3h0m.5 1.9h0m.3 .7h0m.2-3.7h0m0-1.9h0m.9 .4h0m3.7 2.7h0m1.3-3.1h0m.4 5.1h0m1.8-5h0m1.1 4.4h0m.4-4.7h0m.2 2.6h0m1.7 2h0m2-3h0m1.3 1.8h0m.5 1.8h0m1.1-1.3h0m.9 .7h0m0-2.4h0m1.1-1.1h0m.4 .9h0m.3 .1h0m1-.3h0m.2-1.8h0m2 1h0m.6 2.7h0m.5-1.8h0m-166 7.2h0m.9-2.1h0m.6 3.8h0m0-1.5h0m.1-2h0m0-.3h0m1.1 .6h0m.1 .5h0m1.9 2.4h0m1.8-1h0m.1 .9h0m.3-2.8h0m.1 2.2h0m2.5-2.6h0m1.3-.2h0m.3-.9h0m1.1 3.4h0m.6-3.4h0m.6 4h0m.3 0h0m1.6-3.5h0m.4 1.1h0m.4 1.3h0m2 .6h0m.4 2h0m.1-2h0m1 .3h0m1-1.5h0m1.5-2.3h0m1.2 1.7h0m1.6-1.8h0m.1 0h0m.7 3.4h0m.7-2.5h0m2.5 3.3h0m2-.6h0m0 .1h0m2.3-2.1h0m.9 3.7h0m1.2-2.8h0m.3 2.8h0m1.4-4.8h0m.3 3.9h0m.8-.2h0m.3 1.6h0m.5-2.7h0m.1-.4h0m.1-2.7h0m.4 2h0m.3 2.5h0m1-1.4h0m.2-1.6h0m1.3 2h0m.1-2.4h0m.3 1.5h0m.7-2.7h0m.1 5.7h0m.3-5.4h0m3.8 1.4h0m1.1 2.9h0m.8-1.7h0m.6 2.8h0m.7-.6h0m2-1.5h0m.7 .1h0m3 1.2h0m.8-.1h0m1-2.5h0m.5 0h0m.8 2.5h0m3.1 1.1h0m.2-5.9h0m.9 5.1h0m.9 .5h0m1-1.6h0m.9 .8h0m2.3-1.5h0m0 1.5h0m1.8-3h0m.8 .1h0m1.4 3.7h0m.8-5.4h0m1.6 4h0m3.3 1.7h0m5-3.1h0m.5 .1h0m.7 1.6h0m.2-1.8h0m1.8-.9h0m.4-.5h0m.7 2.7h0m1.6-1.8h0m.8 3.1h0m2.4-.2h0m.4-2.1h0m2.9-2.9h0m.5 4.5h0m.1-2.9h0m2.6 1.6h0m.9-2.5h0m.7 4.1h0m.3-3h0m.1-1.8h0m1.8 2.5h0m.5 .3h0m.2-1.5h0m.5 1.3h0m1.9-2.3h0m.7 3.4h0m1 1.8h0m.5-2.9h0m0 2.6h0m.6-1.7h0m1.5-1.3h0m.7-1.2h0m1 3.5h0m.6-2.2h0m.4 2.6h0m2.1-.1h0m.9-4h0m1.4 4.5h0m1.2-1.1h0m.1 1.6h0m.8-1.7h0m.9-3.5h0m1.9 1.8h0m.2 1.3h0m.1 .4h0m1.1-3.1h0m0 1h0m0 .6h0m1.3-.1h0m.6-.3h0m.8 2.8h0m.4 .4h0m3.6-4.5h0m.2-.8h0m2.2 .6h0m1.3 2.9h0m.9 .4h0m3.6-2.3h0m1.9 3.5h0m1.8 .3h0m1.1-3.6h0m2.9 3h0m1.6-1.8h0m1.2-2.5h0m1.4-.3h0m1 4.3h0m2.7-2.9h0m.7 3.6h0m.2-3.1h0m1.7 1.1h0m1.2-2.9h0m1 4h0m.2-4h0m3.1 .5h0m.4 1h0m.5-1.6h0m1.5 .5h0m.9 4.1h0m0-2h0m-166.9 6h0m1.6-2.1h0m1.2 .2h0m.7 3.4h0m.1-.1h0m1-.2h0m1.2-1.8h0m.1 3.5h0m1.6-1.9h0m.9-3.2h0m1.4 3.1h0m.4-1.8h0m2.3 .6h0m.5-2.2h0m.2 3.7h0m.4-1.5h0m.7 .1h0m2.4-2h0m1 4.4h0m2.3-3.1h0m0 .9h0m.3 .6h0m.8 .4h0m.4-3.1h0m.5 2.8h0m3.6 1.4h0m.3-2.8h0m1 .7h0m2.2-.3h0m1.2 2.5h0m.8-1.3h0m2.5 1.4h0m.6-2.2h0m1.2-2.7h0m1.2 1.8h0m1.8 2.1h0m.3-1.9h0m.1 2h0m3.1-2.7h0m0 0h0m.8-.9h0m.2 3h0m1.7-.4h0m1-.9h0m.1 1.5h0m.2-2.5h0m0-.2h0m1.4 2.8h0m.5-1.4h0m0 1.7h0m.5-.5h0m.7 1.9h0m.1-3.6h0m1.2-1.9h0m.3 .1h0m.1 .5h0m1.4 4h0m3-2.2h0m0-2.4h0m.6 1.8h0m.7 .4h0m.8 .5h0m4-.5h0m.3-.8h0m.9-.9h0m1.6 .8h0m.4 1.9h0m1.2-1.3h0m.4-.5h0m.8 3h0m.6-3.3h0m.2 4.4h0m.6-3.9h0m.9 3.3h0m.8 .3h0m.4-1h0m2.1-3.2h0m.1 1.8h0m.3-2.4h0m0 .4h0m.4 .1h0m.6 2.8h0m1.3-1.7h0m.3 3h0m.1-2.3h0m.4 .6h0m2-2.9h0m.5 3.1h0m.5-2.6h0m1.2 3.2h0m.1 1h0m.8 .5h0m1.1-2.4h0m3 2h0m.1-1.6h0m.1-2.1h0m2.4 3h0m0-2.2h0m.9 .4h0m.4-1.2h0m1.5-1.7h0m.9 .1h0m.9 2.8h0m2.5 .9h0m1.3 .6h0m1.4 0h0m.9-3.5h0m.3 1.6h0m0 2.6h0m.7-2.9h0m.6 .5h0m2.2 1.2h0m1.1-1.7h0m.3-.2h0m.6-1.1h0m1.7 2h0m.3 2.9h0m.2-3.4h0m.1 3h0m2.1-4h0m.3 2.5h0m.4-2.7h0m.2 4.3h0m2.1-5.5h0m0 2.5h0m.8-1.7h0m1.4-.6h0m.4 1.7h0m.5 .5h0m.1-1.3h0m.6 2.9h0m.8-3.5h0m1.2 4.1h0m1-3h0m.2-.1h0m.3-1.3h0m1 3.2h0m0 .9h0m3-1.6h0m1 1.7h0m.2-2.5h0m.4 4h0m.2-3.5h0m.2 1.6h0m.3-.1h0m.5 .3h0m.4-1.9h0m.2 1.2h0m1.6-2.1h0m1.8 4.2h0m1.4-2.5h0m.1-.4h0m4.3 1.4h0m.3 1.2h0m.4-4.7h0m1 2.6h0m.7-.6h0m.5-1.4h0m.5 3.3h0m.4-3.8h0m.2 4.7h0m.4-5.4h0m.7 .2h0m.2 3.3h0m.6-.8h0m.5 1.1h0m1.6-3.3h0m.2 1.1h0m.9 2.8h0m.8-3.1h0m3.1 3h0m1-4.4h0m.1 5h0m1.4 .3h0m.3-4.1h0m0 1.2h0m1 2h0m1.7-4.1h0m2.7 5.2h0m1.6-.6h0m.6-2h0m.2 2.6h0m0-2.6h0m.5 1.6h0m1.8 .8h0m.6-1.1h0m.2-2.9h0m.8 .7h0m.8 1.6h0m.4-3.2h0m1 .1h0m.3 .7h0m-167.1 6.7h0m1.2 3.6h0m.7-2.5h0m2.4-1.5h0m.1 .2h0m.4-.2h0m.1-.6h0m.7 2.4h0m.7-1.6h0m1.4-.9h0m.4 2.8h0m1.6-2.8h0m.3 4.1h0m1.7-1.4h0m.6 1.4h0m.2-.6h0m.9-3.6h0m.9 1.6h0m2.8-.2h0m.3 1h0m.6-1.2h0m1.8 2.2h0m0 .6h0m.6-1.4h0m2.8-2.4h0m.2 1.6h0m1.1-.5h0m.6 1.9h0m.2-3.3h0m1.8 3.5h0m1 .2h0m.7-3.5h0m2.5 3.4h0m.7-.9h0m.9-1.9h0m2.2-.1h0m.5-.8h0m.4 4.3h0m2.2 1h0m.2-1.9h0m1.2 1.7h0m1.3 0h0m.9-2.5h0m.2-2.6h0m1.2 2.5h0m.5-1.4h0m.3 3.9h0m.1-3.3h0m.2 .7h0m.2-2.7h0m.2 .5h0m.6 3.8h0m.1 .7h0m.8-4.6h0m1 5.1h0m.9-.9h0m.5-1.9h0m.2 1.3h0m.2-.1h0m.4-2.4h0m.6 4h0m1.3-4.7h0m4.2 1.3h0m.7 1.8h0m1.2 1.2h0m1.1-1.2h0m.7-1.2h0m0 1.9h0m1.1-2.7h0m.3 3.9h0m.9-4.9h0m.2 4.7h0m1-3.7h0m.1 1.8h0m2.7-1.2h0m.2 .7h0m.3 .5h0m1.7 .4h0m1.1 1.4h0m1.8-5h0m.1-.1h0m.1 1.3h0m.4 2.6h0m.1-2.9h0m.6 4.2h0m.3-5.7h0m1.8 5.9h0m.5-1h0m.2-2.1h0m.2 1h0m6.2-1.9h0m.4 3.1h0m.2-.2h0m4.4-1.8h0m.2-3.1h0m.9 .3h0m1.2 4.2h0m0-4.2h0m2.6 5.6h0m.3-.6h0m.8-5.2h0m.3 1.3h0m.8 .8h0m2.3-1.3h0m.6 .2h0m.9 2.4h0m.7 1.1h0m.1-1.1h0m.2-.1h0m.8 .4h0m.2 2h0m.5-3.8h0m.2 .7h0m.4-2.2h0m1 .9h0m0 3.8h0m4.4-2.9h0m.6 2.6h0m1.4-.4h0m0-.8h0m.2-2h0m1.5-.6h0m.2 .3h0m2.4-.2h0m.2 2.6h0m.8-3.7h0m.7 .5h0m.7 1.1h0m1.1 3.6h0m.7-.5h0m.5-.4h0m.1-1.4h0m.3 2.5h0m.1 .1h0m.4-.7h0m1.9 .4h0m1.7-3.5h0m1.3 1.4h0m2.2 .2h0m1.1-.6h0m0 .3h0m.5 1.6h0m1.7-1.1h0m.3-3h0m.4 2.8h0m.9-1.8h0m.5 3.8h0m.8-3.4h0m.1 0h0m.3-1h0m.6-.8h0m2.1 4.3h0m1.3-.3h0m1.3-.5h0m1-.4h0m.1 2.1h0m.5-3h0m0 .7h0m.3 2.8h0m1.2-4h0m.1 2h0m.8 1h0m1.9 .4h0m.2-1.3h0m.6 .8h0m1 .5h0m.1 .1h0m.4-4.2h0m.8 3h0m.3 .9h0m.5-4.7h0m1.8 1.3h0m.6 4.2h0m.8-3.1h0m.2 1.8h0m.5-.1h0m.1 1.4h0m.2-.7h0m.1-.9h0m2.4-3.3h0m1.1 4.9h0m.4-1.5h0m.4 .9h0m1.7 .5h0m0-3.4h0m1 .7h0m.3 1.3h0m1.6 0h0m5.1-.9h0m3.5 .2h0m.2-1.8h0m-167.7 5.2h0m1.9 4.5h0m.8-2h0m.7 1.6h0m.6-3.3h0m.3 3.2h0m.2-4.1h0m.4 3.8h0m1.5-2.4h0m.4 2.4h0m.8-3.8h0m.5 .3h0m1 .7h0m.2 3.8h0m1-5.3h0m.4 3h0m.6-3h0m.2 .9h0m.6 .5h0m1.4 2.8h0m1-.2h0m.4-.4h0m.4-3.2h0m.8 1.3h0m.2 2.9h0m1.2-2.7h0m.1-.6h0m1.1-1.2h0m3.9-.4h0m.1 1.3h0m3.5 4.3h0m1.7-2.9h0m1.5-.9h0m.1 2.2h0m.2-3.6h0m.6 3.5h0m1 1.5h0m.2-2.3h0m3.5 1.8h0m.1-3.6h0m.5 .5h0m1 .3h0m1.5 3.3h0m.1-.6h0m.8-3.8h0m.1 3.2h0m.3 1h0m2-1.1h0m.1 .6h0m.2-1.9h0m1.2 .2h0m1.1-1.3h0m.2 3.1h0m.2-.4h0m0-.5h0m.5-3.5h0m.4 2.9h0m.5-2.2h0m0 .5h0m.3-1.7h0m.4 1.6h0m.3-.5h0m.3 3.7h0m.8-2.9h0m.2-.7h0m.2 2.7h0m.7-.4h0m3.2-1.2h0m.7 1.1h0m.3-2.5h0m1.2 3.5h0m3.3-4.1h0m2.9 3.2h0m.4 2h0m1.3-2.5h0m1.7-.6h0m.6-1.5h0m1.6 2.6h0m1 .7h0m.4 .6h0m.6-1.4h0m.9-2.6h0m0 4.3h0m1.1-1.9h0m.2-.6h0m.4 2.3h0m.1-3.8h0m.9 .9h0m.2 2.9h0m.8-3.2h0m.2-.6h0m.8 .4h0m.3-.8h0m0 1.8h0m.5 2.8h0m1.1-1.6h0m.1-1.4h0m.9-1.9h0m1.4 2.6h0m.9-1.7h0m.4-1.2h0m3.5 2h0m2.1 1h0m.8-.4h0m2.7-2h0m.2-.5h0m1.8 5h0m.5-4.8h0m1.6 0h0m3.2 4.7h0m.2-2.2h0m.2 1h0m1.9-.4h0m1 .6h0m.6 .2h0m.1-.7h0m.7-1.8h0m.6-.5h0m3-.8h0m.5 2.7h0m1.4 2.4h0m.8-5h0m.3 4.3h0m1.2-2h0m.1-2.4h0m0 5.3h0m2.1-3.6h0m0 1.4h0m1.8 .5h0m.3 1.2h0m1.5-4.4h0m1.9-.4h0m.1 1.2h0m.6 2.3h0m2-3.9h0m.3 3.9h0m.3 1.3h0m.8-2.5h0m.2 2.9h0m.6-2.7h0m2.3-1.8h0m.1 4.6h0m.5-5.3h0m.3 1.5h0m.3 .3h0m.1-.3h0m0 .2h0m.4 3.1h0m.2-1.7h0m.7-3.1h0m.4 .1h0m.2-.4h0m.2 5h0m.4-3.2h0m1.5 .9h0m0 1.9h0m1.5-1.5h0m.1 1.6h0m1.7-2.4h0m.1-2.4h0m.8 1.7h0m.5 2.5h0m1.4 .7h0m1.2-5h0m1 2.7h0m.6 .4h0m.8-1.3h0m.1 4.1h0m.3-1.3h0m.2-1.2h0m1.9 .9h0m2.3-4.3h0m.5 1.3h0m.2 2.5h0m.3 .2h0m2.3-3.6h0m1 .6h0m.4 3.7h0m.1-1.6h0m.7-1.5h0m.1 4h0m1.4-4.4h0m1.4 2.5h0m3.4-3h0m1-.5h0m1 3.9h0m.2-1.4h0m.4 2.7h0m.2-1.2h0m1.9-1.4h0m1.2 2.2h0m.7-2.7h0m.8-1.2h0m1.5 3.1h0m4.3-1.6h0m.4-1.6h0m.4 2.5h0m-167.6 5.2h0m3 .4h0m.4-2.3h0m1.1 3.2h0m1-.8h0m.1 .7h0m.6 .8h0m.6 .6h0m.9-2.8h0m3-1h0m.1-.6h0m.6 3.1h0m.4-.2h0m4.3 1.3h0m.7-.9h0m.3 1h0m.8-3.7h0m1.1-1.6h0m.7 4.5h0m.6-1.3h0m.3 .6h0m1.2 1.2h0m1.6-4.5h0m1.2 4.8h0m.1-2.4h0m2.8 .8h0m.1 1.9h0m.1-4.4h0m4 3.9h0m0-2.3h0m.8-.1h0m0-1.1h0m.6 3.8h0m1.5-5h0m.2 4.2h0m1.7-1.7h0m6-1.4h0m2.2 .9h0m2.6-.1h0m.1 .9h0m.6 .2h0m.2 2.1h0m.8-5.1h0m.2 1.8h0m0 1.6h0m1.3 .4h0m0-1.5h0m.1-2.5h0m.5 5.1h0m.1-2.4h0m.3 1.8h0m.2-2.8h0m.1-.6h0m.4 2.1h0m.1-2.7h0m3.8 1.9h0m.8-2.3h0m1.7 2.7h0m2.2-2.9h0m1.9 4.4h0m0-1.7h0m0 1.7h0m.5-3.2h0m1.2 1.4h0m.6-1.3h0m1 0h0m.1-.2h0m.1 .1h0m0 3h0m1.4 1.5h0m2.2-.6h0m.3-4.1h0m1.3 .5h0m.4 4.2h0m.7-1.7h0m.6-2.8h0m2 4h0m1.2-4h0m1 3.1h0m.1 .6h0m.8-.1h0m.9-3.6h0m1.2-.8h0m.8 3.3h0m2.2 .7h0m.4-2h0m1.4-1.5h0m.6-.9h0m.8 3.1h0m.1-1.8h0m2.5 1.1h0m1.8-2.5h0m.6 2.3h0m2.2 3.7h0m1.2-2.7h0m1-1.6h0m.2-.8h0m.6 1.2h0m.5 2.6h0m2.9-1h0m.5 1h0m.5-1.7h0m.7 2.4h0m.4-3.1h0m.7 1.1h0m3.1-3.3h0m.2 4.3h0m.2-3.8h0m.1 4.9h0m1.5-3.9h0m1-.9h0m.3 1.2h0m.7 1.4h0m.6 1.4h0m1.5-3.1h0m3.1-1.1h0m.4 .8h0m2.1 .5h0m.9 3.6h0m.1-3.8h0m.3-1.3h0m2.1 3.3h0m1.5 1.5h0m.4-.2h0m1.8-4.6h0m1.8-.1h0m0 3.9h0m1.1-3.6h0m1.1 1.8h0m.4-1.7h0m1.2 4.2h0m.5-1h0m.5-1.4h0m.5 .1h0m.3 3h0m.2-3h0m.3 1.1h0m.3-2.1h0m.3-1.1h0m1.5 .1h0m.5 2h0m1.3-1.6h0m.5 2.9h0m.2-.9h0m.5-.3h0m2.4 3.4h0m.1-4.7h0m2.5-.7h0m1.1-.5h0m.5 3.5h0m.4 1.6h0m.7 0h0m5-2.8h0m.2 2.2h0m1-1.7h0m.4-.9h0m.7 2.4h0m.5-.4h0m.6-2.9h0m.2 3.4h0m.6-1.9h0m.4 3.4h0m.3-2.3h0m0-2h0m1.5 1.7h0m.1-.2h0m.9-2h0m3.2 2.7h0m.1-2.8h0m.6-.4h0m1.2-.5h0m.2 1.2h0m1.3-1h0m.1 3.7h0m1.7-.6h0m-165.2 7.5h0m.5-2.2h0m.6 2.8h0m.4 .2h0m1.2-3.2h0m2.7 2.1h0m3.7-.4h0m2.5-3.3h0m.7 4.5h0m.3-4.9h0m2.1 4h0m.5-1.7h0m.3 .6h0m.4-2.3h0m3.2 4.2h0m.5 .1h0m.1-.8h0m1-3.5h0m.5 3.9h0m.2-1h0m1.5-3.2h0m1.2 .6h0m.4 .3h0m0 .3h0m.2-1.3h0m.3 1.9h0m.5-.1h0m3 2.3h0m.3 .8h0m.3-4.5h0m.9 4.5h0m.6-3.5h0m.6 .3h0m.4-.3h0m1.1-.7h0m.7 3.5h0m1.6-4.2h0m1 1h0m2.2-1.2h0m1-.2h0m1.4 .4h0m.4 3.2h0m.6 .9h0m.1 .8h0m1.7-3.4h0m1.2 .4h0m.4-1.4h0m.2 1.7h0m.7 1.7h0m.5-4.5h0m.3 2.9h0m.5 1.1h0m3.5 1.4h0m0-5.4h0m1.2 2.4h0m.8 2h0m.4 1h0m.8-2.1h0m2.9 1.1h0m.7-4.1h0m1.9 3.4h0m.6-3.1h0m.5 .8h0m.1 2h0m.2-2.2h0m.4-.3h0m.8 3.2h0m1-.4h0m.7 1.5h0m.9 0h0m.1-4.7h0m2.1 1h0m.9-.8h0m0-.3h0m.5-.1h0m1.4 .8h0m.4 1.8h0m.1 2.7h0m.1-5.5h0m.6 .5h0m.6 2h0m.6 1h0m.5 1.5h0m.5-3.7h0m.8 1.8h0m.6 1.6h0m.3-2.1h0m1.3 .4h0m.1 2.7h0m4.1-5.4h0m.2 3.6h0m0 1.3h0m.8-4.4h0m.7 3.1h0m.4-1.5h0m2-.4h0m1.2 2.5h0m.7-3.2h0m2.8 2.3h0m1.5-1.4h0m2.1 1.3h0m1.2-1.3h0m1.6-1.7h0m.8-.3h0m.4 5.3h0m.3-3h0m.3-.5h0m1 1.6h0m4.1-3.3h0m.5 3.8h0m2.5 .2h0m2.1-4.1h0m.8 5.4h0m0-.3h0m.5-1.8h0m2.1-.6h0m0 1.4h0m3.1 .1h0m.2 .3h0m.7-1h0m2.6-3h0m.2 2.1h0m1.6-1.9h0m.5 4.1h0m.5-4.6h0m.7 1h0m.4 .9h0m.4 .2h0m1.1-.2h0m.2-1.5h0m.2 2.6h0m0-.4h0m1.4-1.7h0m.7-.9h0m.5 3.4h0m1.8-1.2h0m.7 3.1h0m.1-4.3h0m.1 1.3h0m.3-1.1h0m1.1 3.3h0m.8-1.2h0m1.3-2.5h0m.3 .7h0m.6 1.3h0m3.3-3h0m.2-.5h0m1.8 1.6h0m.3-.1h0m.7 1h0m.3-1.2h0m1.1-.6h0m1.7 4.7h0m.1-2.2h0m.2-1h0m.5-.5h0m.6-1.3h0m1.9 1.7h0m1.2 3.3h0m1.3-4.7h0m1.2 4.2h0m.1-3.1h0m2.6 2.8h0m2.5-.1h0m.3 .6h0m2-2.2h0m1.5-2.4h0m2.6 3.3h0m1.6 1.2h0m.5-1.5h0m.3 .8h0m0-.4h0m.1-2.2h0m.6-1.5h0m.2 3.6h0m.1-1.7h0m2.1-.2h0m-168.4 9h0m.5 .5h0m0-3h0m.4 .4h0m.7-.2h0m.1-.1h0m.4 .1h0m3.1 1.5h0m1.7-.6h0m.1-.7h0m.3-.9h0m1.6 3.6h0m.6-.6h0m2.6-4.5h0m.6 4h0m.3-2.5h0m.7 2.8h0m1.7-3.5h0m.5 2.7h0m1.8-3.1h0m.9 1.3h0m.5 3.7h0m.6-.7h0m.7 .7h0m1.1-3.6h0m1.9-1.5h0m.9 5h0m1.3-5.2h0m1.1 4.9h0m.1-1.2h0m1.2 1.5h0m0-3.5h0m.2-1.9h0m.3 0h0m.3 3.5h0m1-2.8h0m.3 4h0m4.2-1.2h0m2.9 1.5h0m1.4-2.9h0m.5-1.5h0m.3 2.5h0m.6 .4h0m1.5 1h0m1.9-3.6h0m1.5-1h0m1.5 1.5h0m.4 4.1h0m1 0h0m1.8-4.6h0m1.4 3.8h0m.6 .8h0m.5-2.6h0m.4 1.4h0m.6 .7h0m1.2-2h0m3-2.3h0m1.5 4.8h0m1.6-.8h0m.1-3.6h0m.3 1.7h0m.5-1.5h0m.8 4h0m.6-2.1h0m.5 2.2h0m1.8-3.2h0m.3 3.1h0m.9-1.2h0m.3 .4h0m0-4.6h0m1.1 3.8h0m1.9 .6h0m2.9-.2h0m1.3-3.3h0m.4 1.4h0m.1-1.6h0m.6 1.8h0m.7 1.2h0m1.7 1.4h0m.8-3.6h0m1.8 3.1h0m1.3-4.1h0m0 1.2h0m.1 .3h0m1.2-1.4h0m1.8 .1h0m.2 .8h0m.1 2.4h0m.3-.4h0m.1-2.7h0m.9 2.8h0m.6-.2h0m.2-.4h0m2.2-3h0m.5 2.3h0m.3 1.3h0m.2-1.5h0m.7-1.6h0m.2 4.2h0m1-4.6h0m.1 5.7h0m.3-1h0m.8-3.6h0m1.1 1.8h0m3-.8h0m.3-.7h0m.9 3.4h0m.2-3.2h0m.9 3.8h0m.9-2.9h0m.4 3.1h0m1.7-.9h0m.8-4.4h0m.1-.2h0m.6 .2h0m.3 1.9h0m2.9 2.6h0m0-.1h0m.5-3.6h0m.3 2h0m2.1-2.6h0m.7 2.6h0m.6 1.5h0m.5 1.1h0m.1-5.1h0m1.4 1.9h0m3 .1h0m.2-2.6h0m.4 .2h0m.1 .8h0m1.5 1.8h0m.8-.1h0m.3-1h0m.9-1.2h0m.4 3.6h0m.5-3.5h0m.7 2.5h0m.4-3.4h0m.5 2.5h0m3.2 2.5h0m.2-.3h0m.9-1.9h0m0-.5h0m.9 .3h0m2.2 2.5h0m.7 .1h0m0 .6h0m.1-5.5h0m1.2 2.4h0m0-.2h0m.6-1.4h0m1 .4h0m1.5-.2h0m.1 .2h0m1.4 1.3h0m.4-1.4h0m1.1 3.1h0m2.6 1h0m.2 .4h0m.3-.4h0m1-2h0m.9 1.4h0m.4-3h0m1 .2h0m1 2.7h0m.1-3.7h0m.9 .6h0m1.1-.1h0m1.8 .1h0m.1 2.4h0m.6 1.2h0m0-1.2h0m1.4-3.7h0m2.3 .5h0m0 .9h0m.2 3.6h0m2.5-.5h0m.7-1.7h0m.4 2.4h0m.2-5.5h0m.2 2.2h0m1.5-2h0m.9 2.9h0m.7 1.4h0m.3-1.3h0m.7-.1h0m1 1.1h0m.5-2.6h0m.3 3.4h0m.8-4.5h0m.3 1.6h0m2.6 2.9h0m-168.1 2.6h0m.7 2h0m.4 2.2h0m.3-5h0m.2 4.7h0m.5-1.4h0m2.7 1.8h0m.1-1.9h0m.2-2.8h0m0-1h0m.1 3.1h0m.5-.3h0m0-1.1h0m.3-1.6h0m.8 2.6h0m2-.5h0m.2 3.1h0m.7-4.4h0m.7 1.7h0m.6-.1h0m.6-.1h0m0-1.8h0m.3-.6h0m.9 .7h0m2 1.1h0m.7 2.3h0m.1 .1h0m2.5-2.8h0m.6 2.2h0m.3-1.3h0m1 2.4h0m1.7-1.8h0m.2-1h0m.6-1.5h0m2.6 3.3h0m.1-1.7h0m.8-.7h0m1.6 1h0m0 .5h0m.6 1.8h0m.8-1h0m.1 1h0m1.2-1h0m.6-3.5h0m0 1.7h0m.9 3.7h0m1-3.1h0m2-.2h0m.2 3h0m1.3-1.9h0m.1-.1h0m.4-1.3h0m1.2 1.1h0m0-3.3h0m.9 5h0m.7-.3h0m.1-2.9h0m1.3-1.8h0m.5 .5h0m1-.5h0m.3 3.4h0m.8-2.1h0m.1 .4h0m.4 3.4h0m1.9-2.8h0m1-2.2h0m.1 3.4h0m.1-.6h0m.3 2.5h0m1-3.7h0m.5 4.3h0m.8-3.3h0m1 3h0m.2-5.1h0m.5 4.8h0m1.1-3.2h0m.2 .9h0m.1 1.2h0m.9-3.5h0m.8 3.2h0m.3-3.3h0m.5 3.9h0m.9-4.4h0m.7 4h0m.2-2.1h0m.7 .1h0m.8-2h0m.6 1.4h0m1.4 3.6h0m.7-3.4h0m1.9 3.1h0m.3 .9h0m1.9-2.7h0m2 1.4h0m1.1-3.5h0m1.8 3.6h0m.6-.8h0m.4-.1h0m3.3-.3h0m.5 1.3h0m1.8-4.3h0m.9 2.6h0m2.7 .1h0m1-.6h0m.7-2.2h0m.3 3.6h0m.9-2.5h0m.3 2.1h0m.2-1.9h0m.9 3.6h0m.3-2.4h0m0 .4h0m1.1 .8h0m.1-.1h0m.9-.1h0m.7 .3h0m.4-1h0m.8-1.4h0m.4-1h0m1.1 5.2h0m.2-2.3h0m.1-2.7h0m1.5 2.8h0m1.9 2.2h0m.4-1.9h0m.2-1.1h0m.1-2.5h0m1.1 1.1h0m1-1.4h0m.2 4.1h0m.2-2.4h0m0 3.5h0m.7-.6h0m.5 .1h0m4.2 1.1h0m.7-3.5h0m.5 3.2h0m1.2 .2h0m2.4-3.7h0m.2 2.1h0m.2-4.1h0m0 .3h0m1.3 1.4h0m1 2.9h0m1.5-3.3h0m.2 1.8h0m1.7-.4h0m1.3 1.2h0m1.6-.5h0m0 2.2h0m.1-4.4h0m.5 2.6h0m2.7-.2h0m.4-1.7h0m.4 1.6h0m2.9-2.9h0m1.2 2.7h0m1.3-.2h0m.2 1.6h0m.3-.4h0m3.4-1.6h0m.5-1.7h0m2-.4h0m.5 1.4h0m.1 3.2h0m.6-1h0m.3 .6h0m.3-.6h0m.7-.7h0m1.2 1.1h0m.6-.7h0m.8-1.4h0m1-1.4h0m.2 2.4h0m.1 .8h0m.6-2.3h0m2.6 .9h0m1.2-1.6h0m.7 .2h0m.2 .8h0m.7 .8h0m.6 2.8h0m.9-3.8h0m.5 .4h0m1.1 3.3h0m.8-.9h0m.8-2.9h0m1.4 1.4h0m.3 1.1h0m1.2 .6h0m.2-1.8h0m.4-2.6h0m.5 5.1h0m5.4-1.3h0m.2-.1h0m1.2-3.6h0m1.1-.8h0m3.3 .4h0m2.1 3.9h0m1.4 .6h0m.2-2.9h0m-166.4 8.6h0m.8-3.2h0m3.2 1h0m2.4-.4h0m.3-.8h0m.9-.1h0m.1 4.8h0m.2-.3h0m1.7-3.8h0m1-1.4h0m.3 1h0m.5 4.2h0m.4-4.2h0m2.2 3.4h0m2.9-1.1h0m0-2.5h0m.2 3.9h0m.2-2.6h0m.6-1.4h0m1.4 2h0m1.2-1.4h0m.5-.7h0m.4 2.2h0m1.2-1.2h0m1 3.4h0m0-4.3h0m.1 2.1h0m1.4-.1h0m.8 1.2h0m.1-.4h0m.1 .1h0m.6-3h0m.6 1.8h0m.2-1.2h0m.2 1.5h0m.1-2.2h0m.5 2.9h0m.9 .6h0m.4 1.4h0m.6-1.6h0m2.2 1.4h0m.1-5h0m.2 .9h0m1.4 1.5h0m3-2.5h0m.1 0h0m0 2.3h0m.6 1.4h0m.3-2.4h0m.7 3.2h0m.2-1.4h0m.3 1.4h0m.3 .8h0m1.2-1.3h0m.2-2.9h0m2 3.6h0m1.4-2.2h0m.4 1.4h0m2.7-4.2h0m.3 3.1h0m4.3-2.9h0m.1 3.9h0m1.8-.7h0m2.1 1.4h0m.4-1.3h0m.4-1.8h0m1.3 3.8h0m.3-.9h0m.4-1.3h0m.3-2.9h0m.1 .3h0m2.3 2.8h0m.6-1.1h0m0 1.5h0m.9-.7h0m.9-1.8h0m.2-1.1h0m2.2 3.3h0m.3-3.7h0m2.2 5.7h0m.2-3.6h0m.7-.8h0m.2 3.7h0m.4-.2h0m.9-2.2h0m.3 1.5h0m2.7 .7h0m.5-3.5h0m2.7 .1h0m.3 4.3h0m.6-2.2h0m2.8-2.4h0m1 4.2h0m1-3.7h0m1.2 2.7h0m1.3-4.3h0m1.3 1.1h0m.1 2.8h0m.4 1.1h0m.6-4.2h0m1.3-.7h0m.4 .3h0m.1 .2h0m.8 .1h0m.6 2.9h0m1.3-.1h0m1.4 .3h0m.1-1.7h0m.5 .2h0m1.1 2.6h0m.4-.8h0m1.2-.9h0m.8 0h0m.9-.9h0m.2 .8h0m.1 1.6h0m.6-4.1h0m.7 3.5h0m0 .2h0m.3-.7h0m1 .9h0m.4-2.6h0m.4 1.8h0m1.3-3.1h0m.8-.6h0m1.1 2.4h0m2.5-.6h0m1.3 .8h0m1-1.8h0m.5 2.1h0m.6-.5h0m1-1.2h0m1.7 0h0m1.6-.5h0m1.2 1.2h0m1 2.3h0m1-3h0m3.1 3h0m1.2-3.3h0m.4 3.8h0m.7-.2h0m.7-4.5h0m2.8 5.3h0m.3-3.1h0m.5-1.8h0m.2 .6h0m.2-.1h0m2.7 3.4h0m.3-3h0m1.5-.9h0m1.6 4.7h0m1.5-2.2h0m1.1 .4h0m1.9-2.3h0m.3 1.8h0m.3 2.3h0m1.6 .4h0m1.9-2.9h0m.2-2.4h0m.2 2.8h0m1.6-1.2h0m.2 .7h0m.9 2.3h0m1.4 .4h0m.3-4.3h0m1.1 4.2h0m1.2-3.2h0m4.2 3h0m.6-1.3h0m.7 .4h0m.3-1.7h0m1.5 1.5h0m2.8 .4h0m.8-3.1h0m0 3.4h0m.6-.2h0m1.2 1.4h0m1.1-2.6h0m1.1-2h0m.1 4h0m.2-1.9h0m-169.3 8.4h0m2.9-4.9h0m.7-.1h0m.5 3.4h0m4.3-1.8h0m1.9 1.2h0m.2-3h0m2 4.3h0m2.1-3h0m1.3 3.1h0m.2-.1h0m.3-4.2h0m1.8 5.1h0m.6-4.2h0m.5-1.4h0m2.8 2h0m.6 3h0m.1-1h0m.8-1.1h0m.5-3h0m.6 1.8h0m.6 3.6h0m3 .3h0m1.2-3.5h0m1.5 3.2h0m1.5-1.6h0m0-1.7h0m.2 3.4h0m.2-2.9h0m2-2.1h0m.6 .3h0m.6 4.2h0m.4-1.3h0m.4-2.7h0m1.5 .1h0m.4 3.4h0m.1-2.2h0m.2 2.8h0m.7-3.6h0m0 4.2h0m.3-4.9h0m.3 1.9h0m.3-2.2h0m1.9 4.1h0m.5 1.3h0m.2-2.2h0m.5 2.1h0m.9-3.8h0m1 3.7h0m.5-.2h0m1.3-5.1h0m.2 2.3h0m2.7-1.2h0m2.5 1.1h0m.9-1.1h0m.2 3.8h0m.4-1.5h0m2.8-2.5h0m.2 3.9h0m2.1-1.6h0m2.8 1.8h0m2.4-3.9h0m.6 4.1h0m1.4-1.8h0m.8-1.1h0m.1 2.1h0m.8-1.8h0m.3 .9h0m.1-2.1h0m.2 3.8h0m.3 .3h0m.4-.2h0m2.4-5.4h0m1.9 .3h0m.1-.2h0m.3 .1h0m1.3 .4h0m.4 .2h0m1.5 .3h0m.3 4h0m2.5-1.5h0m.1-2.4h0m.1 1h0m2.6-.2h0m.9-2.2h0m.9 4.3h0m.9-2.7h0m.6 2.5h0m1.4-3.1h0m.1 4.7h0m1.3-5.2h0m.9 1.2h0m.5 3.4h0m2.6 0h0m.1-2.6h0m0 1.2h0m.1-1.6h0m.2-1.8h0m.7-.5h0m2.4 5h0m1.6-4.1h0m.7 1.3h0m.5 1.3h0m.5-3.3h0m1 3.3h0m.2-2.7h0m2.4 .7h0m.2 2.4h0m.9 .6h0m1.3 .8h0m0-1.1h0m.9-3.5h0m1.9 .8h0m2.4 1.8h0m1.2 .6h0m.3 1.4h0m.3-2.9h0m.4 2.6h0m1.3 .1h0m1.5-.4h0m.6-4.6h0m.2 .5h0m.2-.5h0m.4 2.9h0m.4 1.8h0m0 0h0m1.3-1.9h0m.9-2.8h0m.5 3.3h0m1.8 .4h0m.2-3.2h0m0 1.7h0m.4 .6h0m1.5 2.1h0m.7-.5h0m3.2-4.3h0m.7 4.3h0m.5-2.8h0m2.1 4.1h0m1.3-5.4h0m.2 2.9h0m.2-2.2h0m.4 1.8h0m1.3-.7h0m1.8 3.1h0m.8-3.8h0m1.2 0h0m1.2-.1h0m.5 4.2h0m1.7-5.4h0m.8 1.4h0m.9 4.1h0m.4-2.6h0m.2-2.4h0m2.4 0h0m0 5.2h0m.3-2.5h0m2.4-1.7h0m1.2 2.4h0m1.3-3.1h0m1 3h0m1.6 .7h0m.6-4h0m1.1 3.7h0m.3-1.5h0m.1 1.4h0m.3 1.3h0m.9-1.2h0m.2-3.6h0m.7 1h0m.3 1.4h0m.9 1h0m1.1 .3h0m.7 .2h0m.1-.4h0m2-.4h0m0-2.2h0m.4 1.5h0m.1 1h0m1.2-1.2h0m.2 .5h0m1.2 .4h0m1.1-.7h0m.4-2.2h0m-168.7 5.5h0m.4 3.3h0m.5 .5h0m.4-2.8h0m.9 3.1h0m.2-1.5h0m.8 .3h0m.7-2.3h0m.9-.8h0m.6 3.8h0m.1-3.1h0m1.5-1h0m.9 1.8h0m.2 .1h0m1.9 3.5h0m4.5-2.7h0m.2 .2h0m.6 .3h0m.9-3h0m3.3 3.4h0m0-1h0m3.5 3h0m.3-5.4h0m.6 3.8h0m.6-2.6h0m.3-.7h0m.6-.3h0m.4 1.3h0m.2 .5h0m2 2.4h0m.8-2h0m1 2.6h0m.5-.8h0m.2 .7h0m3.6-2.4h0m1.1-1.1h0m1.2 1.9h0m.6-3.5h0m.7 2.6h0m1.8 3.3h0m.3-5.4h0m1.7 1.6h0m1.4 .3h0m0 2.5h0m.4 .1h0m.3-2.6h0m1.6 3.6h0m.6-4.1h0m1.9-1.5h0m.1 2.7h0m.9-2.5h0m1 2.7h0m.5 2.2h0m1 0h0m.9-.5h0m1-2.2h0m.3-1.5h0m.8-.3h0m.6-.6h0m2.2-.3h0m1.2 2.7h0m.2 2.6h0m1.7-2.3h0m.2 .6h0m.1-2.3h0m1.3 .5h0m.3-1.4h0m.3 .2h0m.9 3.4h0m1-2.6h0m2.3 0h0m0-.9h0m.5 3.8h0m.3 .4h0m.2-4.5h0m0-.2h0m3.1 .5h0m3.1 1.5h0m.2 1.2h0m.6 2h0m1.2-2.5h0m1.4 0h0m.2-2h0m.4 2.9h0m.2-2.2h0m2.1 3.5h0m.8 0h0m2.7-.2h0m1.9-4.7h0m.5 5.7h0m8.4-5.4h0m.3 1.5h0m.5 1.3h0m1-.1h0m.1 1.9h0m1.2-2.4h0m.4-.1h0m.1 1.8h0m.4 .9h0m.2-5.2h0m.4 1.7h0m1.3 .4h0m1.4 1.5h0m.5-1.7h0m1 .1h0m.1-.5h0m.2 2.2h0m.9 .5h0m2.2 0h0m.2-.8h0m.4-2.1h0m.4-.8h0m1.1 4.6h0m.7-1.2h0m2.7-1.4h0m1.3-.1h0m2-1.1h0m.4 3.2h0m3.1 .5h0m1.3-2.7h0m4.3 .2h0m2.2-.1h0m.3-1.9h0m.5 3.6h0m1.2 0h0m0-1.2h0m.9 1.6h0m2-3.3h0m2.3-.5h0m1.5 3h0m0 .6h0m0-2.2h0m.9 1.6h0m2 .1h0m.7 0h0m.2-3.8h0m.5 4.8h0m.1-2.8h0m3 2.4h0m.1-3.4h0m.2 .6h0m.5 2.3h0m2.2 1h0m.5-1h0m0-3.7h0m2.6 .4h0m.2 .4h0m.4 1.7h0m2 2h0m.3 .8h0m1.7-.1h0m.5-2.1h0m3.3 2.2h0m1.8-2.2h0m3.4 1.1h0m.3-2.1h0m1.4 2.6h0m.4-4.1h0m1.1 3h0m-165.8 7.2h0m.6-1.1h0m.6-2.2h0m.4 .1h0m.4-.6h0m1.5-.6h0m.8 5h0m.5-3.5h0m0-1.2h0m.3 1.8h0m.2-1.3h0m.7-.9h0m.2 3.9h0m.9-2.1h0m.8 1h0m1.7 .8h0m.1-2.6h0m1.6 3.8h0m.6-1.9h0m1.4-.8h0m.6-2.3h0m.2 5.7h0m2.7-3.2h0m.1 0h0m1.1 .7h0m.6-3.5h0m.8 4.7h0m1.1-2.5h0m0 1.3h0m.3-2.8h0m.2 1.6h0m.9 1.6h0m.1 .9h0m.7-2.4h0m0 2.3h0m.5-1.7h0m3.2-2.9h0m.4 1.8h0m.6-1.8h0m1.7 2.3h0m1.9-2.1h0m1.5 3h0m1-1.8h0m1.5 3.7h0m.1-.3h0m.8 .2h0m.6-1.5h0m.6-2.3h0m1.8 3h0m1 1.2h0m1-1.4h0m.2 .7h0m.3-2h0m1.9-1.5h0m.7 3h0m.6-2.4h0m.1-.3h0m1-.9h0m1 4.4h0m.8-1.9h0m2.1-1h0m1.3-.9h0m.4 1.8h0m.4-2.3h0m.1 4.7h0m.3-4.1h0m.5 3.7h0m.5-3.1h0m1.4 2.6h0m2.5-1.9h0m1-1.7h0m.2 .7h0m2.6-1.3h0m.6 4.1h0m1.8-3h0m.1-1.2h0m.8 5.4h0m2.7-4.1h0m2.3 2.2h0m0-2.3h0m.2 4.2h0m2.2-1.3h0m1.8-.6h0m.6 0h0m1.3-1.3h0m1.5 1.7h0m1-2h0m.1 1.7h0m3-3.5h0m2.2 .8h0m.1 1.6h0m.1-.6h0m1.6 2.5h0m5.6-4.3h0m1.8-.2h0m.4 .2h0m1.7 1.3h0m0 2.1h0m.6 1.2h0m1.1-1.6h0m.1 2.3h0m.6-3.4h0m.1 3.4h0m.8-5.5h0m.1 1.7h0m.2 2.9h0m.8 .2h0m3-4h0m.1 .2h0m.2 .6h0m.8-1.8h0m2.2 5.2h0m.7-3.5h0m2.4 0h0m.1 3.3h0m2-2.5h0m1.6 1.1h0m1.1 .5h0m2.1 .4h0m2.3-3.3h0m.2 .3h0m1.5-.3h0m.1 3.7h0m5.3-.6h0m2.2 .8h0m.1-4.3h0m1 3.5h0m.4-3.4h0m.3 3.2h0m.5-2.4h0m1.2 .1h0m2.2 2.3h0m.3-.6h0m0-2.7h0m1.5 .3h0m.7-.7h0m.4 5h0m0 .3h0m.5-3.9h0m1.6 .6h0m0-1.1h0m.2-.9h0m.9 1.1h0m1.6 3.2h0m2.5-2.1h0m.8 .4h0m.1 .9h0m.3-.9h0m2.1-1.3h0m.7 3.2h0m.1-.1h0m.5-1.8h0m.8-1.5h0m.5 3.7h0m.3-4.1h0m.6 1.4h0m2-1h0m.1 2.1h0m2.9-2.6h0m2 2h0m4.2 .7h0m1.3-1.3h0m1.6-1.3h0m.1 2.4h0m.2-2.4h0m1.4 3.7h0m2.1 .4h0m.7-2.8h0m.3 2.7h0m.2-2.7h0m.4-2.4h0m-166.9 10.6h0m.2-3.5h0m.8 .2h0m0 4.5h0m.2-5.5h0m2 5.2h0m.6-1.3h0m.8-2.9h0m.2 3.1h0m.9 .1h0m0 0h0m.3 1.1h0m.3-1.7h0m.3-2.1h0m.5 .8h0m.4 2.6h0m1.1-.3h0m1-3.2h0m1.8 .9h0m.4 .6h0m.1 1.9h0m2.5-3.1h0m.8 1.7h0m1-3.3h0m.8 4.8h0m.4-.3h0m.3-1.2h0m1-1.9h0m1.1 2.2h0m0-3h0m0 2.5h0m.8 1.6h0m0 .3h0m.9-2.8h0m1.6 2.7h0m2.4 .1h0m.7 .3h0m.3-2h0m1.2-1h0m.3 1.2h0m1.1-3.1h0m1.6-.5h0m.2 4.4h0m2.2-2.3h0m.5-.6h0m1.2 2.1h0m.1-.1h0m.1 .9h0m0-4.3h0m3 5.3h0m.4-3.2h0m.5 .2h0m.1 .3h0m3.2 0h0m.4-1.7h0m.1 1.5h0m1.8-.8h0m.2 3.9h0m4.9-5.6h0m.7 4.3h0m.8-3.1h0m.3 1.4h0m.9 1.5h0m3.1 .2h0m.3-3h0m.3 1.6h0m1.3-3.1h0m1.1 4.5h0m2-4h0m.4 1h0m.9-.5h0m.1 1.5h0m.5 .1h0m.6 2.1h0m2-3.2h0m.3 1.9h0m.9 1.1h0m.6-4h0m.1 3h0m1.2-2.2h0m.4-1.1h0m1.6 .4h0m.4 2.1h0m.2 2.2h0m.2-4.9h0m6.9 5.7h0m.3-2.9h0m1.2 2.3h0m.4-.5h0m1.5-.5h0m.7 1.2h0m.2-1.7h0m1.6 1.5h0m.2-2.4h0m.9 .9h0m1.8-2.7h0m.4 2.2h0m.2 1h0m.4-2.2h0m.2-.5h0m.2 3h0m2.8 .4h0m1.2-1.5h0m.5 1.9h0m1.5-.6h0m1.6-3.4h0m.9 .3h0m.4-.6h0m.6 .7h0m.6 2.9h0m1-1.1h0m.6 1.5h0m.5-4h0m1.4 2.8h0m.5-2h0m.2-.6h0m1.5 4.3h0m.1-.5h0m1.2-4.1h0m.5 5h0m2.3-4.4h0m2.8-.3h0m.1-.5h0m1.3 .1h0m1.6 4.9h0m1.2-5.6h0m3.7 5.7h0m.4 .1h0m1.5-5.4h0m1.4 3.1h0m.2 .7h0m.2-1.3h0m1.3-2.1h0m.9 1.9h0m.1-2.7h0m2.2 2.7h0m1.5 1.1h0m.1 2.1h0m.8-.9h0m.1-3.1h0m.4 1.1h0m.3-1.7h0m.4 1.7h0m1 2.7h0m1.2-3.4h0m.9-.5h0m1.7 .7h0m.4 .8h0m0-1.7h0m1.5 1.5h0m1.1 2.5h0m1.5-3.3h0m2.3 3.5h0m.8-4.6h0m.3 4.4h0m.2-2.4h0m1.7-2h0m1.4 1.5h0m.2-2.5h0m.2 1.1h0m.9 4h0m0 .5h0m.8-3.1h0m.8 2.3h0m.1-.7h0m1.7-1.6h0m.1 1.1h0m.7-.3h0m.1-1.1h0m.6-.2h0m1.1-1h0m1.3 .5h0m1.9 1.8h0m.5-1.4h0m.6 2.8h0m0-2.6h0m.5 3.3h0m.4-3.7h0m1.7-.6h0m.3 .9h0m.2-.7h0m.1 2.5h0m1.7 1.5h0m.7-2.9h0m.2-.7h0m0-1.5h0m.1 4.7h0m2.6-4.2h0m.3 1.8h0m.3-1.8h0m0 1.2h0m-167 4.8h0m3.6 .3h0m.9-.8h0m1.3 2.1h0m2.9-2.2h0m1.3-.3h0m1.2 1.4h0m.4-.2h0m.5-.5h0m2.4-.3h0m5.8 1.6h0m0-1.9h0m2.3 .3h0m.6 2.1h0m1.8-2.2h0m3.7 1.6h0m0 0h0m1.5-.7h0m.1 .8h0m.6-1h0m4.5 1.4h0m.3-2.4h0m3.8 1.4h0m8.6-.1h0m5 .3h0m5.2-1.4h0m1.3 1.6h0m1.9-1.2h0m1.3 1.6h0m7.4-.7h0m.7 1h0m.4-2.5h0m.2 .7h0m2.3 1.9h0m.7-1.9h0m2.6-.8h0m2.5 .3h0m3 .2h0m1.2 .8h0m2.9 1.3h0m.5-1.2h0m1.9 .5h0m.1-1.4h0m.5 1.1h0m.4 .6h0m.8 .5h0m.2-.4h0m.4-1.7h0m.7 1.8h0m1.2 .3h0m5-2.5h0m.3 1.5h0m1.3-1h0m8.1-.5h0m3.7 .2h0m.1 .2h0m1.4 .2h0m6.5-.7h0m.5 2h0m.4-1.5h0m0 0h0m.3 1.1h0m1.1-.7h0m2.4 0h0m1.6-.8h0m2.5 .9h0m.6-.1h0m.9 .9h0m1.6-.4h0m1.4-.2h0m1.8 .8h0m4.2-.1h0m.8 .7h0m8.9 0h0m.7-.8h0m.1-1.2h0m6.7-.6h0m6.6 2.4h0m.5-1.5h0m.1 .2h0m.7 1.5h0" stroke="#f7f7e4" stroke-width="1.5" stroke-linecap="round"/><path d="M237.4 416.5h0m13.3-.5h0m27.3 .7h0m41.8-.1h0m19.9-.5h0m14.9-.3h0m16 0h0m5.4 .5h0m-154 1.6h0m.7 2.8h0m3.8 .2h0m1.9-.1h0m3.5-2.6h0m1.3 4.2h0m3.2 0h0m5.8 .1h0m10.5-3.1h0m.9 2.4h0m5.3-.2h0m2.4 .6h0m3.9-1.3h0m1.1-.4h0m1.1-2h0m1.9 2.4h0m4.3 .2h0m1.3 1.1h0m3.8-2.4h0m1.5 .8h0m1.1-1.6h0m2.3 2.7h0m1.4-3.6h0m6.4 2.3h0m5.7-2.1h0m11.5 2.7h0m1.2 1.7h0m10.3-1.7h0m2.4-3.3h0m15.2-.6h0m10.7 2.3h0m3.8 3.3h0m.1-2h0m1.2-3.5h0m.3 2.2h0m1.7-1.4h0m3.3 3.9h0m1.1-4.3h0m1 1.9h0m.2-1.4h0m2.4 2h0m3.3 2.1h0m2.1-2.8h0m5.1 2.2h0m1.4-1.9h0m2.7-2.6h0m-164.1 11.9h0m.8-4.3h0m9.5-1.3h0m7.5 .2h0m2.4 3.7h0m6.4-3.2h0m3.9 1.9h0m10.8-2h0m3.5 2.5h0m17.2 1.8h0m.4-5h0m2.8 4.4h0m.4-3.7h0m3.7 3.7h0m2.3 1.1h0m9.7-4.7h0m1 1.5h0m2.3 .2h0m1.2 .1h0m13.3-2.2h0m4.2 2h0m4.9 2.1h0m1.4-2.1h0m6-1.4h0m.5 4.7h0m1.2-3.8h0m1.1 3h0m1.1-2.7h0m7.1 .4h0m5.2 2.4h0m6.5-.7h0m8.2-4.3h0m13.9 2.7h0m4.1-1.2h0m.2-1h0m2.1 3.7h0m-161.5 6.5h0m.3-1h0m4.9-3.2h0m4.9-.2h0m2.4 3.3h0m5.7-1.4h0m15.9-.6h0m4 1.8h0m4.8-1.5h0m.5 1.9h0m18.7 1.8h0m7.2-.7h0m2.3-3.2h0m6.2 3.9h0m5-1.1h0m5.4 .2h0m4.9-3.3h0m5.8 1.3h0m1.6 1.9h0m10.3-.1h0m.2 .6h0m1.6-4.6h0m3 .3h0m10.4 4h0m1.2-1h0m6.7-3.8h0m5.1 1.6h0m4 2.8h0m1.7-3.8h0m1.9 2.8h0m1.6-3.2h0m4.5 2.1h0m3.5 1.4h0m1.7-1.7h0m.1 .9h0m.2-2.7h0m4.7 .3h0m.5 1.9h0m-159.8 5.7h0m3.6 .6h0m3.5 2.1h0m3.7-3.6h0m2.4 .5h0m2.6-.3h0m3.1 4.3h0m9.1-1.6h0m.8-3.7h0m11.5 1.8h0m1.7-.2h0m4.3-.8h0m2.3 2.8h0m.1-1.5h0m2-1.7h0m15.6 1.4h0m5.7-2h0m14.1 1.8h0m1.5 1.4h0m.6-.5h0m15.1-1.3h0m5.9 1h0m5.2-2.4h0m9.4 2.9h0m1.7-2.6h0m.2 3.9h0m3.2-4.1h0m2.3 4.1h0m6.1 .4h0m-139.8 2.3h0m0 2.7h0m2.2 .8h0m1.6-2.8h0m11.4 3.6h0m1.6-4.2h0m8 .3h0m1.2 1.7h0m4.9-.9h0m10.8-.6h0m.6-1h0m5.5 3.7h0m15.7-3.8h0m4.2 2.4h0m3.7 .7h0m6.7 1.1h0m2.9-2.8h0m4.6-2h0m5.4 1.6h0m9.6-1.9h0m1.7 1.4h0m2.1 2.6h0m8.5 1.8h0m4.5-2.4h0m2.7 1.4h0m1.4-1.6h0m1 .9h0m2-1.2h0m0 2h0m1 .2h0m6.5-1.6h0m.1-.8h0m1.1 1.9h0m.5 .5h0m.3-3.3h0m1 1h0m1.3-.4h0m.4-1.3h0m4 2.7h0m3.6 .6h0m8.1 1.1h0m.8-2.6h0m3.1 2.7h0m-161.1 .4h0m3.2 0h0m4.7 2.6h0m1.8-2.2h0m.6 4h0m2.5 1h0m21-.8h0m1.4-2.1h0m5.8 2.3h0m20.3-.5h0m25.6-3.6h0m.3 3.6h0m.2-3.4h0m.1 .7h0m6.9 .6h0m5.4-.1h0m6.9-.1h0m3.8-1h0m.6 4.1h0m11.3-1.1h0m6.4-1.2h0m12.3-.6h0m2.8 2.5h0m10.4 1h0m.6 .3h0m.3-4.4h0m2-.9h0m-154.4 7.5h0m4.7 1h0m4.4-.5h0m1.3 3.1h0m1.2-3.2h0m5.6-2.5h0m3.7 4.3h0m7.4-1.2h0m5.7 .5h0m1.7-2h0m2 3.5h0m18.3-2h0m4.4 2.1h0m4.7-2.4h0m.4 .5h0m19.1 1.3h0m13.3-.2h0m3-4.2h0m13.1 4.7h0m12.8-1.3h0m12.8-3.6h0m11 1.6h0m12.3 .9h0m-165.3 8.7h0m9.7-4.3h0m4.7 .2h0m.9 0h0m.8 4.4h0m1.5-4.4h0m2.7 4h0m13.9-2.8h0m2.1 3h0m.9-2h0m1.5-1.1h0m3.8 1.2h0m21.4-1.2h0m6.3-1.6h0m3 2.2h0m0 2.9h0m1.4-3.6h0m.3 .8h0m4.2-2.5h0m5 3.2h0m12.4 1.6h0m3.7 .4h0m21.8-3.9h0m4.3 3.1h0m2.7-4.4h0m2.7 2.3h0m10.8 1.8h0m17.7-4.1h0m.5 .6h0m-161.3 8.6h0m.3-3.4h0m1.8 2.8h0m2.3 1h0m1.4-2.3h0m7.6-.8h0m1.9 .7h0m3.5 .6h0m.5-1h0m1 1.2h0m2.1-2.3h0m2 4.4h0m2.6-2.7h0m4.8 2.4h0m19.7 .5h0m.1-.7h0m4.4 1.7h0m2.9-1.5h0m1.3-.4h0m5.9 1.5h0m7.9-5.2h0m7.6 .1h0m2.4 1.8h0m4.9-1.5h0m2.6 1.8h0m9.2 3.3h0m6.1-.2h0m5.9-.8h0m15-3.9h0m.6 .1h0m.7 0h0m8.1 3.3h0m4.2-2.9h0m2 3.6h0m5-3.1h0m3.5 1h0m3.4-1.4h0m3.2 1.8h0m3.1 1.7h0m.5-3.1h0m.9 1.5h0m2.4-.8h0m.2 3.3h0m-160.5 2.3h0m16.1 .8h0m5.7-1.3h0m.6 3.4h0m6.1-4.1h0m18.2 2.5h0m1.8-.7h0m17.2-2.4h0m1.2 4.5h0m.1-1.2h0m1-.7h0m.6 1.9h0m4.4-2.6h0m2.9-1h0m7.7-.1h0m10.1 1h0m1.2 2.4h0m2.6 .2h0m3.2-2.3h0m3.8-2.1h0m1.2 2.7h0m3.8 .7h0m.2-2.2h0m.3 2.2h0m.8 .1h0m2-.3h0m.2-.9h0m2.2 2.8h0m3.9-5.3h0m4.6 1.9h0m1.3-1.4h0m1.7 3.1h0m5.2-2.4h0m2.6 .9h0m1.8 3.1h0m2.7-3.7h0m.2 4.4h0m3.4-3.5h0m4 1.9h0m10.6-.8h0m1-.9h0m3-1.9h0m.3 2.4h0m1-1.7h0m-155.7 7.8h0m.4-2.4h0m7.8 2.5h0m2.9 2h0m1.3-1.8h0m4-1.2h0m1.5-.4h0m8.8-1.2h0m10.5 1.5h0m.2 1.4h0m8.3-3.4h0m9.5 4.8h0m19.1-2.8h0m2.6-.9h0m3.3 1.7h0m2.2 2h0m1.1 .3h0m1.3-1.9h0m2.2-1.1h0m8.2 .9h0m7 0h0m.6 .9h0m25.1 1.2h0m4.2-3.6h0m1.3-1.3h0m4.5 3.1h0m2.6-.4h0m.4-1.4h0m-137.6 8.4h0m5.2-2.9h0m6.4 2h0m5.4 1.1h0m7 .3h0m2.3-4.6h0m1.3 2.5h0m.8 .1h0m.3 1.5h0m1.3-.2h0m.3-.5h0m0 2.4h0m.8-.4h0m.4-2.7h0m2.2-1.5h0m7.7 1.1h0m.8-1h0m.6 3.4h0m5.2-3.3h0m2.1 2h0m6-3.4h0m7 5.2h0m8.7-.8h0m17.7-2h0m4.1-.6h0m3.2-.3h0m7.2 3.1h0m1.3-2h0m5.4-2.7h0m17.6 2.9h0m1.7-2.1h0m2.4 4.1h0m1.1-1.4h0m.8-1.5h0m12 2.6h0m1.3 .8h0m-161.7 1.4h0m6.5 5.1h0m.2-.4h0m12.2-4.2h0m16.1 2.9h0m3.8-.6h0m8.6-3.5h0m6.3 3.4h0m2.1-.8h0m2.2 .6h0m.9 .4h0m6.1 .4h0m.2-2.9h0m3.6 4h0m4.2-4.1h0m3.7-.8h0m2.2 2.8h0m9.4-2.7h0m1.5 2.9h0m.2 .4h0m1.9 1.3h0m.4-1.9h0m4.5-.6h0m14.2-1.7h0m.9 2.4h0m10.2 2.7h0m10.4-3.1h0m1.4-2.7h0m5.8 5.3h0m10-5.1h0m2.3 2.7h0m2.4 2h0m1.6-4.4h0m0 4.4h0m5.3-1.6h0m-162.6 5.9h0m14.9 1.2h0m8-4.3h0m9.8 2.8h0m5.7-2.1h0m3.7 1.7h0m2.8-.9h0m3.2 2.5h0m2.3-2.4h0m3.5-.1h0m6.8 2.1h0m.8 0h0m.8 .9h0m.8 .9h0m5.1 .1h0m7.7-2.4h0m2.2-2.1h0m5.5 0h0m5.8-.7h0m11 3.1h0m6.2-.9h0m1.9-.8h0m6.3 2.5h0m.7-.1h0m2.5-2.6h0m2.9 1.6h0m1.5-3.2h0m3.6 4.3h0m7.3 0h0m.1-2.8h0m.4 3.5h0m3.1 .6h0m5.3-.3h0m1.2-3.5h0m2.3 1.5h0m.5-.5h0m17.4-1.9h0m-144.3 6.5h0m4.9-1h0m3.8 2.1h0m8-2.5h0m4.8 0h0m6.2 .8h0m9 1.7h0m12.1-1.9h0m2.9 .9h0m.3-.9h0m3.6 .3h0m25.1 0h0m9.1 1h0m.2-1.3h0m21.3 1.6h0m17.7-.7h0m.8-1h0m7 1.7h0" stroke="#fafaee" stroke-width="2.2" stroke-linecap="round"/><path d="M221.5 418.9h0m9.1 3.8h0m38.9-5.6h0m34.2 .4h0m-78 8.7h0m59.4-2.9h0m1.1 2.4h0m23.9-2.1h0m14.2 .9h0m.6 1.9h0m-106.6 2.7h0m4.6 3h0m11.1-.8h0m1.4-1.5h0m21.1 4h0m0-.5h0m3.3-.1h0m44.5-.2h0m1 .2h0m35.5-3.9h0m21 4.1h0m4.4-2.1h0m7.8-1.6h0m8.6 2.4h0m-163.4 7.3h0m55.8-4.2h0m51 5.1h0m2.6-1h0m21.2 .9h0m4.4-.5h0m-133.8 6.7h0m119.8-3.1h0m8.3 3.4h0m15.1-1.6h0m.9 1.7h0m.1-4h0m8.7-.6h0m-132.2 7.8h0m13.1-3h0m6.2 .6h0m.2 1.2h0m21.2 .1h0m7.8 .9h0m28.4 1.8h0m4.5-1.8h0m24.7-.6h0m2.7 0h0m-91.7 6.6h0m8 .7h0m5.1-1.7h0m6 3h0m36.6-2.9h0m3.3-.7h0m15.3 2.5h0m5.7 1.7h0m17.1-4.2h0m12.5 4.6h0m-152.2 2.1h0m.4-1.3h0m54.7 1.2h0m20 3.3h0m13.4-4.4h0m10.4-.3h0m30 4.2h0m7.3-.3h0m-130.3 2.3h0m15.6 5h0m5.4-3.7h0m14.6 3.7h0m31.9-.1h0m87-.3h0m-139.4 3.1h0m34.2-1h0m14.6 3.8h0m35.5-1.2h0m8.5 1.4h0m5.1-.7h0m37-3.2h0m-59.2 7.3h0m36.9 1.5h0m7.7-2.5h0m.9 .1h0m-131.1 5.4h0m2.3 2.3h0m18.1-1.9h0m14.1 3.3h0m16.6-4.8h0m11.2 .4h0m3.5 4.7h0m50.3-3.7h0m22.1 1.9h0m-150.5 7.8h0m10-4.4h0m2.9-.2h0m66.6-.6h0m1.4 3.3h0m36.3 .4h0m14.3 1.6h0m-115.5 6.5h0m50.5-5.7h0m26.4-.1h0m27.8 3.1h0m33.6 1.5h0m-123 2h0m1.2 .6h0m13.9 .9h0m17.4-1.4h0m10.2 0h0m18.2 .7h0m75.2-.1h0" stroke="#fdfdf8" stroke-width="3.0" stroke-linecap="round"/><path d="M270.6,455C271,452.5 276,452 280,453.2C285,455 290,460 297.1,469.3C293,471.5 287,471.5 281,469C275,467 271,462 270.6,455Z" fill="#fff" stroke="#d06486" stroke-width="0.6"/><path d="M246,416.7C249,420 253,421.6 257,421.6C261,421.6 265,420 267.5,416.7Z" fill="#fff" stroke="#d06486" stroke-width="0.6"/><ellipse cx="376.5" cy="426" rx="3.2" ry="2.6" fill="#fff" stroke="#c9a24a" stroke-width="0.6"/><path d="M216.5,499.3H234.5" stroke="#555" stroke-width="0.6" opacity="0.7"/></g></g>
<clipPath id="cpsirius1"><rect x="385" y="416.7" width="166.8" height="86.1"/></clipPath><g clip-path="url(#cpsirius1)"><g filter="url(#soft)"><rect x="385" y="416.7" width="166.8" height="86.1" fill="#e9e9b9"/><path d="M391.5 416.7h0m2.5-.9h0m.7 .4h0m6.2 0h0m3.3-.3h0m5.8 .8h0m1.2-.5h0m2.7 .1h0m1.3-.3h0m11.3 .1h0m.5 .4h0m.9 .2h0m7.2 .1h0m.3-.2h0m.3-.2h0m2.3-.3h0m1.5-.1h0m1 .8h0m1.3-.9h0m2.2 .2h0m7.4 .4h0m.7 .2h0m.2-.9h0m1.7 .7h0m.2 .1h0m3.8-.1h0m.4-.2h0m3.2 .4h0m.8-.5h0m2.2 .3h0m2.1 .4h0m8.7-1h0m5.8 .2h0m4.8-.1h0m2 0h0m5.3-.2h0m1.1 .3h0m.7 .4h0m13.3-.5h0m2.5 .5h0m.6 .5h0m5.7-.8h0m19.7-.1h0m1.9 .4h0m1.5 0h0m2.9 .2h0m.1-.5h0m1.7 .4h0m.4-.1h0m.6-.8h0m-160.6 1.9h0m.5 3.8h0m0-2.7h0m.2 .2h0m.1 1.4h0m1 .8h0m0 1.2h0m1.3-4.5h0m0 3.2h0m2.4-3.1h0m1.3 4.9h0m1-4.7h0m.5 3.8h0m.3-.2h0m.5-2.3h0m.8 2.7h0m.2-5.1h0m.5 3.1h0m.4-2.4h0m.2 .3h0m0 1.2h0m.4 2.7h0m0-1.1h0m1 .8h0m3.3-2.8h0m.3 .6h0m.8-.1h0m1 2.1h0m1.4 1h0m.7-4h0m.1 3.4h0m.2-1.9h0m.9-.3h0m3.5 .9h0m0-2h0m.3 1.5h0m.2-2.5h0m.4 4.8h0m.4-2.9h0m.8 2.3h0m1.3-4h0m.9-.2h0m.2 4.8h0m.8-3.7h0m.1 3.3h0m.6-3.2h0m1.4-1.2h0m.1 5.4h0m.2-2h0m2.1-1.5h0m2.6-2.2h0m.2 4.3h0m2.6 .9h0m1.2-4.9h0m1.8 0h0m3-.3h0m.5 4.8h0m.5-3.2h0m.2-1h0m.8 1.8h0m.8 1.5h0m0-.1h0m.8 .6h0m5.5-1.5h0m.3-1.5h0m.9 1.6h0m.9-1.9h0m.1 .6h0m.6 .3h0m2-.3h0m.8 1h0m.2-1.1h0m1-1.6h0m.1 3.6h0m2.8 1.7h0m1-2h0m.7-1.5h0m.4 3.5h0m.2 .3h0m.7-.2h0m.9-3.9h0m.8 1.5h0m0-2.9h0m.1 1.7h0m.2 1.5h0m.2-.8h0m.3-.9h0m.3 2.2h0m1.4 1.7h0m0-3.9h0m.3 4h0m.3-1.8h0m.4-.8h0m.5-1.9h0m.3 4.5h0m.3-4.8h0m.2 4h0m1.4 .4h0m.3-4.4h0m2.5 .5h0m.3 3.1h0m1.9-3h0m.2-.4h0m1.2 1h0m1-.1h0m.6 3.8h0m.6-5h0m.3 .6h0m1.8-1.4h0m.8 3h0m.7 .9h0m.8-2.1h0m0 1h0m3.2-1h0m.4 3.1h0m.1-3.5h0m.5-1.2h0m.6 .9h0m0 2.2h0m.2 .7h0m.8-3.4h0m.2 5h0m.1-.4h0m1.1-5h0m.5 4.8h0m.4-.8h0m.6-4.1h0m.3 4.4h0m.1 1h0m.8-4.5h0m.2 2.5h0m.9 2h0m.7-.7h0m.5-.3h0m2.4-.4h0m.5-.5h0m.5-1.7h0m.6 2.1h0m.1-1h0m.2-1h0m.4 .6h0m1.2 1.5h0m.9 1h0m.2-.5h0m.6-1.6h0m.9 2.8h0m.2-4h0m1 3.5h0m1.5-5.3h0m1.7 2.4h0m1.1 .2h0m.4 .8h0m.4-.2h0m1.5 1.1h0m.1-3.1h0m1.4 1.3h0m1.5 .4h0m.1-.5h0m.5 2.2h0m1-3.6h0m.4 2.9h0m.7-.1h0m.5-2.8h0m.5 .9h0m1.5 3.6h0m.1-.2h0m.8-4.2h0m0 .9h0m3.4 3.3h0m.1-2.2h0m0-.6h0m.8-2.4h0m.7 1.9h0m.1 3.7h0m.3-2.4h0m.3-2.2h0m1.8 .3h0m1.6 4.5h0m.5-3.2h0m3-.5h0m1.2-1.3h0m.4 1.5h0m.2-2.5h0m.9 2.7h0m.2-.8h0m.6-1.3h0m.1 .1h0m.2 3.5h0m1.4-4.1h0m1 2.4h0m1 2.6h0m.3 .3h0m1.4-1.2h0m2.7-1.4h0m.8 2.1h0m1.2-3.5h0m1.6 4.1h0m0-.7h0m.1-2.7h0m.8-.2h0m0 3.2h0m.1-3.2h0m.8 3.9h0m.1-3.6h0m.3-.5h0m.4 1.1h0m.2 2.4h0m.9-.2h0m.2-2.1h0m.1 1.3h0m.3-2.5h0m0 3.8h0m1.1-1.7h0m1.8-2.8h0m0-.2h0m.7 2.8h0m.1 1.2h0m1.6-4.7h0m.2 1.9h0m.4-.4h0m.5 1.6h0m.5 2.3h0m.4-4.2h0m.1 3.3h0m.2-1.8h0m1 1.3h0m-167.8 6.3h0m1.1 1.3h0m1-3.8h0m.2 1.1h0m.6 2.2h0m0-5h0m.4 .9h0m1.4-1.1h0m.6 .5h0m.5 5.3h0m1.9-.4h0m1.1-2.4h0m.2 1.5h0m.1-1.3h0m.2 2.4h0m2.1-3.4h0m.1 3.1h0m1-1.7h0m2.6-3h0m.5 4.1h0m1-.5h0m1.1-2.2h0m1.2-.1h0m.4-1.4h0m1.6 1.5h0m.2-1h0m.7-.6h0m.1 .4h0m.7-.7h0m1.6 4.5h0m.1-3.2h0m1.4-1.1h0m.1 3.5h0m1.5-.9h0m1 1.1h0m1.7-2.8h0m1.3 1.4h0m.3 2.1h0m.8-2.7h0m.3 2.5h0m.3-.4h0m.6-.5h0m.4 1.1h0m.2 1.2h0m1.7-3.2h0m.9-2.5h0m2 2.3h0m.6 0h0m.6 0h0m1.1 .8h0m1.1-.4h0m.3 2.1h0m.9-2.4h0m1.4-2.4h0m.6 3.8h0m.4-1.5h0m1.3-2.4h0m.2 .6h0m.4 4.2h0m.4-1h0m1.9-.4h0m.8-2.9h0m.3 4.4h0m.1-4.8h0m.6-.1h0m2.1 4.4h0m.2 .1h0m.5-4.4h0m.6 .7h0m1 3.8h0m0-2h0m.7 3.3h0m.2-4.1h0m.5 3.8h0m.1-2.1h0m.4-1.3h0m.6 .1h0m.3-.5h0m2.5-1.4h0m.6 2.3h0m1.5-2.3h0m.7 4.9h0m.3-4.4h0m.7 .2h0m.1-.5h0m.1 1.2h0m.1 .1h0m1.3 3.7h0m.4-2.8h0m0 2.3h0m.2-3h0m.5-1.3h0m.2 4h0m.7-4.1h0m.9-.2h0m.7 5.2h0m.2-1.5h0m1.5-4.2h0m.3 .7h0m1.3 4.3h0m1.1 .9h0m.1-.1h0m.5-.6h0m2.3 .4h0m.3-.1h0m1.7-4.3h0m1.6 2.1h0m.4-.4h0m.7-2.4h0m.3-.1h0m.2 3.8h0m2.1-.8h0m1.8-.2h0m0-2.9h0m.3-.4h0m.4 1.1h0m0 .6h0m.7 3.7h0m2.7-4h0m1.4-1.2h0m.5 1.4h0m0 .1h0m.3-.7h0m.1 4h0m1.1-4.7h0m2.1 5.1h0m.5-2.2h0m.1 .5h0m.1-1.1h0m.6 3.3h0m1.2-.7h0m.2-.2h0m.5-4.1h0m1 1.2h0m.2 .3h0m1-1.4h0m2.3 4.5h0m0-4.2h0m.4 1.4h0m.8 2.2h0m0-4.9h0m.2 1.2h0m.8 3.3h0m0-2.6h0m.1 1.4h0m.5-2.8h0m.4 1.4h0m.5 4h0m.7-2.8h0m.9 1.8h0m1-4.5h0m.5 2.6h0m.4-2.8h0m1.2 5.6h0m.4-4.2h0m.7 2.3h0m.2-.1h0m.3 2h0m.9-2.4h0m.2 1.9h0m.3-.3h0m2.5 0h0m.9 0h0m.3 .1h0m.4-4.5h0m1.5 2.4h0m0 1h0m.2-1.6h0m.1-1.2h0m1.1-.6h0m1.9 4.5h0m.2-2h0m.2-.5h0m1.1 3h0m1-1.2h0m1.4-3.9h0m4.6 4h0m0-3.7h0m1.4 3.4h0m.7-2.2h0m.2-1.3h0m.2 4.5h0m.7-1h0m.8-4h0m.5 3.4h0m.1 1.3h0m1.3-4.1h0m.3 2h0m.2 .5h0m.2-1.6h0m0 .3h0m.5-.4h0m1.1 3.3h0m.7-4.5h0m.4 .5h0m1 3.3h0m.2-2.1h0m0-.1h0m2.2-1h0m.4-.2h0m.2 1.7h0m2.5 1h0m.2-1.1h0m.2 1.2h0m.5-.7h0m3.8 .5h0m.7 .4h0m.1 1h0m.1-1.6h0m1.2-1.6h0m.2-1.5h0m.7 4.7h0m.8 0h0m.9-4.5h0m1 4.6h0m0-2.3h0m.9 1.2h0m.1 .9h0m1 .5h0m.3-3.6h0m2.7-1h0m1.9 .3h0m.2 .4h0m.4 3h0m.3-2.5h0m-167.3 7.6h0m.1-3.1h0m.2 4.3h0m.1-.3h0m1.5 1.1h0m.8-5.3h0m.8 2.4h0m.1 1.8h0m.3 1.5h0m2.7-1.3h0m.6 1.3h0m0-5.6h0m.4 5.8h0m.2-2.5h0m2.2-.2h0m1.6 2.3h0m.2-3.3h0m.1 .8h0m0 1.3h0m1.9-2.4h0m1.8-1.4h0m.7-.5h0m.7 5.7h0m.1-4.5h0m.4 1.3h0m.9-1.4h0m.2 3.7h0m.9-2.2h0m.1 2.1h0m.2-4.3h0m1.2 4.7h0m.2-.9h0m1.2-3.4h0m.5 3.2h0m1.1-1.2h0m.7-.9h0m.1 3h0m2-3.2h0m.9 1h0m.8 .2h0m.5-2.5h0m1.1 .6h0m.1 2.1h0m.8-1.1h0m.7-1h0m.1 4.3h0m.1-4.1h0m.8 3.6h0m1.3 1h0m2.8-1.6h0m1.4-2.5h0m.5-1.3h0m1.1 2.3h0m0-2.7h0m.2 1.8h0m.2 3.8h0m.5-2.9h0m.1 2.4h0m1.1-2.1h0m.1 .3h0m.5 .6h0m.6-2.5h0m.9 2.2h0m1.2 0h0m0-.8h0m.5 2.6h0m.8-.7h0m1.3-.8h0m.6-3.7h0m3.6 1.2h0m1.2 2.1h0m1.5-1.8h0m.6 2.6h0m.1-2.2h0m2 1.4h0m.3 0h0m3.3-1.7h0m1.6 3h0m1.2-4h0m.8 4.3h0m0 .3h0m1-4.2h0m2 1.5h0m.1-.7h0m.4 1.1h0m1.5 1.8h0m.1-.6h0m4 0h0m.2-.2h0m.1 .9h0m.4-2.5h0m.6-1.6h0m.7 .4h0m.4-.3h0m.5 2h0m.1 2.6h0m.3-1.4h0m3.3-.2h0m.8 .8h0m.2 .5h0m.1-1.6h0m1.8 1.2h0m.7-5h0m.4 1.1h0m.3 3.6h0m1.4-1.7h0m.3 1.8h0m.6-4.4h0m.2 .7h0m.2 .6h0m.9-1h0m1.1 2.6h0m.6 1.3h0m.5-1.7h0m1.5-2.7h0m.3 .1h0m.1 1.8h0m.4-1.1h0m0 3.9h0m.5-.2h0m2.5-2.1h0m.2 1.9h0m.9-1.7h0m.7 1.3h0m.4-3.2h0m.2 3.5h0m3.4-2.7h0m.2 2.2h0m.1 1.3h0m1.8-2.8h0m.3 2.6h0m.3-3.5h0m.4 1.4h0m.1 1.1h0m.5-2.2h0m.3 3.5h0m1-4.4h0m.6 .4h0m0 3h0m0 .2h0m.5-3.7h0m3 0h0m0 .6h0m.3 3.7h0m.8-3.9h0m.5-1.2h0m1.7 2.9h0m.2 1.3h0m2.2 1h0m.3-.5h0m.1 0h0m.8-3.5h0m.7-.4h0m.2 3.8h0m.1-1.8h0m.3-2.7h0m.3 5.4h0m1.9 .4h0m.2 0h0m.9 0h0m.3-3.4h0m0-1.5h0m.1 .5h0m.6 2h0m.3 2.1h0m0-2.4h0m.3-.1h0m1.2 .5h0m.1 .2h0m.8-.2h0m.1-3h0m.4 5h0m.4-4.4h0m.9 1.5h0m1.6-.4h0m1 .8h0m.9-3h0m.2 .2h0m.2 .7h0m1 4.6h0m.2-5.4h0m.7 3.3h0m2.6 1.9h0m.4 .1h0m.7-2.9h0m.8 3h0m.4-1.6h0m.1 1.1h0m.8-3.5h0m.9 3.9h0m.3-.5h0m.1 0h0m.2-4.5h0m.5 2.8h0m0-1.2h0m.1 1.5h0m.5 2.2h0m.4 0h0m.4-3.6h0m.4 .8h0m.2 .6h0m0 1.7h0m.3-.9h0m.8 1h0m.2-1.4h0m0 .5h0m.9 1.2h0m2-4.8h0m.7 3.2h0m.7-1.3h0m.7-2.7h0m.8 5h0m1.2-3.5h0m.7-.6h0m.1 .9h0m.1 .8h0m.1-.1h0m.3 1.5h0m.2-.1h0m2.9 1.8h0m.1-1.2h0m.3 1.1h0m0-1.6h0m.9-1.2h0m2.1-2.4h0m1.8 .6h0m1.8-.9h0m.3 4.1h0m3.3-1.1h0m.2-.9h0m.4-1.8h0m1.1 4.6h0m-167.5 3.1h0m.1 2.6h0m.7-3.5h0m.4-.3h0m.3 3h0m1-2h0m.1 2.2h0m1 .1h0m.4-2.8h0m.3 .3h0m1.6 1.2h0m.1 .9h0m1.3-.5h0m.3-1.2h0m.2 .9h0m.2-1.1h0m.5 3h0m0-4.6h0m.1 3.1h0m1-.8h0m.2 2.4h0m.3-2.8h0m1.2 0h0m.8 3.5h0m2.7-4.1h0m2.3 3.4h0m.4-4.7h0m1 .7h0m.3-.5h0m.4 1.4h0m2 1.5h0m1 1h0m.5-2.3h0m.7-1h0m.5 4h0m.5-4.5h0m0 2.9h0m.9 0h0m.5-.9h0m.1 0h0m.8-.2h0m1.1-1.1h0m.4 2.1h0m1.7 .3h0m.1 1.7h0m.2-2h0m.3 1.4h0m.3-3.6h0m.3-.9h0m2.2 2.8h0m.1-.7h0m.5 .2h0m.6-1.3h0m1.8 1.4h0m.2 1.2h0m.5 .3h0m.5-1.7h0m.1 1h0m.3-1.8h0m.1 2.7h0m.1-4.3h0m2 .4h0m.2 4h0m.5-3.4h0m.2 3.4h0m.6-4.5h0m2.3 4.6h0m.7-3.5h0m.9 2.2h0m.3 1.5h0m.2-2.8h0m2.1 .1h0m.4 3.2h0m1 .5h0m.9-1.8h0m.1-.1h0m.6-2.1h0m1.5-1.2h0m.7 3.8h0m.2-2.1h0m1.5 2.6h0m.3-2.9h0m1.2 .1h0m.7-1.2h0m.7 0h0m.6 1h0m.2-.6h0m.2 1.3h0m1.7 2.6h0m.7-1.3h0m0 .8h0m.6 .9h0m0-4.9h0m1.5 2.2h0m1.3 2.7h0m2.1-1.1h0m.3-3.6h0m.3 4.5h0m.4-.1h0m0-.1h0m.4 .3h0m0-2.1h0m.1-3.3h0m.2 5.2h0m2.1 .1h0m.8-2h0m0 1.3h0m.3 1.2h0m.1-5.1h0m.9 1.4h0m0-.1h0m.7 2.1h0m.7 .4h0m.8-2.2h0m.1 2.3h0m1.4-3.8h0m.1 1.8h0m.6 1h0m.1-3.3h0m.3 3.8h0m.8-.4h0m.1-.2h0m.1 2.1h0m1.2-3.5h0m.3 .2h0m1.5 2.4h0m.1 0h0m.8-.2h0m1.6-2.8h0m2.3 2.8h0m1-3.2h0m.4 .4h0m1.2-.9h0m1.7 4.7h0m.2-5.4h0m1.6 2.6h0m.4-2.5h0m.6 .3h0m1.4 4.5h0m.2-1h0m0-.1h0m0-1.9h0m1-1.1h0m1.5 .3h0m1.2 1h0m.5-1.7h0m1.2 4.8h0m.5-4.6h0m.5 .8h0m.3-1.4h0m0 4.5h0m1 .3h0m.2-1.6h0m.9-.8h0m.2 1.1h0m1.1-2.4h0m.5 .7h0m.8-1.4h0m2.2 2.3h0m0-1.8h0m1.3-.2h0m0 2.4h0m.4 2h0m1.6 .2h0m.7 0h0m.1-2.9h0m.6 1.5h0m1.1 .6h0m4.7 .1h0m.5-1.2h0m.1 .3h0m.2-1.5h0m1.9 1.1h0m1.2 1.5h0m.2-.4h0m1.2-.9h0m1.6 1.7h0m.1-.6h0m.2-3.5h0m0 3.9h0m.2-4.1h0m.5 3.9h0m.2-2.7h0m.7-1.9h0m.5 .2h0m0-.6h0m.1 .2h0m.3 4.8h0m.3-.4h0m1.1-.3h0m1-3.8h0m3.4 4.3h0m.3-1.7h0m.1-.5h0m.5 1.4h0m1.7 .2h0m1.2-.7h0m1 2h0m.3-4.1h0m.3 1.5h0m.3 .9h0m1.2 .9h0m.4-4.1h0m.1 2.6h0m.8 2.2h0m.4-1.4h0m.3 .5h0m.2-3.8h0m.7 3.7h0m1.1-.5h0m.1 .8h0m.5 .4h0m.8-3.2h0m.2 0h0m.4-.6h0m.8 3.4h0m3-.2h0m.4 1.3h0m.7-3h0m1.4 2.2h0m1.4-1.7h0m1.1-.2h0m.7 2.6h0m.5-5h0m1 4.4h0m.6-4.1h0m.8-.1h0m.2-.4h0m.7-.4h0m.4 .3h0m.5 3.9h0m1.6-.8h0m1.7-3.1h0m.3 1.7h0m-166.1 4.5h0m.2 .7h0m.7 3.2h0m1.2-4.2h0m.4 5h0m0-1.8h0m1.2-.6h0m.6-.9h0m.2 2.1h0m.5-2.6h0m0 4.1h0m.5-3.2h0m.3-.7h0m1.7-1.1h0m.2 3.2h0m.2-1.6h0m.8-2.1h0m.2 3.7h0m2.8 2h0m2-4.4h0m.4 3.4h0m.4-2.9h0m1.4 2.6h0m.1-.9h0m.2-2.5h0m.1 2.5h0m1.7 1.1h0m.5-.8h0m1.1-.9h0m2.2 1.4h0m1.1-3.3h0m.6-1h0m2.1 2.8h0m.1 .2h0m.1 .1h0m.2-.4h0m.1-2.2h0m.2 2.8h0m.7-.4h0m.5-2.7h0m.3 2.8h0m.6-.6h0m.4-.9h0m.2-1.5h0m.9 3.9h0m.9-.2h0m.1 1.8h0m1.7-3.6h0m.2-1.1h0m2.1 4h0m1.5 .7h0m.4-1h0m0-3.2h0m1.2 4.4h0m.5-3h0m4.1 2.7h0m1.1-2.6h0m1 .6h0m1.4 1.7h0m.4-4.6h0m.6 2.9h0m.1 2.3h0m.3-5.4h0m.2 1.5h0m.7-1.1h0m.2 1.7h0m1.4 2.4h0m.2-4.3h0m0-.2h0m.3 .6h0m.1 .7h0m.3 1.2h0m.2-.9h0m.7 .4h0m1.7 .8h0m.3 .8h0m.6-.4h0m.4-3h0m.3 .3h0m.4 1.2h0m1.6 1.8h0m.8 .4h0m1.6-1.2h0m.4 .7h0m.9-2.9h0m0 3.2h0m1.3-3.4h0m.2-.6h0m1.1 5.4h0m.1-5.4h0m2.8 2.5h0m.1 3.3h0m1-4.7h0m.2 3h0m.4-.7h0m.1-3.3h0m.3 5.2h0m1.4-1.2h0m.2 1.5h0m.2-2.4h0m1.5 2.1h0m.4-1.5h0m.1 .5h0m1.8 .5h0m1.2-.1h0m.3 .5h0m4-5.2h0m.5 2.5h0m.9-.7h0m.9 2.1h0m1.5-2.4h0m.6-.7h0m.6 4.1h0m1.9 .5h0m.2-.8h0m1.9-.5h0m.1-.5h0m.5 1.9h0m.3-1.9h0m.1-.8h0m.6 .7h0m.5-2.1h0m.1 2.2h0m.1-1.6h0m3.8-.4h0m.1 3.3h0m.3-3.4h0m.2 1.2h0m.7-1.3h0m.2 2h0m2.3-2.8h0m1.3 3.5h0m.1-2.2h0m.2 2.5h0m.5-.3h0m0-1.9h0m0-2h0m1.4 4.8h0m.3-2.4h0m.1 0h0m.5-2.4h0m.2 1h0m.2 1.7h0m2.1 .2h0m.1-2.2h0m1.1 2.8h0m.6-2.9h0m1.6 1.9h0m1-2.2h0m.3 5.2h0m.1-3.9h0m1.2-1.3h0m.7 5.2h0m.3-4.5h0m1.5 .3h0m1.1 4.1h0m.3-1.5h0m.7-1.2h0m3.7-2h0m.2 3.9h0m.8 .1h0m1 .3h0m0-4.1h0m.2 1.6h0m0 1.6h0m.5-1h0m.7-.9h0m.3 1.4h0m.1 1.4h0m.8-2h0m2.3 .5h0m.5 .2h0m.8-.5h0m1.6-2.6h0m.5 4.4h0m.5-3.7h0m.3 3.2h0m.2-4.1h0m.3 1.4h0m.1 .3h0m.4 2.8h0m.6-5.2h0m.2 4.3h0m.2-3h0m2.1 2.2h0m.5-.1h0m2.3-3.2h0m.4 3.3h0m.3-2.5h0m.6 4.2h0m1.8 0h0m.5-3.1h0m.6 3.1h0m.3-2.8h0m1.2-.5h0m.5 3.7h0m.1-1.3h0m.2-3.2h0m2.7-.1h0m.1 3.8h0m.6-4.1h0m2.1 4.5h0m1.1-.9h0m.2-.1h0m0 .5h0m1.2-3.6h0m.8-.4h0m.2 4.2h0m1.5-3.6h0m.7 3.2h0m.2-3.9h0m.2 1.8h0m.4 1.2h0m.5 .8h0m.2-.4h0m0-1.4h0m.1-2h0m.8 .8h0m.1 .7h0m0 1.3h0m.2 2.3h0m2.6-4.8h0m.4 4.6h0m.6-.3h0m.6-2h0m.6-1.2h0m.3 2.5h0m.6 .5h0m1.2-2.1h0m2 1h0m1.2 .7h0m.1-2.3h0m.1 2.2h0m0-1.5h0m-166.7 3.2h0m.1 1.5h0m.3 2h0m1 1h0m0-4.7h0m.1 2.3h0m.4 2.5h0m.2-3.2h0m.4 1.1h0m0 1.7h0m.6-.5h0m0 0h0m.8-.3h0m.6-2.8h0m2.1 4.9h0m.9-2.7h0m1.4 1.4h0m.2-4.2h0m.7 1.6h0m2.9 1.4h0m1.1-1.5h0m1.7 .7h0m.1 1.8h0m.3-1.4h0m1.8 1.9h0m.2-3.7h0m.2 .8h0m1-1.3h0m.9 .6h0m.8 .7h0m.7 1.7h0m.3 0h0m.3-.3h0m.6 1.8h0m1.9 .4h0m0 .3h0m0-1.6h0m1.3 .2h0m1.3 .6h0m.6-.5h0m.3-3.4h0m1.7 1.6h0m1.3-1.8h0m.2 1.8h0m0 1.2h0m.6 1.7h0m.1-4.2h0m.7-1.1h0m1.6 1.4h0m1.9 3.8h0m0-4.9h0m.6 4.7h0m.2 .2h0m.2-.4h0m.1-1.4h0m.6-1.9h0m.2 3.1h0m.1 1.1h0m.5-5h0m3.2 5h0m.1-.2h0m.3-1h0m0-.6h0m2.2-2.7h0m2.6 .9h0m.6 1.6h0m.2-3.1h0m0 3.6h0m.2-1.7h0m.6 .4h0m.9-2.9h0m.8 .5h0m1.5-.8h0m.4 3.6h0m.5-.2h0m1.2 1.5h0m.9-4.5h0m.4 1.2h0m.2 2.6h0m.2-1.5h0m.3-1.9h0m.4-.3h0m.8 1.8h0m.4-2.2h0m.5 .4h0m0 4.2h0m.5 1.1h0m2.2-5.7h0m.1 1.2h0m.6-.1h0m1.9 3h0m.9-2.9h0m1.4 3.1h0m1-3.8h0m1.1 1.3h0m.1-.1h0m.4 1.8h0m.2 .2h0m1-1.3h0m1.3-.1h0m1.6 1h0m.1 1.7h0m.8-3.8h0m.3-.4h0m.1 .7h0m2.4 .5h0m.1-1.9h0m.7 .7h0m.1-.7h0m.9 2h0m0 .3h0m0 0h0m3.8-2.5h0m1.5 3.2h0m1.3 2.1h0m.4-3.2h0m.2 1h0m.8 .4h0m.2 .4h0m1.4 1.8h0m1.1-4.5h0m1.8 3.8h0m.9-3.5h0m.3 1.1h0m1.1 2h0m.4-1.1h0m.5-1.6h0m.7-.3h0m1.5-1.1h0m1.2 1.5h0m1-1.7h0m.1-.2h0m.6 4.3h0m.1-1.7h0m.3 1.1h0m1.3-2.5h0m.4 1.4h0m.6 .9h0m.1-3.4h0m1.2 3.9h0m.1-.4h0m1.6 1.4h0m.4-1.3h0m1.9-3.7h0m.2 .9h0m.4 4h0m1.2-2.4h0m.5 1.6h0m1.3-1.5h0m.4-1.7h0m1.5 .3h0m2.6 2.1h0m.5 1h0m.5-.5h0m.9-2.4h0m2.2 2.2h0m1.1-2.2h0m.4 3.7h0m0-.3h0m2-2.1h0m.5 1.2h0m.5-.6h0m.9 1.5h0m0-2.8h0m0 .9h0m.7 .9h0m1.2-1h0m1.5 .4h0m.1-1.1h0m.1-1.4h0m.7-.4h0m2.5 4.4h0m.3 1h0m3.2-2.2h0m.4-2.7h0m1.6-.2h0m1.2 1.5h0m.2-1.2h0m1 3.6h0m.5-2.3h0m.6 2.9h0m.4-.2h0m1-3.5h0m1.7 1.1h0m3.2-.1h0m.3 3h0m.5-5.2h0m.4 4.7h0m.6-.7h0m.2-2h0m.2-.1h0m2 3h0m1-4.5h0m1.2 4h0m.7-.9h0m.6-3.6h0m.1 2.4h0m0 .7h0m.6-.7h0m.3-1.6h0m1 1.3h0m.1-1.9h0m.5 4.5h0m2.7-3.1h0m.5 2.2h0m.8-.9h0m.2 .5h0m1-3.2h0m.5 3.2h0m.6 1.4h0m.1 .6h0m.4-5.4h0m1.3 4.6h0m.4-.4h0m-166.7 6.1h0m1.6-.8h0m2.8-1.2h0m.2 .6h0m0 2.1h0m1.2-.6h0m.3-1.4h0m1.5 .4h0m.1-3h0m.3 3.3h0m.7 1.4h0m.1 .5h0m.3-4.4h0m.8 1.5h0m.2 .1h0m1.2 0h0m1.3 2.7h0m2.2-.8h0m.1-1.2h0m1 1.1h0m.1 .9h0m2.1-.1h0m.6-3.5h0m.6-2h0m.3 4.6h0m.7-.8h0m.1-2.4h0m1-.1h0m.7 2.4h0m.1-1.6h0m1.4 3.7h0m1.8-5.2h0m.1 4.6h0m.3-1.4h0m.2-.9h0m0-.2h0m.3-2.8h0m.8 4.4h0m0-1.1h0m.3 1.6h0m.3 .4h0m.5-3.2h0m1.1 3.7h0m.3-4.6h0m.4 1.7h0m2.4-1.7h0m.5 2.5h0m1.4-2.1h0m1.3 .3h0m1.4 .7h0m2.6-1.1h0m.5 1.1h0m5 1h0m.5-2.2h0m.3 4.5h0m.8-5.6h0m1.3 0h0m1.2 2h0m.5 1.6h0m.9-.2h0m.1 .1h0m.2 .1h0m.9-2.3h0m.3 3.7h0m1.2-3.2h0m.1 2.4h0m.4-.5h0m.8-1.9h0m.7-.9h0m.3 .2h0m.1 2.6h0m.5-1.9h0m.1 2.7h0m.7-2.2h0m.5 .7h0m.9-2.6h0m.4 4.6h0m.4-5.1h0m1.8 5h0m.4-5h0m1.3 5h0m.5-1.8h0m0-2.8h0m.4 3.5h0m2.4-3.7h0m.4 2h0m.1 2.7h0m1.3-3h0m.1 .5h0m1.8-1h0m.1 3.9h0m.9-.4h0m.1-4.7h0m.9 2.9h0m.2 1.8h0m1.4-1h0m.2-2.2h0m.6 3.9h0m.9-2.2h0m.3-2.7h0m1.6 .2h0m.1-.8h0m.8 4.8h0m1.4-3.8h0m.2 3.4h0m.6 .9h0m.2-2.1h0m.8-1.7h0m1.4 3.5h0m.6-.5h0m.7 .9h0m.8-4h0m.7 3.9h0m1-5h0m1.2-.2h0m1.2 2.9h0m.1-1.5h0m1.1-.7h0m.1-.7h0m.4 3.9h0m.5 1.3h0m1.2-1.5h0m1.2-3.2h0m.8 3.1h0m.8 1.8h0m1.5-4.9h0m.8 4h0m.9-3.5h0m.2 1.3h0m.1 .7h0m.8 1.9h0m.6-2.3h0m.3 .1h0m.5-1.2h0m.2 2.9h0m1 .6h0m1.4-1.9h0m0-.2h0m.4 0h0m.6 1.5h0m.6 .7h0m1.2-4.3h0m.5 2.2h0m.2-.3h0m1.1-3h0m.3 5.7h0m0-2h0m.4-3.5h0m.1 5.2h0m1.6-1.3h0m0 .4h0m1.8-3.2h0m.3 2h0m.2-1.2h0m1.4 2.5h0m1.1 .2h0m0-4.6h0m1.4 3.6h0m.5-.3h0m.5-1.1h0m1.9 1h0m.3-.7h0m.6 2.1h0m.5-.1h0m.3-.3h0m1.6 .3h0m.1-4.6h0m.7 .1h0m2 5.6h0m.6-3.6h0m1.6-1.5h0m.3 5.1h0m1.8-3.6h0m3.1 2.4h0m.1 0h0m.4-1.6h0m1.3 .8h0m.5-1.9h0m1.5-1.1h0m.2 3.3h0m.1 .5h0m.3 .8h0m2-3.5h0m1 2.8h0m.2-3.2h0m.7 1.2h0m1.8-1.5h0m.3 1.7h0m1 1.4h0m.3 .4h0m.1-3.3h0m.2-.8h0m.8-.3h0m.2 .3h0m1 3.3h0m.9-2.2h0m.4-1.7h0m3 5.8h0m.7-4.3h0m.5 1.8h0m1.7-3.1h0m0-.2h0m.3 3.7h0m.2-3.2h0m1 2.9h0m.2 .7h0m.6-4.1h0m.3 3.9h0m.7 .6h0m.8-.5h0m.1-.7h0m.9 .7h0m1.3-.4h0m.2-2.7h0m.9 .3h0m1.4-.5h0m1.1 2.2h0m1.1-1.5h0m.3 2.6h0m.8-.4h0m.4-1.2h0m.2 2.9h0m.8-2.5h0m.4-.1h0m.3-.2h0m-167.7 8.5h0m.4-1.7h0m.1 1.6h0m.1-4.4h0m.1 3h0m.3-3.6h0m.4 3h0m.1-.2h0m.3-.5h0m0-1.6h0m.3 5.3h0m1.6-2h0m1.1-1.1h0m0 2.7h0m.3 .4h0m0-.9h0m1.1 .4h0m.2-1.9h0m.1-3.2h0m.2 0h0m.3 1.1h0m1.5 3.1h0m1 .2h0m.8-3.6h0m1.4-.8h0m.3 3.2h0m.2-1.6h0m.1 0h0m.5 1.4h0m.2-3h0m.1-.4h0m1.6 5h0m.8-.9h0m.2-1.2h0m0 .5h0m.1 .1h0m1-2.8h0m.2 2.2h0m.4-.3h0m.1 1.4h0m1.2-.4h0m1.5-.9h0m.7-.4h0m.4 .7h0m.1-.3h0m2.2 1.3h0m1 1.6h0m1.1-4.6h0m.1 3.4h0m.1-2h0m.6 .3h0m1.3-2.5h0m.7 .4h0m.2 1.3h0m.4 1.2h0m.8-.9h0m1 3.6h0m.5-.3h0m0-4.7h0m.3 4.6h0m.9-.4h0m.3 .1h0m.3-4.6h0m.4 1.5h0m.1 .9h0m.6-1.5h0m.2 4h0m.4 .2h0m.5-5h0m1.1-.4h0m.2 4.7h0m.3-3.3h0m.3 1.8h0m.5 0h0m2.1 2.2h0m2-1.6h0m.3-1.5h0m2.1 .1h0m.4-1.1h0m.3 .2h0m2.2 1.3h0m1-1.5h0m.4 .4h0m.6 .8h0m.3 1.1h0m.1-.6h0m.4 1.3h0m.4-2.6h0m.9-.5h0m2.5 0h0m.5-.7h0m.2 3.5h0m.2 1h0m.1-2.5h0m.7 .8h0m.5 .8h0m.5-.8h0m.7-2.7h0m.7 4.5h0m.1-3h0m.1-1.1h0m.4 4.6h0m.9-4.6h0m1.7-.4h0m.4-.3h0m0 4.8h0m.5-5.1h0m.5 4.4h0m.3-1h0m.1 1.2h0m.2-.4h0m2.7 1.6h0m.4-4.4h0m.2 1.4h0m.5 .9h0m0-1.5h0m0 1.4h0m1.8-1.8h0m1.1 .2h0m.2 2.7h0m.3-4.8h0m.4 .8h0m.4-.2h0m.1 2.8h0m4-1.2h0m.4 3.7h0m.1-3.7h0m1.1 .5h0m.9-.5h0m.4 2.8h0m.1-2.4h0m1.7 0h0m1.4 2.1h0m5.2-3.2h0m.8 1.9h0m.5 2h0m2.4 0h0m.5-5.4h0m.9 2.6h0m.7 2h0m2.1-3.2h0m1.4 2.6h0m1.2-2.1h0m1.3 3.3h0m2.3-1.1h0m.2-1h0m.9 .4h0m.1 .3h0m.2 .6h0m5.4-1.6h0m0-1.9h0m1 4.2h0m1.5-1.5h0m.8-.4h0m.6-2.5h0m.3 4.7h0m.2-1.8h0m1.9 1.4h0m1.2-1.4h0m2-.9h0m2.1 2.9h0m.5-2.8h0m.9 1.4h0m3.1-1.3h0m2.1 1.2h0m.3-.9h0m.1 2.2h0m.2-3.6h0m1-.7h0m.2-.8h0m1.4 2.6h0m.3-1.1h0m.6 1.6h0m.9-3.3h0m.1 2.9h0m.1-1.6h0m.9-.6h0m.6 3.8h0m.1-4.5h0m.2 4.3h0m.3-2.3h0m.1 1.2h0m.5-.4h0m.5-.2h0m.2 1.3h0m.2-.3h0m.5-1.5h0m1.1 0h0m.2 2.5h0m.2-1.2h0m.7 .5h0m1.4-2.4h0m.9 3.5h0m.4 0h0m1.7-.2h0m.6-3.4h0m.7 2.9h0m.2 1.4h0m.8-2.6h0m2.3-2.9h0m.6 2.2h0m1.1-2.5h0m1.4 4.7h0m.8 1h0m2.4-4.7h0m.7 1.1h0m2.4-1.5h0m1.3 .9h0m1-1h0m1 .1h0m1.9 2.4h0m.6-1.6h0m2.2 1.8h0m2.3-1.7h0m1.9-.4h0m-168.2 6.1h0m1.1 4.2h0m.1 .4h0m.3-.9h0m.6-.5h0m1.5 .5h0m1.2-.9h0m.8-1h0m.5 1.7h0m1.1-1.5h0m0-3.2h0m.3 4.1h0m0-3.1h0m.5 1.7h0m.3-.6h0m.8-.7h0m0-.6h0m1.1 .9h0m0-1.2h0m1.2 4.9h0m.3-4.7h0m0 2.7h0m.4-.3h0m.8-.1h0m.5 2h0m1.2-5.1h0m1.1 .6h0m2.9 1.5h0m.7 2.1h0m2.7-2.7h0m.2 2.5h0m.4-2.6h0m.6 .1h0m.1 2.8h0m.9-3.3h0m2.4 4.2h0m.3-2.6h0m.3 3h0m.1-1.6h0m.2 1.3h0m.2 0h0m1.1-3.3h0m.6 3.7h0m.1-3.6h0m.3-1.8h0m.4 1.8h0m1.3 .8h0m2.4-.9h0m.2 1h0m.4 1.1h0m.4-.5h0m.2 .8h0m.1 1.4h0m0-2.4h0m.6 1.2h0m.5 .8h0m.5-3.5h0m.3 .3h0m1.4-.5h0m.8-.3h0m.2-.1h0m.1 2.6h0m1.1 .1h0m.1-3.1h0m0-.4h0m.9 2.8h0m.6-2.1h0m2.3 2.3h0m.1-1.5h0m.2-1.4h0m1.1 2.2h0m1.1 .8h0m1.3-2.6h0m.7 4.8h0m.9-.8h0m.5-1.8h0m0-2.5h0m.2 4.2h0m1.5-1.9h0m.8-.7h0m.3 3.1h0m.2-.5h0m.9-1.4h0m1.3-1.9h0m2.3 2.1h0m.7-.8h0m1-2.8h0m.2 0h0m3.4 1h0m.4 3.6h0m1.2 .7h0m.3-4.3h0m.1 1.6h0m.5 1.8h0m.2-2.4h0m1.6 1.2h0m1.8-2.1h0m1 .2h0m.3-1.2h0m.9 5.4h0m.9-5h0m0 3.2h0m.8-2.7h0m1.7 .9h0m.3 1.6h0m2.5-.7h0m.2-2.7h0m1 .3h0m1 0h0m2.7 1.8h0m0-2.1h0m.3 4.6h0m.5-.2h0m1.6-2.9h0m.9 4.2h0m.5-2.1h0m.3-.6h0m.2 1.7h0m.4 .5h0m.1-2h0m.4-.5h0m.4 1h0m.5 .8h0m.2 .8h0m.7-1.1h0m.5-.3h0m1.8-2.8h0m.7 .2h0m1.1 .3h0m.4 2.7h0m.7-1.7h0m.7-.9h0m.8-1.3h0m.3 .1h0m.4 2.2h0m2-.2h0m.2-.9h0m1.6-1.6h0m.8 1.5h0m2.4-.7h0m.3 4.6h0m.5-1.5h0m1.4-1.3h0m1.3-1.4h0m1 3.6h0m.7-4.1h0m1.5 .1h0m.4 2.6h0m.2-1.5h0m2.3 2.7h0m.3-4.1h0m.1 3.3h0m5.3 .2h0m.6-1.9h0m.9-1.6h0m.5 0h0m.2 .3h0m.3 1.4h0m.6-1.7h0m.9 2.5h0m1.5-2.4h0m0 3.8h0m2.3-3h0m.8 0h0m0 1.8h0m.1 1.1h0m2.4-3.4h0m1 4.5h0m.3 .2h0m.9-4h0m.2-1.7h0m.6 5.8h0m.1-5.6h0m1.1 5.6h0m1.9-3.7h0m2 2.6h0m.1-1.2h0m2.1 1.1h0m1.9-3.7h0m0 2.4h0m4.3-3.1h0m2 4.5h0m.1 .4h0m.4-2.4h0m.5-2.7h0m.2 5.2h0m.5-.3h0m.3-1h0m.2 0h0m.4-1.5h0m.3-1.1h0m.4-.5h0m.3 3.5h0m.2-.8h0m.7-3.5h0m.1 5.3h0m.8-4.1h0m.8 3h0m1.5-3h0m1.3 3.6h0m.6-.5h0m.6-4.3h0m0 .3h0m.3 1.5h0m.3 1.1h0m.3 .2h0m.9 1h0m.5-.6h0m.2-.8h0m1.2 2.4h0m.4-.9h0m1.9-3.9h0m2.4 4.1h0m.2-3.4h0m.1 2h0m.3 2.3h0m-167.2 4.9h0m.3 .5h0m1.9 .9h0m.8-1h0m.4-.7h0m1.5 .3h0m0-2.3h0m2.4-.4h0m2.2 2h0m.2-.5h0m.6 .6h0m.1-3.7h0m.8 5h0m.3-4.6h0m.6 2.1h0m.2 .5h0m1.2 2.9h0m.1-.8h0m1.8-3.9h0m.7-.2h0m1.1 3.6h0m.3-.8h0m.1-3h0m.2 0h0m.9-.2h0m1 2.5h0m.5 .7h0m0-2.2h0m.2 3h0m.2-1.1h0m.2-.5h0m.1 1.4h0m.6 .6h0m.2 .3h0m.5-.2h0m.5 0h0m.6-4.1h0m1.1 1h0m1.3 2.3h0m.1 1.6h0m.1-5.5h0m.3 2.6h0m.7-3h0m.5 1.1h0m.1 2.7h0m1.8-.1h0m1-.7h0m.5-.3h0m.5 1.6h0m1.5 .1h0m.2 .8h0m.9-1.6h0m.1 .8h0m1.1-2.9h0m1-.4h0m0 4.5h0m.9-3.2h0m1.2 .6h0m.5 2.9h0m.1-2.2h0m.3 .3h0m.2-.7h0m.8 2.5h0m.4-2.1h0m.9-1.9h0m.3 2.9h0m1.7-3.9h0m1 .7h0m1.9-1.4h0m.5 .1h0m.2 .2h0m.7 3.8h0m1-2.5h0m1.5 1.6h0m.6-.4h0m.7-1.5h0m3.2-.4h0m1.2 .4h0m.1 3.4h0m2.2 .1h0m.3-.7h0m.4-1.1h0m.2 1h0m0-1.3h0m3 2.5h0m1-2.9h0m0 2.9h0m.4-3.1h0m1.3 1.5h0m0 1.3h0m.3 .4h0m.8-3.1h0m.9 2.3h0m.1-.7h0m.7-3.4h0m.1 .9h0m.5 1.2h0m.2 1h0m3.5-.1h0m.8-1.7h0m.8 1.2h0m.2-.6h0m.1 1.2h0m.5-.6h0m1.4 0h0m1.7 .2h0m.4 .4h0m.7-.2h0m1.9-.8h0m1.4 .6h0m.3 1.7h0m.1-4.2h0m1.2 1.2h0m.2 2.5h0m.5-1.2h0m.3-2h0m.3 1.7h0m.7-2h0m.3 2.1h0m1.1-.1h0m1.2 2.9h0m.7-5h0m.3-.3h0m.8 3.5h0m0-2.1h0m.8 3.8h0m.6-.5h0m2.8-1.3h0m.7-2.7h0m1-.8h0m.4 3.4h0m1.3 2h0m.2-2.7h0m.2-.9h0m.1 1h0m.5 1.7h0m.2 .7h0m.8-.5h0m1.7-1.6h0m.2 .7h0m1.3-3.5h0m1-.7h0m.1 4.5h0m.1 .8h0m2.1-2.9h0m1.1-1.8h0m.4 4.8h0m3.2-4.8h0m.3 .1h0m1.4 4.5h0m0-4.8h0m.7 5.4h0m.6-5.6h0m.7 .5h0m.1 4.2h0m.4-1.4h0m.9-1.8h0m.5 .5h0m.4 1.7h0m1.6-2.6h0m.3 2h0m.9-.2h0m.6-1.6h0m.4-.4h0m.2 4.5h0m2.1-3.8h0m.9 3.3h0m.4 .1h0m.3-4.6h0m1 1.3h0m.9-.2h0m.2 3.9h0m.1-1.8h0m2.3-3h0m2.3 .8h0m.2 2.7h0m.1 1.1h0m.3-.5h0m.1-1.8h0m0-1h0m1.8 0h0m.2-.4h0m0-.6h0m.3 4.8h0m0-.6h0m.5-2h0m1.1-3h0m.5 .1h0m.7 3h0m0-.7h0m1.5 3.2h0m1.1-.2h0m1.5-3.4h0m.3-1.3h0m1.1 1.9h0m.2 1.7h0m.2-1.6h0m.2-.6h0m1.4 1h0m1.7 1.1h0m.1-2.7h0m.7 1.9h0m1.4-1.1h0m.3-2.5h0m2.1 4.4h0m1.1-1.7h0m.2 .3h0m1.6 2.1h0m.9-2.5h0m.1 1.1h0m1.3 1.6h0m.7-3.8h0m.1 1.7h0m.4 1.9h0m.3-3.6h0m.6 3.6h0m.1-3.5h0m1.4 3.1h0m2.9-1.4h0m2.6 .8h0m.4-3.9h0m.3 4.3h0m.2-2.6h0m-166.6 5.3h0m.2 2.8h0m2.6-.8h0m.1-1.9h0m1.5-.9h0m.4 3.8h0m1-2.7h0m.2 4h0m0-3.2h0m.1 1.5h0m.3-.7h0m0-.8h0m.4-1.8h0m1.6-.5h0m.2 4.5h0m.5-.9h0m.3 .9h0m1-2.9h0m.3 2.4h0m2.4-3.9h0m1.1 .9h0m.5-.7h0m1.1 4.2h0m.9-3.9h0m.3 2.3h0m.1-2.8h0m0 5.5h0m1.5-1.6h0m.3-1.6h0m0-2.2h0m0 2h0m.5 2.6h0m.4-4.4h0m1.7 4.2h0m.3 .7h0m1.3-4.6h0m.3 2.4h0m.6-1h0m.6 2.2h0m.7-2h0m.4-1h0m2.3 3.2h0m3.8 .5h0m.2-3.6h0m1.7 4h0m1-.4h0m.3-2.1h0m1.6 .6h0m.2-3h0m.1 .7h0m0 3.9h0m.1-2.3h0m.3-.2h0m.2-1.7h0m.1 .2h0m.8 4.5h0m.1-.1h0m1.4 .3h0m.2-3.9h0m.4 2.7h0m.2-1h0m.2 1.2h0m1.3-1.1h0m0-.1h0m.9 1.2h0m1.1-3.2h0m0 .1h0m.8 2.7h0m0-.5h0m.1-1.4h0m.2 2h0m.6-3.8h0m.4 3.7h0m.1-2.6h0m.3 .2h0m.3-1.2h0m.6 4h0m.2-.6h0m.4-1.4h0m.3 1.3h0m1-1.4h0m.4-1.9h0m.6 .6h0m.1 .7h0m1-.3h0m1-.8h0m1.3 4.2h0m0 .4h0m1-2.9h0m0 1.6h0m.2-3.6h0m2 3.6h0m.1 1.5h0m.3-4.9h0m.6 .7h0m0 .1h0m.9 1.8h0m.1-.4h0m2.1-1.5h0m.5 1.8h0m.3 0h0m1.1-.3h0m2-.6h0m.1 .6h0m1.4 1.1h0m.6-3.8h0m.1 1.8h0m0-2.2h0m1.9 3.3h0m.4-1.2h0m2.8 1.3h0m.2-1.9h0m0 .8h0m.8-2.3h0m.3 2.3h0m2-.8h0m0 4.3h0m.1-3.6h0m.1-.8h0m.2 3.2h0m.2-3.3h0m1.5 2.9h0m1-3.4h0m1.6-.5h0m.6 3.8h0m.3 .3h0m.6-1.3h0m2.5 2.6h0m.1-1.5h0m.3-1.3h0m1.8 .8h0m.3 1h0m.2-2.5h0m1.6 2h0m.5-3h0m0 4.5h0m.2 .2h0m.2-2.3h0m.8 .8h0m1.8-1.7h0m.3 1.1h0m.3-3h0m.8 3.9h0m.6-3.7h0m0 4.4h0m.7 .1h0m1.6 .4h0m1.2-5.7h0m.1 .1h0m1 4.1h0m.1 .1h0m.3-2.3h0m.7-.3h0m1.4 0h0m.7 3.7h0m.9-2.1h0m.2 1h0m2.1-1.7h0m1.8-1.4h0m2.7 4.4h0m1.1-4.6h0m2.8 .2h0m.9 4.2h0m1.5-3.5h0m1.2 0h0m.1 .1h0m2.2-.2h0m.7 3.8h0m.7 0h0m2.1-2.1h0m1.1-.5h0m1-3.3h0m.1 3.7h0m.5-3.5h0m1.5 2.5h0m1.8 2.1h0m1 .2h0m.1-3.3h0m.5 1.4h0m.5-2.6h0m1-.3h0m2.1 2.2h0m.8-2.4h0m1.7 3.5h0m.6 .3h0m.4-2.8h0m.1 .4h0m.1-.4h0m.2-.6h0m.1 4.1h0m.8-3.3h0m1 3.9h0m.1-1.3h0m.3-.2h0m.9 .2h0m.7 .7h0m.3-2h0m.2-.8h0m2.2 .9h0m.8-1.6h0m.9 4.3h0m0 .5h0m.9-3.2h0m1.8-1.6h0m.2 4.8h0m1.3-5.6h0m.6 5.1h0m4.2-3.8h0m0 2h0m.9-3.4h0m.7 5h0m1.7-4.9h0m.8 4.3h0m1-4.2h0m.2 4.2h0m1.5-3.3h0m0 2.5h0m2.6-3.1h0m.4-.5h0m0 3.5h0m1.8 1.9h0m0-1.3h0m.1-1.9h0m.1 3.2h0m.1-3.8h0m.1 1.1h0m.6-1.9h0m-168.2 6.5h0m.5 2.1h0m1.1 .2h0m2.7 2.3h0m.2-1.4h0m.5 .9h0m.4-2.5h0m.7-1.3h0m.1 3.2h0m1-3.8h0m.6 3.2h0m.8-3.5h0m.4 4.9h0m0-2.8h0m.6-.6h0m1.1-.3h0m1-1.6h0m.3 4.3h0m.1-2.5h0m1.9-.5h0m0 2.1h0m.8-.8h0m1 0h0m.1 2.6h0m1.5-2h0m2.8-3.3h0m.2 .9h0m.2 2.9h0m.1-2.8h0m1.5 0h0m.1-1h0m.3 4.2h0m1.5 .4h0m.4-3.8h0m.6-1h0m.7 .5h0m.2 1.6h0m.1 3.3h0m.1-1.8h0m.1 2.2h0m.8-3.8h0m.6-1.3h0m.4 4.4h0m2.3 .2h0m.7-4.7h0m.1 5.1h0m.6-1.3h0m1.2-.7h0m.5 .8h0m.1-.3h0m.5-2.4h0m.2 .7h0m.6-1h0m1.4 1.6h0m1.1-2.8h0m.7 2h0m3.5 .8h0m.2 2.1h0m0-.2h0m1.5-3.8h0m.5 .4h0m.1 2.1h0m1.7-2h0m2.1 2.7h0m.6 1.3h0m2.1-3.3h0m.9 2.3h0m.5-2.6h0m.8-.3h0m.1 2.9h0m3.9-.4h0m0-4.3h0m.1 4.8h0m.4 1h0m.3-1.6h0m.5-1.6h0m2.5-2.5h0m.5 4.7h0m.1-4.7h0m0 .8h0m.2 4.8h0m.3-5h0m.5 2.6h0m.2-.2h0m.1 2.3h0m.5-2.6h0m0-2.2h0m.5 2h0m.2-2.5h0m.3 5.3h0m.1-2h0m.4-1.7h0m0 2.6h0m.4-1.4h0m.2 3h0m.1-.1h0m.8-5.1h0m.1-.3h0m.7 1.7h0m.6-.4h0m1-1.4h0m.3 4.1h0m1.5-.5h0m.2-2.9h0m.3 2.7h0m.1-2.5h0m0 2.2h0m1.6 2.3h0m1.7-1.4h0m1.2 1.5h0m.1-.8h0m.1 .9h0m.4 0h0m.4-.9h0m.6-2.7h0m.2-1.8h0m.7 4.9h0m1.2-.1h0m.3-5.2h0m.8 2.4h0m.2 1.2h0m.1 2h0m.7-5.8h0m1.4 3.3h0m.3-.9h0m.4 2.8h0m.5-1.5h0m.3-2.1h0m1.5-.6h0m.3 .2h0m2.3 3.2h0m2 1.3h0m.2 .2h0m.4-4.5h0m.7-.3h0m0 3h0m.3-1.2h0m1.9-2.7h0m.4 5.2h0m1.7 .2h0m3-3.8h0m.8 1.5h0m.2-.8h0m0 3.5h0m1.3-1.5h0m.6-1.8h0m.4 .1h0m.1 1.8h0m1.1 .7h0m.9-2.6h0m.5 3.2h0m.2-2.7h0m1.7 2.2h0m.1-1h0m.9-.9h0m.3-.9h0m.3 .7h0m.1-1.4h0m.4 2.7h0m.5-.8h0m1.2 .1h0m.2-1.5h0m.1 3h0m.5-2h0m.4-2.2h0m.7-1.1h0m.9 1.3h0m.3 2.1h0m.8 2.2h0m4.8-4.2h0m.5 .7h0m.3-1h0m.8 3.1h0m.1-.6h0m.5-1.3h0m.1-.5h0m.9 2.3h0m.4-1.7h0m.7 .7h0m.3-2.9h0m.3 1.3h0m.4 .7h0m.5-.3h0m.6 .6h0m0 3.4h0m.1-2.4h0m.7 1.2h0m.7-3.5h0m1.3 2.5h0m.2-1.3h0m.8-.9h0m2.3 2.7h0m.1-.2h0m0-2.3h0m.5 3h0m1.4-2.4h0m.5-1.8h0m1.3 4.1h0m.9-1.7h0m.1 2.8h0m.3-5.8h0m.6 3.2h0m.5-.6h0m1-2.1h0m.3 2.2h0m.3 .4h0m.2 2.1h0m.4 .2h0m0-1.2h0m.5 1.2h0m0-4.9h0m.9 .8h0m.8-.3h0m.7 .4h0m1 2.9h0m.4-2.9h0m1.2 .2h0m4.7 .5h0m2.1 2.8h0m.5-3.3h0m.1 .1h0m.6 3.2h0m.2-.3h0m.2-1.4h0m.6 2.4h0m1-5.6h0m3 2.7h0m1.3 1.3h0m1.3-.4h0m.2 .9h0m0-1.5h0m.5 1h0m.1-1.3h0m.9-.1h0m.7-2.3h0m.3 2.1h0m1.5 1.1h0m1.7-1h0m.6 3.2h0m.5-5.5h0m.5 2.1h0m-168.4 5.1h0m0 .2h0m1.4 3h0m.2-.3h0m.3-4.1h0m.4 3.3h0m2.1-.9h0m1-.4h0m.8-1.6h0m.2 4.4h0m0-2.8h0m.9-.9h0m.8-1.2h0m1.8 0h0m0 1.6h0m.1 2.8h0m.1-.2h0m.3-.9h0m.7-1.5h0m1.3 1.6h0m.6 1.4h0m1.8 .6h0m2.3-4h0m2.6 .4h0m.1 .2h0m0 2.6h0m.6 0h0m1.2-.4h0m.5 .1h0m.2 1.1h0m.1-2.7h0m0 2.2h0m3.2-2.2h0m.8 2.2h0m.8-.4h0m.6 .2h0m.2-3.4h0m.7 3.1h0m.3 .3h0m.9-4.1h0m2.9 3.2h0m1.2-.4h0m1-1.1h0m.3 2.1h0m2-3.3h0m.2 3.5h0m.2-.2h0m.3-.6h0m1 .8h0m.8-.8h0m.4-1.9h0m.3-1.8h0m.3 1.1h0m1.1 3.7h0m.1-3.6h0m0-.3h0m2 2.1h0m.2 .7h0m.5 0h0m.2-.2h0m.2 .6h0m2.4-1.1h0m.4 .4h0m1.2-2.5h0m0 2.3h0m1-3.3h0m.3 .1h0m2.9 4.8h0m.6-.1h0m1.4-3.6h0m.6 2.1h0m.1-.4h0m.5 .4h0m0 2.5h0m.3-4.5h0m.1 2.7h0m.7 0h0m.1 1.6h0m.8-4.8h0m.1 1.7h0m0 2.9h0m.8-2.1h0m.2-3.1h0m.1 4.3h0m.8-1h0m.7-2.8h0m.6 1.4h0m1.7-2.1h0m.1 3.3h0m.3-3h0m.3 1.4h0m2.9 0h0m0-.6h0m.1 .7h0m1.2-1.9h0m.2 2.3h0m2.4-.1h0m1.3 .8h0m.8 .9h0m1-1.1h0m2.2-2h0m.2 3.5h0m.2-3h0m.4-.4h0m.4 4.2h0m.1-3.8h0m.1 1.5h0m.6-2.5h0m.1 4.9h0m.8-3.7h0m.6 2.4h0m.9-.1h0m1.4-2.2h0m.5-.1h0m1 4.2h0m.7-5.5h0m.3 .1h0m.2 2.5h0m.6-2.6h0m.2 5.6h0m.1-2.7h0m.3 1.3h0m.1-3.3h0m2.5 2.9h0m.7 .9h0m.5-3.3h0m.4 1.6h0m1.5 1.8h0m1.6 .4h0m.6-1.7h0m.2-2.5h0m.1 3.1h0m.1-.9h0m.7-2.2h0m2.4 .8h0m.7 2.1h0m.1 .2h0m.1 .1h0m.6-2.5h0m.2 2.4h0m.1-1.6h0m.3 1h0m.2 .3h0m.3-2.7h0m.1 .4h0m2.3 3.3h0m1.2-3.2h0m.5-1.7h0m.1 4.2h0m1-1.5h0m.2 3.1h0m0-2.2h0m.5 2.2h0m1.3-4.5h0m.4 .5h0m.5 .2h0m.2 3.7h0m1.7-5.7h0m1.2 5.7h0m.2-3.6h0m3-.8h0m.3 .6h0m1.5 3.6h0m.3-4h0m.2 1.2h0m.5-2.2h0m.2 3.4h0m.4 .9h0m1.6-4h0m1 2.5h0m.1-2.5h0m.5-.6h0m.7 5.6h0m1.4-4h0m.4 .6h0m.6 1.3h0m.1-.8h0m1.4 .2h0m.2-1.6h0m2.2-.6h0m1.3 1.9h0m1.6-1.2h0m.9 2h0m1.6 1.4h0m.7-2.2h0m.4 3h0m0-4.8h0m.1 2.9h0m1.9 1.6h0m1-4.3h0m.1 3.5h0m.7 .8h0m0-.6h0m3.2-2.1h0m.2-.2h0m0 2.2h0m1.1 .5h0m.7-.2h0m.2-4.2h0m.1 3.7h0m.5-2.7h0m1.1 1.1h0m1-1.4h0m.8 2.8h0m1.3 1.4h0m.8-2.1h0m.1-.5h0m.2-3.3h0m.8 3.7h0m2 2h0m.2-1.7h0m1.8-3.6h0m.1 .3h0m.4 .4h0m.6 3.5h0m1.7-2.1h0m.6 1.1h0m1.4 .1h0m.5 .4h0m3.3-2.3h0m1.9 1.2h0m1.2-2.3h0m.7 3.8h0m.3-1.9h0m-167.4 6.9h0m.5-1.2h0m.1 3h0m2.1-.4h0m.8 .6h0m1.7-2.7h0m1.3 .3h0m1.6 1.4h0m1.7-2.1h0m.4 3.2h0m.3-2.1h0m.2-3.4h0m0 4.1h0m.8-1.1h0m0 2.6h0m.9-1.2h0m.4 1.2h0m2.2-2.8h0m.9 .5h0m.3 2.6h0m.9-2.5h0m.4-2.4h0m1.1 4.7h0m.8-1.4h0m2-.6h0m1.5-1.6h0m1.1 2.9h0m.7-2h0m.1 1h0m.3-.5h0m1.8 .7h0m.1-2.2h0m1 1.8h0m.5 .4h0m.1-4.1h0m.8 2h0m2.2-2h0m.2 1.4h0m0-.1h0m2.9-.3h0m.7 2.8h0m.2 1.2h0m.3-4.2h0m.6-.3h0m1.2 1.9h0m0 1.9h0m.7-2.3h0m.8-1.6h0m.3 0h0m.3 1.4h0m2.7 3.1h0m.1-3.2h0m.1 1.5h0m.7-2.4h0m1.2 1.8h0m2.3-.7h0m0-.3h0m.7 3.5h0m1.2-3.7h0m.2 1.5h0m.3 1.5h0m.2-1.4h0m.1 1.4h0m2.6-2.4h0m.1-.5h0m0 1h0m.3-2.5h0m1.6 3.7h0m.2 .7h0m.1-1.5h0m2.1-2.7h0m0 3.7h0m1.7-2.5h0m.3 3.9h0m.5-2.6h0m.2-.3h0m.5-1.9h0m.6 2.4h0m.3-2.2h0m0 4.2h0m0-.5h0m2.8-3.3h0m.3 3.7h0m2.2-4.6h0m.5 2h0m2.3-.5h0m.1 2.9h0m1.6 1.1h0m3-3.9h0m1.5 2.7h0m1.8-2.5h0m1.1 2.9h0m2.1-3.5h0m0 1h0m.4-2.2h0m2.3 0h0m.1 4.4h0m1.3-.7h0m.2-3.4h0m.2-.2h0m.7 2.7h0m1.7-2.1h0m1.1 3.7h0m.6-3.7h0m.4 3h0m1.6 .5h0m1.2 .1h0m1.1-4.3h0m.7 1.2h0m.4 .3h0m1.5 .2h0m1.1 1.2h0m.6-1.9h0m0 3.3h0m.1-1.3h0m.1 1h0m.1-3h0m.6-.6h0m.9 1.8h0m.4 1.5h0m.8-.4h0m.9-2.8h0m.4 4.7h0m2-.7h0m.1-2.2h0m.3-2.6h0m2.1 3.5h0m2 .7h0m1.2-.5h0m.3-1.9h0m0 1.1h0m.6 .4h0m.4 1.7h0m.3-.5h0m.1-1h0m.7-2.7h0m.4 4.3h0m.1-3.7h0m.1-.7h0m.9 2.6h0m1 2.3h0m0-4.9h0m.5 .3h0m1.7 4.8h0m1.5-.5h0m0-2.3h0m1.2-2.6h0m.5-.3h0m.4 5.3h0m.2-2.5h0m.5 2.3h0m0-4.8h0m.6 .9h0m3.3 .8h0m.8-.4h0m.1-.1h0m1.4 4.3h0m.2-1.2h0m.3-1.9h0m.6-.6h0m.1 .3h0m.3 2.8h0m0-4.2h0m.2 2.8h0m.4 1.3h0m.1-2.1h0m0 1h0m.7-1.5h0m.5 2.3h0m.2-1.9h0m.4 2.5h0m2-5h0m.1 4.8h0m.5-2.2h0m.4 2.8h0m.8-.7h0m0-2.8h0m.6 1h0m.5-1.8h0m.3 .1h0m.7 2.7h0m1.7-1.2h0m.2-2h0m1.6 2.8h0m1-3.8h0m3.3-.2h0m.6 .3h0m1.3 .3h0m.2 5.3h0m2.1-.6h0m0-4.3h0m.6 3.3h0m.9-2.7h0m.2-1.1h0m.2 2.7h0m1.8 2.1h0m1.7-5.1h0m1-.1h0m1.3 2.2h0m.6-1.3h0m1.9 .8h0m2.6 3.7h0m.6-3.1h0m2.5-2.5h0m.1 2.9h0m.3-2.1h0m1.5 .5h0m.3 .4h0m.6 3.7h0m.5-.8h0m-166 1.6h0m2.5 1.6h0m2.9-1.1h0m.6 1h0m.2 .8h0m.2-.4h0m1.1-.2h0m.2 .1h0m1.5-1.8h0m.7 2.4h0m5.1-.2h0m.4-1.4h0m2.6 .1h0m1.1 .6h0m.3-1.2h0m.1 .3h0m2.1 1.6h0m2-.5h0m3.9 .6h0m.3-.3h0m2.7 .5h0m.6-2.2h0m5.1 1.5h0m.5 .6h0m.7-1.7h0m4 .5h0m1.3 .5h0m.7-1.5h0m.6-.2h0m1.5 0h0m.1 1.8h0m.7-1.4h0m.8-.5h0m3.7 1.9h0m3.1-1.1h0m2.6-.5h0m.1 0h0m4.8 1.7h0m.7-.3h0m1.3-.9h0m.6 1h0m.1 .6h0m2.6-2.5h0m3.6 0h0m1.3 1.7h0m2.5-.9h0m1.5 1.7h0m1.8-1.3h0m2.1 .7h0m0 .4h0m5.9-1h0m1.8-.5h0m.1 0h0m.8 .3h0m.4 .9h0m3.1-.2h0m1.1-1.6h0m1.6 2.3h0m.2-1.7h0m.9 1.9h0m.5-1.1h0m.3 .6h0m.4 0h0m1.8 .2h0m1.2-.4h0m1 .5h0m2-.3h0m.8-.7h0m.4-.7h0m.1-.1h0m0 1.9h0m2.1-2.6h0m2.1 2h0m1-.5h0m1 .3h0m.3-1.1h0m2.6 .3h0m2.2-.8h0m2.2 .8h0m.6 .2h0m2.3-.2h0m.7 1.7h0m0-1.9h0m0 1.4h0m1.8-1.7h0m1.2 1.2h0m1.7-.9h0m.5 1.1h0m3.3-1.5h0m2.1 .2h0m1.6 0h0m0 1h0m2.3-1h0m2.7 .2h0m.1-.1h0m5.9 .2h0m.8 .5h0m1.4 .6h0m4.6-1.8h0m1.9 .3h0m3 2h0m1.7-1.9h0m6.9 .2h0m.5 2h0" stroke="#f9f9ea" stroke-width="1.6" stroke-linecap="round"/><path d="M386.4 416.6h0m38.8-.1h0m24.7-.3h0m13.1 .2h0m12.4-.2h0m19.1-.2h0m20.8 .7h0m2-.8h0m-127.2 4.8h0m3.7-.1h0m3.9-2.3h0m.7-.2h0m3.7 1.8h0m1.9 2.2h0m.6-1.8h0m3.7 1.3h0m3.8 .1h0m.8-2.6h0m.4 3.5h0m.8-1.9h0m.5 .4h0m2.4-.6h0m12 1.5h0m.1-2.5h0m2.3 .4h0m.7-.4h0m2.2-2.3h0m.3 3.6h0m2.4-2.2h0m.8 .6h0m.6 .2h0m2.3 2.5h0m3.9-3.7h0m2.2-.8h0m6.9 .3h0m2.9 4.3h0m2.1-2.3h0m2.3 1h0m.7-3.4h0m7.5 2.6h0m4.5-2.7h0m1.1 2.2h0m7.6 2.4h0m1.2 .9h0m7.7-.5h0m2.6-4.8h0m1.4 4.4h0m2.3-1.6h0m6.8 2.4h0m11-2.7h0m2 1.2h0m2-2h0m1.9 2.2h0m4.4 .5h0m6.2 .1h0m2.5-3.5h0m.2 3.6h0m1.8-3.8h0m10.1 4.5h0m4.4-2.1h0m.5-1.9h0m-167.1 8.4h0m.9-3.1h0m.3 3.1h0m.6-1.6h0m7.4-2.2h0m3.8 1.3h0m1.5 4.3h0m5.7-4.3h0m1.5 3.1h0m6.3-4.7h0m.3 4.2h0m4.5-3.6h0m.4 1.2h0m1-.3h0m5.3 3.4h0m8.5-3.8h0m4.4 2.7h0m1.2-.1h0m1.7-1.2h0m8.4 3.2h0m.7-.5h0m1.6-3h0m1.2 .6h0m1.6 2.7h0m.2 .3h0m2-.3h0m0-.5h0m.8-2.8h0m4.8-1.3h0m4.4 .9h0m.7 .8h0m4.9 .5h0m4.1-1.6h0m3.5 .2h0m.5-.3h0m2.2-.2h0m.9 .3h0m.3 3.3h0m4.4-3.1h0m4.8 2.6h0m1.8 .3h0m2.6-3.1h0m.3 3.4h0m2.6-4.8h0m2.6 3.8h0m.5 .4h0m.7 .9h0m3 .5h0m8.6-.8h0m4.1 .5h0m3.7-5.2h0m.4 4.3h0m5.6-2.7h0m1.3-1.3h0m16.9 2.6h0m4.2-3h0m-162.2 9.8h0m2.4-2.6h0m2.5-.4h0m2.4 2.9h0m.7-.1h0m3.3 1.9h0m.4-4.6h0m1.7-.1h0m.7-.3h0m5.1 4.6h0m2-.9h0m0-2.8h0m3.2 .8h0m3.1 2.7h0m.9-.3h0m4.4 .1h0m11.6-.3h0m.3-1.2h0m5.6 1h0m6.3 1.2h0m1.9-.1h0m.8-4.7h0m1.3 2.9h0m2.1-1.3h0m2.8-1h0m.8 1.6h0m2.2-1.8h0m1.6 2.6h0m4.5-2.4h0m4.9 1.7h0m5.8 1.4h0m.3-3.3h0m2.8 4.1h0m4-3.3h0m3.6 2.9h0m2-3.3h0m0 3.2h0m1.1 .3h0m3-4h0m2.3 2.7h0m10.7-2h0m3.7 1.4h0m8.5 2h0m.4-4.8h0m5.8 .5h0m7.2 3.3h0m1.4 .5h0m1-4.1h0m4.8 .6h0m.3 2h0m.1 1.1h0m1.7-3.2h0m5.1 .2h0m-156.5 8.7h0m3.4-2h0m10.2-1.4h0m5.8 2.1h0m2.2-.3h0m3.9 1.4h0m8.1 1.5h0m.2-3.2h0m1 3.3h0m5.9-.4h0m2.7-4.7h0m7.3 .2h0m8.2 3.3h0m4.1-.7h0m11.8 1.4h0m.3 1.2h0m8.7-4.2h0m1.5 3.6h0m1.7-.8h0m4-2.5h0m3.3 3.5h0m1.4-2.7h0m.5-.4h0m3.3 3.7h0m.7-.9h0m2.4-2.5h0m5 1.7h0m2.9 1.3h0m8-2.5h0m0 0h0m12.4-.4h0m1.7-1.6h0m3 .6h0m8.6 1.2h0m4.3 2.3h0m6.7-2.7h0m2.7 2.2h0m5.7 1.4h0m2-5.2h0m-159.7 6.4h0m3.4-.1h0m11.5 2.8h0m1.7-3.1h0m4.8 .9h0m.7 2.3h0m3.8 .3h0m.7 .6h0m5.1-.8h0m2.4-.8h0m5.3 .8h0m1.5-1.4h0m0 2.9h0m3.8-4.7h0m.8 .3h0m5.1-.5h0m5.2 2.4h0m8 1.4h0m2.7 .3h0m2.7-3.2h0m2.5 0h0m9 3.9h0m2.4-3.3h0m2.1 3.1h0m5.3 .6h0m1.9-3.5h0m3.5-.7h0m3.6 3.7h0m.5-3.9h0m9.8-1.1h0m13.2 .5h0m6.6 2.3h0m2.5 2.2h0m8.8-.6h0m1.7 0h0m2.2 .4h0m4-1.3h0m2.8-.8h0m.6-.5h0m-160.8 5.7h0m.3-.4h0m2.3 1.2h0m1.4-2.6h0m4.2 5.3h0m1.2-3.6h0m9.3 2.4h0m.8-3.2h0m.3-1.3h0m.9 5.1h0m.8 .9h0m14.4-5.5h0m7.9 .3h0m1 4.1h0m2.8-3.2h0m.8 1.4h0m0-.5h0m1.3-1.8h0m2.7 3.5h0m1.1-4.2h0m.5 1.4h0m10.1-.1h0m4.2 .3h0m2.8 4.2h0m2.7-.1h0m7.1-4.5h0m6.6-.7h0m1.3 4.1h0m.9-3.7h0m1.4 4.4h0m1.7-2h0m2.2-2.9h0m6.9 2h0m1.3 1h0m1.9 1.9h0m.2-.1h0m.7-5.1h0m4.3 2h0m1.3-.4h0m3.7 .6h0m.9 .4h0m3.4 1.4h0m1.8-1.6h0m4.3-2.3h0m.6 4.2h0m3.6-2.2h0m2 1.8h0m.8-2.2h0m.4 .1h0m.1 1.3h0m.1-3.1h0m1 .1h0m3.3 2.8h0m2.7-2.1h0m.1 1.8h0m4.2 2.8h0m2.9-1.1h0m6.8-2.9h0m4.3 3.4h0m3.6 .5h0m2-2.3h0m.6 .1h0m.1-3h0m2.1 4.2h0m-155.3 3.4h0m2.8-1.2h0m9 2.9h0m1.2-.5h0m1.5-.4h0m.3 2.6h0m1.6-2.2h0m0 1.7h0m4.6-3.8h0m.2-.7h0m.4 .8h0m10.5 1.5h0m4.6 2.3h0m.1-2.8h0m1.3 2h0m.2 1.8h0m8.5-5.4h0m11.5 .8h0m.3-1h0m.2 2.8h0m2.6-1.4h0m.9 2.7h0m8.4-.4h0m1-3.9h0m1.5 1.7h0m5.8-.3h0m.6 3.2h0m1.2-3.6h0m.6 .1h0m3.9 4h0m5-.9h0m2.5-4.2h0m2.3 3.2h0m1.1-1.4h0m5.2 .1h0m2.6 .6h0m.8 .7h0m2.6-2.9h0m1.9 3.8h0m1.8-3.5h0m4.2 3.6h0m10.1-3.2h0m17.7 4.7h0m.6-3.5h0m9.8 1.5h0m1.3-2.7h0m-161.4 6.6h0m2.8 2.7h0m.6-4.2h0m1 .3h0m1.1 1.5h0m.1 1.1h0m3.3-2.3h0m.5-.7h0m.6 5.4h0m7.1-4.2h0m2.3-.9h0m5.7 1.4h0m.2 .7h0m4 2.5h0m2.2 .5h0m1.7 .1h0m1.2 .1h0m3.2-1.4h0m1.4-1.4h0m2.8 2.4h0m1.2 .6h0m1.7-4.9h0m3.4-.6h0m3.2 3h0m11.3-1.7h0m5.7 1.5h0m.2 .4h0m.2-.5h0m4.3-.6h0m1.4 .3h0m3.9 2.5h0m.3-4.7h0m.6 4.5h0m1.4-1.7h0m1.6 1.8h0m1.7 .7h0m4-3.8h0m2.7 3.1h0m2.1-.9h0m7-4.2h0m1.4 4.6h0m.1-3.2h0m4.5-.4h0m0 .8h0m5.1 3h0m6.2-.4h0m1.9-1h0m6.5-1.4h0m.5 .2h0m5.9 .6h0m2.2-.6h0m10 .3h0m2.2-2.4h0m1.2 4.6h0m13.5-2.2h0m-164 7.5h0m10.7 1.1h0m1.6-2.4h0m1.7-.1h0m.1-.7h0m2.4-.4h0m10.6-.3h0m3.5 2.6h0m1 .3h0m7.1-3.7h0m1.6 1.9h0m.2-.5h0m4.5-1.5h0m1.3 .3h0m1.5 .7h0m.1 1.4h0m1.8 1.1h0m.9-1.6h0m2.6 .6h0m6.3-2.6h0m3.9 3.3h0m9.3-1.9h0m.6 .7h0m2.6 3.2h0m1.6-4h0m.9 2.9h0m.1-1.5h0m4.5-1.9h0m1.1 4.2h0m4.5-.4h0m2.9-1.7h0m.3-2.1h0m1.8 .1h0m.2 1.3h0m2.1-2.2h0m2.2 2.6h0m2 2.8h0m3.1-5.5h0m2.4 .8h0m11.8 3.4h0m1.6-1.7h0m4.4-.5h0m2.2 3.7h0m.6-.3h0m3.1-2.2h0m4.1-3.3h0m5.1 3.8h0m2.6-2.5h0m4.3 1.4h0m.5-2.7h0m5.9 .3h0m5.9 2.5h0m5.3 2.5h0m.5-.4h0m-162.4 4.4h0m4.3-.2h0m.1 1.4h0m3.2-2.1h0m.5 .2h0m2.4 1h0m5.9 1.9h0m4.4-3.3h0m3.5 3.3h0m2.5-1.3h0m1.3-1.3h0m2.4 1.2h0m1.3-2.2h0m1.4 2.1h0m1.9-3.6h0m2-.2h0m.3 3.9h0m4.9-3.5h0m3 .4h0m.8 1.7h0m.8-1.3h0m.1 3.5h0m8.6-1.9h0m2.6 .4h0m13.4-1.6h0m4.9 0h0m5.3 3h0m.9 .9h0m2.7-1.4h0m.6-3.5h0m6.6 3.6h0m.4-4.1h0m2.8 2.5h0m.2 .8h0m7 .4h0m0-2.7h0m.9 4.5h0m.3-1h0m8.6-3.7h0m7.7 2.2h0m2.8 .6h0m1.6-1.2h0m.8-1.3h0m3.9 1.3h0m8.7-.4h0m2.2 3.5h0m3.3-2.1h0m.4-.7h0m2 .5h0m4.4 .8h0m.1-1.7h0m1.7 1.6h0m3.8-.5h0m2.9-1.1h0m-157.5 7.6h0m2.5-2.9h0m1.6 0h0m5.3 .9h0m2.4-1.8h0m1.4 .2h0m4.6 3.6h0m1.3-.5h0m1.9-.4h0m4.5 1.2h0m4.2-1.2h0m2.7 2.5h0m6.8-4h0m2.6 1.7h0m.5-2.6h0m2.1 4h0m.6-1.3h0m4.5 .5h0m2.4-3.4h0m.1 3.3h0m1-.1h0m.6-2.1h0m2.8 4h0m7.4-2.1h0m6.2-.8h0m1.1-2.5h0m3.2-.3h0m3.6 1.7h0m.4-1.3h0m.4 1.7h0m2.5 3.2h0m4-1.5h0m3.2 1.3h0m5.7-1.5h0m.2 .1h0m1.6-3.4h0m3.5 4.5h0m9.1-4.3h0m.3 1.7h0m6-2.3h0m1.1 .7h0m1.6 2.2h0m2.7 2.4h0m1.4-2.8h0m.2-2.4h0m9.5 1.4h0m1.9 .9h0m4 3.4h0m2.6-.4h0m.2-3.3h0m1.6-1.1h0m4.4 2.1h0m4.5-.7h0m1.5 .5h0m2.9-.7h0m.9 1.8h0m2.4 .2h0m.9 1.3h0m2.6-3h0m0 2.1h0m-161.6 6.3h0m8.6-4.3h0m2.5 4.6h0m1.6-4.4h0m9.1-.1h0m1.5 2.8h0m4.7 2.2h0m1.1-4.1h0m3 2.8h0m1.7-4h0m6.2 1.1h0m1.1 1.1h0m.5 .5h0m2.3-1.1h0m.5 .3h0m4.4 1.6h0m1-3.1h0m2.3 4.9h0m9.2-2.3h0m3-1h0m4.6-.8h0m2.1 4.1h0m2.1-1.5h0m1.1-.6h0m.4 1.6h0m5.2-.7h0m.4-2.1h0m3 2.2h0m2.2-2.8h0m1.7 .7h0m2.9 2.3h0m4.9-2.7h0m0 .5h0m12.7-.8h0m.9 1.3h0m6.4-1h0m0-.3h0m2.4 3h0m1.7-3h0m1.9 2.2h0m.6-2.1h0m3.3-1.3h0m2.3 0h0m1.4 .1h0m5.4 4.5h0m15.6-5h0m4.6 4.3h0m1.6 .1h0m6.9-2.8h0m-166.9 4.7h0m.8 4.2h0m3.7-4h0m1.1 5.2h0m12.2-.6h0m27.4-.6h0m5.8-2.1h0m4.5 2.1h0m1.5-1h0m5.3-3h0m1.3-.6h0m2.5 2.3h0m1.1 3.2h0m4.6-5.5h0m4.1 3.9h0m3.2-1.1h0m4.5 .6h0m7.6-1h0m.3 2.9h0m4.8-2.9h0m10-1.4h0m.8-.4h0m14.9 3.3h0m2.2 .1h0m.1 1.3h0m1.9-1.3h0m.2-1.4h0m2.7-2.5h0m1.5 1.9h0m3 2.6h0m6.8-.8h0m6.1 1.7h0m2.3-1h0m1 .6h0m.1-.7h0m.7-2.2h0m-144.4 6.5h0m7.5 3h0m1.2-2.7h0m12.2 .4h0m.7 2.3h0m4.6-.7h0m7.8-4.4h0m9.4 2.8h0m3.2-3.3h0m3.3 5.4h0m4.5-.1h0m.4-4.3h0m12.6 4.7h0m2.1-1h0m3.7-2.3h0m22.1-.1h0m13.7 .1h0m1.3-1h0m1.4-.7h0m8.7 3h0m.1 .3h0m9.4-.6h0m5.5-3.2h0m.7 3.2h0m1.8-2.1h0m2.6 2.3h0m.3 1.3h0m.7-1.3h0m3.3 1.6h0m1.4-4.1h0m.6 .7h0m.4-.2h0m.2 .9h0m4.8 1.8h0m.5-.7h0m.8-1.9h0m2.5 3.7h0m4.2-3.5h0m-149.9 5.4h0m2-.6h0m3.8 .8h0m9.2-.6h0m12.1 1h0m26.9-1.8h0m29 1.3h0m28.7 .4h0m4.2-1.3h0m7-.7h0m3.4 .3h0m13.8 2.2h0m2.4-1.5h0m.9-.3h0m1.6 .3h0m1.9-.9h0" stroke="#fcfcf2" stroke-width="2.4" stroke-linecap="round"/><path d="M520.2 416h0m-120.4 2.6h0m4.1 .3h0m11.1 .3h0m6.7 3.8h0m2.5-.2h0m8-.1h0m75.1-2.8h0m22.2 .4h0m2.6 1.2h0m2.4 1.2h0m2.8-4.2h0m3.1 1.3h0m-153.4 5.2h0m6.5 1.4h0m9.2-2.2h0m5.8 4.4h0m5.4-.5h0m2.2-1h0m26.6-3.5h0m7.1 1.3h0m32.2-.1h0m10-1.1h0m33.6 3h0m4.9-2.8h0m-133 9.1h0m48.3-.1h0m42.3-2.3h0m4.3 4.2h0m12.5-3.1h0m8.4-1.9h0m17.4 3.1h0m7.3 1h0m-133.4 3.3h0m31.4-.6h0m8.1-1.6h0m13.5 1.8h0m20.7-.4h0m7.8 2.6h0m.4-.5h0m12.5 1.4h0m5.4 .5h0m7-4.9h0m10.3 .9h0m3.3 3.3h0m23.6-2.9h0m-157.6 4.3h0m37.4 5h0m9.4-2.6h0m1.5-1h0m26.9 3.9h0m8.4-2.1h0m1.8-2.5h0m3 3.8h0m4.3-3h0m42 .9h0m9.2-2.3h0m4.1 .9h0m13.1 4.3h0m-147.3 .6h0m3.2 .1h0m.9 4h0m5.8-2.7h0m50.4-.1h0m.9 .5h0m4-1.5h0m6.6 1.9h0m18-1h0m4.9-1h0m11.4 4.2h0m9.2-.3h0m5.4-1.2h0m-117.4 5.3h0m12.3-1.1h0m48.5 1.6h0m33.5-2.2h0m3.1 4.9h0m11.6-3.6h0m2.8 3.9h0m2.4-4.4h0m.1 2.1h0m13.3-2.3h0m-150.8 8.2h0m7 .8h0m17.8 .9h0m10.7-.8h0m6.8-2.4h0m8.6 3.7h0m13.9-4.4h0m42.9 1h0m10.9 1.2h0m9.6-.5h0m15.7-2.4h0m14.7 3.5h0m.3-2.2h0m-159.5 6h0m17.7 0h0m4.2 .4h0m20.2-1.3h0m2.5 2.3h0m3.5-.4h0m27.8 1.9h0m55.6-1.7h0m-130.9 8h0m22-3.6h0m4.7 0h0m1.3 4.4h0m2.3-3.4h0m2.6 3.1h0m14.3-1.3h0m1.8-3.8h0m9.8 4.2h0m29.9-3.5h0m33.8-.6h0m3.8 1.6h0m12.8-.4h0m8 3.4h0m7.7-2.2h0m4.2 2h0m4-.4h0m-114.9 7.4h0m2.7-3.2h0m34 1.8h0m14.7-2h0m2.9 .4h0m24.3 .2h0m20.5 2.9h0m-132.4 2.2h0m37.7-1h0m15.9 3.4h0m6.9 .4h0m21.5-4.4h0m32.7 .3h0m-121.2 6.7h0m21.8 2.1h0m3.2 1.3h0m15.4-4.7h0m2.8 4.5h0m15.1 .7h0m11.4-.7h0m39-2.4h0m16.1-.3h0m-119.9 6h0m34.9 4h0m6.2-5.3h0m6.9 .4h0m8.7-1h0m1.5 1.9h0m24.7 3.1h0m14-3.4h0m10.9-.6h0m29.1-.2h0m13.3 4.7h0m-144.1 1.1h0m2.4-.6h0m27.8 2.6h0m27-.7h0m19.6-.5h0m5.5-1.3h0m5.6 1h0" stroke="#fefefa" stroke-width="3.2" stroke-linecap="round"/><path d="M400.3 419h0m17 2.6h0m12.2-2h0m23.8 .8h0m2.8-.9h0m-47.1 9.5h0m83-2h0m15.5-1.7h0m-107.7 7.2h0m20.1-1.5h0m34.2-1.4h0m-61.4 9.9h0m17.1-1.3h0m77.4 .7h0m6.5 1.8h0m10.7-4.1h0m-19.8 4.5h0m8.8 8.3h0m-108.4 9.4h0m18.7-4.6h0m74.2-.1h0m6.4 1.4h0m3.6 3.5h0m1.7-2.1h0m-65.3 2.7h0m34.5 2.4h0m39 .2h0m14 .1h0m9.7 .9h0m2.8-4.1h0m4.7 4.4h0m5.1-3.3h0m14.2 2.6h0m-159.2 4.5h0m10.1-2.3h0m24.4 .2h0m35.4 .6h0m40.9 4.1h0m20.7 1h0m-130 3.9h0m31.2-1.5h0m46.1 2.4h0m12.1 .6h0m14.1-3.6h0m25.1 9.2h0m-123.6 6h0m4.9-1.1h0m22.9-1.8h0m-19.5 8.9h0m62 .7h0m16.3-2h0m27 1.7h0m33 .6h0m-123.4 3.9h0m3.9 .7h0m79.3-2h0m45-.9h0m-76.2 5h0m41.5 .9h0m24.8-.6h0" stroke="#e07a95" stroke-width="0.8" stroke-linecap="round"/><path d="M387,499.3H405" stroke="#555" stroke-width="0.6" opacity="0.7"/></g></g>
<line x1="529.3" y1="490.2" x2="544.7" y2="490.2" stroke="#333" stroke-width="0.8"/>
<text x="537.5" y="500.2" font-size="8.2" text-anchor="middle" font-weight="bold" fill="#111" style="" >100 µm</text>
</svg>
</body></html>
